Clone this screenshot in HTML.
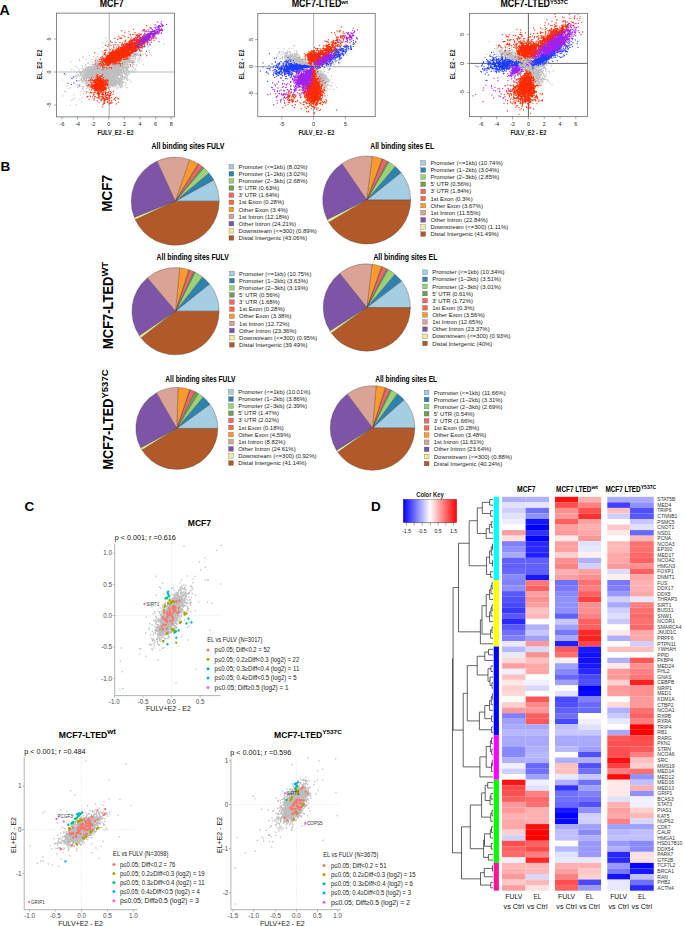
<!DOCTYPE html>
<html><head><meta charset="utf-8"><title>Figure</title>
<style>html,body{margin:0;padding:0;background:#fff;width:685px;height:926px;overflow:hidden}
svg text{font-family:"Liberation Sans",sans-serif}</style></head>
<body><svg width="685" height="926" viewBox="0 0 685 926" style="position:absolute;left:0;top:0;font-family:'Liberation Sans',sans-serif"><text x="-0.50" y="15.00" font-size="14.2" font-weight="bold" >A</text>
<text x="0.50" y="171.00" font-size="13.5" font-weight="bold" >B</text>
<text x="24.50" y="511.30" font-size="13.5" font-weight="bold" >C</text>
<text x="371.00" y="511.20" font-size="13.5" font-weight="bold" >D</text>
<line x1="109.20" y1="13.10" x2="109.20" y2="116.90" stroke="#bbb" stroke-width="1.2" />
<line x1="56.40" y1="72.00" x2="174.50" y2="72.00" stroke="#bbb" stroke-width="1.2" />
<path transform="scale(0.333333)" d="M401 104h0m-9 0h0m-36 13h0m19 8h0m3-6h0m10 0h0m9 2h0m2-2h0m3 3h0m1 0h0m1 1h0m6-1h0m7-6h0m0 8h0m8 1h0m1-12h0m0 9h0m8 2h0m6-4h0m4-6h0m2 27h0m-13 1h0m-2-13h0m-1 6h0m-2-8h0m-1 4h0m-4-3h0m-1 1h0m-2 4h0m0-6h0m-1 1h0m0 10h0m-1-11h0m-1 1h0m-2 6h0m-1 2h0m-3-9h0m-1 13h0m-1 2h0m-1-7h0m-1-5h0m-1 7h0m-1 0h0m-1 6h0m-2-2h0m0-2h0m-1 0h0m0-4h0m-2-3h0m-1 10h0m-1-8h0m-1-1h0m-2-1h0m0 4h0m0 4h0m0-1h0m0-11h0m-1 11h0m-1 3h0m-1-6h0m-2 7h0m-2-4h0m0-1h0m-1-1h0m-1 2h0m-1 4h0m-2-5h0m0-10h0m-1-2h0m0 17h0m-2-4h0m0-9h0m-1 11h0m-1-6h0m0 4h0m0 4h0m0-1h0m-1-2h0m0-8h0m-1 2h0m-1 0h0m0 5h0m-1-6h0m0 9h0m0-4h0m-2-1h0m0-11h0m-1 12h0m-2 3h0m0-4h0m-1 4h0m-1 0h0m0-1h0m0-10h0m-3 12h0m-1-2h0m-4-1h0m-3-4h0m-5 6h0m-1-1h0m-7 1h0m-11-5h0m-36 9h0m10 9h0m18 5h0m5-1h0m1-8h0m1-2h0m0 6h0m5 5h0m0-5h0m0-9h0m1 11h0m2 0h0m1 1h0m0 2h0m1-13h0m0 3h0m0 3h0m1-8h0m0 16h0m1-5h0m1-7h0m0 12h0m1-3h0m0-1h0m0 5h0m0-9h0m1 8h0m1 1h0m0-6h0m0-1h0m2-1h0m0-9h0m1 4h0m0 11h0m0-8h0m0 4h0m0-1h0m1 1h0m0 6h0m1 0h0m0-2h0m1-4h0m0 5h0m1-5h0m0-8h0m1 4h0m0 2h0m0-1h0m0-8h0m0 15h0m1-1h0m0 1h0m0 2h0m1-5h0m0 2h0m0 2h0m1-2h0m0-11h0m0 14h0m1-7h0m0-10h0m0 12h0m0 3h0m0 2h0m1 0h0m0-17h0m0 11h0m1 5h0m0 1h0m1-5h0m0 2h0m1 3h0m0-6h0m0-9h0m1 2h0m0 11h0m2-2h0m0-11h0m1 13h0m0 2h0m0-10h0m1 0h0m0 1h0m0 3h0m0 1h0m0-10h0m1 12h0m0 2h0m1-5h0m0-1h0m0 7h0m1-4h0m0-9h0m0 12h0m0-1h0m1-3h0m0-1h0m0 2h0m0-10h0m0 14h0m1-4h0m0 3h0m0 1h0m1 0h0m0-7h0m1-1h0m1 4h0m0-1h0m0-11h0m0 8h0m1-4h0m0 1h0m1 7h0m0-11h0m0 15h0m0-16h0m1 11h0m0 2h0m1-10h0m0 2h0m0 1h0m1 9h0m0-5h0m0-11h0m0 12h0m1-9h0m0 8h0m0 3h0m1-4h0m0 3h0m1-4h0m0 2h0m1-1h0m0 3h0m0 2h0m1-2h0m0 1h0m0-8h0m1 6h0m0-7h0m1 3h0m0-8h0m0 6h0m2 8h0m0-1h0m0-4h0m1 7h0m1-15h0m0 11h0m0 2h0m1-3h0m0-9h0m0 14h0m1-3h0m0-8h0m0 5h0m1 2h0m0-9h0m1 6h0m2-2h0m0 1h0m0 6h0m1-11h0m1 12h0m0-10h0m0 7h0m1-2h0m0 4h0m1 2h0m1-12h0m0 2h0m1 1h0m0-5h0m1 0h0m0 14h0m0-11h0m1 1h0m1 11h0m0-1h0m1-14h0m0-1h0m1 13h0m0-10h0m0 1h0m1 11h0m0-16h0m1 0h0m0 16h0m1-8h0m0-1h0m1-3h0m0-1h0m0 14h0m4-3h0m5-9h0m1 5h0m0 7h0m2-10h0m1 3h0m2-1h0m9 8h0m11-9h0m2 6h0m-11 13h0m-1-7h0m-8 0h0m-6 7h0m-1-6h0m-2-3h0m0 14h0m0-9h0m-1 0h0m-1 10h0m-1-13h0m-1 1h0m0 1h0m-3 10h0m-1-12h0m-1 3h0m-2-3h0m-1 1h0m-1 9h0m0-10h0m-1 13h0m0-9h0m-1 2h0m-1 8h0m-2-15h0m0 8h0m-1-4h0m-1 0h0m0 3h0m-1 1h0m0 2h0m0 3h0m-1-5h0m0-1h0m0-5h0m0 1h0m-3 9h0m0-9h0m0 3h0m-1-1h0m0-6h0m-1 4h0m-1 11h0m0-10h0m-1 2h0m0 2h0m0-8h0m-1 4h0m0 2h0m0-6h0m0 13h0m0-12h0m-1 0h0m0 2h0m0 3h0m0 9h0m0-10h0m-1 11h0m0-9h0m0 4h0m-1-12h0m0 2h0m0 11h0m0-6h0m-1 8h0m0-10h0m0 12h0m0-11h0m0 4h0m-1 3h0m0-9h0m0 13h0m0-10h0m0 3h0m0-10h0m-1 11h0m0-8h0m0 2h0m-2-2h0m0 12h0m0-10h0m-1 7h0m0 1h0m0-9h0m-1 4h0m0-8h0m-1 14h0m0-12h0m0 3h0m0 2h0m0 9h0m-1-6h0m0 2h0m0-1h0m0-10h0m0 14h0m0-1h0m0-8h0m-1 9h0m0-8h0m0-1h0m0 4h0m0-8h0m0 12h0m0-1h0m0-10h0m-1 6h0m0 3h0m0-11h0m0 1h0m0 3h0m0 9h0m0-10h0m0 2h0m-1 9h0m0-9h0m0 2h0m0 1h0m0 2h0m-1-9h0m0 13h0m0-8h0m0 9h0m0-16h0m0 12h0m0-11h0m0 13h0m0-1h0m-1-11h0m0 9h0m0 3h0m0-9h0m0-1h0m0 3h0m0 2h0m0-1h0m-1-6h0m0 6h0m0-7h0m0 12h0m-1 4h0m0-9h0m0-1h0m0 5h0m0-1h0m-1-2h0m0 2h0m0-10h0m0 6h0m0-7h0m-1 11h0m0 4h0m0-10h0m0-1h0m0 13h0m0-5h0m-1-1h0m0-8h0m0 12h0m0-11h0m0 12h0m-1-7h0m0 2h0m0-10h0m0 12h0m0-11h0m0 3h0m0 12h0m0-1h0m0-16h0m-1 0h0m0 12h0m0-10h0m0 3h0m-1 5h0m0-10h0m0 11h0m0-10h0m0 2h0m0 1h0m-1-3h0m0 13h0m0-11h0m0-1h0m0 14h0m0-8h0m-1 0h0m0-8h0m0 9h0m0-8h0m0 14h0m0-10h0m0 9h0m-1-5h0m0-4h0m0 11h0m-1-11h0m0 11h0m0-7h0m0-1h0m0 3h0m0 3h0m-1-7h0m0 9h0m0-8h0m0-6h0m0 11h0m0 2h0m-1-10h0m0 2h0m0 2h0m0 2h0m0-11h0m0 13h0m0-10h0m0 14h0m-1-12h0m0 12h0m0-11h0m0 4h0m0 1h0m0 2h0m-1-9h0m0 12h0m0-4h0m0 1h0m-1-2h0m0-8h0m0 12h0m0-10h0m0 2h0m0 9h0m0-7h0m-1-7h0m0 3h0m0 3h0m0 2h0m0-9h0m0 12h0m-1-1h0m0-1h0m0-8h0m0 2h0m0 12h0m0-7h0m-1 3h0m0-11h0m0 12h0m0 3h0m0-1h0m0-10h0m0 3h0m-1 4h0m0-11h0m0 13h0m0-9h0m0 1h0m0-7h0m-1 0h0m0 3h0m0 1h0m-1-3h0m0-1h0m0 13h0m0 4h0m0-9h0m0 1h0m-1 1h0m0 1h0m0-8h0m0 12h0m0-10h0m0 12h0m-1-9h0m0 4h0m0-9h0m0-1h0m0 5h0m-1-4h0m0 2h0m0 9h0m0 3h0m-1-10h0m0 3h0m0 3h0m0-10h0m-1 4h0m0 4h0m0 2h0m0 4h0m0-1h0m0-10h0m0 2h0m-1-3h0m0 1h0m0 4h0m0 2h0m-1-5h0m0 3h0m0-1h0m0 2h0m0 1h0m0 4h0m-1-14h0m0 12h0m0 3h0m0-1h0m0-7h0m-1 5h0m0 2h0m0-1h0m-1 2h0m0-5h0m-1-1h0m0 3h0m0-4h0m0 2h0m-1 2h0m0-7h0m0 6h0m0-10h0m0 9h0m-1-1h0m0-5h0m0 1h0m-1-4h0m0 13h0m0-9h0m0 2h0m-1 1h0m0-10h0m0 12h0m0 2h0m0 3h0m-1-14h0m0 12h0m0-11h0m-1-4h0m0 14h0m0-10h0m0 12h0m0-5h0m-1-2h0m-1-2h0m0 2h0m0-4h0m0 11h0m-1-16h0m0 13h0m0-8h0m-1 5h0m0 7h0m0-11h0m-1 11h0m-1-1h0m0-10h0m0 5h0m-1 6h0m0-8h0m0 4h0m0-1h0m0 3h0m-1-3h0m0 2h0m-1-1h0m-1 2h0m0-1h0m-1 2h0m0-3h0m-1-1h0m0 4h0m-1-1h0m0-1h0m0-10h0m0 2h0m0 4h0m-1 3h0m0-7h0m-1-2h0m0 1h0m-1 8h0m0 2h0m0-10h0m-1 8h0m0-10h0m0 14h0m-1-7h0m0 6h0m-1-7h0m0 4h0m-1 4h0m-1-8h0m0 3h0m-1 3h0m-2-3h0m0 5h0m0-4h0m-2-5h0m0 9h0m-2-8h0m0 6h0m-2-4h0m-1 1h0m0 1h0m-1 3h0m-6-1h0m-1-13h0m-5 15h0m-17 5h0m4 9h0m2 2h0m3-1h0m2-8h0m5-1h0m0 11h0m1-4h0m2-1h0m0-4h0m1-5h0m0 14h0m1-6h0m0 2h0m0-8h0m0 11h0m1-13h0m1 14h0m0 1h0m1-2h0m1-5h0m0 3h0m1-9h0m0 11h0m1-2h0m0-13h0m1 16h0m1-1h0m0-9h0m0 4h0m1-6h0m0 4h0m0 9h0m1-17h0m1 13h0m0 3h0m0-11h0m1-3h0m0 12h0m0-1h0m0 2h0m1-4h0m0-8h0m1 7h0m0 3h0m0 3h0m1-4h0m0 1h0m1-6h0m0 2h0m0 6h0m0-10h0m1 6h0m0-11h0m0 12h0m0-6h0m0 9h0m0 2h0m0-10h0m1 7h0m0-10h0m0 13h0m1-16h0m0 6h0m0 1h0m0 3h0m1 2h0m0-10h0m0 14h0m1-3h0m0 2h0m0-11h0m0-3h0m1 10h0m0 2h0m0 1h0m0-8h0m0 3h0m1 0h0m0-10h0m0 14h0m0-11h0m0 5h0m0 3h0m1-4h0m0 4h0m0-1h0m0-8h0m0 12h0m0-10h0m1-1h0m0 2h0m0 12h0m0-8h0m0-1h0m0 6h0m1 1h0m0 2h0m0-6h0m0-11h0m0 1h0m0 13h0m0-11h0m0 3h0m1 0h0m0 11h0m0-9h0m0 2h0m0 3h0m0-1h0m0-10h0m1 12h0m0 2h0m0-10h0m0-1h0m0 4h0m0-1h0m0 2h0m1-8h0m0 12h0m0-10h0m0 13h0m1-1h0m0-9h0m0-7h0m0 13h0m0-1h0m1-3h0m0 3h0m0-8h0m0-1h0m0 3h0m0 9h0m0 2h0m0-10h0m1 1h0m0-8h0m0 12h0m0-10h0m0-1h0m0 13h0m0-10h0m0-1h0m0 3h0m0 11h0m1-5h0m0-10h0m0 12h0m0-1h0m0-10h0m0 13h0m0-1h0m0-10h0m0 12h0m0-10h0m0 2h0m0-1h0m0-8h0m1 13h0m0-9h0m0-1h0m1 14h0m0-6h0m0-1h0m0 3h0m0 2h0m0-1h0m0 2h0m0-10h0m0 2h0m1 4h0m0-10h0m0 11h0m0-10h0m0 12h0m0-4h0m0-1h0m1 3h0m0-1h0m0-10h0m0 12h0m0 1h0m0-10h0m1 7h0m0-10h0m0 12h0m0-10h0m0 12h0m0-11h0m0 12h0m0-6h0m0-10h0m0 9h0m1 3h0m0 1h0m0-10h0m0 11h0m0-7h0m0 9h0m0-8h0m0 2h0m1 6h0m0-11h0m0 3h0m0-1h0m0 2h0m0-10h0m0 1h0m0 13h0m0-10h0m0 9h0m0-10h0m0 13h0m1-3h0m0-10h0m0 3h0m0-1h0m0 5h0m0 4h0m0-10h0m1-4h0m0 13h0m0-10h0m0-1h0m0 13h0m0 1h0m0-10h0m0 2h0m0-1h0m0 4h0m1 5h0m0-1h0m0-10h0m0 3h0m0 2h0m0-8h0m0 12h0m0-10h0m1-1h0m0 6h0m0-1h0m0-7h0m0 9h0m0-10h0m0 13h0m0-1h0m0-10h0m0 12h0m1-3h0m0-11h0m0 12h0m0-11h0m0 12h0m0-10h0m0 14h0m1-1h0m0-11h0m0 12h0m0-10h0m0 3h0m0-10h0m0 13h0m0-11h0m0 13h0m0-11h0m1 7h0m0-1h0m0-8h0m0-1h0m0 2h0m0 3h0m0 11h0m0-10h0m1 4h0m0-11h0m0 2h0m0-1h0m0 15h0m0-1h0m0-8h0m1 10h0m0-8h0m0 2h0m0-1h0m0 3h0m0-10h0m0 3h0m0-1h0m1 5h0m0-10h0m0 1h0m0 12h0m0 2h0m0-10h0m0 1h0m0 3h0m0 2h0m1-2h0m0 2h0m0-1h0m0 3h0m0-1h0m0-10h0m0 1h0m0 14h0m1-15h0m0 12h0m0-10h0m0 12h0m0-9h0m0 2h0m0-1h0m0 3h0m0 2h0m1-3h0m0-8h0m0 12h0m0-11h0m0 13h0m0-1h0m0 2h0m0-6h0m1-3h0m0-7h0m0 13h0m0-10h0m0 12h0m0-11h0m0 12h0m0-10h0m1-5h0m0 3h0m0 3h0m0 9h0m0-10h0m0 2h0m0 2h0m0-10h0m0-1h0m1 15h0m0-11h0m0 12h0m0-8h0m0 9h0m0-10h0m1-1h0m0 9h0m0-10h0m0 12h0m0-10h0m0 2h0m0 2h0m0-1h0m0 3h0m0-1h0m0-10h0m0 12h0m1-13h0m0 3h0m0 2h0m0 9h0m0-10h0m0 3h0m0 3h0m0-1h0m0 3h0m0-11h0m1 3h0m0 12h0m0-10h0m0 1h0m0 3h0m0-1h0m0 3h0m0-1h0m0-10h0m0 12h0m0-10h0m0-1h0m0 13h0m1-10h0m0 11h0m0-10h0m0 4h0m0 2h0m0-1h0m0-10h0m0 2h0m1 10h0m0-10h0m0-1h0m0 3h0m0 11h0m0-10h0m0 6h0m1-1h0m0-11h0m0 3h0m0-1h0m0 12h0m0 2h0m1-9h0m0-8h0m0 12h0m0 3h0m0-11h0m1 4h0m0-7h0m0 9h0m0-10h0m0 2h0m0 1h0m0 2h0m1 2h0m0 2h0m0 2h0m0 3h0m0-11h0m0 5h0m1-8h0m0 4h0m0 11h0m0-10h0m0 4h0m1 1h0m0-7h0m0-1h0m0 4h0m0-1h0m1 12h0m0-8h0m0-8h0m0 2h0m0 12h0m0-1h0m0-10h0m0 2h0m0 2h0m1 2h0m0-8h0m0 1h0m0 13h0m0-11h0m0 12h0m0-6h0m1-10h0m0-1h0m0 13h0m0 3h0m0-10h0m0 9h0m0-7h0m0 1h0m1 3h0m0 3h0m0 1h0m0-8h0m0-1h0m0 3h0m0 3h0m1 0h0m0-10h0m0 9h0m0-10h0m0 12h0m0-5h0m0-8h0m1 10h0m0-10h0m0-1h0m0 12h0m0-10h0m0 15h0m0-10h0m0 3h0m1 6h0m0-8h0m0-8h0m0 13h0m0-1h0m0-10h0m1 2h0m0-1h0m0 13h0m0-8h0m0 1h0m0 2h0m0-10h0m0 9h0m0-8h0m1-2h0m1 4h0m0 1h0m0 3h0m0 1h0m0-7h0m1 6h0m0 6h0m1-13h0m0 15h0m1-2h0m0 2h0m0-10h0m0 5h0m0 2h0m0 2h0m1-6h0m0 2h0m0-9h0m0 15h0m1-9h0m0 4h0m0-10h0m0 3h0m1-5h0m0 12h0m0-11h0m0 4h0m0 2h0m0 4h0m1-10h0m0 2h0m0 5h0m1 7h0m1-2h0m0-4h0m1-8h0m0 5h0m2 6h0m0-10h0m0 13h0m0-1h0m0-10h0m1 5h0m1-5h0m1 3h0m0-6h0m0 12h0m1-8h0m1-1h0m0 3h0m0-7h0m1 7h0m0-3h0m1-4h0m0 2h0m1 11h0m0 2h0m0-8h0m1-2h0m1 0h0m0-2h0m2 4h0m1 1h0m2 0h0m0-6h0m1 14h0m1-4h0m0-7h0m1-3h0m2 5h0m1-4h0m2 3h0m5 9h0m2-11h0m6 4h0m12 5h0m-23 14h0m-8-6h0m-1 11h0m-2-12h0m-3-1h0m-2-1h0m-3 5h0m-3-3h0m-2 3h0m0 4h0m-1-7h0m-1 9h0m-1-7h0m-1 11h0m0-6h0m0-6h0m-1 4h0m0-2h0m-1 4h0m-1-5h0m0-3h0m-1 12h0m0-10h0m0 3h0m-4-5h0m0 13h0m0-7h0m-1-5h0m0 9h0m0 4h0m0 2h0m-1-11h0m-1 0h0m0 3h0m0-9h0m0 3h0m-1 8h0m0-8h0m-1 12h0m0-5h0m0-9h0m-1 4h0m0 6h0m0-10h0m-2 14h0m0-1h0m0-11h0m-1 2h0m0 11h0m-1-14h0m0 11h0m0-3h0m-1-5h0m-1 9h0m0-4h0m-1-8h0m0 11h0m0-10h0m0 13h0m0-1h0m0-11h0m0 4h0m-1 3h0m0-6h0m0 2h0m0 2h0m0-9h0m0 2h0m-1 9h0m0 3h0m0 3h0m0-11h0m-1-3h0m0-1h0m0-2h0m0 9h0m-1-9h0m0 2h0m0 13h0m0 1h0m0-11h0m0-1h0m0 13h0m-1-7h0m0-4h0m-1 4h0m0 1h0m0 3h0m0-1h0m0-10h0m0 2h0m0-1h0m0 12h0m0-7h0m-1 1h0m0 1h0m0-10h0m-1 11h0m0-1h0m0-6h0m0-1h0m0 13h0m-1 0h0m0-11h0m0 3h0m0-9h0m0 12h0m0-9h0m-1 1h0m0-4h0m0 12h0m0-7h0m-1-2h0m0 2h0m0 2h0m0 9h0m0-10h0m0 3h0m0-9h0m0 2h0m0-1h0m0 13h0m-1-10h0m0 13h0m0-10h0m0 1h0m0 2h0m0-10h0m0 9h0m0-7h0m0 9h0m-1-4h0m0 9h0m0-6h0m0-7h0m0-1h0m-1 9h0m0-10h0m0 13h0m0-1h0m0 4h0m0-10h0m0-7h0m-1 2h0m0 3h0m0 9h0m0-4h0m0-10h0m0 1h0m-1 11h0m0 2h0m0-8h0m0 4h0m-1-9h0m0 14h0m0-11h0m0 13h0m0-10h0m0-1h0m0 2h0m0 2h0m0-1h0m-1-6h0m0 12h0m0-10h0m0 3h0m0 4h0m0-1h0m-1-10h0m0 15h0m0-11h0m0 12h0m0-10h0m-1 4h0m0-10h0m0 2h0m0 2h0m0 9h0m0-10h0m0 2h0m0 4h0m0-10h0m-1 8h0m0-6h0m0-1h0m0 2h0m0 12h0m0-10h0m0-1h0m0 3h0m0 9h0m0-10h0m0 3h0m-1 3h0m0-1h0m0-10h0m0 13h0m0-11h0m0 12h0m-1-8h0m0 2h0m0-1h0m0 3h0m0 1h0m0-10h0m0-1h0m0 13h0m0-11h0m0 13h0m-1-16h0m0 9h0m0-6h0m0 12h0m0-1h0m0-10h0m0 12h0m0-10h0m-1 6h0m0-1h0m0 2h0m0-11h0m0 3h0m0 9h0m0-10h0m0 13h0m0-11h0m0 2h0m-1 9h0m0-8h0m0 3h0m0-10h0m0 9h0m0-10h0m0 13h0m0-1h0m-1-7h0m0 4h0m0-1h0m0 2h0m0 3h0m0-11h0m0 2h0m-1 10h0m0 2h0m0-1h0m0-10h0m0 2h0m0 1h0m0 2h0m0-8h0m-1 11h0m0-10h0m0 13h0m0-10h0m0 9h0m0-8h0m0 2h0m0-1h0m0 4h0m0-10h0m0-1h0m0 3h0m-1-3h0m0 9h0m0 3h0m0-1h0m0-9h0m0 5h0m0 1h0m0-10h0m-1 11h0m0 2h0m0-10h0m0 2h0m0 2h0m0-7h0m0 2h0m-1 15h0m0-11h0m0 4h0m0-9h0m0-1h0m-1 12h0m0-1h0m0-10h0m0 13h0m0-1h0m0-11h0m0 13h0m0-10h0m0 12h0m0-9h0m0 2h0m0-10h0m-1 11h0m0 4h0m0-10h0m0 9h0m0-7h0m0-1h0m0-6h0m0 9h0m-1 1h0m0 2h0m0 2h0m0-1h0m0-10h0m0 4h0m0 2h0m-1 2h0m0-10h0m0-1h0m0 13h0m0-10h0m0 2h0m0 9h0m0-10h0m0 13h0m0-1h0m0-8h0m0 4h0m-1-12h0m0 9h0m0 3h0m0-10h0m0 9h0m0-10h0m0 2h0m0 2h0m0-1h0m0 12h0m-1-7h0m0 3h0m0-1h0m0-10h0m0 13h0m0-11h0m0 12h0m0-10h0m0 2h0m0-1h0m-1-6h0m0 9h0m0 3h0m0-1h0m0-10h0m0 2h0m0 12h0m0 2h0m0-1h0m0-10h0m0 2h0m-1 2h0m0 2h0m0-11h0m0 2h0m0 2h0m0-1h0m-1 6h0m0 2h0m0-1h0m0-9h0m0 3h0m0 1h0m-1-1h0m0 11h0m0-10h0m0 2h0m0 2h0m0-1h0m0-8h0m-1 7h0m0 2h0m0 2h0m0 2h0m0-11h0m-1 5h0m0 2h0m0 3h0m0-11h0m0 3h0m0 12h0m-1-2h0m0-10h0m0-1h0m0 12h0m0-8h0m0 2h0m0-1h0m0-6h0m-1 1h0m0 3h0m0 5h0m0-12h0m0 3h0m0 2h0m-1 9h0m0-1h0m0 2h0m0-11h0m0 3h0m0 5h0m0-10h0m-1 0h0m0 5h0m0-1h0m0-6h0m0 9h0m-1 2h0m0 3h0m0-11h0m0 5h0m0-8h0m-1 1h0m0 16h0m0-1h0m0-6h0m0 2h0m-1 3h0m0-10h0m0 9h0m0 2h0m0-10h0m0 5h0m-1 3h0m0 3h0m0-11h0m-1 5h0m0-10h0m0 12h0m0-10h0m0 11h0m0 3h0m0-9h0m0 2h0m-1-2h0m0-8h0m0 9h0m0-8h0m0 12h0m0-10h0m0 1h0m0 3h0m0-1h0m-1 5h0m0 3h0m0-8h0m0 2h0m-1-3h0m0 2h0m0-7h0m0 2h0m0 13h0m-1-5h0m0 1h0m0 2h0m0-8h0m0-1h0m0 13h0m-1-7h0m0-1h0m0 2h0m0 3h0m0-10h0m-1 13h0m0-17h0m0 12h0m0 2h0m0 1h0m0-10h0m-1 2h0m0 9h0m0-10h0m0 2h0m0 4h0m0-1h0m0 2h0m0-11h0m0 13h0m0 2h0m-1 0h0m0-11h0m0 6h0m0 1h0m-1-4h0m0-8h0m0-1h0m-1 9h0m0 2h0m0-11h0m0 13h0m0 2h0m0-1h0m0 3h0m-1-10h0m0 1h0m0 3h0m-1 2h0m0 2h0m0-1h0m0-6h0m0-8h0m0 11h0m-1-7h0m-1 0h0m0 6h0m0 2h0m0-1h0m-1-11h0m0 15h0m0-11h0m-1 10h0m0-12h0m0 15h0m-1-4h0m0 1h0m0 2h0m0-10h0m-1 1h0m0 3h0m0-1h0m0 3h0m0 1h0m0 1h0m-1 0h0m0-6h0m0-1h0m-1 0h0m0 5h0m-1 0h0m0 3h0m-1 2h0m0-7h0m0-10h0m-1 14h0m0 2h0m0-16h0m0 5h0m-1 3h0m0 2h0m-1-4h0m-1-1h0m0-2h0m0 9h0m0-10h0m-1 14h0m-1 1h0m0-1h0m0-5h0m-1 0h0m-1-10h0m0 15h0m-1-15h0m-1 9h0m0-6h0m-1 6h0m0-1h0m-1 8h0m0-1h0m-1-5h0m0 6h0m-1-7h0m-3-8h0m-1 5h0m0 6h0m-6-8h0m-3 8h0m-30 19h0m10-3h0m14 6h0m1-9h0m3-2h0m0 9h0m1-1h0m1-4h0m1-3h0m3 5h0m1 4h0m2-12h0m0 3h0m1 8h0m1-9h0m0 9h0m1-13h0m2 14h0m1-13h0m0 13h0m0-7h0m0-9h0m0 12h0m3-5h0m0 1h0m0 2h0m3 7h0m0-6h0m0-1h0m0-10h0m0 1h0m1 5h0m0-1h0m0 8h0m1-8h0m0 12h0m1-14h0m0 4h0m0 2h0m0 2h0m0-10h0m0 9h0m0-10h0m0 12h0m1 0h0m0 2h0m0-1h0m0-10h0m0 12h0m1-4h0m0-5h0m1 2h0m0-1h0m1 4h0m0-11h0m0 13h0m0-6h0m1 2h0m0 4h0m0-11h0m0 6h0m0-1h0m1 6h0m1-4h0m0 3h0m0-4h0m0-1h0m1 7h0m0 2h0m0-10h0m0 1h0m0 2h0m1 6h0m0-14h0m0-1h0m1 6h0m0 2h0m0-8h0m0 12h0m0-10h0m0 2h0m0 9h0m1 1h0m0-11h0m0 4h0m0-6h0m1 11h0m0-11h0m1 9h0m0-8h0m0-1h0m1 14h0m0 2h0m0-10h0m0 4h0m0-11h0m0 12h0m0-8h0m1 7h0m0-1h0m0-10h0m0 4h0m0-1h0m0 13h0m0-10h0m1 11h0m0-10h0m0 4h0m0-10h0m0-1h0m0 13h0m0-9h0m0 12h0m1-14h0m0 3h0m0 12h0m0-8h0m1-5h0m1 13h0m0-9h0m0-7h0m0 12h0m0-11h0m0 2h0m0-1h0m0 12h0m1-14h0m0 9h0m0 4h0m0-10h0m0-1h0m0 13h0m0-1h0m0-10h0m0 12h0m0-10h0m1 2h0m0 2h0m0-1h0m0-10h0m0 14h0m0-10h0m0-1h0m0 5h0m0 9h0m1-5h0m0-10h0m0 11h0m0-10h0m0 4h0m0 1h0m1-8h0m0 13h0m0-9h0m0 2h0m0-1h0m1 5h0m0-9h0m0-1h0m0 3h0m0 1h0m0 12h0m0-10h0m1-3h0m0 13h0m0-10h0m0 2h0m0-7h0m0 12h0m1 3h0m0-10h0m0 2h0m0 9h0m0-16h0m1 8h0m0 1h0m0-10h0m0 12h0m0-8h0m1 8h0m0-10h0m0 13h0m0-8h0m0 4h0m0-10h0m0-1h0m1 17h0m0-9h0m0-6h0m0 4h0m1 0h0m0 2h0m0 3h0m0-10h0m0 9h0m0-10h0m0 4h0m1-1h0m0 13h0m0-10h0m0 1h0m0 2h0m0-8h0m0 9h0m0 3h0m1-8h0m0 3h0m0-7h0m0 9h0m0 2h0m0-8h0m0 12h0m1 0h0m0-11h0m0 2h0m0 3h0m0 3h0m0-11h0m0 12h0m1-5h0m0-1h0m0-8h0m0 2h0m0 2h0m0-1h0m0 12h0m0 2h0m1-16h0m0-1h0m0 12h0m0-10h0m0 4h0m1-5h0m0 14h0m0-1h0m0 2h0m0-10h0m0 2h0m1 1h0m0 1h0m0-10h0m0 4h0m0 1h0m0 3h0m0-1h0m1 3h0m0-10h0m0 13h0m0-11h0m0 13h0m0-11h0m1-2h0m0 1h0m0 13h0m0-10h0m0 9h0m0-6h0m0-1h0m0 3h0m0-1h0m1 3h0m0-9h0m0-1h0m0 12h0m0-7h0m0-7h0m1 1h0m0 13h0m0-9h0m0 2h0m0-1h0m0 2h0m0-8h0m0-1h0m1 0h0m0 13h0m0-10h0m0 9h0m0-10h0m1-1h0m0 1h0m0 14h0m0-10h0m0 3h0m0 2h0m1-4h0m0 4h0m0-1h0m0 3h0m0 1h0m0-10h0m1 9h0m0-1h0m0 3h0m0-9h0m0-1h0m0 2h0m0 2h0m1 8h0m0-10h0m0 2h0m0-8h0m0 12h0m0-11h0m0 1h0m1 2h0m0 3h0m0 9h0m0-6h0m0 2h0m0-9h0m1 5h0m0 1h0m0-10h0m0 12h0m0-10h0m0-1h0m0 13h0m0-11h0m0 12h0m0 2h0m0-10h0m1 9h0m0-10h0m0 2h0m0-4h0m0 13h0m1-13h0m1 0h0m0 4h0m1-8h0m0 14h0m1-10h0m0 1h0m0 3h0m1 3h0m0-8h0m0 1h0m0 12h0m0-11h0m1-2h0m0 2h0m1 5h0m0-10h0m0 15h0m0-11h0m0-1h0m0 8h0m0-10h0m1 6h0m0 5h0m0-9h0m0-1h0m1 1h0m0 3h0m0-1h0m0 3h0m1-8h0m0 14h0m0-10h0m0 12h0m0-7h0m1-4h0m0 3h0m0 2h0m0-6h0m1 4h0m1 1h0m1-2h0m0-7h0m0 15h0m0-11h0m1 1h0m0-5h0m1 2h0m0 5h0m1 9h0m0-9h0m0 4h0m0-8h0m1 7h0m0-8h0m1-1h0m0 2h0m0 1h0m1-3h0m0 15h0m1-15h0m0-1h0m0 12h0m0 3h0m2-9h0m1 4h0m0-8h0m0 7h0m3 2h0m0-11h0m1 11h0m0-10h0m1 1h0m0 15h0m0-6h0m0-10h0m1 0h0m2 0h0m0 4h0m1 0h0m2 6h0m4-1h0m2-7h0m0 5h0m3 9h0m1-17h0m7 3h0m4 14h0m2-17h0m-23 18h0m-2 7h0m-3 2h0m-10-2h0m-2-3h0m-3-3h0m-1-1h0m0 1h0m-7 4h0m0-5h0m-1 7h0m0 6h0m-1-1h0m-1-5h0m0-1h0m-1-3h0m-2-2h0m0 3h0m0 2h0m-1 0h0m-1-3h0m0 7h0m-1-3h0m-1-7h0m0 16h0m0-11h0m0 3h0m-2 7h0m0-10h0m-1 1h0m0 2h0m0-7h0m-1 4h0m0 1h0m0 2h0m0-6h0m0 13h0m-1-6h0m-1-7h0m-1 15h0m-1-15h0m0 4h0m-1-6h0m0 2h0m-1 7h0m0-8h0m-1 6h0m0 2h0m0-1h0m-1-7h0m0 2h0m0-3h0m-1 0h0m0 14h0m0-10h0m0 11h0m0 2h0m-1-17h0m-1 8h0m-1-8h0m0 3h0m0 1h0m-1-2h0m0 9h0m0-5h0m-1-4h0m-1 2h0m-1 11h0m0-10h0m0-1h0m0 13h0m0-17h0m-1 4h0m0 3h0m0-1h0m0-4h0m0-1h0m-1 0h0m0 3h0m0 9h0m0 3h0m0-9h0m0-1h0m0 2h0m0-6h0m-1 15h0m0-17h0m0 11h0m-2 0h0m0-10h0m0 12h0m0-6h0m0-1h0m0 4h0m0-8h0m-1 2h0m0 13h0m0-9h0m0 3h0m-1-2h0m0-1h0m0-8h0m-1 0h0m0 2h0m-1 13h0m0-10h0m0 5h0m-3-2h0m-1 4h0m0-9h0m0 1h0m0 2h0m-1 1h0m0 3h0m0-9h0m-1 1h0m-1-2h0m0 11h0m0-10h0m0 3h0m0 4h0m-1 2h0m0-10h0m0 2h0m-1 1h0m0 14h0m-1-10h0m0 3h0m-1-9h0m0 12h0m0-11h0m-1 11h0m0-10h0m0 3h0m0 4h0m0-10h0m0 2h0m-1 12h0m0-1h0m-1-9h0m0 3h0m0 7h0m-1 1h0m0-5h0m-1-8h0m0 8h0m0-1h0m0 2h0m-1 0h0m0-10h0m0 6h0m-1-5h0m0 3h0m0 3h0m-1 4h0m-1-9h0m-1-2h0m0 2h0m0 3h0m-1 2h0m0 2h0m0-10h0m0 1h0m0 15h0m-1-4h0m0 3h0m-2-6h0m0-8h0m0 2h0m0 2h0m-1-2h0m-1 13h0m0-12h0m-1 13h0m-1-1h0m0-7h0m-1 1h0m0 2h0m-1 0h0m0-11h0m-1 6h0m-1 7h0m-1-14h0m0 9h0m-1 7h0m-1-16h0m0 11h0m-1-4h0m-1 1h0m0 7h0m-1-6h0m-2-3h0m-2 10h0m0-8h0m-1-8h0m0 3h0m-1 8h0m-3-8h0m-1 10h0m0-5h0m-2-2h0m-33 23h0m20-9h0m1 6h0m2 3h0m0-8h0m3 0h0m3-2h0m6 6h0m2 6h0m1-3h0m0 5h0m9-13h0m0 1h0m0-3h0m1 13h0m1-8h0m4-1h0m0 3h0m2-2h0m2 7h0m0 5h0m1-7h0m0-5h0m0 4h0m1 2h0m1 5h0m1-9h0m1-7h0m0 3h0m1 5h0m1-6h0m0 13h0m1-14h0m3 11h0m0-8h0m4 7h0m5-9h0m0-1h0m1 0h0m0-1h0m0 10h0m3-10h0m0 3h0m1-1h0m1 12h0m1-5h0m0 5h0m1-9h0m0-4h0m1 1h0m3 0h0m0 5h0m1 4h0m0-10h0m0 11h0m2-7h0m1 7h0m1-10h0m0 11h0m2-6h0m8-6h0m2 4h0m6-4h0m1 7h0m-23 13h0m-8-1h0m-2 2h0m-8-2h0m-1-2h0m-1 13h0m-10-10h0m-6 3h0m-2 0h0m-4 4h0m-1 1h0m-8 0h0m-9 4h0m-43-10h0m25 19h0" stroke="#BEBEBE" stroke-width="3.75" stroke-linecap="round" fill="none"/>
<path transform="scale(0.333333)" d="M365 177h0m-26 2h0m-10-5h0m-3-3h0m-2 1h0m-61 17h0m3 0h0m4 4h0m9-4h0m0 4h0m2 4h0m0-1h0m2 1h0m1-13h0m0 9h0m1 3h0m1-1h0m0 2h0m1-1h0m0-5h0m0-3h0m1 8h0m0-2h0m1 3h0m1-2h0m2 2h0m1-4h0m0 3h0m1-3h0m0 3h0m1-2h0m0-5h0m0 8h0m1-1h0m0-1h0m1 2h0m1 0h0m1-6h0m0 4h0m1-7h0m1 2h0m1 6h0m0-10h0m1-2h0m1 5h0m1 6h0m0 2h0m1-5h0m1 3h0m0-5h0m0 4h0m2-2h0m3 4h0m0-12h0m2 9h0m0 4h0m1-3h0m0-5h0m1 6h0m1-3h0m1 5h0m0-5h0m3 5h0m1 0h0m1-1h0m5 1h0m0-3h0m2-10h0m0 4h0m2 8h0m15-14h0m1 18h0m-12 13h0m-2-15h0m-1 1h0m-2 4h0m-1-2h0m-1 10h0m-1 3h0m-2-12h0m0-1h0m-1 8h0m-1-6h0m0 11h0m-2-10h0m0-1h0m0-5h0m-2 4h0m-1-1h0m-1 9h0m-1 5h0m0-14h0m0 11h0m-1-3h0m0-6h0m0-3h0m-1 4h0m0-5h0m0 9h0m0 4h0m-1-9h0m0 7h0m-1-10h0m0 9h0m0-11h0m0 3h0m-1 6h0m0-6h0m0 9h0m0-1h0m0-5h0m0 9h0m0-5h0m-1-6h0m-1 8h0m0 2h0m-1-6h0m0 4h0m0-1h0m-1 5h0m0-6h0m0-1h0m0-2h0m-1 5h0m0-5h0m0 9h0m0-14h0m0 4h0m-1 1h0m0-1h0m0 7h0m-1-7h0m0-5h0m-1 12h0m0-5h0m0 9h0m-1-1h0m0-10h0m-1-5h0m0 4h0m0 12h0m0-5h0m-1 1h0m0-5h0m0-5h0m0-1h0m-1 10h0m0-5h0m0-2h0m0 9h0m0-5h0m-1 4h0m0-6h0m0-5h0m0 9h0m0-5h0m0-5h0m0 9h0m0-5h0m-1 11h0m0-6h0m0-5h0m0 8h0m0-5h0m-1-6h0m0 9h0m0 4h0m0-6h0m0 8h0m-1-4h0m0-6h0m0 4h0m0-6h0m-1 2h0m0 6h0m0-5h0m-1 7h0m0-1h0m0-5h0m0-6h0m0 13h0m0-5h0m-1-2h0m0 3h0m0-5h0m0 8h0m0-14h0m0 4h0m-1 2h0m0 9h0m0-8h0m0 9h0m-1 0h0m0-11h0m-1 11h0m0-10h0m0 8h0m0-10h0m0 9h0m-1-13h0m0-1h0m0 3h0m0 9h0m0-5h0m-1 7h0m0-10h0m0 9h0m0-5h0m0 4h0m0 3h0m0-5h0m-1-7h0m0 9h0m0-1h0m0-5h0m0 8h0m0-6h0m0 9h0m-1-3h0m0-7h0m-1 6h0m0-1h0m0-2h0m-1-3h0m0-5h0m0 8h0m0 3h0m0 4h0m-1-16h0m0 4h0m0-2h0m0 9h0m0-1h0m-1-2h0m0 4h0m0-1h0m0-5h0m0 9h0m0-16h0m-1 16h0m0-5h0m0 4h0m0-6h0m0-6h0m0 9h0m-1-7h0m0 9h0m0-6h0m0 9h0m0-14h0m0 9h0m0 4h0m0-1h0m-1 2h0m0-11h0m0 4h0m0-5h0m0 4h0m-1-1h0m0 9h0m0-5h0m-1 2h0m0-5h0m0 4h0m0-2h0m0 4h0m-1 1h0m0-5h0m0-1h0m0-1h0m0-1h0m0 9h0m-1-2h0m0-5h0m0 4h0m0-6h0m0 4h0m0 4h0m-1-8h0m0-5h0m0 4h0m0 9h0m0-5h0m0-1h0m-1-5h0m0 8h0m-1-8h0m0 8h0m0 4h0m-1-3h0m0-5h0m0-5h0m0 11h0m-1-8h0m0 4h0m0 4h0m0-5h0m0 4h0m0-1h0m-1 1h0m0 3h0m0-15h0m-1 2h0m0 13h0m-1-7h0m0 4h0m0-11h0m0 14h0m-1-13h0m0 13h0m0-7h0m-1 4h0m0 3h0m-1-12h0m0 4h0m0-5h0m0 8h0m-1-3h0m0 8h0m0-1h0m-1-4h0m0-6h0m0 9h0m0-10h0m-2 12h0m0-7h0m-1-9h0m0 16h0m-1-14h0m0 9h0m0 3h0m-1-4h0m0 3h0m0-1h0m0-5h0m-2 2h0m-1 2h0m0 3h0m-2-8h0m-1 8h0m0-2h0m-1 2h0m-1-3h0m-1 5h0m-1-15h0m-1 6h0m-2 9h0m-5-7h0m-2 5h0m-6-9h0m-9 7h0m-3 20h0m11-13h0m1 13h0m0-6h0m3-9h0m0 8h0m1 4h0m5 0h0m0-7h0m0-5h0m1 3h0m1 2h0m0 4h0m0-2h0m1 2h0m1-7h0m0 4h0m1 0h0m0 10h0m1-3h0m0-13h0m1 9h0m0 4h0m0-5h0m1-1h0m1 8h0m0-1h0m1-13h0m0 13h0m0-6h0m0 9h0m0-14h0m0 13h0m2-8h0m0 4h0m1-11h0m0 8h0m0-1h0m0-6h0m0 9h0m2-2h0m0-1h0m0 9h0m0-6h0m1-6h0m0 8h0m1 3h0m0-14h0m0 11h0m1-3h0m0 3h0m0-5h0m0-5h0m0 4h0m1-4h0m0 12h0m0-10h0m1 6h0m1-2h0m0 2h0m1 5h0m0-5h0m0-5h0m0 4h0m0-10h0m1 5h0m0 2h0m0 8h0m1-6h0m0 8h0m0-5h0m0-10h0m0 4h0m1-3h0m0 3h0m0-5h0m0 9h0m0-10h0m1 10h0m0-10h0m0 9h0m0-5h0m0 2h0m1 1h0m0 9h0m0-1h0m0-15h0m0 3h0m1 0h0m0 13h0m0-14h0m0 12h0m0-5h0m0 4h0m0-5h0m1-7h0m0 12h0m0 4h0m0-15h0m1 0h0m0 13h0m0-14h0m0 9h0m0-5h0m0-5h0m0 9h0m0-5h0m1-4h0m0 11h0m0-1h0m1-2h0m0 9h0m0-14h0m0 9h0m0-5h0m0-5h0m1 1h0m0-1h0m0 9h0m0-6h0m0 9h0m0-6h0m1-3h0m0-2h0m0 12h0m1-10h0m0 9h0m0-11h0m1 9h0m0-11h0m0 9h0m0-1h0m0 4h0m1-13h0m0 17h0m0-14h0m0-1h0m0-1h0m1 16h0m0-10h0m0 9h0m0-7h0m0-5h0m1-1h0m0 13h0m0-14h0m0 8h0m0-6h0m1-3h0m0 4h0m0 4h0m0-6h0m0 8h0m1-4h0m0 9h0m0-15h0m0 3h0m1-4h0m0 7h0m0 4h0m1-2h0m1-8h0m0 3h0m1 6h0m0-10h0m0 3h0m0 4h0m1-3h0m0 4h0m0-5h0m1 4h0m0-1h0m0-1h0m0 8h0m1-13h0m0 4h0m0 8h0m1-10h0m0 4h0m0-5h0m0 4h0m1-5h0m0 3h0m0-2h0m1 0h0m0 3h0m0-1h0m0 9h0m1-4h0m0-7h0m0 9h0m1-1h0m0-5h0m0 12h0m1-10h0m0 4h0m0-6h0m0 4h0m0-6h0m1 6h0m0-7h0m0 9h0m0-10h0m1 7h0m0-1h0m1 2h0m0 4h0m1-6h0m0-1h0m0-5h0m0 9h0m0-5h0m0 4h0m1 5h0m0-10h0m0 8h0m0-5h0m1-4h0m1 13h0m1-2h0m0-10h0m0 3h0m2-6h0m0 6h0m1 7h0m1-8h0m1 3h0m0-5h0m0-2h0m1 7h0m1-8h0m1 8h0m2-6h0m2 1h0m0-1h0m1 7h0m2-2h0m2-5h0m7 6h0m3-4h0m2 2h0m-29 12h0m0 2h0m-20 2h0m-13-3h0m-1 3h0m0-3h0m-2-1h0m-2 0h0m-1 0h0m0 15h0m-2-1h0m-1-9h0m-4-4h0m-1 2h0m-1 2h0m-1-4h0m0 2h0m-2 1h0m-5 4h0m-1-7h0m-1 3h0m0-1h0m-3 3h0m-4 1h0m0 1h0m-3 2h0m-5-10h0m-12 2h0" stroke="#BEBEBE" stroke-width="3.75" stroke-linecap="round" fill="none"/>
<path transform="scale(0.333333)" d="M385 174h0m-65 20h0m15 1h0m4-5h0m1 7h0m7 0h0m5-9h0m3 9h0m11 0h0m1-2h0m6-3h0m36 6h0m-1 15h0m-5-4h0m-8 6h0m-2-6h0m-4 6h0m-3-13h0m0 11h0m-2-15h0m-1 13h0m-1-2h0m-1-4h0m-1 6h0m-4 3h0m-1-5h0m-2-4h0m-1-2h0m0 9h0m-1 2h0m0-10h0m0 11h0m-1-9h0m0 3h0m-2-5h0m0 4h0m-2-10h0m-2 13h0m-1-11h0m0 13h0m0-2h0m0 4h0m-1-6h0m-1-7h0m-1 4h0m0 9h0m-1-5h0m0 4h0m-1-11h0m-1 5h0m0-3h0m-1 8h0m0-14h0m-1 16h0m0-3h0m-1-3h0m0 3h0m0-2h0m0-5h0m0 9h0m-1-1h0m0-5h0m-1 3h0m0-1h0m-1 0h0m0 4h0m-1-3h0m0-5h0m0 2h0m0 4h0m-1 0h0m0-10h0m0 13h0m-1 0h0m0-10h0m0-1h0m-1-4h0m0 14h0m0-1h0m0-6h0m-1-1h0m-1 3h0m-1 4h0m0-14h0m0 12h0m0-10h0m-1 12h0m-1-2h0m0 1h0m-1-4h0m0 2h0m-1-3h0m0 6h0m0-1h0m-1-6h0m0-3h0m-1 10h0m-1-9h0m0 8h0m-1-5h0m0 8h0m-2-4h0m0-1h0m0 3h0m-2-5h0m-2 6h0m-1 0h0m0-1h0m-2 0h0m-1 2h0m-1-5h0m0 5h0m-1-1h0m-1-8h0m-1 6h0m0 3h0m-1-17h0m-1 12h0m0 3h0m0-14h0m0 13h0m-1 2h0m-1-2h0m-1 3h0m-2-12h0m-1 12h0m-2 0h0m0-12h0m-2 2h0m0 7h0m-5-11h0m-14 4h0m-1 8h0m-21-2h0m4 17h0m3 0h0m4-6h0m2-4h0m5 13h0m4 1h0m0-14h0m2 12h0m0 3h0m1-7h0m3 5h0m1-8h0m0-6h0m0 9h0m0 4h0m2-7h0m0 7h0m4 0h0m0-5h0m0-1h0m0 9h0m0-1h0m1-7h0m0-6h0m1 3h0m1 9h0m0-8h0m1 9h0m0-1h0m1-15h0m0 9h0m0-5h0m0 4h0m2 3h0m1-7h0m0-1h0m0 8h0m0-5h0m1 1h0m1-6h0m0 3h0m1 5h0m1 3h0m0-10h0m1 5h0m0 7h0m0-1h0m1-13h0m0 13h0m0 3h0m1-9h0m0 6h0m0-5h0m1 5h0m0 1h0m1 3h0m0-15h0m0 9h0m1-3h0m0 9h0m1-1h0m0-14h0m0 9h0m0-5h0m0-5h0m1 14h0m0-5h0m0 6h0m1-5h0m0-5h0m1 4h0m0-10h0m0 7h0m0-1h0m1 6h0m0-5h0m0 4h0m0-5h0m0 4h0m0-1h0m1-2h0m0-5h0m0 13h0m0-1h0m1 3h0m0-14h0m0-1h0m0 9h0m0-5h0m0-5h0m1 16h0m0-6h0m1 6h0m1-16h0m0 13h0m0-6h0m0-1h0m0-5h0m0 9h0m1 1h0m0 4h0m0-11h0m0 4h0m1 4h0m0 3h0m0-15h0m1 10h0m0-5h0m0-6h0m0 3h0m1 9h0m0-5h0m0 9h0m0-5h0m1 6h0m0-2h0m0-14h0m1 6h0m0 7h0m0-5h0m1-5h0m0 13h0m0-10h0m0 8h0m0-1h0m0-5h0m1 3h0m0-10h0m1 9h0m0-6h0m0 8h0m1-8h0m0 4h0m0-6h0m0 14h0m0-15h0m1 4h0m0 4h0m0-10h0m0 9h0m0 4h0m0-1h0m1 4h0m0-14h0m1 2h0m0 12h0m0-5h0m0 4h0m1 2h0m0-1h0m0-5h0m0 4h0m1-3h0m0-10h0m0 9h0m0-10h0m0 13h0m1 0h0m0-10h0m0 2h0m0 4h0m2-5h0m0 4h0m0 8h0m0-11h0m1-5h0m0 9h0m0-6h0m1 1h0m1 4h0m0-2h0m0 9h0m1-9h0m0-5h0m0 4h0m0 4h0m1-7h0m1 13h0m0-14h0m0 3h0m0-5h0m1 9h0m0-5h0m0 4h0m1 1h0m0-5h0m1-1h0m1 3h0m0-6h0m0 3h0m1 9h0m2-5h0m0 9h0m0-14h0m1 1h0m0 13h0m0-14h0m0-1h0m1 11h0m1 1h0m0-8h0m2 7h0m0 4h0m0-1h0m0-2h0m2-11h0m1 1h0m3 0h0m0 3h0m0 8h0m0 3h0m1 0h0m0-12h0m2-1h0m0 6h0m1-5h0m0 6h0m1 0h0m0-2h0m0-1h0m1 1h0m2-3h0m1 6h0m3-10h0m2 3h0m12-4h0m-12 23h0m-6 0h0m-2-1h0m-2 8h0m-4-10h0m0-3h0m-2 4h0m-5 0h0m0 8h0m-1-8h0m0 12h0m0-15h0m-2 1h0m-1 2h0m-1-1h0m-1 5h0m-1 2h0m-1 5h0m-2-12h0m-1 2h0m-1-5h0m-1 5h0m-2-2h0m0-3h0m-1 0h0m-3 8h0m-3-2h0m0-4h0m-2 7h0m0 4h0m-1-9h0m0-1h0m-1 8h0m0-10h0m-3 3h0m0 3h0m0-2h0m-1-4h0m-2 6h0m-1-1h0m0 4h0m-2-8h0m0 9h0m-1-10h0m-1 3h0m-1-3h0m0 4h0m0 3h0m-1-5h0m-1 2h0m0-5h0m-1 2h0m-1 0h0m0 12h0m-1 3h0m-1-17h0m0 4h0m-1-2h0m-1 10h0m0-10h0m-1 2h0m-1-1h0m0 9h0m0-11h0m0 3h0m-1-4h0m0 3h0m-1-1h0m-1 11h0m-1-3h0m-1-4h0m-1-4h0m-1 15h0m-1-15h0m0-1h0m0-1h0m0 4h0m-1-1h0m-1 10h0m0-3h0m-1-4h0m0-5h0m-1 0h0m-1 5h0m-1 3h0m-2-8h0m-3-1h0m-2 6h0m-1 6h0m-2-12h0m-10 5h0m-2 2h0m-2-7h0m-6 3h0m-16 2h0m36 21h0m1 6h0m6-14h0m5 9h0m15-5h0m19-4h0m19 0h0m18 0h0" stroke="#BEBEBE" stroke-width="3.75" stroke-linecap="round" fill="none"/>
<path transform="scale(0.333333)" d="M283 233h0m28 0h0m0-11h0m8 10h0m13-1h0m0-2h0m0-5h0m0 9h0m1-4h0m5 4h0m2-5h0m1 5h0m7-8h0m1 7h0m2 0h0m1-2h0m12 1h0m30 14h0m-11-5h0m-3-5h0m-8 11h0m-1 1h0m-2 2h0m-1 0h0m-1-2h0m-3-3h0m0-3h0m-1 1h0m0 3h0m-1 4h0m0-3h0m0-10h0m-1 13h0m0-2h0m0-5h0m0 4h0m-1 5h0m0-10h0m0 6h0m-1-2h0m0-5h0m0-5h0m0 2h0m0 13h0m-1-5h0m0 4h0m-1-10h0m0 4h0m-1 5h0m-1-10h0m0 12h0m0-1h0m-1-3h0m0 4h0m0-10h0m0 7h0m-1 1h0m0-1h0m0 4h0m0-14h0m0 9h0m-1-4h0m0-5h0m0 4h0m0-1h0m-1 0h0m0 2h0m0 9h0m0-14h0m0 8h0m-1-2h0m0 8h0m0-7h0m-1 3h0m0-5h0m0 4h0m0 3h0m-1-5h0m0-1h0m0 4h0m0-6h0m0-5h0m0 9h0m-1-2h0m0 3h0m0 4h0m0-1h0m-1 1h0m0-5h0m0-2h0m-1-3h0m0 4h0m0 4h0m0-10h0m0 9h0m0-5h0m0 9h0m-1 0h0m0-10h0m0 4h0m0 4h0m0-10h0m0-1h0m-1 11h0m0-15h0m0 9h0m0 4h0m0-5h0m0 4h0m-1-6h0m0 4h0m0-5h0m0 7h0m-1-4h0m0 9h0m0-5h0m0-2h0m0 4h0m0-5h0m-1 2h0m0-5h0m0 9h0m0-10h0m0 12h0m-1-9h0m0 9h0m0-5h0m0-10h0m0 9h0m0-2h0m0 6h0m0-10h0m0 9h0m-1-10h0m0 4h0m0 8h0m0-5h0m0 4h0m0-6h0m-1-3h0m0 9h0m0-10h0m0 9h0m0-5h0m0 4h0m0-6h0m0 9h0m0-5h0m-1 4h0m0-14h0m0 9h0m0 4h0m-1 1h0m0-6h0m-1 2h0m0 4h0m0-11h0m0 9h0m0 4h0m0-14h0m-1 1h0m0 9h0m0-5h0m0 2h0m0-5h0m-1 10h0m0-5h0m0 4h0m0-1h0m0-5h0m0 9h0m0-14h0m-1 2h0m0-5h0m0 4h0m0 9h0m0 4h0m0-5h0m0 4h0m0-5h0m-1 2h0m0 4h0m0-6h0m0 4h0m0-5h0m0 4h0m0-10h0m-1 7h0m0 4h0m0-10h0m0 2h0m-1 10h0m0-10h0m0 4h0m0-1h0m0 4h0m-1-2h0m0 2h0m0-5h0m0-5h0m0 4h0m0 9h0m-1-12h0m0 8h0m-1-6h0m0 4h0m0 4h0m0-5h0m0 4h0m-1-3h0m0-1h0m0-5h0m0 9h0m0-14h0m0 16h0m-1-1h0m0-5h0m0 3h0m0-5h0m0 4h0m0-1h0m0-5h0m-1 7h0m0-1h0m0 4h0m0-5h0m0 3h0m-1-9h0m0 8h0m0-6h0m-1 7h0m0-10h0m0 9h0m0-5h0m0-5h0m0 12h0m0-5h0m-1-2h0m0 8h0m0-11h0m0 4h0m0-5h0m0 9h0m-1-2h0m0 4h0m0-2h0m0-5h0m0 9h0m0-10h0m-1 3h0m-1-7h0m0 13h0m0-14h0m0 9h0m0-5h0m0-1h0m0 3h0m-1 7h0m0-1h0m0-10h0m0 8h0m-1 3h0m0-6h0m-1 4h0m0 4h0m-1-9h0m0-1h0m0 9h0m0-1h0m-1-2h0m0-5h0m0 9h0m0-8h0m-1 1h0m-1-10h0m0 9h0m0-5h0m0 9h0m0 4h0m0-2h0m0-5h0m-1 1h0m0-1h0m0 3h0m-2 0h0m0-5h0m0 3h0m0-1h0m-2 5h0m0 1h0m-2-4h0m-2-1h0m-1 0h0m-3 2h0m-2 2h0m-9-5h0m-1 0h0m-1-2h0m9 24h0m9-12h0m3 1h0m4-3h0m3 4h0m1 0h0m2-4h0m1 2h0m0 8h0m3-10h0m1 8h0m0-7h0m1 8h0m0-6h0m0 8h0m1-9h0m0 4h0m0-1h0m0 7h0m1-8h0m2 2h0m0-6h0m0 9h0m1-6h0m1-1h0m0 3h0m0 12h0m1-14h0m0-2h0m1 7h0m0-5h0m0 4h0m0-6h0m1 4h0m0-2h0m1-1h0m1 2h0m0 2h0m0-5h0m0 9h0m1-9h0m0 3h0m1 1h0m1 1h0m0-2h0m0-1h0m1 2h0m0-5h0m0 4h0m0-1h0m2 4h0m0-7h0m1 8h0m0-5h0m0 4h0m0-2h0m1-5h0m0 3h0m0 3h0m1-4h0m2-1h0m1 5h0m1 3h0m0-6h0m0-2h0m1-1h0m1 3h0m0 3h0m0-6h0m0 4h0m1-4h0m0 3h0m2 0h0m0-3h0m2 11h0m0 3h0m1-9h0m4-5h0m0 3h0m1-3h0m1 2h0m0 4h0m0-5h0m3 5h0m0-5h0m1 10h0m1-2h0m1-3h0m1-6h0m1 5h0m1 4h0m0-6h0m9 1h0m5 7h0" stroke="#BEBEBE" stroke-width="3.75" stroke-linecap="round" fill="none"/>
<path transform="scale(0.333333)" d="M447 87h0m-39 15h0m-10 3h0m-23-11h0m-57 20h0m14 7h0m10-6h0m32 9h0m0-16h0m9 5h0m5 0h0m0 11h0m3-16h0m4 3h0m2 3h0m9-4h0m22 11h0m63 10h0m-56 9h0m-2-7h0m-9 1h0m-4 8h0m-4-5h0m-7-4h0m-2-2h0m-15 12h0m-8-8h0m-7-6h0m-7 5h0m-11-6h0m-8 11h0m-8-10h0m-26 4h0m-9-4h0m0 13h0m0 17h0m2-4h0m6 2h0m17-3h0m9 3h0m2-7h0m1 11h0m7-8h0m12 6h0m22-14h0m21 10h0m48 12h0m-4-4h0m-33 8h0m-26-4h0m-2 6h0m-2-6h0m-9 2h0m0-7h0m-6 13h0m-1-3h0m-1 7h0m-1-2h0m-3-10h0m-4-5h0m-12 4h0m-1 4h0m-10-5h0m-1-3h0m-1 2h0m-2 11h0m0-12h0m-6 7h0m-2 5h0m-13-12h0m-4 3h0m-5-2h0m-13 7h0m-6 4h0m-6-5h0m-5 9h0m-8-12h0m-9 12h0m-10-6h0m0-3h0m-11 9h0m-25 6h0m26-4h0m9 16h0m9-3h0m0-1h0m34-5h0m2 2h0m8-9h0m5 2h0m3 5h0m0 1h0m5 0h0m4 3h0m0-7h0m3 8h0m2-1h0m1-2h0m2 3h0m0 2h0m0-12h0m3 6h0m1 1h0m1-7h0m3 1h0m8 1h0m7-5h0m1 0h0m1 0h0m1 0h0m1 17h0m7-11h0m5-6h0m7 13h0m15-5h0m3-8h0m4 0h0m1 2h0m4 10h0m3 2h0m13-12h0m9-1h0m-22 23h0m-19 6h0m-1-5h0m-7-7h0m-5 4h0m-6 5h0m0 8h0m-8-7h0m-2 0h0m-1-10h0m-4 6h0m-6 7h0m-1-9h0m-1-3h0m-10 3h0m-1-4h0m-2 7h0m-3-5h0m-1 6h0m-2 3h0m-10 3h0m-1 3h0m0-8h0m-2-1h0m-12-8h0m0 8h0m-1 8h0m-2-13h0m-7 1h0m-5-2h0m-3 11h0m-6-11h0m-5 15h0m-42-16h0m-11 10h0m-20 14h0m2 2h0m14 7h0m17-5h0m11-9h0m16 1h0m18-2h0m2-1h0m2 9h0m3 3h0m2-12h0m1 15h0m0-3h0m0 4h0m4-15h0m4 16h0m13-9h0m2 9h0m1-6h0m8 1h0m4-1h0m3-1h0m7 0h0m0-2h0m6 4h0m9-4h0m2-3h0m5 8h0m5-4h0m2-9h0m1 9h0m4 1h0m1 3h0m14 2h0m6-14h0m1 6h0m2-7h0m-11 18h0m-9 9h0m-6-8h0m-5 14h0m-12-13h0m-6 10h0m-11-1h0m-9-8h0m-2 0h0m-1 4h0m-9 9h0m-6-1h0m-9-12h0m-8 9h0m-1-5h0m-5 10h0m-5-14h0m-2 13h0m-9-15h0m-2 10h0m-3-1h0m-9-2h0m-31-6h0m-29 4h0m15 18h0m4 9h0m43-7h0m12-1h0m2 5h0m1-2h0m2-7h0m16 1h0m16 4h0m24-4h0m34 7h0m-15 8h0m-22-1h0m-21 11h0m-24-3h0m-5 8h0m0-6h0m-16-5h0m-12-1h0m-20 11h0m-27-10h0m-5 13h0m25 13h0m5-3h0m21 0h0m5 7h0m3-11h0m17-4h0m-36 24h0m-18 2h0" stroke="#BEBEBE" stroke-width="3.75" stroke-linecap="round" fill="none"/>
<path transform="scale(0.333333)" d="M484 85h0m3-10h0m-1 16h0m-23 9h0m-4-8h0m-4 4h0m-2 6h0m0-1h0m-1-5h0m-2 10h0m-4 0h0m-2-1h0m-3-1h0m-1 0h0m-1 3h0m-4-2h0m-1 0h0m-4 2h0m-7-3h0m-4 1h0m-32 20h0m2-3h0m3 1h0m1-4h0m0 4h0m1 2h0m1-3h0m1-1h0m1 3h0m2-1h0m0-3h0m0-1h0m2 1h0m1 1h0m0-1h0m1-4h0m1 4h0m1 3h0m0-1h0m0-6h0m1 2h0m0-1h0m0-5h0m1 10h0m1 1h0m1 0h0m0-6h0m1 5h0m0-5h0m0 8h0m0-1h0m0-5h0m1 5h0m0-12h0m0 9h0m0-5h0m1 4h0m0-1h0m0-6h0m1 10h0m0 1h0m1-4h0m0 3h0m1 1h0m0-5h0m1-11h0m0 11h0m1 2h0m0 4h0m0-5h0m0 4h0m0-14h0m0 13h0m0-1h0m0-10h0m1 9h0m0-10h0m0 8h0m1 4h0m0-14h0m0 13h0m0-1h0m1 4h0m0-5h0m0 2h0m1-5h0m0 4h0m0 4h0m0-6h0m1 0h0m0-2h0m0 4h0m1 0h0m0 4h0m0-10h0m0 9h0m0-1h0m1 0h0m1-9h0m0 3h0m0 4h0m1-5h0m0 9h0m0-6h0m1-6h0m0-1h0m0 9h0m0-6h0m0-1h0m1-3h0m0 9h0m0 4h0m0-14h0m0 9h0m0-5h0m0-5h0m0 13h0m1 3h0m1-6h0m0 3h0m1-12h0m1 8h0m0-6h0m0 4h0m0 4h0m1-6h0m0 9h0m0-6h0m1 8h0m1-14h0m0 8h0m0-5h0m1 0h0m0 4h0m0 4h0m1-1h0m1 1h0m0-5h0m0-1h0m1-7h0m0 9h0m1 7h0m1-10h0m0-5h0m0 9h0m0-2h0m0-5h0m0-1h0m1 10h0m0 4h0m0-14h0m1-2h0m2 8h0m0-7h0m1 3h0m1-4h0m0 3h0m1 10h0m2-11h0m0-3h0m4 8h0m5-7h0m1 7h0m1-4h0m1 2h0m-18 13h0m-1 8h0m-1-3h0m-6-4h0m-1-1h0m-1 2h0m-2 2h0m-1 0h0m0 9h0m-1-8h0m-1-2h0m-1 10h0m0-12h0m0-1h0m-1 0h0m0 4h0m0-2h0m-1 1h0m0-2h0m0 9h0m-1 2h0m0-5h0m0-5h0m-1 3h0m0 4h0m0-6h0m-1 4h0m0-5h0m0 2h0m-1-2h0m0 3h0m0 4h0m0-10h0m0 9h0m-1 7h0m0-10h0m0 4h0m0-5h0m0-2h0m-1 10h0m0-10h0m0 13h0m0-10h0m0 9h0m0-14h0m0 4h0m-1 1h0m0-5h0m0 3h0m0 13h0m0-14h0m-1 3h0m0-5h0m0 4h0m0-1h0m0 4h0m0-1h0m-1 1h0m0-5h0m0 4h0m0-5h0m0 13h0m0-15h0m-1 2h0m0 8h0m0-5h0m0-5h0m0 4h0m0 4h0m0-5h0m0 9h0m-1-9h0m0 9h0m0-1h0m0-5h0m0-5h0m0 13h0m-1-6h0m0 3h0m0-10h0m0 4h0m-1 1h0m0 4h0m0-10h0m0 13h0m-1 1h0m0-6h0m0 3h0m0-1h0m-1-3h0m0-5h0m0 14h0m0-6h0m0 4h0m0-14h0m-1 10h0m0-10h0m0 3h0m0 9h0m0-5h0m0-5h0m0 14h0m-1-7h0m0-1h0m0 9h0m0-10h0m0 9h0m0-5h0m0-5h0m0-5h0m-1 10h0m0 4h0m0-5h0m0-5h0m0 3h0m0 4h0m-1 2h0m0-1h0m0-5h0m0 9h0m0-15h0m0 9h0m0-5h0m0 9h0m0-5h0m0-5h0m-1-1h0m0 9h0m0-5h0m0-5h0m0 9h0m0-6h0m0 9h0m0-6h0m-1 2h0m0 4h0m0-1h0m0-1h0m-1-9h0m0 9h0m0 4h0m0-14h0m0 9h0m0 4h0m0-14h0m0 4h0m0-5h0m0 9h0m-1-7h0m0 4h0m0 4h0m0-5h0m0-5h0m0 8h0m0 4h0m0-5h0m0 9h0m-1-15h0m0 9h0m0-6h0m0 4h0m0 4h0m0-9h0m0 13h0m0-1h0m-1-2h0m0-1h0m0 3h0m0-5h0m0 4h0m-1-3h0m0-5h0m0 8h0m0-14h0m0 9h0m0 4h0m0-5h0m-1 6h0m0-10h0m0 9h0m0-5h0m0-5h0m0 9h0m0 3h0m0-14h0m0 9h0m-1 3h0m0-11h0m0 9h0m0-6h0m0 4h0m-1 7h0m0-6h0m0 4h0m0-5h0m0 4h0m0-5h0m0 4h0m0-10h0m-1 6h0m0-5h0m0 9h0m0-1h0m0-5h0m0 9h0m0-14h0m0 4h0m0 4h0m0-5h0m-1 3h0m0 4h0m0 4h0m0-1h0m0-5h0m0 4h0m0-10h0m0 9h0m-1 3h0m0-15h0m0 9h0m0-6h0m0 9h0m0-5h0m0 9h0m-1-3h0m0-5h0m0 4h0m0 4h0m0-5h0m0 4h0m0-14h0m0 13h0m0-5h0m-1 2h0m0-1h0m0-10h0m0 8h0m0-5h0m0 13h0m-1-6h0m0 4h0m0-10h0m0 9h0m0-5h0m0 4h0m0 4h0m0-14h0m-1 6h0m0 4h0m0 4h0m0-10h0m0 8h0m0-5h0m0-5h0m-1 7h0m0 4h0m0-10h0m0 3h0m0-6h0m-1 11h0m0-1h0m0-5h0m0 4h0m0 4h0m0-1h0m0-14h0m0 9h0m-1 7h0m0-10h0m0-5h0m0 13h0m-1-13h0m0 13h0m0-1h0m0-6h0m0 9h0m-1-3h0m0-5h0m0-1h0m0 9h0m0-2h0m-1-7h0m0 9h0m0-5h0m0 4h0m0-1h0m0-1h0m-1-7h0m0 4h0m0 4h0m0-10h0m0 9h0m0 3h0m0-5h0m-1 5h0m0-1h0m-1-9h0m0 4h0m0 6h0m0-5h0m-1-2h0m0 1h0m0 6h0m-1-3h0m0-5h0m0-5h0m0 9h0m0-1h0m0 4h0m0-1h0m-1 1h0m0-1h0m0-5h0m0 4h0m0 3h0m-2-1h0m0-5h0m0-2h0m-1 6h0m0-5h0m0-1h0m0 8h0m-1 0h0m0-1h0m-2-2h0m0-1h0m0 4h0m-1-4h0m0 4h0m0-5h0m0-5h0m-1 6h0m0-5h0m-1 9h0m-2-11h0m0 8h0m-2-7h0m0 3h0m0 7h0m-8-2h0m-20 11h0m4 3h0m2 3h0m2 1h0m1-7h0m0 7h0m1 0h0m0-6h0m0 4h0m0-5h0m1 5h0m0 4h0m0-2h0m1 2h0m0-5h0m1 2h0m0-2h0m1-2h0m0 4h0m1 0h0m0 1h0m1-13h0m0 7h0m0 4h0m1 0h0m0-12h0m1 14h0m0-5h0m0 3h0m0-1h0m1-4h0m0 9h0m0-5h0m0 3h0m0-5h0m1-7h0m0 13h0m0-1h0m1-5h0m0 4h0m0-10h0m0 8h0m0-5h0m0 9h0m1 1h0m0-6h0m0 3h0m1 0h0m0-5h0m0 4h0m0 4h0m0-10h0m0-1h0m1-1h0m0 9h0m0-5h0m0 4h0m0-5h0m0-5h0m0 13h0m0-14h0m0 9h0m1 2h0m0-5h0m0 8h0m0-1h0m0-14h0m0 9h0m0-5h0m0 9h0m0-14h0m0 9h0m1 4h0m0 4h0m0-6h0m1-9h0m0 13h0m0-1h0m0-14h0m0 9h0m0-5h0m0 4h0m0 9h0m0-10h0m1 1h0m0 9h0m0-14h0m0 4h0m0-5h0m0 4h0m0 9h0m0-10h0m0 9h0m0-5h0m0-5h0m1 10h0m0-14h0m0 4h0m0 9h0m0 4h0m0-5h0m0 4h0m0-5h0m0-5h0m1 6h0m0-5h0m0 4h0m0-5h0m0 9h0m0-10h0m0 9h0m1-13h0m0 4h0m0-1h0m0 13h0m0-5h0m0-1h0m0-9h0m0 13h0m1-5h0m0-5h0m0 4h0m0-8h0m0 7h0m0 9h0m0-5h0m0 4h0m0-10h0m1 2h0m0-1h0m0 9h0m0-14h0m0 9h0m0-5h0m0-5h0m0 9h0m0 4h0m0-14h0m1 1h0m0 9h0m0-5h0m0 8h0m0-5h0m0 8h0m0-14h0m0 9h0m1-4h0m0 4h0m0-5h0m0-5h0m0 13h0m0-5h0m0 4h0m0 4h0m0-14h0m0 9h0m1 5h0m0-14h0m0 9h0m0-5h0m0-1h0m0-5h0m0 4h0m0 9h0m0-14h0m0 8h0m1 7h0m0-14h0m0 4h0m0 9h0m0-5h0m0-5h0m0 4h0m0 9h0m0-5h0m0-5h0m0-5h0m0 9h0m0-5h0m1 2h0m0 9h0m0-14h0m0 9h0m0-10h0m0 9h0m0-5h0m0-5h0m0-1h0m0 9h0m0-5h0m1 0h0m0 9h0m0-5h0m0-5h0m0 4h0m0 9h0m0-10h0m0-5h0m0 9h0m0-5h0m0 9h0m0-14h0m0 9h0m1 1h0m0-5h0m0 9h0m0-1h0m0-6h0m0 9h0m0-10h0m1 7h0m0-5h0m0 4h0m0-5h0m0 4h0m0-1h0m0-5h0m0 4h0m0-5h0m1-3h0m0 4h0m0-5h0m0 9h0m0 8h0m0-14h0m0 9h0m0 4h0m0-14h0m0 9h0m1-9h0m0 9h0m0-5h0m0 9h0m0-15h0m0 4h0m0 9h0m0-5h0m0-1h0m1 1h0m0 4h0m0-5h0m0-5h0m0 9h0m0-5h0m0 9h0m0-10h0m0 4h0m0-5h0m0 9h0m1 2h0m0-11h0m0 4h0m0-5h0m0 4h0m0 9h0m0-14h0m0 4h0m1 10h0m0-10h0m0-5h0m0 9h0m0-5h0m0 12h0m1-4h0m0-10h0m0 9h0m0-5h0m0-5h0m0 9h0m0-5h0m0-5h0m1 0h0m0 4h0m0-5h0m0 13h0m0-10h0m0 9h0m0-5h0m0 9h0m0-14h0m1 5h0m0-5h0m0 9h0m0-10h0m0 4h0m0-5h0m0 9h0m1-4h0m0 4h0m0-5h0m0 9h0m0-5h0m0-5h0m0 4h0m0-6h0m0 14h0m1-15h0m0 9h0m0-1h0m0-5h0m0 4h0m1 1h0m0-5h0m0 4h0m0 9h0m0-14h0m0 4h0m0 9h0m0-14h0m0 4h0m0-5h0m1 1h0m0 4h0m0 9h0m0-14h0m0 13h0m0-5h0m0-5h0m0 12h0m1-13h0m0 13h0m0-10h0m0 9h0m0-6h0m0-5h0m1 0h0m0-2h0m0-1h0m0 13h0m0-5h0m1-7h0m0-1h0m0 13h0m0-10h0m0 4h0m1-4h0m0 9h0m0-5h0m0 3h0m0-6h0m0 4h0m1 0h0m0-5h0m0 4h0m0 9h0m0-14h0m0 9h0m0-5h0m0 4h0m1 5h0m0-15h0m0 4h0m0 3h0m0-5h0m1 1h0m0 9h0m0-5h0m0 4h0m0-7h0m1 10h0m0-6h0m0-6h0m0-1h0m0 5h0m1-5h0m0 1h0m1 1h0m0 9h0m0-10h0m0 4h0m0-1h0m0 4h0m0-5h0m1-3h0m0 4h0m0 2h0m1-6h0m1 10h0m0-10h0m0 8h0m0-5h0m1-3h0m0 4h0m0-1h0m0-1h0m0 4h0m1-5h0m0-2h0m1 0h0m1 5h0m0 4h0m0-8h0m1 2h0m0-3h0m0 4h0m1 5h0m0-6h0m2 4h0m3-7h0m1 0h0m0 2h0m0-1h0m2 2h0m-26 16h0m0-1h0m-1 2h0m0 4h0m-3-1h0m0-5h0m0 3h0m-3-1h0m0 9h0m-1-5h0m0-1h0m0-2h0m-1 5h0m0-5h0m-2 2h0m0-5h0m0 13h0m-1-12h0m0 13h0m0-11h0m-1 1h0m0-1h0m0 9h0m0-5h0m0-1h0m0-1h0m0-5h0m-2 4h0m0 2h0m0-5h0m-1 7h0m0-6h0m0-1h0m0-1h0m-1 2h0m0 4h0m0-6h0m-1 4h0m0-2h0m0-1h0m-1 5h0m0-1h0m-1 1h0m0-5h0m0 4h0m0 4h0m0-7h0m-1 1h0m0 4h0m0-5h0m0-2h0m-1 2h0m0-2h0m-1 5h0m0-5h0m0 8h0m0-5h0m0-1h0m0 4h0m-1-3h0m0-1h0m0 8h0m0-5h0m-1-4h0m0 3h0m-1-1h0m0-1h0m0-1h0m0 9h0m0 4h0m-1-8h0m0-5h0m0 4h0m-1-3h0m0 4h0m0-5h0m0 4h0m0 7h0m-1-8h0m0-1h0m0 13h0m0-14h0m0 8h0m-1 1h0m0-10h0m0 4h0m0 9h0m0-12h0m-1 10h0m0 3h0m0-5h0m-1-5h0m0 4h0m0-7h0m0 9h0m0-5h0m-1-4h0m0 3h0m0 4h0m0-5h0m0 4h0m0 4h0m-1-8h0m0 4h0m0-5h0m0 4h0m0 9h0m0-14h0m0 4h0m0-1h0m-1 3h0m0 7h0m0-5h0m0-6h0m-1 3h0m0 3h0m0-10h0m-1 2h0m0 9h0m-1 5h0m0-6h0m0-10h0m0 9h0m0-1h0m0-5h0m-1-2h0m0 9h0m0-10h0m0 8h0m0 4h0m0-5h0m0-5h0m0 4h0m-1 8h0m0-14h0m0 8h0m0-5h0m0-1h0m0 9h0m0 4h0m-1-1h0m0-10h0m-1 1h0m0-5h0m0 4h0m0-1h0m0 9h0m0 4h0m0-6h0m-1 3h0m0 4h0m0-14h0m0 7h0m0-10h0m0 14h0m-1 2h0m0-14h0m0 4h0m0 9h0m0-1h0m0-11h0m0 9h0m-1-12h0m0 8h0m0 9h0m0-14h0m0 4h0m0-5h0m0 4h0m-1 6h0m0 4h0m0-14h0m0 9h0m0-5h0m0-1h0m0 9h0m-1-12h0m0 8h0m0 4h0m0-5h0m0 4h0m0-10h0m-1-3h0m0 7h0m0 3h0m-1-3h0m0-1h0m0-1h0m-1 0h0m0 2h0m0 8h0m-1-6h0m0-5h0m0 9h0m0-5h0m0 9h0m0-15h0m0 8h0m-1 6h0m0-5h0m0-5h0m0 8h0m0 3h0m-1-3h0m0-1h0m0-2h0m0 4h0m-1-11h0m0 1h0m0 4h0m-1-3h0m0-5h0m0 3h0m0 9h0m0 4h0m-1-3h0m-1-8h0m0 9h0m0-2h0m-1 2h0m0-7h0m0 4h0m0-1h0m-1-2h0m0-7h0m-1 6h0m0 4h0m-1-11h0m0 4h0m0 9h0m0-6h0m-1 7h0m-1-4h0m0 6h0m-1-13h0m0 13h0m0-2h0m-1 0h0m-2-1h0m0-4h0m-1-2h0m-1 0h0m-1 6h0m-2-4h0m-2 6h0m-6 1h0m-13-1h0m-1 14h0m7 1h0m2 2h0m2-9h0m1-3h0m2 11h0m2 1h0m1-13h0m2 0h0m0 4h0m1 6h0m2-8h0m2 6h0m0-5h0m0-3h0m0-1h0m1 13h0m1-11h0m0-2h0m0 7h0m3-5h0m1 2h0m0-3h0m0 4h0m1 6h0m0-1h0m0-11h0m1 0h0m0 7h0m0-6h0m1 4h0m0 4h0m0-5h0m1 7h0m0-10h0m1 2h0m1-2h0m0 4h0m1-3h0m1 3h0m0-4h0m4 2h0m0-3h0m1 1h0m1 0h0m3-1h0m0 9h0m1-4h0m0-5h0m1 1h0m1 2h0m2 0h0m2-2h0m6 0h0m4 0h0m-52 20h0m0 3h0m-8-6h0m-8 7h0" stroke="#FF2A00" stroke-width="3.75" stroke-linecap="round" fill="none"/>
<path transform="scale(0.333333)" d="M367 143h0m-6 0h0m-46 16h0m12 1h0m0-2h0m1 3h0m4 0h0m1-3h0m2 2h0m1-4h0m0 4h0m1-1h0m1-2h0m1 2h0m0-4h0m1 5h0m1-3h0m1-2h0m1 2h0m0 2h0m2-4h0m0 2h0m0 4h0m2-2h0m0 2h0m0-5h0m1 5h0m0-10h0m0 9h0m2 1h0m0-1h0m1-8h0m0 7h0m0-5h0m0-1h0m1 5h0m0-2h0m0 3h0m1 2h0m2-2h0m0 2h0m0-1h0m2 0h0m1-2h0m1-6h0m1 9h0m1-2h0m0-2h0m0-1h0m0 4h0m1 0h0m0-1h0m2-9h0m0 10h0m1-4h0m0 2h0m1 0h0m0-11h0m2 5h0m1 6h0m0 3h0m1-2h0m1-1h0m2-6h0m1 6h0m0-1h0m5 3h0m3-9h0m1 8h0m7 6h0m-2 1h0m-2-2h0m-9 14h0m0-15h0m-1 8h0m0-4h0m-1 1h0m-1 10h0m-1-5h0m-1-9h0m-1 2h0m0 8h0m0 4h0m-2-8h0m-1 3h0m-2-5h0m0-5h0m-1 3h0m-1 12h0m0-14h0m0 3h0m0 4h0m0-1h0m0 9h0m0-10h0m-1-5h0m0 8h0m0-1h0m0-6h0m-1 1h0m0 6h0m-1 6h0m0-1h0m0-12h0m0 9h0m-1-7h0m0 7h0m0-10h0m0 14h0m0-6h0m-1-5h0m0 9h0m0-14h0m0 7h0m0 4h0m0-10h0m-1 15h0m0-15h0m0 7h0m0-5h0m-1 11h0m0-5h0m0-5h0m0 3h0m0-5h0m0 13h0m0-15h0m-1 3h0m0 4h0m0 9h0m0-10h0m0 4h0m0 3h0m-1-1h0m0-10h0m0 9h0m0-5h0m0 9h0m0-1h0m0-6h0m0 9h0m0-14h0m-1 6h0m0-5h0m0 4h0m0 4h0m0-10h0m0 4h0m0 4h0m0-5h0m-1-3h0m0 9h0m0-5h0m0 9h0m0-5h0m0-5h0m0 9h0m0-10h0m0 8h0m-1-3h0m0-6h0m0 9h0m0-10h0m0 9h0m0-5h0m0 9h0m-1-15h0m0 13h0m0-1h0m0 4h0m0-14h0m0 13h0m0-5h0m-1 6h0m0-5h0m0-5h0m0-5h0m0 9h0m0-10h0m0 3h0m-1 11h0m0-5h0m0-5h0m0 9h0m0-5h0m0 9h0m0-5h0m0-5h0m0 4h0m-1-7h0m0 13h0m0-10h0m0 9h0m0-14h0m0 4h0m0 9h0m0-14h0m0 4h0m0-5h0m0 9h0m-1-2h0m0-5h0m0 9h0m0-6h0m0 8h0m0-10h0m0 9h0m-1 2h0m0 3h0m0-14h0m0 4h0m0 9h0m0-10h0m0-5h0m-1 1h0m0 9h0m0-1h0m0-10h0m0 9h0m0-1h0m-1 8h0m0-14h0m0 9h0m0 4h0m0-14h0m0 9h0m0-5h0m0-5h0m0 9h0m0-5h0m0 9h0m0-1h0m-1-7h0m0 9h0m0-5h0m0-5h0m0 9h0m0-10h0m0 14h0m0-1h0m0-5h0m0 4h0m0-5h0m-1-3h0m0-1h0m0 4h0m0 4h0m0-10h0m0 9h0m0-1h0m-1-2h0m0-1h0m0-5h0m0 8h0m0-6h0m-1 3h0m0 4h0m0-6h0m0 9h0m0-5h0m0-10h0m0 9h0m0 4h0m-1-12h0m0 9h0m0-5h0m0 9h0m0-14h0m0 9h0m0 4h0m0-5h0m0-5h0m0 9h0m0-10h0m0 9h0m-1-7h0m0 9h0m0-1h0m0-5h0m0 9h0m0-14h0m0 9h0m0-5h0m0 9h0m0-14h0m0 4h0m0 9h0m0-14h0m0 9h0m-1-6h0m0 9h0m0-5h0m0 4h0m0-1h0m0-1h0m0-5h0m0 4h0m-1 7h0m0-14h0m0-1h0m0 13h0m0-5h0m0 4h0m0-5h0m0 9h0m-1-13h0m0 9h0m0-1h0m0 3h0m0-14h0m0 13h0m-1-2h0m0-5h0m0 3h0m0 4h0m0-5h0m0 8h0m-1-2h0m0-5h0m0 4h0m0-5h0m0-1h0m0 9h0m0-1h0m0-14h0m-1 12h0m0-1h0m0-5h0m0 9h0m0-1h0m0-5h0m0-5h0m-1 10h0m0-5h0m0-1h0m0 4h0m0-14h0m0 9h0m0 4h0m0-5h0m0 9h0m0-5h0m-1-11h0m0 9h0m0-5h0m0 9h0m0-5h0m0-1h0m0 4h0m0 4h0m0-1h0m-1-6h0m0 3h0m0 4h0m0-1h0m0-5h0m-1-4h0m0 9h0m0-11h0m0 9h0m0 4h0m-1-8h0m0 4h0m0 4h0m0-1h0m0-5h0m0-5h0m-1 10h0m0-5h0m0-5h0m0 4h0m-1-4h0m0 4h0m0-5h0m0 4h0m0-5h0m-1 1h0m0 9h0m0-5h0m0 8h0m0-6h0m0 4h0m0-5h0m-1 1h0m0-5h0m0-2h0m0 13h0m-1-8h0m0 3h0m-1 1h0m0-10h0m0 9h0m0 3h0m-1 1h0m0-5h0m0 6h0m0-5h0m-1-3h0m0 4h0m0 4h0m0-10h0m0 8h0m-2 1h0m0-3h0m-1 0h0m-1 3h0m0-16h0m-3 17h0m0-17h0m0 13h0m-2 0h0m-3-1h0m0-5h0m-2 8h0m-4-4h0m-14 9h0m10 12h0m0-10h0m1 7h0m3-1h0m2-5h0m1 8h0m0-5h0m0-8h0m1 15h0m2-11h0m1 5h0m0-1h0m1-6h0m0-2h0m1 11h0m1-11h0m0 2h0m0 9h0m2-10h0m0 4h0m2 1h0m1 8h0m0-14h0m1 7h0m0-6h0m0 8h0m1-9h0m0 6h0m0-1h0m1 10h0m0-15h0m1 4h0m1 6h0m0-5h0m0 9h0m0-14h0m0 8h0m0-6h0m0 4h0m1-5h0m0 12h0m0-10h0m1 9h0m0-10h0m0-1h0m0 4h0m0-1h0m1-3h0m0 3h0m1-1h0m0 4h0m0 9h0m0-14h0m0 13h0m0-6h0m0-5h0m0 13h0m1 0h0m0-10h0m0 4h0m0-5h0m0-5h0m0 4h0m0 9h0m1-6h0m0-5h0m0 3h0m1 6h0m0-11h0m0 8h0m1-9h0m0 8h0m0 4h0m0-5h0m0-5h0m1 8h0m0-10h0m0 8h0m0-5h0m1 4h0m0 4h0m0-10h0m0 9h0m0-6h0m1-4h0m0 2h0m0-1h0m1 0h0m0 4h0m1 2h0m0-5h0m0-2h0m0 4h0m1-4h0m0 8h0m0-1h0m1-4h0m0-1h0m0-1h0m0-1h0m0 4h0m1 0h0m0 4h0m0-6h0m0 4h0m0-1h0m0-5h0m1 1h0m0 4h0m1-2h0m0 7h0m0-5h0m0-1h0m0 9h0m0-5h0m1-8h0m0 4h0m0-2h0m0 8h0m1-10h0m0 2h0m1 4h0m0-6h0m1 0h0m2 8h0m0-6h0m0 8h0m0-10h0m0 4h0m1-3h0m0 13h0m0-12h0m1-1h0m0 9h0m1-6h0m1 0h0m0 4h0m0-6h0m1 5h0m0-5h0m0 4h0m0-2h0m1 6h0m0-1h0m2-6h0m2 9h0m0-12h0m1 3h0m0-1h0m1-2h0m0 3h0m0 3h0m1 4h0m3 7h0m0-5h0m0-9h0m-32 20h0m-8 4h0m-8-5h0m-6-3h0m-15-1h0" stroke="#FF2A00" stroke-width="3.75" stroke-linecap="round" fill="none"/>
<path transform="scale(0.333333)" d="M401 88h0m32 1h0m7-12h0m4 12h0m6-6h0m3 1h0m30 5h0m-14 13h0m-8 5h0m-20-12h0m-7-2h0m-8 0h0m-2 9h0m-3 1h0m-3 4h0m-1-7h0m-2 6h0m-4 0h0m-2 0h0m-1-3h0m-3-5h0m-6 5h0m-8 0h0m-4-8h0m-12 3h0m-6 9h0m-4-15h0m-33 33h0m13-10h0m8 3h0m3-9h0m3 5h0m3 1h0m1-1h0m2 1h0m10-5h0m1 11h0m0 3h0m9-12h0m3 12h0m5-8h0m0 8h0m15-12h0m1 2h0m1-2h0m3-2h0m2 10h0m1-12h0m1 1h0m4 3h0m7 12h0m13-9h0m0 8h0m6-11h0m6 10h0m9 0h0m1-13h0m-14 23h0m-16-2h0m-3 1h0m-4 4h0m-13 7h0m-2-7h0m-1-7h0m-3 1h0m-3 14h0m0-5h0m-1-1h0m-7-1h0m-1-2h0m-1-8h0m-1 4h0m-2 5h0m-2 0h0m-4-3h0m-1 1h0m-3 9h0m0-11h0m-1 12h0m0-3h0m-2-9h0m-1 12h0m-1-5h0m0 4h0m-2-12h0m-4 6h0m-1 2h0m-1 3h0m0-12h0m-3 13h0m-1 1h0m-4-16h0m-4 15h0m-2-7h0m-6-8h0m-1 7h0m-5 1h0m-1 6h0m-5-13h0m-3 8h0m-8-2h0m-2 5h0m-6-3h0m-33 22h0m30-6h0m2 5h0m1-6h0m3-1h0m11-1h0m0 9h0m2-1h0m4 3h0m1-10h0m1 8h0m1-5h0m2 5h0m5-4h0m1-7h0m1 9h0m0-7h0m0 5h0m4-6h0m0 11h0m3-7h0m0-3h0m0-1h0m3 2h0m3-3h0m1 11h0m2 2h0m1-6h0m3 1h0m7-3h0m0 8h0m4-11h0m2 7h0m0 4h0m0-12h0m0 2h0m14 10h0m6-7h0m10-4h0m6 0h0m4 4h0m1-9h0m18 22h0m-19 0h0m-39 11h0m-1-13h0m-2 11h0m-6-10h0m-16-1h0m-2 5h0m-17 3h0m-3 6h0m-4-4h0m-1 3h0m0-5h0m0-10h0m-6 5h0m-10-2h0m-1-2h0m-28 29h0m23 5h0m2-3h0m3-13h0m4 7h0m5-1h0m1 9h0m3-15h0m1 0h0m13-1h0m18 3h0m8 8h0m24 4h0m7-8h0m-63 18h0m-1-2h0m-16 0h0m-9 5h0" stroke="#FF2A00" stroke-width="3.75" stroke-linecap="round" fill="none"/>
<path transform="scale(0.333333)" d="M288 232h0m2-6h0m1 5h0m1-8h0m0 6h0m1-1h0m1 2h0m5-2h0m1 4h0m0-2h0m1 1h0m1-1h0m3-1h0m1-3h0m2-2h0m3 8h0m14 11h0m-2-2h0m0 9h0m-2-10h0m0 6h0m-2 5h0m0-11h0m0 9h0m0-5h0m0-5h0m-1 2h0m-2 7h0m-1 1h0m0-7h0m0 4h0m-1 3h0m0-1h0m-2 0h0m0-2h0m0 4h0m0-10h0m-1 5h0m0 4h0m0-5h0m0-1h0m-1 2h0m0-1h0m0 4h0m0-10h0m-1 6h0m-1 6h0m0-5h0m0 4h0m0-6h0m-1 6h0m0-14h0m0 16h0m0-5h0m-1 5h0m0-14h0m0 9h0m0-5h0m0 4h0m0 4h0m0-5h0m0 4h0m-1 2h0m0-5h0m0-2h0m0 4h0m0-1h0m-1-2h0m0 7h0m0-14h0m0 4h0m-1-3h0m0 9h0m0-10h0m0 9h0m0 3h0m0-1h0m-1-8h0m0 9h0m0-1h0m0-10h0m0 4h0m0 8h0m-1-15h0m0 9h0m0 4h0m0-10h0m0 4h0m0 9h0m0-5h0m0 4h0m-1 1h0m0-10h0m0-1h0m0 4h0m0-1h0m-1 2h0m0-5h0m0 9h0m0-5h0m0-5h0m0 4h0m0-1h0m0 9h0m0-5h0m0-5h0m0 9h0m-1-3h0m0 4h0m0-5h0m0 4h0m0-5h0m0-11h0m0 9h0m-1 1h0m0-5h0m0 9h0m0-5h0m0-5h0m0 9h0m-1 3h0m0-5h0m0-5h0m0 4h0m0 4h0m0-14h0m0 9h0m0 8h0m-1-13h0m0 9h0m0-5h0m0-1h0m0 9h0m0-14h0m0 9h0m0-5h0m0-5h0m0 9h0m0 4h0m-1-8h0m0 9h0m0-14h0m0 13h0m0-1h0m0-5h0m0 9h0m0-5h0m0-5h0m0 9h0m-1-2h0m0-6h0m0 9h0m0-10h0m0 9h0m-1 1h0m0-10h0m0 9h0m0-1h0m0-10h0m0-5h0m0 9h0m-1 7h0m0-8h0m0 9h0m0-5h0m0-10h0m-1 11h0m0 4h0m0-5h0m0 4h0m-1 1h0m0-2h0m0-10h0m0 9h0m0-10h0m0 9h0m-1-6h0m0-1h0m-1-2h0m0 9h0m0 4h0m0-5h0m0-5h0m0 9h0m0-10h0m0 9h0m-1 1h0m0-6h0m0 7h0m0-5h0m-1-6h0m0 4h0m0-1h0m0 7h0m-1-1h0m0-5h0m-1 1h0m0 4h0m0-6h0m0-1h0m-2 5h0m0-5h0m0 1h0m-1-1h0m-2-1h0m-1-2h0m0 2h0m-1 8h0m-1 1h0m0-2h0m0-14h0m-3 6h0m0-1h0m-1 7h0m-1-5h0m-4 0h0m-3 15h0m1 0h0m1 1h0m1-2h0m2 0h0m4 5h0m1 1h0m0-5h0m0-1h0m0 3h0m1 3h0m2-9h0m0 12h0m1-3h0m0-5h0m0 3h0m1-2h0m0 8h0m1-4h0m0-5h0m0 2h0m1-3h0m0-2h0m1 14h0m1-10h0m0 4h0m0 4h0m1-4h0m0 4h0m1-4h0m0 3h0m0-5h0m0-5h0m0 4h0m0-5h0m1 0h0m0 13h0m0-1h0m0 4h0m0-14h0m0 9h0m0-5h0m1 10h0m0-1h0m0-10h0m0-1h0m0-5h0m0 9h0m0-5h0m0-1h0m1 2h0m0 9h0m0-5h0m0 3h0m0-6h0m0 9h0m0-14h0m1 11h0m0 4h0m0-5h0m0-5h0m0-5h0m0 9h0m0-5h0m0 9h0m0-5h0m0-5h0m0 4h0m1-5h0m0-1h0m0 9h0m0-10h0m0 13h0m0-14h0m0 4h0m0 9h0m1 1h0m0-14h0m0 13h0m0-5h0m0-5h0m0 4h0m0-5h0m0 9h0m0-10h0m0 4h0m1 12h0m0-11h0m0-1h0m0 4h0m0-6h0m1-3h0m0 4h0m0 9h0m0-10h0m0 4h0m0-5h0m0 4h0m1-6h0m0 9h0m0 8h0m0-14h0m0 9h0m0-10h0m0 9h0m0-10h0m1 1h0m0 4h0m0 8h0m0-14h0m0 4h0m0-1h0m1-3h0m0 9h0m0-5h0m0 4h0m0-5h0m0 9h0m0 4h0m0-10h0m0-5h0m1 6h0m0 4h0m0-10h0m0 4h0m0 9h0m0-14h0m0 9h0m0-1h0m0-5h0m1 0h0m0 4h0m0-5h0m0 9h0m0-5h0m0 9h0m0-14h0m0 4h0m0-1h0m0 9h0m1-8h0m0 9h0m0-14h0m0 9h0m0-5h0m0 4h0m0 9h0m0-14h0m0 9h0m0-5h0m0-1h0m1-4h0m0 9h0m0-10h0m0 9h0m0-10h0m0 9h0m0 8h0m1-13h0m0 9h0m0-5h0m0 1h0m0-6h0m0 4h0m0 9h0m0-14h0m0 4h0m0-5h0m0 9h0m0-5h0m0 9h0m0-14h0m1 10h0m0-6h0m0 9h0m0-5h0m0-2h0m1-4h0m0 4h0m0-5h0m0 4h0m0-1h0m0 3h0m1 7h0m0-14h0m0 13h0m0-5h0m0 8h0m0-5h0m0-10h0m0 9h0m1-10h0m0 8h0m0 9h0m0-14h0m0 4h0m1-4h0m0-1h0m0 4h0m0 9h0m0-10h0m0-1h0m1 10h0m0-5h0m0-1h0m0 9h0m0-14h0m0 9h0m0-5h0m0-2h0m1 2h0m0-5h0m0 9h0m0-6h0m0-5h0m0 4h0m0-1h0m0 9h0m1-4h0m0-5h0m0 9h0m0-10h0m0 4h0m0-1h0m0-5h0m0 9h0m0-5h0m1-4h0m0 9h0m0 8h0m0-14h0m0 4h0m0-5h0m0-1h0m0 9h0m1-3h0m0 7h0m1-14h0m0 4h0m0 4h0m0 8h0m0-6h0m1-6h0m0 4h0m0-6h0m1 5h0m0 7h0m1-1h0m0 4h0m0-5h0m0-1h0m0-10h0m0 9h0m1-7h0m1 0h0m0 13h0m0-14h0m0-1h0m0 9h0m0-5h0m0 9h0m1-5h0m0-5h0m1 8h0m0-9h0m1 12h0m2-14h0m1 3h0m0-1h0m2-1h0m1 10h0m-7 8h0m-7 1h0m0 4h0m-2-7h0m-1 1h0m-1 6h0m-2-5h0m0 4h0m-2-3h0m-1-2h0m0-1h0m-2 6h0m-1 6h0m-1-9h0m-2-3h0m-1 6h0m-2-5h0m-1 6h0m-2-6h0m-1-1h0m-1 1h0m-2 5h0m-1-5h0m-2 1h0m-1 7h0m-7-9h0" stroke="#FF2A00" stroke-width="3.75" stroke-linecap="round" fill="none"/>
<path transform="scale(0.333333)" d="M276 260h0m12 9h0m8 0h0m1-3h0m43 9h0m-1 8h0m-5-6h0m-1 3h0m-1 6h0m0-5h0m-1 1h0m0-1h0m0-7h0m-1 9h0m-1 3h0m-4-10h0m0 2h0m0 9h0m-1-4h0m-2 2h0m0-2h0m-1-5h0m-1 9h0m-2-5h0m-1-5h0m0 5h0m-1 2h0m0-5h0m-1-3h0m0 11h0m-4-15h0m0 11h0m-2 4h0m0-5h0m-1 3h0m0-3h0m-1-2h0m-2 3h0m0-7h0m-4 2h0m-1-3h0m-2 6h0m-1 6h0m0-3h0m0-3h0m-1-2h0m0 8h0m0-5h0m-1-6h0m0 4h0m0 1h0m-1-5h0m0 9h0m0-5h0m-1-7h0m0 6h0m-2 2h0m-6-3h0m-3 5h0m-1 3h0m-2-7h0m-5-1h0m-3-1h0m-12-1h0m2 15h0m2-2h0m4 9h0m4-9h0m7 2h0m4 9h0m1-4h0m1-5h0m2-2h0m5 5h0m0-1h0m1 10h0m3-11h0m1-4h0m1 7h0m0-2h0m1-4h0m0 6h0m4-4h0m1 11h0m0-3h0m1-2h0m0-6h0m0 9h0m3-10h0m1 7h0m0-3h0m1-3h0m0 4h0m0-3h0m1 2h0m1 1h0m0 2h0m0-3h0m1 2h0m0 6h0m0 2h0m1-7h0m0-1h0m1 4h0m0 3h0m1-14h0m0 9h0m1 1h0m0-10h0m0 11h0m1-8h0m1 4h0m1-3h0m0-5h0m1 10h0m0-4h0m2 11h0m1-11h0m0 4h0m0-3h0m1 5h0m0-7h0m1 1h0m2 1h0m1 7h0m0-13h0m1 3h0m0-4h0m1 8h0m5 7h0m0-10h0m0 9h0m7-4h0m2-2h0m2-4h0m0 9h0m5-9h0m3 5h0m1-1h0m0 11h0m-6 5h0m-13-4h0m-1 1h0m-3 1h0m-1-2h0m-3 3h0m-1 1h0m-3-6h0m-1 1h0m-9 2h0m-1 1h0m-1-3h0m-2 5h0m-1 2h0m-1 7h0m-11-13h0" stroke="#FF2A00" stroke-width="3.75" stroke-linecap="round" fill="none"/>
<path transform="scale(0.333333)" d="M484 65h0m-30 21h0m3 3h0m10-4h0m1-2h0m0-5h0m1 10h0m1 1h0m1-1h0m2-7h0m1 6h0m1-4h0m0-5h0m0 11h0m2-8h0m1-5h0m0 9h0m0 4h0m2-8h0m2-2h0m0 10h0m3-16h0m1 4h0m0 2h0m1 10h0m3-12h0m10-3h0m-12 18h0m-4-1h0m-2 0h0m-3 1h0m-1 3h0m0-5h0m-2 12h0m-2 0h0m0-10h0m0 4h0m-1 5h0m0-7h0m-1 2h0m0 1h0m-1-3h0m-1 4h0m-2-5h0m-1 5h0m0 2h0m-1 3h0m0-5h0m0-5h0m0 9h0m0-5h0m-1 4h0m0 2h0m0-7h0m0 2h0m0 2h0m-1-1h0m0-7h0m-1 10h0m0-1h0m0-7h0m-1 7h0m0 2h0m0 4h0m0-16h0m-1 4h0m0 9h0m0 1h0m0-5h0m-1-5h0m-1 0h0m0-1h0m0 9h0m-1 1h0m0 2h0m0-5h0m0-5h0m-1 6h0m0-1h0m0-7h0m-1 2h0m0 8h0m-1-8h0m0 2h0m-1 4h0m0-3h0m0 6h0m-3-4h0m0 2h0m-1-8h0m0 6h0m0 2h0m0-5h0m-1 9h0m0-1h0m0-5h0m-1 3h0m0 2h0m0-1h0m-1-2h0m0 4h0m-1-7h0m0 2h0m0 4h0m0-12h0m0 11h0m-1-1h0m-1-3h0m-2 6h0m0-3h0m0-1h0m-3 3h0m-1-2h0m-24 18h0m1 3h0m3-5h0m3 2h0m1 2h0m1-3h0m1 4h0m1-4h0m1 4h0m1-5h0m0 2h0m0-1h0m2-6h0m0 2h0m0-3h0m1 10h0m1-9h0m0 6h0m0-7h0m0 2h0m1-8h0m0 9h0m0-7h0m0 13h0m0 2h0m0-12h0m1-4h0m0 9h0m2-10h0m1 1h0m0 14h0m0-5h0m1 6h0m0-10h0m0 2h0m0-7h0m1 5h0m0-5h0m0 9h0m0-5h0m0-3h0m1 12h0m0-7h0m0-5h0m0 2h0m1 5h0m0 2h0m0-7h0m1 8h0m0-3h0m0-3h0m1 0h0m0 4h0m0-8h0m1 8h0m1-10h0m0 13h0m0-5h0m1-6h0m0 8h0m0-7h0m1 4h0m1 4h0m0-10h0m1 1h0m0 2h0m1 4h0m0-8h0m0 2h0m1-1h0m0 12h0m1-9h0m0-3h0m1 1h0m1 8h0m0-7h0m2 4h0m2-2h0m0-3h0m3-2h0m5 0h0m-33 22h0m-4 2h0m-2-2h0m-2 6h0m-5-3h0m-3-2h0m0 2h0m-1-5h0m0-1h0m-4 8h0m-1-1h0m-1 4h0m-1-12h0m-5 14h0" stroke="#A020F0" stroke-width="3.75" stroke-linecap="round" fill="none"/>
<path transform="scale(0.333333)" d="M483 71h0m-10-5h0m-10 16h0m2-8h0m14 4h0m8 0h0m-3 22h0m0-1h0m-5 0h0m-4-2h0m-4-3h0m-1 4h0m-3 0h0m-4-3h0m-1 7h0m-2-2h0m-6-1h0m0-4h0m-9 7h0m-2 3h0m-3-12h0m-3 1h0m-2 5h0m-1 1h0m-2 3h0m-1-11h0m-1-2h0m-17 15h0m-2 1h0m-11 11h0m2 5h0m10-1h0m5-10h0m1 5h0m4-3h0m2 6h0m6 4h0m1 0h0m0-13h0m0 15h0m1-4h0m0 3h0m2-10h0m0 4h0m3-9h0m1 9h0m2-5h0m2-1h0m1 7h0m25-6h0m0 3h0m9 9h0m-23 2h0m-3 8h0m-7-8h0m-4-1h0m-6 10h0m-1-7h0m-4-2h0m0 5h0m-5 10h0m-2-7h0m-14 2h0m-18 2h0m-5-2h0m-2-1h0m-1 14h0m27-1h0m-5 15h0" stroke="#A020F0" stroke-width="3.75" stroke-linecap="round" fill="none"/>
<path transform="scale(0.333333)" d="M193 221h0m28 10h0m9 11h0m-8 7h0m-6-14h0m-12 15h0m10 3h0m25 5h0" stroke="#1E3CFF" stroke-width="3.75" stroke-linecap="round" fill="none"/>
<path transform="scale(0.333333)" d="M434 118h0m0 21h0m-5-13h0m-12 14h0m-1-6h0m-3 3h0m-6 17h0m11-1h0m9-9h0m13 10h0" stroke="#1E3CFF" stroke-width="3.75" stroke-linecap="round" fill="none"/>
<rect x="56.4" y="13.1" width="118.10" height="103.80" fill="none" stroke="#555" stroke-width="0.7"/>
<line x1="62.00" y1="116.90" x2="62.00" y2="119.50" stroke="#555" stroke-width="0.5" />
<text x="62.00" y="126.20" font-size="5.3" fill="#222" text-anchor="middle" >-6</text>
<line x1="77.60" y1="116.90" x2="77.60" y2="119.50" stroke="#555" stroke-width="0.5" />
<text x="77.60" y="126.20" font-size="5.3" fill="#222" text-anchor="middle" >-4</text>
<line x1="93.20" y1="116.90" x2="93.20" y2="119.50" stroke="#555" stroke-width="0.5" />
<text x="93.20" y="126.20" font-size="5.3" fill="#222" text-anchor="middle" >-2</text>
<line x1="108.80" y1="116.90" x2="108.80" y2="119.50" stroke="#555" stroke-width="0.5" />
<text x="108.80" y="126.20" font-size="5.3" fill="#222" text-anchor="middle" >0</text>
<line x1="124.40" y1="116.90" x2="124.40" y2="119.50" stroke="#555" stroke-width="0.5" />
<text x="124.40" y="126.20" font-size="5.3" fill="#222" text-anchor="middle" >2</text>
<line x1="140.00" y1="116.90" x2="140.00" y2="119.50" stroke="#555" stroke-width="0.5" />
<text x="140.00" y="126.20" font-size="5.3" fill="#222" text-anchor="middle" >4</text>
<line x1="155.60" y1="116.90" x2="155.60" y2="119.50" stroke="#555" stroke-width="0.5" />
<text x="155.60" y="126.20" font-size="5.3" fill="#222" text-anchor="middle" >6</text>
<line x1="171.20" y1="116.90" x2="171.20" y2="119.50" stroke="#555" stroke-width="0.5" />
<text x="171.20" y="126.20" font-size="5.3" fill="#222" text-anchor="middle" >8</text>
<line x1="53.80" y1="105.00" x2="56.40" y2="105.00" stroke="#555" stroke-width="0.5" />
<text x="51.20" y="105.00" font-size="5.3" fill="#222" text-anchor="middle" transform="rotate(-90 51.20 105.00)" >-5</text>
<line x1="53.80" y1="72.00" x2="56.40" y2="72.00" stroke="#555" stroke-width="0.5" />
<text x="51.20" y="72.00" font-size="5.3" fill="#222" text-anchor="middle" transform="rotate(-90 51.20 72.00)" >0</text>
<line x1="53.80" y1="39.00" x2="56.40" y2="39.00" stroke="#555" stroke-width="0.5" />
<text x="51.20" y="39.00" font-size="5.3" fill="#222" text-anchor="middle" transform="rotate(-90 51.20 39.00)" >5</text>
<text x="115.50" y="134.90" font-size="6.6" fill="#222" font-weight="bold" text-anchor="middle" textLength="36" lengthAdjust="spacingAndGlyphs" >FULV_E2 - E2</text>
<text x="41.50" y="64.50" font-size="6.6" fill="#222" font-weight="bold" text-anchor="middle" textLength="30" lengthAdjust="spacingAndGlyphs" transform="rotate(-90 41.50 64.50)" >EL_E2 - E2</text>
<text x="111.70" y="7.00" font-size="10" font-weight="bold" text-anchor="middle" textLength="24" lengthAdjust="spacingAndGlyphs" >MCF7</text>
<line x1="313.60" y1="13.30" x2="313.60" y2="116.70" stroke="#bbb" stroke-width="1.2" />
<line x1="257.80" y1="66.60" x2="375.20" y2="66.60" stroke="#bbb" stroke-width="1.2" />
<path transform="scale(0.333333)" d="M884 138h0m-4-1h0m-46 8h0m3 12h0m0 3h0m2-3h0m0-2h0m6 1h0m6 0h0m1-9h0m4 14h0m0-2h0m1 0h0m1 1h0m0-2h0m3-1h0m1-4h0m1 7h0m4-14h0m0 9h0m2 1h0m1 3h0m1-3h0m5-10h0m1 14h0m7-8h0m0 8h0m4 1h0m2-5h0m1-3h0m24 24h0m-3 0h0m-3-6h0m-2 8h0m-4 0h0m0-1h0m-1-2h0m0 2h0m0-1h0m-1 1h0m0-6h0m-1 7h0m0-1h0m0-1h0m-1-5h0m0 3h0m-1-7h0m0 2h0m-1 9h0m0-1h0m0-6h0m-1-7h0m0 13h0m0-1h0m0-6h0m0 8h0m-1-7h0m0-7h0m0 13h0m-1-2h0m0-2h0m0 3h0m-1 1h0m0 1h0m-1-17h0m0 17h0m0-5h0m-1-3h0m0 4h0m0-10h0m0-2h0m0-1h0m-1 3h0m0 9h0m0 3h0m0-7h0m-1 4h0m0 4h0m0-5h0m-1 6h0m0-14h0m0 7h0m0-5h0m-1 11h0m0-2h0m0-5h0m0-5h0m0 13h0m0-10h0m-1 10h0m0-1h0m-1-1h0m0-7h0m-1-6h0m0 9h0m0-5h0m0 9h0m0-15h0m0 8h0m0-1h0m-1 5h0m0-5h0m0 9h0m0-14h0m0 13h0m-1 1h0m0-1h0m0-1h0m0 3h0m-1-10h0m0 9h0m-1-2h0m0-1h0m0 4h0m0-2h0m-1 1h0m0-14h0m0 9h0m0-5h0m0 4h0m0-2h0m-1 9h0m0-1h0m-1 0h0m0-10h0m0 7h0m0 1h0m0-14h0m-1 2h0m0 4h0m0-1h0m0 9h0m-1 0h0m0-5h0m0-1h0m0-1h0m0 9h0m0-1h0m0-10h0m-1 6h0m0-2h0m0-5h0m0 13h0m-1-11h0m0 8h0m0-10h0m0 13h0m0-14h0m0 8h0m-1-2h0m0-5h0m0 11h0m-1-3h0m0 4h0m0-10h0m0 4h0m0 3h0m-1 1h0m0-5h0m0 4h0m0-7h0m0 9h0m0-14h0m-1 7h0m0 2h0m0 4h0m-1 3h0m-1-8h0m0-5h0m0 13h0m-1 0h0m0-5h0m0-2h0m0-5h0m-1 2h0m0 4h0m0-5h0m0 9h0m0-3h0m-1-7h0m0 11h0m0-5h0m-1 0h0m-1 3h0m0 3h0m0-2h0m-1-6h0m0-7h0m0 9h0m-1 5h0m0-6h0m0-10h0m0 4h0m-1 4h0m0-1h0m-1 1h0m0 2h0m-1 1h0m0-6h0m-1 4h0m-1 7h0m0-16h0m-1 10h0m0-6h0m0 7h0m-1-2h0m-4-9h0m-1 10h0m0 3h0m0-2h0m-1-3h0m0 7h0m-4-12h0m-2 11h0m-2 1h0m-5-8h0m-2-6h0m-1 1h0m3 28h0m13 2h0m3-1h0m5-5h0m1-2h0m0 11h0m0-14h0m2 8h0m0-10h0m0-1h0m0 4h0m1 6h0m0-2h0m0-6h0m1 9h0m0-6h0m0 4h0m1-9h0m0 15h0m0-5h0m1-10h0m0 3h0m0 9h0m1-3h0m0-5h0m1 1h0m0-5h0m0 2h0m1 1h0m1 5h0m0-3h0m0-1h0m1 2h0m0-6h0m0 8h0m0 9h0m1-4h0m0-11h0m0-2h0m1 13h0m1-13h0m0 3h0m0 9h0m0-10h0m0 9h0m1 6h0m0-14h0m0-1h0m0 8h0m0-1h0m1-9h0m0 4h0m0-1h0m0 13h0m0-5h0m0-5h0m1 5h0m0-1h0m0-10h0m1 11h0m0 3h0m0-10h0m1 6h0m0-1h0m0 3h0m0-6h0m1 1h0m0-1h0m1 6h0m0-10h0m0 12h0m0-14h0m1 1h0m0 13h0m0-6h0m1 8h0m0-6h0m0 4h0m0-14h0m1 5h0m0 9h0m0-6h0m0-1h0m0 4h0m0-1h0m1-5h0m0-5h0m0 9h0m0 4h0m0-10h0m0-1h0m0 9h0m1-2h0m1 5h0m0-10h0m0 9h0m0-5h0m0 4h0m0-5h0m0 4h0m0-5h0m1 0h0m0-1h0m0-5h0m0 9h0m0-5h0m0 4h0m0 9h0m0-14h0m1 10h0m0-1h0m0-2h0m0-10h0m0 4h0m1 5h0m0-5h0m0 9h0m0-5h0m0 9h0m0-10h0m0 9h0m0-5h0m1 6h0m0-5h0m1-9h0m0 4h0m0-5h0m0 4h0m0-5h0m0 9h0m0-10h0m1 15h0m0-14h0m0 4h0m0-5h0m0 13h0m0-10h0m0-1h0m1 6h0m0-5h0m0-2h0m0 9h0m0-1h0m1 0h0m0 4h0m0-10h0m0-1h0m0 4h0m0-5h0m1 0h0m0-1h0m0 9h0m0 3h0m0-5h0m0-5h0m1 6h0m0 8h0m0-10h0m0 9h0m0-1h0m0-14h0m0 4h0m1 6h0m0-5h0m0-1h0m0-1h0m0 9h0m0-1h0m0-5h0m1-4h0m0 4h0m0 8h0m0-14h0m0 4h0m0 8h0m0-5h0m1 1h0m0 8h0m0-14h0m0 4h0m0 9h0m0-5h0m0-5h0m0-1h0m1 11h0m0-14h0m0 9h0m0-5h0m0 4h0m0-5h0m0 9h0m0-5h0m0 4h0m0-5h0m0 9h0m0-5h0m1 2h0m0-5h0m0-5h0m0-1h0m0 13h0m0-5h0m0 4h0m0-14h0m0 9h0m1 4h0m0-10h0m0 9h0m0 4h0m0-14h0m0-1h0m0 4h0m0-5h0m0 9h0m1-4h0m0 12h0m0-14h0m0 4h0m0 9h0m0-5h0m1-3h0m0-1h0m0-6h0m0 14h0m0-6h0m0 4h0m1-7h0m0 9h0m0-10h0m0-1h0m0-1h0m0 9h0m0-10h0m0 9h0m1 4h0m0-5h0m0 4h0m0-6h0m0-5h0m0 9h0m0-10h0m0 9h0m1-3h0m0 9h0m0-15h0m0 9h0m0-5h0m0-5h0m0-1h0m0 9h0m1 1h0m0 4h0m0-5h0m0-5h0m0 9h0m0-5h0m0-5h0m0 9h0m0-1h0m1 1h0m0-5h0m0 4h0m0-5h0m0 9h0m0-5h0m0-6h0m0 9h0m1-1h0m0 4h0m0-10h0m0 9h0m0-5h0m0-5h0m0 9h0m0-14h0m0 9h0m0 4h0m1-8h0m0-1h0m0 9h0m0 4h0m0-14h0m0 4h0m0-5h0m0 9h0m0-5h0m1 11h0m0-14h0m0 4h0m0 9h0m0-5h0m0-5h0m0 9h0m0-10h0m0 4h0m0-5h0m1 6h0m0-5h0m0 9h0m0-6h0m0 4h0m0-5h0m0-5h0m0 9h0m1-5h0m0 3h0m0 4h0m0-1h0m0-5h0m1 5h0m0-1h0m0-5h0m0 8h0m0-10h0m1 8h0m0-1h0m1-3h0m0 9h0m0-5h0m1-4h0m0-5h0m0 4h0m0 9h0m0-15h0m0 9h0m0 4h0m0-1h0m1 2h0m0-5h0m0-1h0m0-5h0m0 9h0m0-1h0m1 0h0m0-5h0m0 9h0m0-5h0m0 4h0m0-1h0m0-1h0m0-5h0m1 0h0m0 9h0m0-5h0m0-2h0m1 5h0m0-5h0m0 4h0m0-1h0m0-5h0m0 4h0m0-5h0m0 4h0m0-5h0m1 11h0m0-4h0m0-5h0m1 6h0m0-2h0m0-5h0m0-6h0m0 14h0m1-2h0m0-1h0m1 0h0m0-2h0m1 0h0m0 4h0m0-1h0m0-1h0m0 3h0m1 1h0m0-7h0m1 3h0m0 2h0m0-1h0m1 2h0m0-1h0m0-1h0m1 3h0m0-1h0m0-1h0m1-3h0m0 4h0m1 0h0m0-1h0m0 3h0m0-1h0m1 1h0m0-1h0m0-1h0m2 2h0m1-1h0m1 1h0m4 3h0m0-1h0m-1-1h0m-1 1h0m0-1h0m-1 2h0m0-1h0m0-1h0m-1 1h0m0-1h0m-1 1h0m0-1h0m-1 0h0m-1 1h0m-1 0h0m-1 0h0m0-1h0m-2 0h0m-1 0h0m0 4h0m-1-3h0m-4-1h0m-2 0h0m-3 3h0m0-3h0m-1 1h0m-1 0h0m-2-1h0m0 3h0m-1-3h0m-3 0h0m-2 0h0m-1 2h0m-3-2h0m-2 2h0m-1-2h0m-6 2h0m-5-2h0m-3 0h0m-2 3h0m-4 0h0m-2 0h0m-1 1h0m-6-1h0m-2 0h0m-1-1h0m-4-2h0m-7 1h0m-10 4h0" stroke="#BEBEBE" stroke-width="3.75" stroke-linecap="round" fill="none"/>
<path transform="scale(0.333333)" d="M965 215h0m-3-4h0m-3 2h0m-3 1h0m0-2h0m-2 1h0m0 2h0m0-5h0m-1 4h0m-1 0h0m0-1h0m0-5h0m0 7h0m-1-2h0m0-5h0m0 7h0m0-1h0m-1 1h0m0-1h0m-1-3h0m0 3h0m-1-3h0m0 4h0m0-5h0m0-1h0m-1 2h0m0-5h0m0 4h0m0 4h0m0-1h0m0-5h0m0-1h0m-1-3h0m0 7h0m0-2h0m-1 6h0m0-10h0m0 8h0m0-5h0m0 4h0m-1-2h0m0-5h0m0 4h0m0-2h0m0 4h0m0-5h0m-1-2h0m0-2h0m0 4h0m0 4h0m0-5h0m0 9h0m-1-12h0m0 7h0m0-6h0m0 4h0m-1-5h0m0 3h0m-1 15h0m1 9h0m3-10h0m0 10h0m1-13h0m0 4h0m0 7h0m0-6h0m1-3h0m0 9h0m0-5h0m0-5h0m0 13h0m0-5h0m0-5h0m1 4h0m0 6h0m0-14h0m1 4h0m0-1h0m0 9h0m0-5h0m0-1h0m0-5h0m1 6h0m0-5h0m0-1h0m0 3h0m0 4h0m0-5h0m1 1h0m0 4h0m0 4h0m0-10h0m0 9h0m0-1h0m1-9h0m0 9h0m0 4h0m0-7h0m1 0h0m0 9h0m0-14h0m0 4h0m0-5h0m0 9h0m0-6h0m0-1h0m1 6h0m0-5h0m0 13h0m0-5h0m0-10h0m0 9h0m0-10h0m0 13h0m0-14h0m1 1h0m0 9h0m0-1h0m0-5h0m0 9h0m0-5h0m0 9h0m0-14h0m1 5h0m0-5h0m0 9h0m0-6h0m0-5h0m0 9h0m0-6h0m1 0h0m0 4h0m0-5h0m0 14h0m0-1h0m0-14h0m0 9h0m0-10h0m1 10h0m0 4h0m0-14h0m0 7h0m0-1h0m1 2h0m0-5h0m0 4h0m0 4h0m0-1h0m0-1h0m1-5h0m0 4h0m0 4h0m0-5h0m0 4h0m0-1h0m0 4h0m1-8h0m0 9h0m0-5h0m0 4h0m0-10h0m0 9h0m0-5h0m0 8h0m0-5h0m1-2h0m0 4h0m0-10h0m0 4h0m0 9h0m0-5h0m0-1h0m1-11h0m0 14h0m0-5h0m0-5h0m0 4h0m0 9h0m1-5h0m0 4h0m0-5h0m0-1h0m0 4h0m0-5h0m1 5h0m0-1h0m0-5h0m0-1h0m0 4h0m0 4h0m1-1h0m0-6h0m0 9h0m0-5h0m1-9h0m0 9h0m0 4h0m0-10h0m0 9h0m0-10h0m1 9h0m0 3h0m0-5h0m1 0h0m0-5h0m0 4h0m0 4h0m0-6h0m0-1h0m0 9h0m1-9h0m0 9h0m0-10h0m1-2h0m0 8h0m0-1h0m0 4h0m1-6h0m0 7h0m1-9h0m0 4h0m0 4h0m1-5h0m0-11h0m1 12h0m0-1h0m1 5h0m0-6h0m1 6h0m0-1h0m0-5h0m1-1h0m0 8h0m0-2h0m1 2h0m0-5h0m0 3h0m2 2h0m0-2h0m4-13h0m10 10h0m3 20h0m-6-9h0m-2 4h0m-3 3h0m-1-5h0m0-2h0m-1-4h0m-1 9h0m-2 6h0m0-2h0m0-5h0m0-5h0m0-1h0m-1 2h0m0 8h0m0-2h0m-1-2h0m0 4h0m-1 1h0m0-3h0m0-5h0m-1-4h0m-1 15h0m0-15h0m-1 13h0m0-14h0m0 13h0m0-1h0m0-2h0m-1 1h0m0-11h0m0 3h0m-1 3h0m0 4h0m0-1h0m0-5h0m0 3h0m0 9h0m-1-4h0m0-10h0m0 9h0m-1-4h0m0 9h0m0-2h0m0-15h0m0 9h0m-1-3h0m0-5h0m0 9h0m0 4h0m0-14h0m0 4h0m0 13h0m0-1h0m-1-15h0m0 13h0m0-5h0m0-5h0m0 9h0m0 4h0m0-14h0m0 4h0m0 9h0m0-5h0m-1-4h0m0-1h0m0 9h0m0-5h0m0-5h0m0 9h0m0-5h0m-1-4h0m0 3h0m0 4h0m0 4h0m0-10h0m-1 11h0m0-5h0m0-5h0m0 9h0m0-15h0m0-1h0m0 4h0m0 9h0m-1-5h0m0 9h0m0-5h0m0 4h0m0-15h0m0 13h0m0-14h0m0 4h0m-1 11h0m0-1h0m0-14h0m0 4h0m0 9h0m0 3h0m0-5h0m-1 2h0m0-5h0m0-5h0m0 8h0m0-1h0m-1-8h0m0 9h0m0 3h0m0-6h0m0-1h0m-1-1h0m0-1h0m0-5h0m0 4h0m0 4h0m0-5h0m0 4h0m0 4h0m-1-3h0m0 9h0m0-6h0m0 4h0m0-14h0m0 13h0m0-14h0m0 4h0m-1 11h0m0-5h0m0-1h0m0 4h0m0-1h0m0-6h0m-1-1h0m0 9h0m0-14h0m0 13h0m0 4h0m0-14h0m0 8h0m0-5h0m0-5h0m0 9h0m-1 7h0m0-14h0m0-1h0m0 4h0m0 9h0m0-10h0m0 9h0m0-5h0m0-5h0m-1 11h0m0-14h0m0 9h0m0-5h0m0 4h0m0-6h0m0 8h0m-1-8h0m0-1h0m0 12h0m-1-8h0m0-5h0m0 12h0m0-10h0m-1 5h0m0-2h0m0-5h0m-1 16h0m0-2h0m0-14h0m0 13h0m0-14h0m-1 2h0m0 2h0m0-1h0m-1 7h0m0-6h0m-1 4h0m0-1h0m0 4h0m0 3h0m0-10h0m-1-3h0m0 6h0m-3 8h0m-1-3h0m0-5h0m-2-2h0m-2 7h0m-1 23h0m9-16h0m2 1h0m2-1h0m1 7h0m2-7h0m1-1h0m1 12h0m0 4h0m0-14h0m0 7h0m1-9h0m0 16h0m0-15h0m1 13h0m0-14h0m1 1h0m1 1h0m0-2h0m1 6h0m0 9h0m0-14h0m0 9h0m0-10h0m0 7h0m1-4h0m0 13h0m1-14h0m0 8h0m1-6h0m0 5h0m1-1h0m0-1h0m0-2h0m0-5h0m1 0h0m0 17h0m0-14h0m0-1h0m1 3h0m1-5h0m1 13h0m0-5h0m0-1h0m1-3h0m0 6h0m0-1h0m1 1h0m0-10h0m0 8h0m1 3h0m1-11h0m1 16h0m0-6h0m0-6h0m0 9h0m1-10h0m0-2h0m0 8h0m1 0h0m1-4h0m0 2h0m1-1h0m0-1h0m0 4h0m2-5h0m1-1h0m1 11h0m0-12h0m2 1h0m1 0h0m3 13h0m3-11h0m2 0h0m6 11h0m10-5h0m-28 23h0m-2-14h0m-11 6h0m-2-4h0m-1-1h0m-2-1h0m-9 9h0m-26-4h0" stroke="#BEBEBE" stroke-width="3.75" stroke-linecap="round" fill="none"/>
<path transform="scale(0.333333)" d="M1037 140h0m-37 9h0m3 9h0m1-1h0m5 0h0m0-5h0m1 7h0m4-5h0m5 3h0m1-1h0m8 0h0m0 5h0m4-8h0m2 8h0m2-2h0m16-14h0m-31 19h0m0 4h0m-3 9h0m-1-8h0m0-3h0m0 11h0m-1 1h0m-2-15h0m-1 2h0m0-1h0m-1 9h0m0-3h0m-2-8h0m0 11h0m-1-3h0m0-1h0m-1-5h0m0 13h0m0-9h0m0 4h0m0-7h0m0 13h0m0-16h0m-1 11h0m-1-2h0m0 4h0m-1 0h0m-1-12h0m-1 8h0m-1 7h0m0-12h0m-1 4h0m0 8h0m-1-7h0m0 6h0m-1 2h0m0-1h0m-1 1h0m0-10h0m0-3h0m-1 1h0m-1 9h0m0-7h0m0 2h0m-1 3h0m0 2h0m0-7h0m-2 0h0m0-3h0m0 6h0m-2 4h0m-1-8h0m-1 7h0m0-8h0m-1 2h0m0 2h0m-1 7h0m0-10h0m0 9h0m-2-11h0m-1 2h0m-2 7h0m-2 4h0m-2-2h0m-1-2h0m-1 1h0m-1-5h0m-1-6h0m-1 0h0m-3 13h0m-1-5h0m-9 5h0m-7 4h0m1 7h0m3 1h0m2-1h0m2-6h0m0 9h0m1 5h0m2-11h0m0 9h0m2-2h0m0-3h0m1-10h0m0 13h0m0 2h0m1-8h0m0 6h0m1-10h0m1-1h0m4 9h0m0-3h0m0-3h0m1 4h0m1 3h0m0-1h0m0-5h0m1 11h0m0-7h0m0-3h0m1 4h0m1 0h0m0-5h0m0 9h0m1-12h0m0 9h0m1-6h0m0 11h0m0-8h0m0 4h0m1-7h0m0-5h0m0 14h0m0-5h0m1 6h0m0-12h0m2 10h0m1-9h0m0 10h0m2-4h0m3-3h0m0-7h0m1 5h0m0 9h0m0-10h0m0-1h0m1-4h0m1 7h0m0 9h0m0-3h0m2-3h0m1-4h0m1-1h0m1 1h0m0-6h0m1 12h0m0-1h0m1-2h0m2 5h0m1-11h0m1 3h0m1-6h0m1 7h0m4-5h0m3-1h0m2 0h0m1 11h0m3-3h0m-18 14h0m-16-4h0m-4 7h0m-1-6h0m-5 1h0m-4 13h0m-1-6h0m-1-8h0m-1 0h0m-2-2h0m0 2h0m-5-2h0m-1 5h0m-3-1h0m-1-3h0m-4-1h0m-1 12h0m-2-4h0m-4-8h0m-2 14h0m-4 0h0m-5-4h0m6 10h0" stroke="#BEBEBE" stroke-width="3.75" stroke-linecap="round" fill="none"/>
<path transform="scale(0.333333)" d="M916 194h0m11-5h0m1 8h0m1-1h0m0-5h0m0 1h0m1 2h0m1 3h0m1-1h0m0 1h0m1-4h0m0-5h0m0 9h0m0-3h0m1 1h0m1 0h0m1 2h0m0-5h0m0 2h0m0 2h0m1-1h0m0 2h0m0-1h0m1-4h0m0 3h0m1-13h0m2 13h0m0 2h0m1-3h0m0-7h0m0 10h0m1-4h0m0 4h0m0-5h0m0 2h0m0 2h0m1 0h0m1 1h0m0-6h0m1 2h0m2 0h0m1-2h0m1 4h0m3-1h0m0 2h0m0 1h0m1-3h0m7 2h0m0-3h0m-4 8h0m0 2h0m0-1h0m0-3h0m-1 4h0m0-5h0m-2 6h0m0 1h0m-1-3h0m-1 5h0m0-7h0m-1 8h0m0-7h0m0 1h0m-1-1h0m0 2h0m-1 0h0m0-3h0m0 2h0m0 9h0m0-7h0m-1-6h0m0 2h0m0 6h0m-1-1h0m0-7h0m-1 5h0m0 1h0m0 2h0m0-7h0m0 2h0m-1-2h0m0-1h0m0 4h0m-1-4h0m0 16h0m0-6h0m-1-6h0m0-3h0m0 4h0m0-5h0m-1 2h0m0 9h0m0-7h0m0 4h0m0-7h0m-1 0h0m0 2h0m-1 5h0m0-7h0m0 11h0m0 3h0m-1-11h0m0 9h0m0-7h0m0-5h0m0 11h0m0-5h0m-1 3h0m0-5h0m0-1h0m-1 0h0m0 1h0m0-5h0m0 2h0m-1 11h0m0-12h0m-1-1h0m0 11h0m0-7h0m0 2h0m0 1h0m-1 6h0m0-5h0m0-8h0m0 9h0m-1-5h0m-1-3h0m0 6h0m0-1h0m-2-2h0m0 5h0m0 2h0m-3-1h0m-2-9h0m0 2h0m0 2h0m-1-1h0m-3 9h0m-4-4h0" stroke="#BEBEBE" stroke-width="3.75" stroke-linecap="round" fill="none"/>
<path transform="scale(0.333333)" d="M837 193h0m2-1h0m19 4h0m2 1h0m1-1h0m5-3h0m2 4h0m2 0h0m2-5h0m0 1h0m1 4h0m0-7h0m2 7h0m0-5h0m2 3h0m1 2h0m0-1h0m1 1h0m0-1h0m0-3h0m2 4h0m2 0h0m0-8h0m1 7h0m1-4h0m0 2h0m1 1h0m0 2h0m1-1h0m2-2h0m0 2h0m1-5h0m2 2h0m1 1h0m0 2h0m1 1h0m1-1h0m1 1h0m1-1h0m1-1h0m1 2h0m2 0h0m1-2h0m1 2h0m0-1h0m1 1h0m1 0h0m4-1h0m2 1h0m0-1h0m1 1h0m1-1h0m1-1h0m2 2h0m3 0h0m20 3h0m-1 0h0m-1 0h0m-1 0h0m-1 0h0m-2 0h0m0-1h0m0 2h0m-1-1h0m-1 0h0m0 1h0m-1 0h0m0-1h0m-1 0h0m0-1h0m-1 2h0m-2 0h0m0-3h0m0 2h0m-1-2h0m0 2h0m0 2h0m-1-3h0m0 2h0m-1 0h0m0-1h0m-1 0h0m0-1h0m-1 0h0m0 4h0m0 2h0m0-7h0m0 2h0m-1 0h0m0-1h0m0-1h0m-1 4h0m0-3h0m0 2h0m0-1h0m-1 1h0m-1-2h0m0 2h0m0-3h0m0 2h0m-1 0h0m0 1h0m0 2h0m0-5h0m-1 2h0m0 2h0m0-3h0m0 2h0m-1-3h0m0 4h0m0-1h0m0 2h0m-1-4h0m0 2h0m0-1h0m-1-2h0m0 1h0m0 4h0m-1-5h0m0 2h0m0 2h0m0-3h0m0 4h0m-1-2h0m0 2h0m0-1h0m0 2h0m-1-4h0m0 2h0m0 2h0m0-5h0m0 2h0m-1 0h0m0 4h0m0-5h0m0 2h0m0 2h0m-1-2h0m0-3h0m0-1h0m0 2h0m-1 1h0m0-3h0m-1 9h0m0-5h0m0-3h0m0 2h0m0 2h0m0-3h0m-1 1h0m0 4h0m0-7h0m0 2h0m0-1h0m-1 4h0m0-5h0m0 2h0m-1 4h0m0 2h0m0-5h0m0 2h0m0-1h0m-1-4h0m0 2h0m0 2h0m0-3h0m0 2h0m-1-2h0m0 2h0m0 2h0m0 1h0m0-2h0m-1 2h0m0 2h0m0-7h0m0 2h0m0 2h0m-1-1h0m0-1h0m0 2h0m0-5h0m-1 4h0m0 4h0m0-7h0m0 2h0m0 2h0m-1 6h0m0-7h0m0 4h0m0-6h0m-1-2h0m0 2h0m0 2h0m0 3h0m-1-5h0m0 6h0m0-7h0m0 2h0m0 2h0m0-5h0m-1 3h0m0 2h0m0 2h0m0-5h0m0 2h0m0 2h0m0 2h0m-1-4h0m0-1h0m0 2h0m0-3h0m-1 1h0m0 2h0m0-1h0m0-3h0m-1-1h0m0 6h0m0-5h0m-1 7h0m0-2h0m-1 3h0m0-3h0m0 2h0m-1-5h0m0-3h0m0 2h0m0 2h0m-1 2h0m0-5h0m-1 1h0m0 2h0m0 2h0m-1-6h0m0 2h0m0 4h0m0-1h0m0 2h0m-1 3h0m0-7h0m0 2h0m0 2h0m0-7h0m-1 9h0m0-1h0m0 2h0m0-5h0m-2 2h0m0-5h0m0 11h0m0-9h0m-2 4h0m-1-1h0m0 1h0m0-7h0m0 2h0m0 2h0m-1 4h0m0 4h0m-1-9h0m0 2h0m0-5h0m0 13h0m0-12h0m-1 3h0m0-1h0m0 2h0m-1-2h0m0 2h0m0-1h0m-1-2h0m0-1h0m-1 7h0m0-7h0m0 6h0m0-3h0m-1 5h0m0-8h0m-1 9h0m-1 4h0m0-10h0m-1 3h0m-1-7h0m0 9h0m-4-7h0m0 10h0m-1-3h0m-1-5h0m0 2h0m-1-3h0m0-3h0m-15 14h0m-4-9h0" stroke="#1E3CFF" stroke-width="3.75" stroke-linecap="round" fill="none"/>
<path transform="scale(0.333333)" d="M808 161h0m61 17h0m-5-6h0m-35 2h0m-5 1h0m-35 14h0m18 7h0m9-4h0m10-8h0m1 3h0m3 9h0m1-3h0m2-1h0m3 5h0m1-7h0m2-2h0m0 4h0m4-7h0m0-1h0m1 13h0m5-1h0m0-7h0m1 3h0m1 4h0m1-4h0m1-7h0m4 0h0m0 9h0m1-1h0m0 4h0m0-7h0m1-8h0m1 6h0m0 7h0m2-9h0m1-2h0m1 5h0m2 4h0m0-10h0m0 7h0m3 6h0m0-6h0m1 3h0m1-9h0m1 8h0m1-10h0m1 15h0m0-6h0m1 3h0m0 2h0m4 0h0m1-14h0m1 15h0m1-3h0m6 3h0m1-5h0m2 5h0m7-4h0m3 4h0m4-1h0m9 1h0m25 3h0m-1 0h0m-3 2h0m-6-2h0m-5-1h0m-1 2h0m-1-3h0m-5 2h0m0-1h0m-1 0h0m-1 11h0m-1-9h0m-1 3h0m-1-1h0m-1 6h0m-1-8h0m-1 8h0m-2-7h0m0 4h0m0 4h0m0-11h0m0 8h0m-1 6h0m0-2h0m-1-3h0m0-8h0m-1 6h0m-3-4h0m0 9h0m0-5h0m0 4h0m0-5h0m-1 3h0m-1-6h0m0 4h0m0-7h0m0 13h0m-2-7h0m0-1h0m0-5h0m0 7h0m-1 8h0m0-10h0m-1-4h0m-1 0h0m0 11h0m-1-3h0m-1 6h0m0-7h0m0 4h0m-1-10h0m0 4h0m0-5h0m0 14h0m-1-5h0m0-6h0m-1 4h0m0 3h0m-1-3h0m0 3h0m0 3h0m-1-7h0m0-5h0m0 8h0m0-5h0m0 3h0m0-5h0m-1 6h0m0-3h0m-1-4h0m0 2h0m-1-5h0m0 17h0m0-14h0m-1 6h0m0-1h0m-1 5h0m0-3h0m0-1h0m-1 5h0m0-14h0m0 3h0m0 9h0m-1 2h0m0-2h0m0 4h0m0-10h0m-1 3h0m-1-7h0m0 4h0m0 4h0m0 4h0m-1-11h0m0-1h0m0 13h0m-1-1h0m0-6h0m-1 3h0m0-1h0m0 3h0m-2-12h0m-1 7h0m-1-8h0m0 7h0m0 9h0m0-6h0m-1-1h0m0 3h0m-1-8h0m0 4h0m0-6h0m0 9h0m-1-7h0m0 4h0m0 9h0m0-10h0m0-1h0m0 4h0m-1 6h0m0-16h0m0 9h0m-1 8h0m0-5h0m0 4h0m-1 0h0m0-6h0m0-5h0m-1 1h0m0 7h0m0 3h0m0-5h0m-1-2h0m0 4h0m0-1h0m0-5h0m0 9h0m0-14h0m0-1h0m0 9h0m0 4h0m-1-4h0m0 4h0m0-6h0m0-5h0m0 4h0m-1-7h0m0 16h0m0-6h0m0 4h0m-1 2h0m0-14h0m0-1h0m0 4h0m0 9h0m-1-2h0m0-5h0m-1 2h0m0 8h0m0-2h0m-1-4h0m-1 4h0m0-14h0m0 8h0m0-5h0m-1 0h0m0 9h0m0-3h0m-1 2h0m0 3h0m0-14h0m0 16h0m-1-3h0m0-7h0m0-5h0m-1 2h0m0 7h0m0-1h0m-1 0h0m0-10h0m0 14h0m-1-5h0m0 2h0m-2-10h0m-1 6h0m0-1h0m-1 1h0m0 4h0m-1-4h0m-1-4h0m0 13h0m-1-5h0m0-1h0m0-5h0m0 4h0m-1-4h0m0 6h0m-1 4h0m0-5h0m-1 7h0m-1-9h0m0 9h0m-1 0h0m-1-11h0m0 4h0m0-5h0m-1 5h0m-3-7h0m0 3h0m0-1h0m-1-4h0m-1 4h0m0 9h0m-2 2h0m0-3h0m-1 1h0m0-14h0m-1 5h0m-1 5h0m-1 6h0m-2-4h0m-1-12h0m-1 1h0m-2 4h0m0 9h0m-7-9h0m-2 7h0m-2-4h0m-4-1h0m-3 0h0m-12-4h0m-8 12h0m18 3h0m2 1h0m4 4h0m15 5h0m0-2h0m1-5h0m3 13h0m1-13h0m1 2h0m1-2h0m2 2h0m0 8h0m1-6h0m1-5h0m1 1h0m0-1h0m0 7h0m2-9h0m1 10h0m0-6h0m1-2h0m0 9h0m1-8h0m1-3h0m0 4h0m1 2h0m1 1h0m0-5h0m0-2h0m3 7h0m2-1h0m1-3h0m0-3h0m1 11h0m1-9h0m0 8h0m2-10h0m3 5h0m1 2h0m0-6h0m0-1h0m0 9h0m1-7h0m1 5h0m0-6h0m1 12h0m2 0h0m1-13h0m1 2h0m1 2h0m1 0h0m2 1h0m0-5h0m1 2h0m1 5h0m0 4h0m0-2h0m1-8h0m0 4h0m2 1h0m0-2h0m1 4h0m0-1h0m0 9h0m2-9h0m0-6h0m1 13h0m1-8h0m0 4h0m0-1h0m0-1h0m1-7h0m1 5h0m1-1h0m9-5h0m1 0h0m2 2h0m-29 18h0m-4 0h0m-8 6h0m-5-8h0m-2 0h0m-24 14h0m-15-4h0m12 18h0" stroke="#1E3CFF" stroke-width="3.75" stroke-linecap="round" fill="none"/>
<path transform="scale(0.333333)" d="M944 142h0m-31 19h0m11 0h0m1-5h0m3 5h0m1-5h0m1 3h0m1 0h0m0 1h0m2-7h0m0 8h0m1-1h0m0-7h0m0 4h0m1 0h0m1-1h0m2-3h0m1 1h0m0 4h0m0-2h0m1 2h0m1 1h0m0-2h0m0 4h0m1-9h0m0-1h0m0 9h0m2-8h0m0 9h0m0-5h0m0 4h0m2-2h0m1 0h0m0-12h0m1 11h0m2-5h0m0 9h0m1-10h0m0-5h0m1 4h0m0 10h0m2-14h0m1 9h0m1 5h0m1-1h0m1 1h0m1 0h0m2-4h0m1 0h0m0 3h0m15 16h0m-9-2h0m-4 4h0m-1-6h0m0 8h0m-1-6h0m-1 5h0m0-14h0m0 3h0m0-5h0m-1 6h0m0 8h0m-1 1h0m0-5h0m0-10h0m-1 15h0m0-11h0m0 9h0m0-5h0m0 9h0m0-14h0m-1-3h0m-1 8h0m0 9h0m0-15h0m0 4h0m0 9h0m0-14h0m-1 15h0m0-5h0m0-5h0m0-5h0m0 9h0m0-10h0m-1 13h0m0-5h0m0 4h0m0-5h0m0 9h0m0-5h0m0-5h0m0 9h0m0-1h0m-1-8h0m0 4h0m0-5h0m0 3h0m0 4h0m-1-1h0m0-5h0m0 7h0m0-5h0m0 8h0m-1-12h0m0 7h0m0-1h0m0 4h0m0-14h0m-1 15h0m0-6h0m0-5h0m0 4h0m0 9h0m0-14h0m0 4h0m-1 2h0m0 4h0m0-5h0m0 9h0m0-10h0m0 9h0m0-14h0m0 9h0m0-5h0m0 4h0m0 4h0m-1 0h0m0 3h0m0-10h0m0-5h0m0 4h0m-1-4h0m0 4h0m0 3h0m0 4h0m0 4h0m0-5h0m-1 1h0m0-1h0m0-5h0m0-5h0m0 13h0m0-10h0m0 9h0m0-5h0m-1-6h0m0 13h0m0-5h0m0 4h0m0-14h0m0 9h0m0-5h0m0 9h0m0-14h0m0 13h0m0-5h0m-1 3h0m0-5h0m0-5h0m0 9h0m0-5h0m0 9h0m0-14h0m0 8h0m0-5h0m0 9h0m-1 2h0m0-6h0m0 9h0m0-5h0m0-7h0m0-5h0m-1 7h0m0 9h0m0-5h0m0-5h0m0-5h0m0 9h0m0 4h0m0-10h0m0 9h0m0 4h0m-1-7h0m0-5h0m0 9h0m0-10h0m0-1h0m0 4h0m0 9h0m0-5h0m-1 3h0m0-5h0m0 4h0m0 4h0m0-1h0m0-15h0m0 9h0m-1 6h0m0-10h0m0-5h0m0 9h0m0-5h0m0 9h0m0-14h0m0 4h0m0 9h0m0-5h0m0-1h0m-1 6h0m0 4h0m0-14h0m0 8h0m0-5h0m0 9h0m-1-12h0m0 9h0m0-5h0m0 9h0m0-5h0m0-1h0m0-1h0m0-5h0m0 9h0m-1 3h0m0-14h0m0 4h0m0 9h0m0-5h0m0 4h0m0-14h0m0 9h0m0-5h0m0 9h0m0-10h0m0 9h0m-1-4h0m0 9h0m0-1h0m0-14h0m0 4h0m0-5h0m-1 2h0m0 4h0m0 9h0m0-5h0m0 4h0m0-14h0m0 8h0m0-1h0m-1-6h0m0 9h0m0-5h0m0-5h0m0 9h0m0-10h0m0 17h0m0-14h0m0 4h0m-1 6h0m0 4h0m0-14h0m0 9h0m0-6h0m0-5h0m0 4h0m-1 2h0m0-6h0m0 9h0m0-5h0m0 4h0m0 4h0m0-1h0m-1 2h0m0-10h0m0 4h0m0 4h0m0 4h0m0-14h0m0 13h0m0-14h0m-1 16h0m0-14h0m0 4h0m0 7h0m0-14h0m-1 16h0m0-1h0m0-8h0m-1 2h0m0 8h0m0-10h0m0 9h0m0-5h0m0 4h0m0-5h0m-1-8h0m0 9h0m0-5h0m0-5h0m0 12h0m-1-7h0m0 8h0m0-1h0m-1-1h0m0-5h0m0-1h0m0 9h0m0-14h0m-1-1h0m0 4h0m-1 2h0m0 3h0m-3-6h0m-2-2h0m-1 3h0m0 8h0m-1-5h0m-7 9h0m15 2h0m1 0h0m0 9h0m1 0h0m1-7h0m1 8h0m0-10h0m1 0h0m1 9h0m0-5h0m0 7h0m0-6h0m1-1h0m1-1h0m0 12h0m0-5h0m1-5h0m0-5h0m0 8h0m0-5h0m0-2h0m1 1h0m0 10h0m1-9h0m0-1h0m0 13h0m0-5h0m0 4h0m1 1h0m0-6h0m1-1h0m0-5h0m0 4h0m0-5h0m0 4h0m0-5h0m0-1h0m1 2h0m1-2h0m0 2h0m1 0h0m0 3h0m0-5h0m1 0h0m1 4h0m0-1h0m0-1h0m1 5h0m0-7h0m0 4h0m1 6h0m0 3h0m0-11h0m1 5h0m0-5h0m0 4h0m0 7h0m1-10h0m0 9h0m0-2h0m0-10h0m0 4h0m1-1h0m0-1h0m0 8h0m1-7h0m0 4h0m0-1h0m0-5h0m0 13h0m1-9h0m1 0h0m0 7h0m0-11h0m1 6h0m0-5h0m0 13h0m0-14h0m0 3h0m2 7h0m0 2h0m1-11h0m0 3h0m0-5h0m1 0h0m0 17h0m0-14h0m1-1h0m1 1h0m1 2h0m0 9h0m0-11h0m0-1h0m0 8h0m1-4h0m0 4h0m2 3h0m1-8h0m0 9h0m4-7h0m-11 12h0m0 3h0m-11-2h0" stroke="#FF2A00" stroke-width="3.75" stroke-linecap="round" fill="none"/>
<path transform="scale(0.333333)" d="M996 125h0m5-2h0m11-1h0m-3 16h0m-2-3h0m-7 7h0m0-5h0m-2-2h0m0-1h0m0 4h0m0 3h0m-1 0h0m-2 2h0m-1-10h0m-1 10h0m0-16h0m-1 14h0m-2-1h0m0 3h0m0-1h0m-2-3h0m0-7h0m-2 7h0m0-5h0m-1 6h0m0 3h0m-3-3h0m-4-2h0m-35 22h0m13-8h0m0 6h0m1-2h0m3-11h0m0 8h0m2 1h0m0-2h0m1 7h0m0-11h0m1 12h0m0-1h0m1-6h0m0 4h0m0 2h0m0-1h0m2-2h0m0-5h0m0 9h0m1-3h0m0-5h0m0 7h0m0-14h0m1 8h0m0 8h0m1-17h0m0 13h0m1-4h0m0-2h0m0-5h0m1 14h0m0-8h0m1 0h0m0 8h0m0-12h0m1 10h0m0-10h0m0 4h0m0 9h0m0-10h0m1 10h0m0-3h0m0-5h0m1-5h0m1 10h0m0-12h0m0 4h0m1 11h0m0-14h0m0 4h0m0 4h0m0-5h0m0 9h0m0-5h0m0-1h0m0 4h0m0-5h0m1-3h0m0 9h0m0-5h0m0-5h0m0 9h0m0-5h0m0 4h0m0 4h0m0-5h0m1-5h0m0-5h0m0-1h0m0 9h0m0-5h0m0 8h0m0-1h0m1-3h0m0-5h0m0 2h0m1 10h0m0-14h0m0 8h0m0-1h0m0-1h0m0 9h0m0-14h0m1 5h0m0-6h0m0-1h0m1 10h0m0 4h0m1-5h0m0-1h0m0-6h0m1 15h0m0-5h0m0-3h0m0-5h0m1 3h0m1 4h0m0-5h0m1 6h0m0-5h0m0-1h0m0 8h0m0-14h0m0 9h0m1 3h0m0-6h0m1-5h0m0 4h0m0-1h0m0-1h0m0 4h0m1-1h0m0 4h0m1 0h0m0-5h0m0 9h0m0-10h0m1 3h0m1 9h0m0-14h0m0 3h0m0 4h0m1-4h0m0-5h0m0 4h0m2 5h0m2-2h0m0 4h0m0-6h0m3-5h0m1 12h0m1-11h0m0-1h0m1 16h0m1-10h0m0-3h0m1 16h0m-3 0h0m-3 7h0m-11-2h0m0-2h0m0-1h0m-1 1h0m-1 2h0m-3-1h0m-2 1h0m0 4h0m0-5h0m-1-3h0m0 4h0m-2 2h0m0-5h0m0 9h0m0-11h0m0-1h0m-1 6h0m0 1h0m-1-6h0m0 6h0m-1-3h0m0 1h0m-1 1h0m0-5h0m0 6h0m0-5h0m-1-2h0m0 9h0m0-6h0m0-2h0m0 4h0m-1-5h0m0 4h0m-1-3h0m0 3h0m0 4h0m0-5h0m-1 11h0m0-5h0m0 3h0m0 4h0m0-14h0m0-2h0m-1 7h0m0-1h0m0-5h0m0 4h0m-1 5h0m0-1h0m0-1h0m0-5h0m0-1h0m0 9h0m-1-4h0m0-1h0m0-6h0m0 9h0m0-5h0m-1-2h0m0 8h0m0-10h0m0 13h0m0-5h0m0-5h0m0 4h0m-1-2h0m0 4h0m0-1h0m0 3h0m0-5h0m-1 5h0m0-10h0m0 13h0m-1-13h0m-1 0h0m0 9h0m-1 2h0m0-10h0m0-1h0m0 13h0m0-14h0m-1 14h0m0-5h0m0 4h0m-1-5h0m0-1h0m-1 4h0m0-5h0m0 8h0m0-2h0m-1-11h0m0 9h0m0-1h0m0 7h0m-1-8h0m0-1h0m0 8h0m0-15h0m-1 6h0m0-6h0m0 9h0m0 8h0m0-14h0m-1 0h0m0 4h0m0-6h0m0 8h0m-2-3h0m0 3h0m0-1h0m0-5h0m-1 8h0m-1-9h0m0 3h0m0-5h0m0 17h0m0-14h0m-1-3h0m0 16h0m-1-7h0m-1 7h0m0-5h0m0-1h0m0-8h0m-1 14h0m0-14h0m-4 11h0m-1 4h0m-4-5h0m0 4h0m-5-2h0m-5 2h0m-6-16h0m-8 17h0m12 5h0m12-1h0m8 2h0m2-1h0m1-4h0m3 14h0m3-11h0m1 4h0m1-7h0m1 0h0m5 6h0m2-6h0m1 1h0m2 0h0" stroke="#FF2A00" stroke-width="3.75" stroke-linecap="round" fill="none"/>
<path transform="scale(0.333333)" d="M1024 81h0m36 4h0m-10 19h0m-8-5h0m-10 8h0m-2-11h0m-1 4h0m-7-8h0m-3 4h0m-2-3h0m-6 0h0m-4 12h0m-3-6h0m-9-1h0m-20 25h0m4 1h0m2 1h0m4-6h0m14 4h0m2 0h0m5-1h0m3-10h0m1 9h0m0 1h0m0-3h0m1-8h0m0 9h0m0-3h0m1 0h0m0 6h0m1-11h0m0 11h0m0-5h0m8-8h0m1 13h0m0-10h0m0-5h0m1 6h0m2-6h0m1 3h0m1 3h0m0-6h0m3 0h0m0 11h0m0-3h0m2-7h0m0 2h0m3 5h0m5 8h0m0-7h0m4-4h0m1-1h0m4 7h0m21-6h0m-2 14h0m-4 5h0m-21-5h0m-5 9h0m0-3h0m-1 8h0m-2 0h0m-10-15h0m-1 10h0m-1-1h0m0-6h0m-2 2h0m-3-4h0m0 10h0m0 2h0m-1 1h0m-1-6h0m-1-6h0m-2-2h0m0 9h0m-2 2h0m-1-8h0m-2 1h0m-1 10h0m0-12h0m-1 1h0m0 2h0m-1-3h0m-1 4h0m-1 8h0m-1-10h0m-1-1h0m-1-2h0m-1 7h0m-1-3h0m-1-2h0m-1 7h0m-1 1h0m-3 4h0m-4-8h0m-2 2h0m-1-8h0m0 11h0m-1-12h0m-2 10h0m-2 4h0m0-3h0m-1-2h0m0 3h0m-1 1h0m-6-1h0m-1 0h0m-12-2h0m-9 21h0m13-6h0m12-6h0m1 4h0m3 3h0m4-7h0m1 14h0m0-5h0m1-6h0m1-1h0m2-3h0m14 2h0m0 6h0m1-5h0m3-3h0m0 6h0m0 4h0m0 4h0m5-12h0m4 11h0m5-12h0" stroke="#FF2A00" stroke-width="3.75" stroke-linecap="round" fill="none"/>
<path transform="scale(0.333333)" d="M1060 122h0m7 2h0m-6 4h0m-1 5h0m0 6h0m-1-7h0m-6 11h0m0-5h0m-1 0h0m-1 2h0m-1-11h0m-5 10h0m-3-2h0m0 2h0m-1 3h0m-2-4h0m-1 2h0m-3 2h0m-1-3h0m0-1h0m-4 1h0m-9 1h0m-8 0h0m-26 19h0m7 1h0m2-2h0m0-4h0m4 6h0m2-9h0m1 9h0m0-10h0m1 10h0m2-4h0m2-9h0m0 4h0m1 5h0m0-1h0m1-6h0m1 7h0m0 2h0m1 0h0m0-5h0m1-2h0m0 4h0m1 4h0m1-3h0m0-7h0m0 6h0m0-5h0m0 9h0m1-10h0m0 11h0m1-3h0m0-7h0m1 7h0m2-6h0m0-3h0m3 1h0m0-5h0m0 9h0m0 8h0m1-11h0m0-5h0m2 2h0m0 11h0m1-5h0m0-7h0m0 1h0m1 8h0m0 6h0m1-13h0m0 4h0m2-6h0m0 8h0m0-3h0m1 0h0m1 4h0m3-7h0m1 8h0m0 3h0m1-9h0m0 2h0m1-3h0m0 6h0m1-10h0m4 5h0m1-6h0m2 2h0m6 1h0m0 2h0m1-4h0m0-1h0m1 4h0m-24 15h0m0 4h0m-1-5h0m0 4h0m-3-3h0m-3 11h0m-1 1h0m0-12h0m-1 4h0m-2 12h0m0-17h0m0 9h0m0 4h0m-1-11h0m0 4h0m-1 4h0m0-3h0m-1-4h0m-1 3h0m-1-5h0m-1 1h0m0 7h0m-1-6h0m0-1h0m-1 5h0m-1-3h0m0 1h0m0 4h0m-1-7h0m-1 8h0m0-7h0m-1-1h0m-1 9h0m0-7h0m0-1h0m-1-1h0m0 8h0m-1 5h0m0 1h0m0-5h0m-1-6h0m-1 3h0m-1-2h0m-1-2h0m0 6h0m0-8h0m-1 1h0m0 10h0m-1 0h0m-1-1h0m-1-8h0m-1 1h0m-1 10h0m0-10h0m0 2h0m-1 10h0m-1-3h0m-1-6h0m0-1h0m-1 6h0m0 1h0m-1-8h0m0 2h0m0-1h0m-1 6h0m0 2h0m-1 2h0m0-3h0m0 2h0m-1 1h0m-1-1h0m-1 0h0m0-7h0m0-7h0m0 15h0m-1-3h0m-3 2h0m-2 1h0m-6-3h0m-1 3h0m-5 0h0m-8-8h0m-15 19h0m13-1h0m0 1h0m1 1h0m5-2h0m1 7h0m1-12h0m0 11h0m1-8h0m0 4h0m2-11h0m2 3h0m1 2h0m0 9h0m1-1h0m0-5h0m0-7h0m1 1h0m0 1h0m2 6h0m1-2h0m0 2h0m0-7h0m0 4h0m0-3h0m2 4h0m1 3h0m0 1h0m0 4h0m1-5h0m1-7h0m1 8h0m0-10h0m0 9h0m1-9h0m1 12h0m2 1h0m0-14h0m1 9h0m0-5h0m1 2h0m1-6h0m1 2h0m0 1h0m1 13h0m0-5h0m1-10h0m0 2h0m0 1h0m1 8h0m0-11h0m1-1h0m2 9h0m2-5h0m10-1h0m8 5h0m-26 18h0m-3 4h0m-14-8h0m-5-3h0m-2-1h0m-5 5h0m-1-1h0m-1 2h0m0-5h0m-4 6h0m0-5h0m-4 5h0m0-5h0m-1 7h0m0-8h0m-4 3h0m-9 15h0m4 2h0" stroke="#1E3CFF" stroke-width="3.75" stroke-linecap="round" fill="none"/>
<path transform="scale(0.333333)" d="M988 161h0m7-3h0m1 0h0m14 3h0m4-6h0m-13 11h0m0 3h0m-1-1h0m-2 11h0m0-6h0m-2-3h0m0-1h0m0 4h0m-1-7h0m0-3h0m0 11h0m-1-11h0m-1 8h0m0-1h0m0 2h0m-1-9h0m0 6h0m-2 4h0m0-8h0m0 9h0m0 2h0m-1-7h0m0-3h0m0 9h0m0-3h0m-1 3h0m0 2h0m0-3h0m0 2h0m-1-5h0m0-8h0m0 9h0m0-3h0m-1 4h0m0-1h0m-1-5h0m0-1h0m0 9h0m0-7h0m-1 5h0m0-3h0m0-5h0m0 11h0m0 2h0m-1-2h0m0-5h0m0 6h0m0-7h0m0 9h0m-1-1h0m0-10h0m0 2h0m-1 7h0m0-1h0m-1-5h0m0-3h0m0 2h0m0 4h0m-1-5h0m0 9h0m-1-10h0m0 6h0m0 2h0m0 2h0m-1-6h0m0-3h0m0 9h0m-1-7h0m0 2h0m0-5h0m0 11h0m-1-9h0m-1-8h0m0 13h0m0-7h0m0 11h0m0-5h0m0 2h0m0-7h0m-1 4h0m0 6h0m0-5h0m0 4h0m-1 0h0m0-10h0m0 9h0m-1-7h0m0 6h0m0-5h0m0 7h0m-1-2h0m0-1h0m-1-3h0m-1 6h0m0-1h0m-2-4h0m-3 6h0m-2-2h0m-4 0h0m-2-3h0m-13 17h0m0 4h0m1-2h0m0-5h0m1 3h0m3-7h0m1-1h0m0 6h0m0-1h0m3 3h0m0 2h0m1-4h0m0 2h0m0-8h0m1 9h0m0-8h0m0 11h0m0-5h0m1 2h0m0-5h0m0 4h0m0-7h0m1 1h0m0 4h0m2-4h0m0 9h0m0-7h0m0-5h0m0 1h0m1 3h0m0 11h0m0-7h0m0-5h0m0 11h0m2-3h0m0-1h0m0-7h0m0-3h0m1 1h0m0 4h0m0-7h0m0 11h0m0-7h0m0 2h0m1 4h0m0 2h0m0-5h0m0-5h0m0 4h0m0 2h0m1 1h0m0 4h0m0-7h0m0 2h0m0 2h0m0-7h0m1-2h0m0 11h0m0 3h0m1-10h0m0 2h0m0-1h0m0 2h0m0-7h0m1 16h0m0-8h0m0-7h0m0 2h0m0 4h0m1-1h0m0 1h0m0-3h0m0 9h0m1-7h0m0-5h0m0 2h0m1-3h0m0 2h0m0 9h0m0-7h0m1 0h0m0-5h0m0 9h0m0-8h0m1 9h0m0-5h0m0-5h0m0 2h0m1-2h0m0 4h0m0-3h0m1 1h0m0-1h0m0 4h0m1 2h0m0-7h0m0 6h0m0 2h0m0-7h0m0 4h0m1 2h0m0-7h0m0 4h0m1 1h0m0-5h0m0 3h0m1-1h0m0 1h0m1 2h0m1-2h0m0-1h0m0 4h0m1 1h0m0-7h0m0 5h0m2-4h0m2 5h0m3-2h0m2-3h0m-35 20h0m-1-1h0m-6-2h0m-1 2h0" stroke="#A020F0" stroke-width="3.75" stroke-linecap="round" fill="none"/>
<path transform="scale(0.333333)" d="M1073 89h0m-9 4h0m-1 3h0m-2 3h0m0-1h0m0 9h0m-2-2h0m0 2h0m0-1h0m-1-15h0m-1 10h0m0 5h0m-3-6h0m-1-3h0m-1 9h0m-3 0h0m-1 0h0m-2-9h0m-1 5h0m-1 1h0m-1-3h0m-4-3h0m-3 9h0m-3-5h0m-18 11h0m2 7h0m1 3h0m12 1h0m2-14h0m3 2h0m0 1h0m1 13h0m3-11h0m1-3h0m1 13h0m0-10h0m0 3h0m0 1h0m1-2h0m1 5h0m1-5h0m4-3h0m0-4h0m1 5h0m2-3h0m0 9h0m1-8h0m0-1h0m1-3h0m1 4h0m0 12h0m0-7h0m1-4h0m1-2h0m0 6h0m14-3h0m2 3h0m-36 9h0m-9 1h0" stroke="#A020F0" stroke-width="3.75" stroke-linecap="round" fill="none"/>
<path transform="scale(0.333333)" d="M946 212h0m-2 2h0m-1-1h0m0-1h0m0 3h0m-1-4h0m0-6h0m0 4h0m-1-5h0m0 9h0m0-5h0m0-5h0m0-1h0m0 13h0m0-10h0m-1 2h0m0-5h0m0 13h0m0-10h0m0 4h0m0 4h0m-2 2h0m0-1h0m-1-5h0m-8 16h0m1 8h0m0-2h0m3 1h0m1-10h0m1 8h0m1-1h0m0-10h0m0 9h0m0-1h0m1-6h0m0 4h0m0 7h0m1-9h0m0 9h0m0-5h0m0-6h0m0 9h0m0-6h0m1 4h0m0-1h0m0 4h0m0-14h0m0 9h0m1-9h0m0 9h0m0 7h0m0-15h0m0 4h0m1 1h0m0-5h0m0 13h0m0-5h0m0-5h0m0-5h0m0 14h0m0-6h0m0 9h0m1 0h0m0-5h0m0-5h0m0-5h0m0 9h0m0 4h0m1-8h0m0 4h0m0-1h0m0-10h0m0 9h0m0 8h0m1-3h0m1 0h0m0-10h0m0 9h0m0 4h0m0-5h0m0-1h0m0-5h0m1 1h0m0-1h0m0 9h0m0-10h0m0-1h0m2-1h0m0 12h0m1-1h0m0-5h0m14 20h0m-5 2h0m0-1h0m-1-9h0m-1 13h0m-1 0h0m0-16h0m-1 16h0m0-4h0m-1-2h0m0-8h0m0 4h0m0 9h0m-1-2h0m0-1h0m0 3h0m0-11h0m-1 7h0m0 3h0m0 2h0m-1-6h0m0-5h0m0-1h0m0 8h0m0 3h0m-1-8h0m0 9h0m0-5h0m0-2h0m0 4h0m-1-4h0m0-5h0m0 13h0m0-14h0m0-1h0m0 4h0m-1 6h0m0-5h0m0 8h0m0-5h0m0-5h0m0 9h0m-1 3h0m0-14h0m0 9h0m0-10h0m0 7h0m0 4h0m-1 1h0m0-14h0m0 13h0m0-10h0m0 9h0m0 4h0m0-5h0m0-5h0m-1 7h0m0-5h0m0 9h0m0-14h0m0 9h0m0-1h0m0 4h0m0-5h0m0-10h0m-1 16h0m0-14h0m0 9h0m0-5h0m0-5h0m0 13h0m0-1h0m0 4h0m0-5h0m-1-6h0m0 9h0m0-10h0m0 9h0m0-14h0m0 13h0m0-5h0m0-5h0m0 13h0m0-14h0m0 9h0m-1 6h0m0-10h0m0 9h0m0-14h0m0 9h0m0-10h0m0 13h0m0-14h0m0 9h0m0 4h0m-1 2h0m0-14h0m0 13h0m0-14h0m0 9h0m0-5h0m0 4h0m0 9h0m0-14h0m0 9h0m-1-2h0m0 4h0m0-5h0m0-5h0m0 3h0m0 9h0m0-10h0m-1 11h0m0-10h0m0 9h0m0-5h0m0 4h0m0-14h0m0-1h0m0 9h0m-1-3h0m0 4h0m0-10h0m0 9h0m0 4h0m0 4h0m0-5h0m0 4h0m-1 0h0m0-1h0m-1-12h0m0 9h0m0-10h0m0 7h0m0-1h0m-1 7h0m0-14h0m0 8h0m0-5h0m0 9h0m0 4h0m0-5h0m0-1h0m-1-3h0m0-6h0m0 3h0m0-5h0m-1 14h0m0-1h0m0-11h0m0 9h0m-1-3h0m0-5h0m-1 10h0m0 2h0m0-1h0m0-10h0m-1 12h0m-1 1h0m0-1h0m-1-8h0m0 6h0m0-14h0m-2 17h0m-11-15h0m0 30h0m0-10h0m1 11h0m2-1h0m3-14h0m0 13h0m0-1h0m1-6h0m0 9h0m0-10h0m1 3h0m0-5h0m0-2h0m1 4h0m0 2h0m1 5h0m1-8h0m0 11h0m0-5h0m1-3h0m0-2h0m1 8h0m0-5h0m0 9h0m0-10h0m0 7h0m1-1h0m0-10h0m0 9h0m0-6h0m1-6h0m0 4h0m0 9h0m1 1h0m0-14h0m0 4h0m0 2h0m0 9h0m0-14h0m0 9h0m1-4h0m0 9h0m0-5h0m0 4h0m0-14h0m0 9h0m0 3h0m0 4h0m1-1h0m0-5h0m0 3h0m0-5h0m0-6h0m1 1h0m0 9h0m0 3h0m0-14h0m1 15h0m0-14h0m0 8h0m0-5h0m0 9h0m0-14h0m0 8h0m0 9h0m0-5h0m0-5h0m1 0h0m0 9h0m0-5h0m0 4h0m0-1h0m0-1h0m0-5h0m1 1h0m0 8h0m0-5h0m0-5h0m0-5h0m1 5h0m0-1h0m0-5h0m0 9h0m0 4h0m0-10h0m0 4h0m0 9h0m0-14h0m0 9h0m1-8h0m0 9h0m0-5h0m0 9h0m0-14h0m0 4h0m0-5h0m0 9h0m0-10h0m0 9h0m0-5h0m0 9h0m1-13h0m0 8h0m0-5h0m0 9h0m0-10h0m0 4h0m0 9h0m0-10h0m0 9h0m1 1h0m0-14h0m0 4h0m0 9h0m0-5h0m0-5h0m0 3h0m0 4h0m1-9h0m0 4h0m0 4h0m0 4h0m0-14h0m0 4h0m1 10h0m0-14h0m0 9h0m0-5h0m0 8h0m0-10h0m0 9h0m0-10h0m0 9h0m1-4h0m0 4h0m0-5h0m0 9h0m0-5h0m0-5h0m0 9h0m0-2h0m1-3h0m0 4h0m0-5h0m0 4h0m0-10h0m0-1h0m1 15h0m0-5h0m0-5h0m0 9h0m0-14h0m0 9h0m0 4h0m0-5h0m0-5h0m0 9h0m0-10h0m0 4h0m1 1h0m0-6h0m0 9h0m0-5h0m0-5h0m0 4h0m0 9h0m0-5h0m1 4h0m0-5h0m0 8h0m0-14h0m0 13h0m0-14h0m0 9h0m0-10h0m1 6h0m0 9h0m0-10h0m0 9h0m0-6h0m0 9h0m1-13h0m0 9h0m0 4h0m0-1h0m0-5h0m0 4h0m1-10h0m0 9h0m0-7h0m0 9h0m1 0h0m0-11h0m0-5h0m0 9h0m0-5h0m0 4h0m0 4h0m0-5h0m1 6h0m0-5h0m0 9h0m0-5h0m0-5h0m0 9h0m0-10h0m0 9h0m1-4h0m0-5h0m0 4h0m0-2h0m0 9h0m0-15h0m1 14h0m0-15h0m0 9h0m0-6h0m0-1h0m1 10h0m0-5h0m0 4h0m0-7h0m0 9h0m1-8h0m0 3h0m0-6h0m1 10h0m0-12h0m0-1h0m0 9h0m1-4h0m0 9h0m0-1h0m0 4h0m1-6h0m0-11h0m0 7h0m1 2h0m1 3h0m0 4h0m1-6h0m0-1h0m1-1h0m1 6h0m1-11h0m0 3h0m0 9h0m0-1h0m7 2h0m3 5h0m-5 3h0m0 2h0m-1-7h0m-1 14h0m-1-9h0m-1-2h0m0 8h0m-1 0h0m0 4h0m-1-4h0m-1-5h0m-1 8h0m0-14h0m0 12h0m0-5h0m0 9h0m-1-13h0m0 13h0m0-14h0m-1 2h0m0-5h0m0 6h0m-1 5h0m0 3h0m0-14h0m0 4h0m-2 0h0m0 9h0m0-12h0m0 9h0m-1 2h0m0 4h0m0-14h0m0 13h0m0-14h0m0 4h0m0 9h0m-1-1h0m0-5h0m0-7h0m-1 6h0m0-6h0m0 7h0m-1-3h0m0 3h0m0-5h0m-1 1h0m0 9h0m0 4h0m0-1h0m-1 1h0m0-5h0m0 4h0m0-5h0m0-11h0m0 9h0m-1-8h0m0-1h0m0 9h0m0-5h0m0 11h0m-1-3h0m0-5h0m0-1h0m0-5h0m0 9h0m-1-4h0m0-5h0m0 4h0m0 9h0m0-1h0m-1 1h0m0-5h0m0-5h0m0 3h0m0-6h0m-1 12h0m0-6h0m0 9h0m0-14h0m0 13h0m-1-13h0m0 9h0m0 4h0m0-5h0m0-5h0m0 9h0m0-14h0m0 4h0m0 4h0m0-5h0m0 9h0m-1-2h0m0-6h0m0 8h0m0-5h0m0 9h0m0-14h0m-1 15h0m0-6h0m0-5h0m0 4h0m0-5h0m0 4h0m0 4h0m0-5h0m-1 7h0m0-15h0m0 13h0m0-10h0m0-1h0m0 9h0m-1-6h0m0 4h0m0-5h0m0 4h0m0 9h0m0-14h0m0 13h0m0-10h0m0 9h0m-1 0h0m0-14h0m0 4h0m0 4h0m0 4h0m-1-3h0m0 4h0m0-5h0m0-5h0m0 7h0m-1-11h0m0 7h0m0 9h0m0-5h0m0-5h0m0 4h0m0-5h0m-1 7h0m0-5h0m0 9h0m0-10h0m0-5h0m0 9h0m0-5h0m0-5h0m-1 15h0m0-5h0m0-10h0m0 9h0m0-5h0m0 9h0m0-5h0m0-5h0m0 9h0m0-5h0m0 9h0m0-14h0m0 4h0m0-5h0m-1 2h0m0 8h0m0-10h0m0 4h0m0 9h0m0-5h0m-1-7h0m0 9h0m0 4h0m0-3h0m-1-2h0m0-10h0m0 9h0m0 4h0m0-5h0m0-1h0m0 9h0m0-14h0m-1 4h0m0 4h0m0-10h0m0 13h0m-1 2h0m0-10h0m0 4h0m0-6h0m0 9h0m0-10h0m-1 3h0m0 8h0m0-10h0m0 13h0m0-10h0m0 4h0m-1 2h0m0-5h0m-1-2h0m0-5h0m0 9h0m0-8h0m-1 6h0m0-6h0m-1 11h0m0 4h0m0-8h0m-1 9h0m0-2h0m-1 1h0m-1-5h0m0-10h0m0 9h0m0 3h0m-1 2h0m0-8h0m-1 1h0m0 8h0m-1-2h0m0-3h0m-3-8h0m0 13h0m-2-11h0m-1 6h0m-6-3h0m7 16h0m3 7h0m0-10h0m0-1h0m4-2h0m1 5h0m0 8h0m1 1h0m2-13h0m0 9h0m0-5h0m0-5h0m2 9h0m0 4h0m0-5h0m0-1h0m1 2h0m1-5h0m0-1h0m1 6h0m1-1h0m0-6h0m0-1h0m0 4h0m1 3h0m1-8h0m0 17h0m1-4h0m0-11h0m0 4h0m0 9h0m0-1h0m0-14h0m1 2h0m1 10h0m0 4h0m0-2h0m1-10h0m0-1h0m0 8h0m0-5h0m1 0h0m0-1h0m0 9h0m0-11h0m0 13h0m1-8h0m0-5h0m0-1h0m0 4h0m0-6h0m1 5h0m0 4h0m0-1h0m0 4h0m0-5h0m0 9h0m1-10h0m0-5h0m0-1h0m0 17h0m0-14h0m0 4h0m0-5h0m1 4h0m1 9h0m0-14h0m0 9h0m1-1h0m0 4h0m0-5h0m1-4h0m0-2h0m0 9h0m0-10h0m1 9h0m0-5h0m0 4h0m0-7h0m1 0h0m0-2h0m1 10h0m0-5h0m1-4h0m0-1h0m0 11h0m1-4h0m0-7h0m0 4h0m1 4h0m0-6h0m1 0h0m0 7h0m0-5h0m0 4h0m0-5h0m1 8h0m0 4h0m1-15h0m0 3h0m0 8h0m1 5h0m0-7h0m0-5h0m1 0h0m0 5h0m1-6h0m1 0h0m0 4h0m1-6h0m0-1h0m0 8h0m2-1h0m1 6h0m1-1h0m3 5h0m0-12h0m0-5h0m7 16h0m1-16h0m3 11h0m2 4h0m-2 5h0m0-1h0m-1 2h0m-4-3h0m-3 3h0m0-1h0m-3 6h0m-6-2h0m0-3h0m-3 1h0m-5 2h0m-1-4h0m-1 4h0m-5 2h0m0-8h0m-1 3h0m-2 0h0m-1 11h0m0-11h0m-2 2h0m-1-4h0m0 2h0m-1 12h0m-1-9h0m-1 7h0m-2-10h0m-5-3h0m0 10h0m-5 5h0m-1 0h0m-1-11h0m-3-2h0m-4 13h0m-3-7h0m-2-1h0m15 21h0m1 2h0m8-10h0m8 1h0m0-1h0m1-1h0m0 15h0m1-16h0m6 3h0m1 2h0m7 2h0m4-2h0m48 1h0" stroke="#FF2A00" stroke-width="3.75" stroke-linecap="round" fill="none"/>
<path transform="scale(0.333333)" d="M953 215h0m-36 18h0m17 0h0m4-10h0m3 10h0m4-13h0m1-4h0m13 13h0m16 20h0m-6-7h0m-7-6h0m-3 5h0m-6 4h0m0 4h0m-2 0h0m0-6h0m0 8h0m0-1h0m-2 0h0m0-5h0m-2 6h0m-1 0h0m0-11h0m-1-3h0m0 9h0m-1 3h0m-1-15h0m-1 15h0m0-1h0m0 2h0m-4-16h0m-3 14h0m0-5h0m0 8h0m-1-4h0m-1 0h0m0-12h0m-1 9h0m0-2h0m-1 2h0m0 7h0m0-1h0m-1-4h0m0-7h0m-1 8h0m-2 1h0m-1-13h0m0 6h0m-1-6h0m0 13h0m-1 3h0m-3-2h0m-3-8h0m0 9h0m-1-12h0m0 6h0m-6-10h0m-4 7h0m-8 9h0m-9-11h0m10 15h0m3 15h0m7-1h0m5-9h0m0 8h0m0-12h0m1 5h0m1 6h0m1-7h0m0-1h0m0-6h0m0 13h0m1-4h0m0 3h0m0-7h0m1-1h0m0 9h0m0-1h0m1-5h0m0-5h0m0 4h0m1 9h0m0-15h0m2 16h0m0-14h0m0 9h0m0-1h0m0 3h0m0-1h0m1 1h0m0-5h0m0 9h0m0-10h0m0-7h0m1 14h0m0-1h0m0-5h0m0-5h0m1 14h0m0-10h0m0 3h0m0 4h0m1-7h0m0 7h0m1 1h0m0-10h0m0-2h0m1 14h0m0-6h0m0-5h0m0 9h0m0-5h0m1-4h0m0-5h0m0 7h0m1-3h0m0-1h0m0 9h0m0-6h0m1-5h0m0 3h0m0 9h0m1-9h0m0-1h0m0 9h0m0 4h0m1-12h0m0 8h0m0 4h0m1-8h0m0-1h0m0 9h0m0-1h0m1-14h0m0 9h0m0 4h0m0-15h0m0 8h0m1 4h0m0-5h0m1 7h0m0 3h0m0-2h0m2-2h0m0 1h0m0-14h0m1 17h0m0-6h0m1-9h0m0 9h0m0-1h0m1-5h0m0 12h0m0-5h0m0 4h0m1 0h0m0-1h0m0-14h0m0 11h0m1 0h0m0-8h0m1 10h0m0-2h0m0 3h0m0-5h0m0-5h0m1 3h0m1 4h0m0 3h0m0-1h0m1 0h0m1 1h0m1-1h0m0-4h0m1 7h0m0-1h0m2-4h0m0 4h0m1-6h0m2-4h0m0 4h0m2 7h0m0-7h0m0-10h0m2 11h0m2-3h0m1 1h0m1-6h0m2-1h0m6 10h0m-1 8h0m0 9h0m-1-11h0m-6 6h0m-1-3h0m-2 4h0m-1 3h0m0 4h0m-1-10h0m-2 4h0m-1-2h0m-1-3h0m0 8h0m-3-3h0m-1 4h0m-1-2h0m0-2h0m0 8h0m0-14h0m0 9h0m-1-1h0m0-2h0m-1 2h0m0-1h0m0-5h0m0 2h0m-1 7h0m-1-8h0m0-5h0m0 4h0m-1 11h0m0-1h0m-1-2h0m0 3h0m-1 1h0m0-1h0m0-10h0m0 7h0m-1-3h0m0-5h0m-1-2h0m0 4h0m0 3h0m0 4h0m-1-12h0m-1 3h0m0 13h0m0-2h0m-1-3h0m0-6h0m0 4h0m0-6h0m-1 13h0m0-14h0m0 9h0m-1-12h0m0 13h0m0-5h0m0 9h0m0-6h0m0 4h0m0-14h0m0 9h0m-1-3h0m0 9h0m0-5h0m0-1h0m0 4h0m0-1h0m-1-13h0m0 9h0m0-6h0m0 4h0m0-1h0m-1 2h0m0 7h0m0-1h0m-1-12h0m0 9h0m0-5h0m0-1h0m0 4h0m-1-5h0m0-1h0m-1 4h0m0-1h0m0 8h0m0-6h0m-1-4h0m0-2h0m-1 6h0m0-1h0m0 9h0m0-14h0m0 9h0m-1-5h0m0 8h0m0-5h0m0-1h0m-1 9h0m0-6h0m0-5h0m-1 1h0m0-6h0m-1 2h0m0 4h0m0 9h0m0-14h0m0 3h0m0 8h0m0-5h0m0 9h0m-1-12h0m0-1h0m0-1h0m0-1h0m-1 10h0m-1-11h0m0-1h0m-1 4h0m-1 11h0m-1-1h0m0-6h0m0 9h0m0-7h0m-1-6h0m0 4h0m0 7h0m-1 1h0m0-14h0m0 13h0m-1-10h0m0 2h0m-1 9h0m-1-13h0m0 3h0m0 8h0m-1-5h0m-1 2h0m0-5h0m-1-5h0m0 10h0m-1-2h0m-1-7h0m-3 0h0m-4 12h0m-5-2h0m16 6h0m0 3h0m1-2h0m2 4h0m2-1h0m0 7h0m1-8h0m0 9h0m2-6h0m0 3h0m0-6h0m1 9h0m1 5h0m0-12h0m1-3h0m1 10h0m0-6h0m0-1h0m0-5h0m0 4h0m1 13h0m0-5h0m1-2h0m0-3h0m1 6h0m0-3h0m1-10h0m0 7h0m0-1h0m1 0h0m0-2h0m0 3h0m0-5h0m1 11h0m0-5h0m1 5h0m0-11h0m1 12h0m0-6h0m1 4h0m0 2h0m0-14h0m1 14h0m0-14h0m0 9h0m1-3h0m1-2h0m1 8h0m0-5h0m1 2h0m0 4h0m0-3h0m0 4h0m1 0h0m0-11h0m0-1h0m1 4h0m0 3h0m1-1h0m0 4h0m0-6h0m0 9h0m2-5h0m0-5h0m0 8h0m1 0h0m0-11h0m0 9h0m1-10h0m1 0h0m0 8h0m1 5h0m1-13h0m0 9h0m0 3h0m0-11h0m1 15h0m0-14h0m1 9h0m1-11h0m0 12h0m3-2h0m0-1h0m2-1h0m1 2h0m0-6h0m1 0h0m0 8h0m2-11h0m1 10h0m1-4h0m-1 11h0m-1 3h0m-8-4h0m-1 0h0m-1 6h0m-1-3h0m0 4h0m-1 3h0m0-6h0m-1 2h0m-1-3h0m0 12h0m-1-6h0m-1 0h0m-2 7h0m-2-16h0m-1 4h0m0-2h0m0 4h0m-6 6h0m-1-9h0m0 6h0m-2-7h0m0-2h0m-1 8h0m-1-7h0m-1 4h0m-2-1h0m-3 10h0m-5-9h0m-2-5h0m-3 0h0m-2 0h0m-9 5h0m1 15h0m15 0h0m1 9h0m22 2h0m12-13h0" stroke="#FF2A00" stroke-width="3.75" stroke-linecap="round" fill="none"/>
<path transform="scale(0.333333)" d="M872 267h0m26 14h0m-10 5h0m-4-1h0m-2-1h0m-2-5h0m-1 8h0m-1-3h0m-1 2h0m-3-8h0m-3 4h0m-2 4h0m-2-14h0m0 9h0m0-7h0m-2 10h0m0-7h0m-2 8h0m-10-1h0m-4 0h0m3 8h0m1 10h0m1-9h0m6 0h0m3-3h0m0 9h0m1-8h0m1 4h0m1-5h0m0 12h0m0-14h0m2 4h0m0 8h0m1-11h0m0 12h0m1-3h0m3 4h0m2-3h0m0-8h0m1 6h0m0 8h0m2-4h0m0-11h0m2 14h0m0-4h0m1-10h0m1 3h0m1 2h0m1-1h0m2 11h0m1-15h0m0-1h0m4 16h0m2-4h0m8-8h0m2-3h0m7 17h0m-10 0h0m-14 7h0m-3 9h0m-5-17h0m-1 11h0m-1-11h0m-8 2h0m-3-1h0m-1 6h0m-8 3h0m-2-7h0m-12-3h0" stroke="#FF2A00" stroke-width="3.75" stroke-linecap="round" fill="none"/>
<path transform="scale(0.333333)" d="M940 203h0m0 1h0m-1 0h0m0-1h0m0-1h0m-1 2h0m0-1h0m0-1h0m-1 4h0m0-1h0m0 4h0m0-5h0m0 8h0m-1-6h0m0-1h0m0 4h0m0-5h0m0 9h0m0-5h0m0-5h0m0 9h0m-1-4h0m0-1h0m0 4h0m0-5h0m-1 5h0m0-5h0m0 4h0m0-5h0m0 4h0m0-1h0m0 4h0m-1-3h0m0 4h0m0-2h0m0-5h0m0 9h0m0-5h0m0-5h0m-1 3h0m0 6h0m0-5h0m0-5h0m-1 7h0m0-1h0m0 4h0m0-5h0m0 4h0m0-5h0m0 4h0m-1 2h0m0-5h0m0 4h0m0-5h0m0 4h0m0 3h0m-1-4h0m0 4h0m0-6h0m0 4h0m-1-3h0m0 3h0m0-5h0m-1 4h0m-1 3h0m0-1h0m0-2h0m-1 1h0m0-2h0m0 4h0m-1-4h0m0 4h0m0-1h0m-1-3h0m-1 2h0m0-3h0m0 4h0m-1-3h0m0 4h0m-1-4h0m0 4h0m0-2h0m-2 1h0m0-5h0m-2 5h0m0 1h0m-1 0h0m-1-3h0m0 3h0m-1-1h0m-3 0h0m0-1h0m-7 2h0m-3-2h0m-2-1h0m-6 3h0m-8-2h0m-27 7h0m3 2h0m6 4h0m12-5h0m2 8h0m1-3h0m2 6h0m1-3h0m2 0h0m0 4h0m2-9h0m0 3h0m1 6h0m0-5h0m0 4h0m1-12h0m1 13h0m1-11h0m1-1h0m0 8h0m0-1h0m0 4h0m0-1h0m1-15h0m0 4h0m1 13h0m0-15h0m0 7h0m1-4h0m0 12h0m0-15h0m0 13h0m1 1h0m0-2h0m0-1h0m1 0h0m0-1h0m0-2h0m0 4h0m1-14h0m0 17h0m0-15h0m0 13h0m1 2h0m0-5h0m0 2h0m0-1h0m1 1h0m0-1h0m0-5h0m0 9h0m0-1h0m0-5h0m0-1h0m1 0h0m0 4h0m0 3h0m0-5h0m1-5h0m0 9h0m0-10h0m0 9h0m0-5h0m0-5h0m0 12h0m1-7h0m0 7h0m1-1h0m0-14h0m0 9h0m0-5h0m0 9h0m0-5h0m0 4h0m0-10h0m1 13h0m0-13h0m0 12h0m0-11h0m0 4h0m1 4h0m0 3h0m1-5h0m0 2h0m0-5h0m0 9h0m1-4h0m0-5h0m0 9h0m0-5h0m0-5h0m0 9h0m0-5h0m0-5h0m0 9h0m0-1h0m1-9h0m0 9h0m0-5h0m0 8h0m0-5h0m0-5h0m0 4h0m1-3h0m0-5h0m0 13h0m0-14h0m0 9h0m0 4h0m0-5h0m0-5h0m0 9h0m0-5h0m1-9h0m0 9h0m0 8h0m0-5h0m0 4h0m0-5h0m0-5h0m0 4h0m1 1h0m0 4h0m0-1h0m0-5h0m0 3h0m0-5h0m0 9h0m1 1h0m0-5h0m0-5h0m0 9h0m0-5h0m0 4h0m0-5h0m0 4h0m0-6h0m1 2h0m0 3h0m0 4h0m0-1h0m0-5h0m0-5h0m1 10h0m0-14h0m0 9h0m0-5h0m0 9h0m0-10h0m0 9h0m0-5h0m0-5h0m0 9h0m0-10h0m0 14h0m0-5h0m1-4h0m0 9h0m0-14h0m0 9h0m0 4h0m0-5h0m0-5h0m0-1h0m0 9h0m0-5h0m0-5h0m1 6h0m0-5h0m0 4h0m0 8h0m0-10h0m0 9h0m0-14h0m0 9h0m0-5h0m1-3h0m0 9h0m0-5h0m0 9h0m0-5h0m0-5h0m0-5h0m0 9h0m0-5h0m0 4h0m0 4h0m1-13h0m0 13h0m0 4h0m0-14h0m0 9h0m0-5h0m0-5h0m0 8h0m1-9h0m0 4h0m0 9h0m0-5h0m0-5h0m0 9h0m0 3h0m0-14h0m0 4h0m1 1h0m0 9h0m0-14h0m0 4h0m0 9h0m0-14h0m0 4h0m0 9h0m0-1h0m0-5h0m1 2h0m0-5h0m0-5h0m0 13h0m0-5h0m0-5h0m0 9h0m0-5h0m0 9h0m0-14h0m0 4h0m0-5h0m1 1h0m0 9h0m0-5h0m0-5h0m0 9h0m0 4h0m0-14h0m0 9h0m0-5h0m0 13h0m0-14h0m0 13h0m1-13h0m0 4h0m0 4h0m0-5h0m0-5h0m0 9h0m0 4h0m0-1h0m0 4h0m1-12h0m0-5h0m0 4h0m0-1h0m0 14h0m0-5h0m0-1h0m0-5h0m0 9h0m0-14h0m0 9h0m1 2h0m0-5h0m0 9h0m0-14h0m0 9h0m0-10h0m0 9h0m0-5h0m0 9h0m0-14h0m0 9h0m0-6h0m1 10h0m0-1h0m0 4h0m0-15h0m0 3h0m0-4h0m0 9h0m1-4h0m0-5h0m0 9h0m0-5h0m0 9h0m0-10h0m0-1h0m0 9h0m0-10h0m0 9h0m1 2h0m0 4h0m0-14h0m0 9h0m0 3h0m0-10h0m0 9h0m0-10h0m1 11h0m0-14h0m0 9h0m0-5h0m0 4h0m0 9h0m0-10h0m0-1h0m0 9h0m1-5h0m0-10h0m0 14h0m0-2h0m0-5h0m0 9h0m0-14h0m1 0h0m0-2h0m0 13h0m0 4h0m1-17h0m0 3h0m0 4h0m0-5h0m0-1h0m1 6h0m0-1h0m0-5h0m0 9h0m0 7h0m1-10h0m0-6h0m0 4h0m0 4h0m1-6h0m2 13h0m1-3h0m0 22h0m-4-12h0m-2 8h0m0-5h0m-1-1h0m-1-7h0m0 12h0m0-5h0m-1 5h0m0-1h0m-1-3h0m0-5h0m0 2h0m0 4h0m-1-5h0m0 12h0m-1-8h0m0 8h0m0-10h0m0 9h0m0-14h0m0 4h0m0-5h0m-1 7h0m0 8h0m0-10h0m0-1h0m-1 10h0m0-10h0m0 3h0m0 9h0m0-14h0m-1 10h0m0-5h0m0-5h0m0 9h0m0-6h0m0-5h0m-1 2h0m0-1h0m0 4h0m0 3h0m0-5h0m-1-2h0m0 9h0m0-5h0m0-5h0m0 4h0m0 9h0m0-5h0m0-5h0m0 9h0m-1 1h0m0-10h0m0 13h0m0-14h0m0 13h0m0-15h0m0 9h0m0-5h0m-1 2h0m0-5h0m0 9h0m0-5h0m0-1h0m0 7h0m-1-6h0m0-5h0m0 4h0m0-1h0m0 4h0m0-5h0m0 4h0m-1 7h0m0-10h0m0-1h0m0 13h0m0-10h0m-1 6h0m0-5h0m0-5h0m0 9h0m0 4h0m0-14h0m0 3h0m0 13h0m0-14h0m-1 2h0m0 9h0m0-5h0m0 9h0m0-1h0m0-14h0m0-1h0m0 4h0m-1 11h0m0-14h0m0-1h0m0 4h0m0 9h0m0-5h0m0-5h0m0 9h0m0 4h0m0-5h0m-1-1h0m0-5h0m0 9h0m0-10h0m0-5h0m0 4h0m0 4h0m0-5h0m0-1h0m-1 6h0m0-5h0m0 9h0m0-10h0m0 9h0m0-5h0m0-5h0m0 4h0m0 9h0m0-14h0m-1 2h0m0 13h0m0-5h0m0-5h0m0-2h0m0 9h0m0 4h0m-1-6h0m0-5h0m0-5h0m0 4h0m0-1h0m0 9h0m0-5h0m0-5h0m0 9h0m0-5h0m-1 7h0m0-5h0m0 4h0m0-6h0m-1-5h0m0 4h0m0 9h0m0-14h0m0 4h0m0 4h0m0-5h0m0 13h0m0-5h0m-1 2h0m0-1h0m0-5h0m0-5h0m0 9h0m0 4h0m0-14h0m0 4h0m0 9h0m-1-11h0m0-1h0m0 9h0m0-5h0m0-5h0m0 9h0m0-5h0m0 9h0m0-10h0m-1 2h0m0-6h0m0 13h0m0 4h0m0-5h0m0-5h0m0-5h0m0 9h0m-1-3h0m0-5h0m0 9h0m0-5h0m0-5h0m0 9h0m0-6h0m0 9h0m0-5h0m-1-2h0m0 9h0m0-5h0m0-5h0m0-5h0m0 9h0m0-5h0m0 4h0m0-1h0m-1-2h0m0-6h0m0 13h0m0-6h0m0-5h0m-1 10h0m0-5h0m0-1h0m0-5h0m0 3h0m-1 2h0m0-2h0m0 9h0m0 4h0m0-15h0m-1-1h0m0 4h0m0 4h0m0 8h0m0-14h0m0 4h0m0 9h0m-1-3h0m0 4h0m0-14h0m0 4h0m0 9h0m0-14h0m0-1h0m0 9h0m0 4h0m-1-13h0m0 13h0m0-5h0m0-5h0m0 9h0m0-10h0m0-1h0m-1 7h0m0-5h0m0 13h0m0-5h0m0-5h0m0 4h0m0-5h0m0-5h0m0 9h0m0 4h0m-1-11h0m0 9h0m0-6h0m0 4h0m0-5h0m0-5h0m-1 6h0m0-1h0m0-5h0m0 17h0m0-10h0m0 9h0m0-5h0m-1 1h0m0-5h0m0 4h0m0-1h0m0-1h0m-1-3h0m0 9h0m0-14h0m0-1h0m0 4h0m0 9h0m0 4h0m-1-11h0m-1 1h0m0 9h0m0-5h0m0 3h0m-1-7h0m-1 1h0m0-1h0m0 9h0m0-10h0m-1 1h0m0-1h0m0 9h0m0-1h0m-1 1h0m0-1h0m-1-5h0m0-5h0m-1-4h0m0 13h0m-1 2h0m-1-7h0m-1-7h0m0 3h0m-1 2h0m0 9h0m-1-5h0m-2-4h0m-1-3h0m0 2h0m-2-5h0m-3 12h0m-1 1h0m-1-2h0m-8 5h0m6 3h0m3 7h0m1-3h0m8 1h0m1 11h0m2-1h0m0-6h0m2-4h0m0 9h0m1-7h0m0-5h0m1 11h0m0 3h0m2-9h0m0-5h0m0-2h0m1 1h0m0 8h0m0-10h0m2 1h0m1 9h0m0-5h0m0-2h0m0-3h0m1 1h0m0 4h0m1-4h0m0-1h0m0 8h0m1-8h0m1 5h0m0-5h0m0 1h0m1 6h0m1 2h0m1-8h0m1-1h0m1 8h0m2-6h0m0-1h0m0 2h0m1-1h0m0 8h0m1 1h0m0 4h0m0-12h0m1-1h0m0 4h0m0 4h0m1 6h0m0-6h0m1-3h0m0-5h0m0 13h0m0-11h0m0 4h0m0-5h0m1-3h0m0 4h0m0 9h0m0-11h0m1-1h0m0 9h0m0-10h0m0 11h0m1-6h0m1-1h0m0 7h0m1 0h0m0-5h0m0-6h0m1 1h0m0 13h0m0-10h0m0-1h0m1-1h0m1 14h0m0 1h0m2-17h0m0 3h0m0 9h0m0-10h0m1-2h0m0 14h0m1-10h0m0-2h0m0 9h0m0 4h0m0-10h0m0-5h0m2 3h0m1 4h0m0-7h0m1 7h0m1 1h0m0 8h0m0-16h0m1 6h0m1 1h0m1-7h0m6 11h0m-12 11h0m-1-4h0m-2 15h0m-5-7h0m-1-7h0m-4 7h0m0 3h0m-1-10h0m-1 1h0m-5 7h0m-4 8h0m-1-17h0m-2 1h0m-9 1h0m-3 13h0m0-12h0m-1-2h0m-1 5h0" stroke="#A020F0" stroke-width="3.75" stroke-linecap="round" fill="none"/>
<path transform="scale(0.333333)" d="M889 243h0m-41 7h0m-12-4h0m-19 17h0m2 6h0m4 0h0m1-16h0m2 4h0m5-5h0m3 12h0m13-2h0m1-10h0m2 8h0m4-8h0m3 10h0m2-9h0m0 9h0m0-7h0m3 14h0m10-1h0m2 0h0m9 0h0m5-2h0m12-5h0m-8 17h0m-10 6h0m-8-8h0m-1 1h0m-3 9h0m-3-11h0m-3-5h0m-3 14h0m0-1h0m-1-4h0m-3 5h0m-2-4h0m-1-7h0m0-1h0m-3 11h0m0-1h0m0-10h0m-1 11h0m-1 3h0m-4-2h0m-1-2h0m-1-12h0m-5 3h0m0 9h0m-2-2h0m-4-5h0m0-4h0m-5 10h0m-3-7h0m-13 8h0m-8 2h0m26 9h0m0-4h0m2 12h0m1-13h0m10 15h0m1-5h0m0 1h0m7-2h0m3-7h0m4 5h0m6-2h0m-9 16h0m-6 14h0m-16-14h0m-11 5h0" stroke="#A020F0" stroke-width="3.75" stroke-linecap="round" fill="none"/>
<rect x="257.8" y="13.3" width="117.40" height="103.40" fill="none" stroke="#555" stroke-width="0.7"/>
<line x1="281.80" y1="116.70" x2="281.80" y2="119.30" stroke="#555" stroke-width="0.5" />
<text x="281.80" y="126.00" font-size="5.3" fill="#222" text-anchor="middle" >-5</text>
<line x1="313.60" y1="116.70" x2="313.60" y2="119.30" stroke="#555" stroke-width="0.5" />
<text x="313.60" y="126.00" font-size="5.3" fill="#222" text-anchor="middle" >0</text>
<line x1="345.40" y1="116.70" x2="345.40" y2="119.30" stroke="#555" stroke-width="0.5" />
<text x="345.40" y="126.00" font-size="5.3" fill="#222" text-anchor="middle" >5</text>
<line x1="255.20" y1="93.60" x2="257.80" y2="93.60" stroke="#555" stroke-width="0.5" />
<text x="252.60" y="93.60" font-size="5.3" fill="#222" text-anchor="middle" transform="rotate(-90 252.60 93.60)" >-5</text>
<line x1="255.20" y1="66.60" x2="257.80" y2="66.60" stroke="#555" stroke-width="0.5" />
<text x="252.60" y="66.60" font-size="5.3" fill="#222" text-anchor="middle" transform="rotate(-90 252.60 66.60)" >0</text>
<line x1="255.20" y1="39.60" x2="257.80" y2="39.60" stroke="#555" stroke-width="0.5" />
<text x="252.60" y="39.60" font-size="5.3" fill="#222" text-anchor="middle" transform="rotate(-90 252.60 39.60)" >5</text>
<text x="316.40" y="134.70" font-size="6.6" fill="#222" font-weight="bold" text-anchor="middle" textLength="36" lengthAdjust="spacingAndGlyphs" >FULV_E2 - E2</text>
<text x="243.50" y="64.50" font-size="6.6" fill="#222" font-weight="bold" text-anchor="middle" textLength="30" lengthAdjust="spacingAndGlyphs" transform="rotate(-90 243.50 64.50)" >EL_E2 - E2</text>
<text x="291.7" y="6.7" font-size="10" font-weight="bold"><tspan textLength="49.6" lengthAdjust="spacingAndGlyphs">MCF7-LTED</tspan><tspan font-size="6" dy="-2.6">wt</tspan></text>
<line x1="528.40" y1="13.30" x2="528.40" y2="116.70" stroke="#555" stroke-width="0.9" />
<line x1="469.50" y1="63.40" x2="587.60" y2="63.40" stroke="#555" stroke-width="0.9" />
<path transform="scale(0.333333)" d="M1467 124h0m39-5h0m28 23h0m-8-7h0m-4 7h0m0-10h0m-1 10h0m-5 0h0m-2-3h0m-12-2h0m-1 6h0m-6 0h0m-6-7h0m-15 22h0m6-4h0m1 4h0m3-12h0m1 0h0m6 0h0m0 13h0m0-14h0m0 8h0m1-9h0m5 6h0m0 4h0m1 2h0m1 1h0m0-1h0m0 2h0m1-5h0m1 1h0m0-10h0m0 13h0m1-6h0m1 2h0m1-3h0m1 2h0m0-3h0m0 9h0m1-6h0m1 6h0m1-12h0m1 13h0m0-5h0m0-10h0m0 16h0m2-2h0m1 3h0m1-6h0m0 2h0m1-1h0m0-1h0m1 2h0m1-12h0m0 9h0m0-5h0m1 9h0m2-4h0m0 4h0m0 3h0m1-3h0m0-5h0m0 8h0m1 0h0m0-9h0m1 6h0m0 3h0m1-13h0m1 13h0m0-8h0m1-1h0m0 4h0m0 4h0m1-14h0m0 12h0m1-6h0m0 9h0m1-4h0m0-5h0m0-1h0m0 4h0m1 2h0m0 3h0m0-11h0m1 7h0m0-5h0m0-1h0m2 6h0m1 5h0m0-10h0m0 9h0m2-2h0m0-10h0m1 11h0m0-1h0m0 3h0m2-12h0m0 9h0m0-3h0m4 3h0m0-5h0m1 4h0m3 3h0m5-4h0m3 4h0m5-1h0m11 20h0m-3-8h0m-2 8h0m0-3h0m-1 1h0m0-6h0m-2 4h0m0-7h0m0 9h0m-1-4h0m0-1h0m0 2h0m-1 2h0m0-1h0m0 2h0m-1-2h0m-1-4h0m0 4h0m0 4h0m0-5h0m-1-3h0m0 4h0m0-2h0m0 4h0m0-5h0m-1 3h0m0-5h0m0 8h0m0-10h0m0 9h0m0-5h0m-1 5h0m0-1h0m0-2h0m-1 5h0m0-10h0m0 9h0m0-1h0m0-1h0m-1 1h0m0-5h0m-1-4h0m0-5h0m0 13h0m0-5h0m0 8h0m0-14h0m0 9h0m0 4h0m-1-3h0m0-1h0m0-5h0m0 9h0m0-5h0m0 4h0m0-14h0m0 13h0m-1 1h0m0-1h0m0-5h0m0 4h0m0-6h0m-1 2h0m0 4h0m0 2h0m0 1h0m-1-8h0m0 4h0m0 4h0m0-5h0m0-5h0m0 4h0m-1 1h0m0-6h0m0-2h0m0 9h0m0 4h0m-1-9h0m0-5h0m0-2h0m-1 7h0m0 4h0m0-5h0m0 9h0m-1 1h0m0-10h0m0 4h0m0 3h0m0 4h0m0-5h0m0-5h0m-1 6h0m0-6h0m0-2h0m-1 4h0m0 3h0m-1-6h0m0 4h0m0 4h0m0-5h0m0-2h0m-1 1h0m0 4h0m0-5h0m0-1h0m0 4h0m0-5h0m0 9h0m-1 2h0m0-5h0m0 4h0m0-5h0m0-1h0m0-6h0m0 9h0m0-5h0m-1-2h0m0 9h0m0-10h0m0 4h0m0 4h0m0-5h0m0 9h0m0-6h0m-1-6h0m0 13h0m0-14h0m-1 12h0m0-5h0m0-5h0m0 3h0m0-5h0m0 9h0m-1-5h0m0-1h0m0 4h0m-1 1h0m0 4h0m0-5h0m0 3h0m0-10h0m0 9h0m-1-10h0m0 9h0m0-5h0m0 9h0m0-5h0m0-10h0m0 9h0m0 4h0m0 4h0m0-14h0m-1 11h0m0-10h0m0 9h0m0 4h0m0-5h0m0-1h0m0-6h0m0-5h0m-1 11h0m0 3h0m0-1h0m0-6h0m-1 10h0m0-14h0m0 4h0m0 9h0m0-10h0m0 9h0m-1-15h0m0 8h0m0-5h0m0 9h0m0-1h0m0-10h0m0 9h0m0-5h0m-1 6h0m0-10h0m0 13h0m0-14h0m0 9h0m0-1h0m0 9h0m0-10h0m-1 7h0m0-1h0m0 4h0m0-7h0m0-10h0m-1 12h0m0 4h0m0-14h0m0 4h0m0 9h0m0-15h0m0 4h0m-1 7h0m0 3h0m0-14h0m0 3h0m-1 8h0m0-6h0m-1 2h0m0 3h0m0 4h0m0-6h0m0-5h0m0 9h0m-1-7h0m0 9h0m0-12h0m-1 11h0m0 2h0m-1-4h0m0 4h0m0-2h0m0-10h0m-1-2h0m0 4h0m0 9h0m0-2h0m-1 0h0m0-7h0m0-5h0m-1 14h0m0-14h0m0 3h0m0 4h0m-1 7h0m0-10h0m0-1h0m-1 0h0m0 3h0m0 2h0m-1-3h0m0-5h0m0 9h0m-1-2h0m0-5h0m0-1h0m-1 15h0m-1-6h0m0-1h0m-1-7h0m0-1h0m0-1h0m-1 0h0m0 17h0m0-10h0m-1 10h0m0-6h0m-1 1h0m0-2h0m-1-5h0m-1 4h0m-1-6h0m-1 0h0m-1-3h0m-1 8h0m0 4h0m-1 4h0m-1-8h0m-2-5h0m0-1h0m-2 5h0m-5-6h0m-1 13h0m0-5h0m-1-1h0m-7 2h0m-1-6h0m-10-3h0m-9 0h0m23 24h0m5 1h0m3 6h0m2-8h0m6-6h0m3 11h0m0-8h0m1 0h0m3-2h0m9 0h0m3-1h0m1 5h0m0-5h0m1 0h0m1 3h0m1-2h0m3-1h0m3 9h0m0-7h0m1-2h0m0 4h0m1 3h0m0-5h0m0 3h0m0-5h0m1 5h0m1-4h0m1 6h0m0-6h0m0 8h0m1-9h0m0 2h0m2 15h0m0-10h0m0-5h0m0 4h0m1-6h0m0 2h0m1 4h0m2 5h0m0-11h0m0 3h0m1 4h0m0-6h0m0 9h0m1-10h0m0 4h0m1-3h0m0-1h0m0 8h0m1-4h0m0-1h0m0-1h0m0 4h0m0-5h0m0-1h0m1 1h0m1 4h0m0-5h0m1 7h0m0-6h0m0 4h0m1-5h0m1 7h0m0-1h0m0-5h0m0-1h0m0 3h0m1 3h0m0-5h0m1 8h0m0-5h0m0-1h0m1-1h0m0-2h0m1 0h0m0 1h0m1 1h0m1 2h0m0 3h0m1-5h0m0 4h0m0-5h0m1 2h0m0-2h0m0 4h0m0 3h0m1-6h0m0 3h0m1-4h0m0 4h0m1 1h0m0-6h0m1 5h0m0-5h0m0 2h0m0-1h0m1 1h0m0 1h0m1 0h0m0 2h0m0-5h0m0 4h0m1 4h0m0-1h0m1-1h0m0-5h0m0 4h0m1 1h0m1-1h0m0-2h0m0-2h0m1 1h0m0 2h0m0-1h0m1 2h0m0-2h0m1 1h0m0 4h0m1-1h0m0-5h0m0 8h0m0-6h0m1 3h0m0 4h0m0-10h0m1 2h0m0 4h0m0 2h0m1-5h0m0 3h0m0-2h0m1 4h0m1 0h0m0-1h0m1 1h0m0-1h0m0-2h0m1 3h0m1 0h0m0-1h0m1 0h0m1 1h0m0-1h0m2 2h0m-67 8h0m-1 1h0m-12-1h0" stroke="#BEBEBE" stroke-width="3.75" stroke-linecap="round" fill="none"/>
<path transform="scale(0.333333)" d="M1586 192h0m1 2h0m1 2h0m0-3h0m1 3h0m0-1h0m4 2h0m35 17h0m-6 1h0m0-2h0m-1-3h0m0 4h0m0-2h0m-2-1h0m-1-3h0m-1 5h0m-1-3h0m0 4h0m-1-4h0m0 3h0m-1-3h0m-1-8h0m-1 8h0m0 2h0m-1 0h0m0 3h0m0-11h0m-1 11h0m-1-4h0m0 4h0m0-5h0m0 4h0m-1-14h0m0 9h0m-1 6h0m0-12h0m-2 2h0m0 4h0m-1-5h0m0 9h0m-1-5h0m0-6h0m0 13h0m0-14h0m-1 5h0m0-1h0m0 4h0m0 3h0m-1 2h0m0-12h0m0 9h0m0-10h0m0 9h0m-1 3h0m0-1h0m0-5h0m0 4h0m0-5h0m0-5h0m0 8h0m-1 6h0m0-14h0m0 9h0m0-6h0m0 9h0m0-6h0m0-5h0m0 9h0m-1 2h0m0-5h0m0 4h0m0-10h0m0 9h0m0-5h0m0 4h0m0-5h0m0 4h0m-1-6h0m0 4h0m0-5h0m0 2h0m0 9h0m0-5h0m-1 1h0m0-10h0m0 14h0m0-2h0m0-5h0m-1 7h0m0-5h0m0-5h0m0 8h0m0-1h0m0-5h0m0-1h0m0-5h0m-1 3h0m0-1h0m0 9h0m0-10h0m0 9h0m0-10h0m0 4h0m0 9h0m0-14h0m-1 7h0m0-2h0m0-5h0m0 4h0m0 9h0m-1-13h0m0 4h0m0 13h0m0-10h0m-1 1h0m0-1h0m0-6h0m0 8h0m-1-7h0m0 13h0m0-15h0m0 3h0m-1-2h0m0 9h0m0-4h0m-1 0h0m-2-6h0m-2 3h0m0 18h0m2-3h0m2 2h0m5 10h0m1 0h0m0-5h0m0-1h0m0-5h0m0 4h0m2 3h0m0-8h0m0 9h0m1-7h0m1 14h0m0-10h0m0-6h0m0 13h0m0-5h0m0 4h0m2 3h0m0-1h0m0-5h0m1-7h0m0 4h0m0 7h0m0-5h0m0 9h0m0-14h0m1 1h0m0 12h0m0-5h0m0-10h0m1 0h0m0 9h0m0-5h0m0 4h0m0-1h0m0-1h0m1-3h0m0 8h0m0-11h0m0-1h0m1 4h0m0 9h0m0-6h0m0-5h0m0 8h0m1-1h0m0-5h0m1 13h0m0-14h0m0 4h0m0-5h0m0-1h0m0 13h0m0-14h0m1 5h0m0 9h0m0-14h0m0 4h0m0 3h0m1-5h0m0-1h0m0 4h0m0 12h0m0-14h0m0 9h0m1-8h0m0 4h0m0 9h0m0-6h0m0-6h0m1 9h0m0-5h0m0-7h0m1 1h0m0 3h0m0-6h0m1 17h0m0-14h0m0-2h0m0 4h0m0 9h0m1 1h0m0-14h0m0 9h0m0-5h0m0-5h0m0 9h0m0-5h0m0 13h0m0-5h0m0 4h0m0-5h0m1-3h0m0 4h0m0-1h0m0-5h0m0-1h0m1 4h0m0 8h0m0-5h0m0 4h0m0-10h0m1-5h0m0 9h0m0 7h0m0-15h0m1 10h0m0-10h0m0 3h0m1 5h0m0-2h0m1 8h0m0-8h0m1 0h0m0 8h0m0-14h0m0 12h0m1-3h0m0-3h0m1 0h0m0-8h0m1 8h0m0-1h0m2-3h0m1 13h0m1-15h0m0 13h0m1-8h0m1 3h0m1-5h0m1 0h0m1 5h0m1 3h0m4-1h0m1 1h0m1-7h0m10 27h0m-5-6h0m-2-4h0m-2 5h0m-3-6h0m-3-4h0m-1 3h0m-2 2h0m-1 0h0m-1-3h0m0 9h0m0-10h0m-2 10h0m-1-1h0m0-7h0m0-1h0m-1 4h0m0 9h0m0-15h0m-1 14h0m0-6h0m-1 0h0m0-2h0m-1-2h0m0 4h0m0 1h0m-1-6h0m-1 1h0m-1-1h0m0 14h0m-1-7h0m0 2h0m-1 5h0m0-14h0m0-2h0m-1 13h0m0-14h0m-1 10h0m0-5h0m0 2h0m0 9h0m-1-9h0m0-1h0m0-5h0m0 9h0m-1-3h0m0-7h0m0 13h0m0-10h0m-1-3h0m-1 4h0m-1-2h0m0 9h0m0-10h0m0 8h0m-1 1h0m-1-4h0m0-5h0m0 7h0m-1 2h0m0 6h0m-1-9h0m-1 4h0m0 4h0m0-15h0m0 4h0m-1 1h0m-1 11h0m0-15h0m-1 6h0m0-5h0m0 8h0m-1-9h0m-1 4h0m0 4h0m-2-7h0m-2 5h0m-3-2h0m-1 0h0m-3 10h0m-3 3h0m3 2h0m13 0h0m7 2h0m1-4h0m2 1h0m0-1h0m0 3h0m2 6h0m0-1h0m1-2h0m1-6h0m2 1h0m4 4h0m1-4h0m32 1h0" stroke="#BEBEBE" stroke-width="3.75" stroke-linecap="round" fill="none"/>
<path transform="scale(0.333333)" d="M1475 157h0m41-5h0m22 27h0m-13 0h0m-2 0h0m-6-2h0m0-5h0m0 4h0m-1 2h0m-8-2h0m0 2h0m-1 1h0m0-5h0m-1 4h0m0-8h0m-1-5h0m-1 9h0m0 5h0m-1-4h0m-6 2h0m-1-1h0m-1 3h0m-3 0h0m-1-10h0m0 9h0m-1-3h0m-2 4h0m-2-6h0m-2-10h0m-1 16h0m-1-5h0m-1 0h0m-1 4h0m0-1h0m-1-3h0m-1 0h0m-2-5h0m-5 0h0m-1-2h0m0 2h0m-10 9h0m-5-6h0m-9 25h0m1-4h0m2-3h0m1-2h0m1-3h0m10-1h0m2 8h0m0-11h0m1 6h0m2 6h0m0-4h0m0-5h0m1 8h0m1-1h0m1 0h0m0-5h0m1-1h0m0 9h0m1-14h0m0 8h0m1 2h0m2 5h0m1-13h0m1 7h0m1 3h0m0-10h0m0 12h0m0-14h0m1 13h0m1-10h0m1 6h0m0-4h0m1 9h0m0-6h0m0 4h0m1-10h0m0 13h0m1-6h0m1 5h0m0-6h0m0-1h0m0 9h0m1-4h0m0-2h0m0 4h0m0-1h0m1 1h0m0 3h0m1-1h0m0-5h0m0-1h0m1-7h0m0 13h0m2-8h0m0-3h0m0-1h0m1-1h0m0 8h0m0-10h0m1 9h0m1-1h0m1 0h0m0 4h0m0 3h0m0-5h0m0-5h0m1 5h0m0-5h0m0 3h0m1 7h0m0-6h0m0 4h0m1-4h0m0-5h0m0 8h0m0 3h0m0-15h0m1 11h0m0-10h0m0 4h0m0 3h0m0 4h0m1-8h0m0 9h0m0 3h0m0-14h0m0 13h0m0-10h0m0 9h0m1-6h0m0 8h0m0-1h0m0-1h0m1 2h0m0-10h0m0 8h0m1-5h0m0 2h0m0 4h0m0-15h0m1 9h0m0-1h0m0 8h0m1-5h0m0-2h0m1-2h0m0 8h0m1-4h0m0-5h0m0 4h0m0 6h0m0-9h0m1-4h0m0 7h0m0-10h0m0 4h0m0 9h0m1 0h0m0-5h0m0-5h0m0 9h0m0-6h0m1 10h0m0-10h0m0 6h0m1 1h0m0-1h0m0-5h0m0 9h0m0-5h0m0-5h0m0 4h0m1 4h0m0-10h0m0 9h0m0-6h0m0 9h0m0-14h0m0 8h0m1-8h0m0 8h0m0-5h0m0-5h0m0 13h0m1-4h0m0 7h0m0-5h0m0 4h0m0-14h0m0 13h0m1 0h0m0-1h0m0-14h0m0 9h0m0 8h0m1-1h0m0-10h0m0 8h0m0-1h0m1 0h0m0 4h0m0-5h0m0-5h0m0 9h0m0-5h0m0-10h0m1 5h0m0 8h0m0-1h0m1-9h0m0 4h0m0 9h0m0-2h0m1-2h0m0-5h0m0 4h0m0-5h0m1 10h0m0-1h0m0-5h0m0-6h0m0-5h0m0 13h0m1-2h0m1-1h0m0-6h0m0 8h0m0-5h0m1 10h0m0-14h0m0 13h0m0-5h0m0-1h0m0-5h0m0 9h0m1-4h0m0-10h0m0 9h0m0-6h0m0 13h0m0-5h0m1-5h0m0 9h0m0-5h0m0-10h0m0 17h0m1-13h0m0 4h0m0 4h0m0 4h0m0-5h0m0 4h0m1 0h0m0-11h0m0 9h0m0-1h0m0-5h0m1 10h0m0-10h0m0 9h0m0-1h0m0-1h0m0-5h0m0 4h0m1 1h0m0-14h0m0 17h0m0-14h0m0 9h0m0-10h0m0 9h0m1-3h0m0-5h0m0 14h0m0-5h0m0-5h0m0-1h0m1 5h0m0-10h0m0 9h0m0-6h0m0 13h0m1-7h0m0-5h0m0-1h0m0 9h0m0-5h0m0 9h0m0-5h0m0-5h0m0 9h0m0-14h0m1 0h0m0 15h0m1-5h0m0-1h0m0 4h0m1-2h0m0-10h0m0 14h0m0-1h0m0-5h0m1-1h0m0-5h0m0 9h0m0-5h0m0-5h0m0 9h0m0-5h0m1 1h0m0 8h0m0-5h0m0 4h0m0-5h0m1 3h0m0-5h0m0 7h0m0-6h0m1 7h0m0-10h0m0 3h0m0-6h0m0 9h0m1-8h0m0 9h0m0-5h0m0 8h0m0-6h0m0 4h0m0-5h0m1 1h0m0 4h0m0-5h0m0 7h0m0-5h0m1 0h0m0-1h0m0 4h0m0-5h0m0 3h0m1 0h0m0-6h0m0 8h0m1 0h0m0-7h0m0 9h0m1 0h0m0-10h0m0 9h0m0-5h0m0 4h0m0-5h0m0 4h0m1-5h0m0 8h0m0-6h0m0-1h0m1 0h0m0-5h0m0 9h0m0-1h0m0 4h0m1-8h0m0-5h0m0 9h0m0-1h0m0-5h0m0 4h0m0 4h0m0-5h0m0 4h0m1-5h0m0-2h0m0 9h0m0-14h0m1 9h0m0 4h0m0-6h0m0 4h0m0-5h0m0 4h0m1-8h0m0 4h0m0 8h0m1-5h0m0-5h0m0 9h0m0-10h0m0 9h0m0-1h0m0-1h0m1 5h0m0-10h0m0 9h0m0-1h0m0-5h0m0-1h0m0-1h0m1 2h0m0-5h0m0 9h0m0-5h0m0 4h0m0-2h0m0-5h0m0 9h0m1-10h0m0 8h0m0-5h0m0 4h0m1 1h0m0 4h0m0-5h0m0-5h0m0 9h0m0-6h0m1 7h0m0-5h0m0-1h0m0 4h0m1-3h0m0-1h0m0-2h0m0-1h0m1 0h0m0 9h0m0-5h0m1-7h0m0 11h0m0-5h0m1 1h0m0-1h0m0 4h0m1-6h0m0-1h0m0 4h0m0-5h0m1 4h0m0 3h0m0-5h0m0-1h0m0 4h0m1 4h0m0-5h0m0-2h0m1 0h0m0 4h0m0-1h0m0 3h0m0-5h0m1-1h0m0 4h0m0-5h0m1 4h0m0-1h0m1-1h0m0 2h0m1-3h0m0-1h0m1 5h0m0-5h0m0 4h0m0-6h0m0 4h0m-10 9h0m-7 3h0m0-1h0m-1-2h0m0-1h0m-1 3h0m-1-2h0m-1 0h0m-1 0h0m-2 0h0m-1-1h0m-1 2h0m0-2h0m-1 0h0m-2 5h0m-1 4h0m0-6h0m-1-2h0m0 9h0m-1 0h0m0-10h0m0 3h0m-1-3h0m-1 13h0m0-10h0m0-1h0m0-1h0m0 4h0m-2-2h0m-1-1h0m0-1h0m0-1h0m-1 1h0m0-1h0m-1 2h0m0-2h0m0 4h0m-1 4h0m-1-5h0m0-1h0m0 4h0m0-5h0m-1 2h0m0-2h0m-1 5h0m0-2h0m0 3h0m-1 1h0m-1 0h0m-1-7h0m-1 5h0m0-5h0m-1 3h0m0 3h0m-1-7h0m0 3h0m0-1h0m-1-1h0m0 9h0m0-5h0m-1 10h0m0-5h0m0-6h0m0-1h0m0-1h0m-1 2h0m0 3h0m-1 0h0m0-5h0m0-1h0m-2 2h0m0-1h0m0 13h0m0-14h0m0-1h0m-1 7h0m0-5h0m0 4h0m0-6h0m0 13h0m-1-13h0m0 2h0m0 9h0m-1-8h0m0-3h0m-1 6h0m0-5h0m0 8h0m0-5h0m-1 4h0m0 9h0m-1-11h0m0 4h0m0-10h0m0 4h0m-1-2h0m0 3h0m0-5h0m0 9h0m0 3h0m-1-4h0m0-5h0m0 4h0m0-5h0m-1 1h0m0 13h0m0-15h0m0 12h0m-1-7h0m0 4h0m0-10h0m0 8h0m-1-4h0m-1-2h0m0 3h0m0-5h0m0 4h0m0-1h0m-1-1h0m-1 2h0m0 9h0m0-1h0m0-10h0m0 4h0m-1 0h0m0-1h0m0-1h0m-1-4h0m0 9h0m0-1h0m0-5h0m-1 9h0m0-11h0m0 9h0m0-10h0m0 4h0m-1 2h0m0-5h0m0 4h0m0-3h0m-1 15h0m0-6h0m0-10h0m0-1h0m-1 11h0m0-10h0m-1 11h0m-1-5h0m-1-6h0m0 9h0m0 3h0m-1-3h0m0-3h0m-1-3h0m0-1h0m0 13h0m0-10h0m0 4h0m0-10h0m-1 9h0m-1 6h0m0-15h0m-1 17h0m0-15h0m0 7h0m-1 1h0m0-3h0m0-5h0m-1 0h0m-1-1h0m0-1h0m-1 0h0m-1 2h0m0 4h0m0 9h0m0-14h0m-1 7h0m-2 0h0m-2-3h0m-1-2h0m0 6h0m-1-5h0m-1 12h0m-1 0h0m0-11h0m-1-5h0m0 2h0m-2 3h0m-3 4h0m-1-1h0m0-2h0m0-6h0m-2 9h0m-1-3h0m-1-1h0m-1 9h0m-1-6h0m-2 0h0m-3 4h0m-2-3h0m-1 5h0m0-12h0m-3 8h0m-1-2h0m-3-8h0m-11 2h0m10 16h0m12 6h0m5-5h0m4 8h0m25-7h0m8-2h0m12 5h0m2-1h0m-51 21h0m-3 0h0" stroke="#1E3CFF" stroke-width="3.75" stroke-linecap="round" fill="none"/>
<path transform="scale(0.333333)" d="M1586 120h0m8 5h0m4 0h0m21-2h0m6 19h0m-8 0h0m0-2h0m-1 3h0m-6-2h0m0-5h0m0-1h0m0-1h0m-2 5h0m-1-4h0m0 4h0m0 3h0m-1 1h0m0-12h0m-1 5h0m0 4h0m-1-7h0m-1 9h0m0-6h0m0-5h0m-1 9h0m0-2h0m-1 1h0m0 4h0m0-16h0m-1 10h0m0 4h0m0-5h0m0 4h0m0 3h0m-1-2h0m0-1h0m0 3h0m0-5h0m-1-3h0m0 7h0m0-5h0m-1 4h0m0-7h0m0 8h0m-1-8h0m0 4h0m0 4h0m0-6h0m0 4h0m-1-1h0m0-3h0m0 4h0m-1-3h0m0-1h0m0 4h0m-1-5h0m0-1h0m0-5h0m0 13h0m0-5h0m-1-4h0m0 2h0m-1-7h0m0 13h0m0-1h0m0-1h0m-2-8h0m0 9h0m0-1h0m0 4h0m-1-4h0m-1 4h0m0-5h0m0-7h0m-1 6h0m0 2h0m0 4h0m-1-4h0m0-6h0m0 9h0m0-6h0m-1 2h0m0-10h0m-1 14h0m0-5h0m0 4h0m0 2h0m-1-3h0m0 1h0m0-5h0m-1-3h0m0 8h0m0-1h0m0-1h0m0 4h0m-1-2h0m0-10h0m0 4h0m0 4h0m0-10h0m0 8h0m-1-2h0m0-1h0m0 9h0m0-6h0m-1 5h0m0-5h0m0-7h0m-1 10h0m0-11h0m-1 10h0m0 4h0m0-5h0m-1 3h0m0 2h0m-1-17h0m0 10h0m-1 7h0m0-1h0m-1 0h0m0-6h0m0 4h0m0-10h0m-1 4h0m0 9h0m0-1h0m0-5h0m0 4h0m0-10h0m0 9h0m-2 1h0m0-5h0m-1-1h0m0 8h0m0-14h0m0 8h0m0 4h0m0-14h0m-1 15h0m0-7h0m0 4h0m0 4h0m-1-1h0m0-1h0m-1-5h0m-1-9h0m0 8h0m0 4h0m0 4h0m-1-4h0m0 2h0m-1 0h0m-2-13h0m-1 11h0m0 4h0m-1 0h0m-1 0h0m-16-1h0m5 18h0m4-10h0m0 4h0m1-10h0m1 16h0m0-5h0m1-2h0m0 8h0m1-2h0m1-10h0m0 9h0m0-1h0m0-2h0m1-10h0m0 13h0m0-5h0m0 4h0m0-5h0m1 8h0m1-6h0m0 4h0m0-6h0m0 9h0m0-10h0m1-2h0m0 8h0m1-3h0m0-5h0m0-2h0m0 13h0m1-11h0m0-5h0m0 4h0m1-1h0m0-1h0m0 9h0m0-5h0m0 3h0m0 4h0m1 0h0m0 2h0m1-11h0m0 4h0m1-5h0m0 9h0m0-1h0m0-10h0m0 14h0m0-10h0m1 0h0m0-5h0m0 13h0m0-5h0m0 3h0m0-5h0m0-5h0m1 11h0m0-11h0m0 4h0m0 4h0m0 4h0m1-13h0m0 3h0m0 9h0m0-10h0m0 4h0m1-5h0m0 9h0m0-1h0m0-5h0m0 4h0m0-5h0m0 14h0m0-5h0m0 4h0m1 1h0m0-12h0m0 4h0m1 0h0m0-6h0m0 4h0m0 9h0m0-10h0m0 9h0m0-5h0m1 6h0m0-10h0m0 4h0m0-6h0m0 9h0m0-5h0m0 4h0m1-4h0m0-5h0m0 4h0m0 9h0m0-14h0m0 12h0m0-14h0m0 4h0m1 11h0m0-14h0m0 9h0m0-1h0m0 4h0m0 4h0m0-10h0m1 1h0m0 9h0m0-14h0m0 13h0m0-5h0m0 4h0m0-10h0m0 4h0m0-5h0m0 9h0m1-13h0m0 9h0m0-5h0m0 9h0m0 4h0m0-14h0m0 4h0m0 4h0m0-1h0m1-5h0m0 9h0m0-10h0m0 4h0m0 9h0m0-5h0m0 4h0m0-14h0m0 4h0m0 9h0m1 1h0m0-14h0m0 4h0m0-1h0m0 9h0m0-5h0m0-1h0m1 7h0m0-1h0m0-14h0m0 9h0m0 4h0m0 4h0m0-5h0m0-5h0m0 9h0m0-5h0m1 0h0m0 4h0m0-15h0m0 9h0m0-6h0m0 14h0m0-5h0m0-5h0m1 0h0m0 4h0m0 4h0m0-14h0m0 9h0m0 4h0m0-14h0m0 9h0m0-5h0m0 9h0m1-8h0m0 4h0m0 4h0m0 4h0m0-15h0m0 4h0m0 9h0m1-12h0m0 13h0m0-10h0m0 9h0m0-1h0m0-14h0m0 9h0m0-5h0m0 4h0m1 0h0m0-5h0m0 14h0m0-10h0m0 9h0m0-14h0m0 9h0m0-5h0m0 9h0m0-5h0m0-5h0m0-5h0m0 9h0m0-5h0m1 10h0m0-1h0m0-1h0m0-10h0m0 8h0m1-3h0m0 9h0m0-14h0m0 9h0m0-5h0m0-5h0m0 14h0m0-15h0m0 9h0m0-5h0m0 9h0m1-9h0m0 9h0m0 4h0m0-14h0m0 13h0m0-5h0m0-10h0m1 9h0m0-10h0m0 9h0m0-1h0m0 4h0m0-5h0m0 4h0m0-5h0m1 6h0m0 4h0m0-14h0m0 4h0m0-5h0m0 13h0m0-14h0m0 9h0m0-5h0m0 9h0m1-8h0m0 9h0m0-14h0m0 3h0m0 14h0m0-5h0m0 4h0m0-14h0m0 9h0m0-5h0m1 10h0m0-10h0m0 4h0m0-5h0m0 9h0m0-5h0m0-5h0m0-1h0m1 0h0m0 4h0m0-5h0m0 9h0m0-10h0m0 4h0m0 9h0m0-14h0m0 9h0m1 1h0m0 4h0m0-14h0m0 13h0m0-5h0m0 9h0m0-14h0m0 13h0m0-14h0m0 9h0m0 4h0m1-3h0m0-5h0m0 9h0m0-10h0m0 9h0m0-14h0m0 3h0m0 9h0m0-5h0m1 6h0m0-10h0m0 4h0m0 4h0m0-6h0m0 4h0m1-10h0m0 9h0m0-5h0m0 13h0m0-5h0m0 4h0m0-5h0m0-5h0m0 4h0m1 1h0m0 4h0m0-10h0m0 9h0m0-5h0m1 5h0m0-14h0m0 9h0m0 4h0m0-11h0m0 4h0m0-5h0m1 10h0m0-5h0m0 9h0m0-2h0m0-5h0m0 4h0m1 4h0m0-14h0m0 9h0m0-11h0m0 13h0m1 1h0m0-6h0m0 9h0m0-10h0m0 4h0m0-5h0m0 9h0m0-5h0m1 1h0m0-10h0m0 4h0m0 9h0m0-5h0m1 8h0m0-10h0m0-1h0m0 9h0m1-1h0m0-7h0m0 4h0m0-10h0m1 15h0m0-10h0m0 4h0m0-6h0m0 4h0m0-5h0m1 1h0m0 4h0m0-5h0m0 3h0m0-5h0m1 3h0m0-1h0m0-1h0m0 9h0m1 6h0m0-10h0m0 9h0m1-13h0m0-1h0m1 3h0m0 9h0m0 3h0m0-5h0m1 0h0m0-2h0m0 7h0m1-8h0m0 8h0m1-6h0m1 5h0m1-3h0m0-10h0m0 13h0m0-10h0m1-2h0m1 10h0m0-12h0m1 14h0m1 0h0m1-13h0m1-1h0m3 11h0m11-3h0m6 8h0m-17 6h0m-5-3h0m-3 2h0m-1-5h0m-1 5h0m-2-5h0m-2 8h0m-1 1h0m0 8h0m0-16h0m-1 6h0m0 4h0m0-2h0m-1-3h0m0-6h0m-1 5h0m0-1h0m-1 4h0m0-8h0m-1 1h0m-1 3h0m0 4h0m0-5h0m0 2h0m-1-2h0m0-2h0m0 9h0m0-1h0m0-5h0m-1 2h0m0-5h0m0 12h0m0-6h0m-1-4h0m0-3h0m0 4h0m-1-2h0m0 4h0m0 3h0m-1-9h0m0 13h0m0-6h0m-1 10h0m0-14h0m0 12h0m0-10h0m-1 1h0m0 9h0m0-14h0m0 9h0m0-6h0m0-1h0m0 13h0m-1-13h0m0 4h0m0-6h0m-1 0h0m-1 0h0m0 3h0m-1 4h0m0-6h0m0 4h0m0 4h0m0-5h0m-1-3h0m0-1h0m0 9h0m0-6h0m0-1h0m0 9h0m-1-7h0m0-1h0m0 9h0m0-1h0m-1 5h0m0-17h0m-1 1h0m0-1h0m0 9h0m0-5h0m0 9h0m0-5h0m0-5h0m0-1h0m-1-1h0m0 9h0m-1 3h0m0 4h0m0-16h0m0 13h0m-1-13h0m0 9h0m0-5h0m0 4h0m0-1h0m0 4h0m0-10h0m0 9h0m-1 6h0m0-14h0m0 4h0m0 9h0m0-10h0m0-1h0m0 4h0m-1-1h0m0-2h0m0-5h0m0 9h0m0-10h0m-1 1h0m0 13h0m0-14h0m0 9h0m0-1h0m0-5h0m0 9h0m0-5h0m-1 5h0m0-5h0m0 7h0m0-14h0m-1 5h0m-1-4h0m0 8h0m0-6h0m0 4h0m-1-5h0m0 9h0m0-5h0m0 9h0m0-14h0m0 9h0m-1 1h0m0-6h0m0 9h0m0-14h0m-1 9h0m0-8h0m0 4h0m-1 8h0m0-6h0m0-2h0m0-5h0m-1 16h0m0-14h0m0 4h0m0-6h0m0 9h0m0 4h0m-1 2h0m0-5h0m0-10h0m0 4h0m-1 6h0m0-10h0m0 4h0m0 8h0m-1-3h0m0-1h0m0-1h0m-1-4h0m-1 3h0m0-6h0m0 4h0m-1 1h0m0-5h0m0 2h0m0-1h0m-2 13h0m0-14h0m-1 4h0m0-1h0m0 2h0m-1 7h0m0-7h0m0-5h0m-1 3h0m-3 7h0m0-7h0m-1-1h0m0 4h0m0-6h0m-1 6h0m-1 7h0m0-11h0m0-1h0m-1 15h0m0-7h0m-1-8h0m0 8h0m-9 0h0m21 18h0m1-6h0m2 1h0m1-2h0m5-2h0m3 0h0m2 8h0m3-4h0m2-2h0m2-1h0m0 4h0m0-5h0m1 4h0m2-3h0m4 5h0m7 5h0m0-6h0m3-1h0m1 2h0m3-6h0m0 8h0" stroke="#FF2A00" stroke-width="3.75" stroke-linecap="round" fill="none"/>
<path transform="scale(0.333333)" d="M1551 88h0m25 11h0m-12 4h0m-2-13h0m0 8h0m-1 6h0m-2-1h0m-12 3h0m-1 1h0m-6-1h0m-12-2h0m-10 1h0m-11-1h0m2 21h0m3 0h0m3-1h0m4-14h0m4 9h0m0-9h0m1 12h0m2-11h0m3 11h0m1-2h0m3-2h0m7 1h0m3 6h0m1-2h0m7-8h0m1 2h0m1 3h0m2-10h0m0 15h0m0-12h0m3 4h0m0-3h0m3 10h0m1-10h0m1 9h0m2-15h0m2 0h0m2 15h0m2-6h0m1 6h0m2-8h0m9 5h0m1-7h0m2 6h0m2-8h0m7 9h0m4 11h0m-15-5h0m-2 7h0m-10-3h0m-2 12h0m-3-13h0m-1 4h0m-2-5h0m0 4h0m-2-2h0m-2-4h0m-1 10h0m-2-10h0m-2 13h0m-2-8h0m-2 11h0m-1-8h0m-2-3h0m0-1h0m0 9h0m-1-4h0m-2 7h0m-1-14h0m-1 10h0m-2-5h0m-6 4h0m-5-2h0m-2-2h0m0-3h0m-1 8h0m-3-5h0m-1-3h0m-2 3h0m-2 1h0m-3 7h0m-11 2h0m-4-3h0m-3-4h0m-1-3h0m-2 5h0m12 23h0m7-9h0m15-7h0m1 16h0m18-16h0m4-1h0m10 0h0m3 5h0m-10 14h0m-32 0h0" stroke="#FF2A00" stroke-width="3.75" stroke-linecap="round" fill="none"/>
<path transform="scale(0.333333)" d="M1533 197h0m4-5h0m3 3h0m10 1h0m9-1h0m1 2h0m0-6h0m7 6h0m3 0h0m0-2h0m3 1h0m2 1h0m1 3h0m0 2h0m-4 4h0m0-7h0m-1 4h0m0 2h0m-1-7h0m-1 9h0m-1-1h0m0-5h0m-1 8h0m0-1h0m0-7h0m0 4h0m-1 7h0m-1-14h0m0 17h0m-1-2h0m0-5h0m0-7h0m0-1h0m0 2h0m-1 12h0m0-14h0m0 2h0m0-1h0m-2 2h0m0-3h0m0 13h0m-1-9h0m0 1h0m0 4h0m0-7h0m-1 6h0m0 2h0m0 2h0m0-3h0m0-7h0m0 11h0m-1-7h0m0 2h0m0-5h0m0 2h0m0 9h0m-1-4h0m0-7h0m0 9h0m0-14h0m-1 13h0m0-7h0m0 6h0m0 4h0m0-16h0m-1 17h0m0-7h0m0 4h0m0 2h0m0-3h0m0-7h0m-1-1h0m0 9h0m0-7h0m0 9h0m0-10h0m0 11h0m0-5h0m-1-8h0m0 4h0m0-7h0m0 9h0m0 4h0m0-7h0m0 9h0m0-14h0m0 9h0m-1-6h0m0-1h0m0 4h0m0 4h0m-1-6h0m0 4h0m0-8h0m-1 11h0m0-12h0m0 14h0m0-5h0m0-5h0m-1 12h0m0-16h0m0 9h0m0 6h0m-1-9h0m0 9h0m0-7h0m0 4h0m0-5h0m0 9h0m0-7h0m-1 5h0m0-7h0m0 2h0m0-5h0m0 9h0m0 2h0m0-7h0m0-5h0m-2 11h0m0-7h0m0 9h0m0-1h0m0-7h0m-1-8h0m0 9h0m0-7h0m0 9h0m0 2h0m0-5h0m0 2h0m0 4h0m0 2h0m-1-5h0m0-5h0m-1 5h0m0-6h0m0 4h0m-1-8h0m0 14h0m0-3h0m0-7h0m0 2h0m0 2h0m0-5h0m0 4h0m-1-6h0m0 4h0m0 9h0m0-3h0m-1-12h0m0 6h0m0 9h0m-1-8h0m0 6h0m-1 2h0m0-7h0m0 3h0m-1 1h0m0 2h0m0 1h0m-1-14h0m0-1h0m-1-1h0m0 13h0m-4 3h0m-1-13h0m0 6h0m-5 2h0m-1 13h0m3 4h0m2 2h0m3-1h0m1-9h0m0 5h0m1-3h0m1 2h0m0 4h0m0 4h0m0-3h0m1-8h0m1-3h0m1 5h0m0 2h0m1-2h0m0-3h0m1 9h0m1-5h0m0-3h0m1 3h0m1-4h0m1 14h0m0-13h0m0-3h0m1 1h0m0 3h0m1-4h0m0 4h0m0 2h0m0 6h0m1-10h0m1 10h0m2-11h0m1 1h0m1-1h0m0-1h0m1 7h0m0-7h0m0 8h0m1-6h0m1 7h0m0-6h0m1 0h0m0-3h0m2 6h0m2-5h0m0 3h0m2-2h0m2 2h0m-12 20h0m-6-4h0m-3 10h0m-7-9h0" stroke="#A020F0" stroke-width="3.75" stroke-linecap="round" fill="none"/>
<path transform="scale(0.333333)" d="M1442 214h0m-14-16h0m96 44h0m-30-8h0m0 8h0m-12-7h0m-31 29h0m7-8h0m16 4h0m1-4h0m1 9h0m9-3h0m9 4h0m5 1h0m9-2h0m7-7h0m1-1h0m7-2h0m9 13h0m1 6h0m-7-4h0m-6 2h0m-1 3h0m-16 7h0m-4-7h0m0-1h0m-12-1h0m-6-2h0m-5 14h0m-27-14h0m-22 12h0m-8 5h0m30 17h0m32-11h0m16-6h0m4 2h0m10 3h0m4-3h0m2 10h0m11-10h0" stroke="#A020F0" stroke-width="3.75" stroke-linecap="round" fill="none"/>
<path transform="scale(0.333333)" d="M1594 210h0m-5 2h0m-1-2h0m0 4h0m-1 0h0m-1 1h0m0-6h0m-1 6h0m0-6h0m0 4h0m0-1h0m-1 0h0m0-1h0m0 4h0m0-5h0m-1 1h0m0 3h0m0-6h0m-1 0h0m0 4h0m0 3h0m-1-2h0m0 2h0m-1 0h0m-1-3h0m0-2h0m-1 3h0m-1-1h0m0-5h0m-1 4h0m-1 0h0m-6 3h0m-10 7h0m2 4h0m1 4h0m1 2h0m3-1h0m2 2h0m0 1h0m1-6h0m0-1h0m2 1h0m1 3h0m0 3h0m0-1h0m0-1h0m1-6h0m0-5h0m0 9h0m1 4h0m0-10h0m1 5h0m0-5h0m0 9h0m0-10h0m0 4h0m1-5h0m0 4h0m0-2h0m1-4h0m1 2h0m0 2h0m0 9h0m0-5h0m1 1h0m0 3h0m0-1h0m0 3h0m1-13h0m0 9h0m0-11h0m0 12h0m1 1h0m0 2h0m1-5h0m0 3h0m0-15h0m0 9h0m0 4h0m0-5h0m0 9h0m1-8h0m0-5h0m0 4h0m1 7h0m0-14h0m0 4h0m0 9h0m0-14h0m0 8h0m1-4h0m0 4h0m0 9h0m0-1h0m0-1h0m0-6h0m1 5h0m0-5h0m0-1h0m0 4h0m0-6h0m0-5h0m0 4h0m1 11h0m0-13h0m0 9h0m1-9h0m0 4h0m0-5h0m0 3h0m1 8h0m1 2h0m0-14h0m0-1h0m0 17h0m1-17h0m1 10h0m0-5h0m0 3h0m0 4h0m0-10h0m1 5h0m0 4h0m0-6h0m1 12h0m0-5h0m0 4h0m1-2h0m0 3h0m2-1h0m3-14h0m1 13h0m6 14h0m-4-6h0m-1 3h0m-1 6h0m-1-8h0m0-6h0m0 9h0m0 4h0m-1 1h0m0-11h0m-1-2h0m0 13h0m0-5h0m-1-9h0m0 9h0m-1-1h0m0-6h0m-1 15h0m0-1h0m0-14h0m0 13h0m0-14h0m-1 11h0m-1 5h0m0-5h0m0-6h0m0-5h0m0 3h0m0 9h0m-1 3h0m0-5h0m0-6h0m0 9h0m0-5h0m0 4h0m0-5h0m0-5h0m-1 7h0m0 4h0m0-5h0m0 3h0m0-6h0m-1 11h0m0-1h0m0-5h0m0-10h0m0 9h0m0-5h0m0-5h0m0 9h0m0-5h0m0 4h0m-1 7h0m0-5h0m0-5h0m0-5h0m0 12h0m-1 2h0m0-10h0m0-1h0m0 3h0m0-5h0m0 9h0m-1 6h0m0-15h0m0 9h0m0-10h0m0 13h0m-1-3h0m0-5h0m0 4h0m0 4h0m0 4h0m0-14h0m0 4h0m0 9h0m0-14h0m0 4h0m-1-2h0m0 9h0m0 4h0m0-5h0m0 4h0m0-15h0m0 9h0m0 4h0m0-5h0m-1-2h0m0 9h0m0-10h0m0 9h0m0-1h0m0-1h0m0-5h0m-1-3h0m0 9h0m0-14h0m0 13h0m0-5h0m0-5h0m0 4h0m0-5h0m0 9h0m0-5h0m0 9h0m-1 2h0m0-14h0m0 9h0m0-6h0m0-5h0m0-1h0m0 9h0m0-1h0m-1 8h0m0-5h0m0-5h0m0 8h0m0-5h0m0-5h0m0 4h0m-1-8h0m0 3h0m0 14h0m0-15h0m0 4h0m0 9h0m-1-7h0m0 9h0m0-14h0m0 4h0m0 9h0m0-1h0m0-10h0m0-5h0m-1 15h0m0-14h0m0 13h0m0-1h0m0-5h0m0 4h0m0-5h0m0-5h0m-1 7h0m0-5h0m0 9h0m0-10h0m0-1h0m0 9h0m0-5h0m0-1h0m-1 7h0m0-10h0m0-1h0m0 9h0m0-10h0m0 13h0m0-10h0m-1 12h0m0-10h0m0 9h0m0-10h0m0 13h0m0-14h0m0 13h0m0-14h0m-1 6h0m0 9h0m0-1h0m0-15h0m-1 11h0m0 3h0m0-14h0m0-1h0m0 13h0m-1 1h0m0-10h0m0 9h0m0 4h0m0-5h0m0-5h0m0 9h0m0-14h0m0 9h0m0-5h0m-1 1h0m0 8h0m0-10h0m0 8h0m-1-2h0m0-1h0m0-5h0m0 3h0m0 9h0m0-10h0m-1-7h0m0 9h0m0-6h0m0-1h0m-1 1h0m0-1h0m0 4h0m0 9h0m0-10h0m0 8h0m-1-5h0m0 8h0m-1-8h0m0 9h0m-1 0h0m0-5h0m0-2h0m0 4h0m0-5h0m-1-4h0m0 12h0m0-5h0m0-10h0m-1 10h0m0 4h0m0-2h0m0-1h0m-1-12h0m0 8h0m0-5h0m0 9h0m-1-2h0m-1 6h0m0-14h0m-1 4h0m0 8h0m-2-13h0m0 12h0m-1-11h0m-2 0h0m-3 11h0m-2-8h0m0 8h0m-16 9h0m7 1h0m0 11h0m0-14h0m2 5h0m0 8h0m1 1h0m1-8h0m1-1h0m0 4h0m1-5h0m0 2h0m1 5h0m1-3h0m4-8h0m1 2h0m0 7h0m1 4h0m0-5h0m0-1h0m1 3h0m0-7h0m1 10h0m0-8h0m1-2h0m0-5h0m0 4h0m0 9h0m1-14h0m0 7h0m0 4h0m1-1h0m0-1h0m0 4h0m0-11h0m1 7h0m0 3h0m0-1h0m0 4h0m0-5h0m0 4h0m1-9h0m0 3h0m1 4h0m0-10h0m0 8h0m0 3h0m1 2h0m0-11h0m1 2h0m0-5h0m0 7h0m0 8h0m1-9h0m0 8h0m0-5h0m0-5h0m0 9h0m0-10h0m1-4h0m0 8h0m0-1h0m0 9h0m0-1h0m0-5h0m1 5h0m0-14h0m0 9h0m0-10h0m0 8h0m0-5h0m0 9h0m0-5h0m0 9h0m0-14h0m1 6h0m0-6h0m0 9h0m0-6h0m0 4h0m1-8h0m0 4h0m0 12h0m0-5h0m0 4h0m1-2h0m0-5h0m0-5h0m0 4h0m0 4h0m0-5h0m1 0h0m0-5h0m0 9h0m0-5h0m0 9h0m0-14h0m0 9h0m0-5h0m0 4h0m0-9h0m1 5h0m0 9h0m0-6h0m0-5h0m0 9h0m0-10h0m1 10h0m0-9h0m0 13h0m0-14h0m0 9h0m0-6h0m0 9h0m0-5h0m0-5h0m0 13h0m1-13h0m0 4h0m0 9h0m0-10h0m0 9h0m0-14h0m0 4h0m0-5h0m0 9h0m0-10h0m1 16h0m0-5h0m0 4h0m0-14h0m0 4h0m0 4h0m0-5h0m0 9h0m0-5h0m0-5h0m0 4h0m0-5h0m1 11h0m0-5h0m0 9h0m0-6h0m0-5h0m0 9h0m0-5h0m0-5h0m0-1h0m1 1h0m0-2h0m0 9h0m0-10h0m0 9h0m0-1h0m1-4h0m0 4h0m0-5h0m0-5h0m0 13h0m0 4h0m0-5h0m0 4h0m1-12h0m0 4h0m0 4h0m0-5h0m0 9h0m0-10h0m0 9h0m0-14h0m0 9h0m0-5h0m1 1h0m0-5h0m0 4h0m0-5h0m0 8h0m0 9h0m0-10h0m0 4h0m1 5h0m0-14h0m0 9h0m0 4h0m0-14h0m0 9h0m0-5h0m0 9h0m0-14h0m0 8h0m0 9h0m1-13h0m0 9h0m0-10h0m0 4h0m0 4h0m0-5h0m0-5h0m0 13h0m0-14h0m1 11h0m0-6h0m0 9h0m0-14h0m0 8h0m0 9h0m0-5h0m0 4h0m1-13h0m0 4h0m0-5h0m0 9h0m0 4h0m0-14h0m0-1h0m0 4h0m0 9h0m0 4h0m1-8h0m0 4h0m0-10h0m0 9h0m0-6h0m0 9h0m0-10h0m0 9h0m1-4h0m0 4h0m0-5h0m0-5h0m0 4h0m0-5h0m0 9h0m0-5h0m0-5h0m1 15h0m0-1h0m0-14h0m0 9h0m0-5h0m0 4h0m0 4h0m0-14h0m0 9h0m1 5h0m0-9h0m0 8h0m0-5h0m0 9h0m0-10h0m1-6h0m0 8h0m0 3h0m0-5h0m0 9h0m1 1h0m0-5h0m0 4h0m0-14h0m0 7h0m1-8h0m0 9h0m0-5h0m0-1h0m0 4h0m0 9h0m0-14h0m0-1h0m1 5h0m0 9h0m0-5h0m0-5h0m0 9h0m0-5h0m0-1h0m0-5h0m0-1h0m1 5h0m0-5h0m0 9h0m0 4h0m0-1h0m0-10h0m1-1h0m0 9h0m0-5h0m0 4h0m1 4h0m0-10h0m0 9h0m0-15h0m1 13h0m0-10h0m0 3h0m0 9h0m0-5h0m2-6h0m0 8h0m0 4h0m0-2h0m0-5h0m1 6h0m0 2h0m0-5h0m0-5h0m0-5h0m1 10h0m0-2h0m0-2h0m0 9h0m1-11h0m0 8h0m0-14h0m0 9h0m1 5h0m0-10h0m0 4h0m0-2h0m2 7h0m0-1h0m1-2h0m0-6h0m1 3h0m1 1h0m2-4h0m1 0h0m3 2h0m1-2h0m6 1h0m8 24h0m-2 3h0m-5-3h0m-11 4h0m-1-11h0m0 3h0m0-1h0m-1-2h0m-1 2h0m-2 1h0m-1-3h0m0 3h0m0 9h0m0-15h0m-1 11h0m0-6h0m-1-4h0m0 3h0m0-5h0m0 7h0m-1 4h0m0-1h0m0-5h0m-1 11h0m0-10h0m0 2h0m-1-7h0m0 8h0m0 8h0m-1-10h0m0-5h0m0 9h0m-1 5h0m0-14h0m0 12h0m0-1h0m-1-4h0m0 4h0m0-12h0m-1 11h0m0-2h0m-1-3h0m0 9h0m0-10h0m0-6h0m0 3h0m-1 9h0m0-5h0m0-1h0m0-1h0m-1 10h0m0-5h0m0 7h0m-1-1h0m0-10h0m0-1h0m0-5h0m0 17h0m-1-8h0m0-5h0m0 4h0m0 9h0m0-5h0m0-10h0m0 9h0m0-1h0m0-5h0m-1 11h0m0-6h0m0-6h0m0 8h0m-1-4h0m0-5h0m0 9h0m0-1h0m-1-6h0m0 4h0m0 4h0m0 3h0m0-10h0m-1-5h0m0 4h0m0 9h0m0-14h0m-1 16h0m-1-4h0m0-5h0m0 9h0m0-15h0m0 9h0m0 4h0m0-10h0m-1 3h0m0 4h0m0-5h0m-1-1h0m0-5h0m0 4h0m0-1h0m0-2h0m-1 1h0m0-1h0m0-1h0m0 13h0m0-10h0m-1 3h0m0 1h0m-1-2h0m0-5h0m0 4h0m0 8h0m0-1h0m-1-4h0m0-5h0m0 9h0m0-5h0m0 4h0m0-5h0m0-5h0m0 3h0m-1 2h0m0-1h0m0 13h0m0-14h0m0 4h0m0 4h0m0-10h0m-1 8h0m0 4h0m0-10h0m0-3h0m-1 11h0m0-10h0m0 9h0m0 3h0m0-5h0m-1-3h0m0 4h0m0 3h0m0-5h0m0-5h0m0 4h0m0-5h0m-1 11h0m0-5h0m0-5h0m0 4h0m0 9h0m0 2h0m-1-11h0m0 4h0m0-5h0m0-5h0m0 17h0m0-5h0m0-5h0m-1-3h0m0-1h0m0 4h0m0 9h0m0-15h0m0 9h0m0-5h0m-1 6h0m0-5h0m0 4h0m0-1h0m0-6h0m-1 3h0m0-5h0m0 8h0m0 7h0m-1-12h0m0 9h0m0-5h0m0 7h0m0-10h0m-1 2h0m0 9h0m0-5h0m0-11h0m0 9h0m0-5h0m-1-4h0m0 13h0m0-10h0m0 7h0m-1-3h0m0-6h0m0 8h0m0 4h0m-1-4h0m0-1h0m-1-4h0m0 4h0m0 4h0m0-10h0m-1 14h0m0-16h0m-1 17h0m0-5h0m-1-8h0m0-2h0m-1 4h0m0 9h0m0-14h0m0 4h0m0 12h0m-1-3h0m0-2h0m-1-4h0m-1 7h0m0-1h0m0-6h0m-1 6h0m0-6h0m0 9h0m0-5h0m-1-1h0m-1-10h0m-1-1h0m0 7h0m0-6h0m-1 1h0m0 9h0m0 3h0m-1-10h0m0-2h0m0 13h0m-2-14h0m-1 4h0m-1 11h0m0-12h0m-3 8h0m0-10h0m-6-2h0m-2 4h0m-4 6h0m-2 3h0m-2-9h0m-18 21h0m22 10h0m1-7h0m1-4h0m6 4h0m1-9h0m2 7h0m1-4h0m1 11h0m0-8h0m2 0h0m3 2h0m2-5h0m2 4h0m0-5h0m2 11h0m2-5h0m0-8h0m3 6h0m1 4h0m0-10h0m1 12h0m0-5h0m1-7h0m0 3h0m0 7h0m1-4h0m0-1h0m1-5h0m1 0h0m0 3h0m0-1h0m1 4h0m1-7h0m0 17h0m1-7h0m0-7h0m0-1h0m0 9h0m1-9h0m0-2h0m1 1h0m1 13h0m0-6h0m1 8h0m0-6h0m1 1h0m0-6h0m0 12h0m0-15h0m1 1h0m0 9h0m0 3h0m0-15h0m1 13h0m0-5h0m0 3h0m0-1h0m1-9h0m0 12h0m0 3h0m1-14h0m0-1h0m0 4h0m0-5h0m1 11h0m1-1h0m0-1h0m0 4h0m0-1h0m0-1h0m1-11h0m1 5h0m0-1h0m0 13h0m0-5h0m1-10h0m0-1h0m1 9h0m0 3h0m1 0h0m0-10h0m0 9h0m0-1h0m1-3h0m0-2h0m0-2h0m1 8h0m0-6h0m0 9h0m1-12h0m0 4h0m1-2h0m0 9h0m1 1h0m0-5h0m0-2h0m0-2h0m2 11h0m0-16h0m2-1h0m1 12h0m0-11h0m1 11h0m1-9h0m0-1h0m0-2h0m1 14h0m0-12h0m2 9h0m3-6h0m1 6h0m2 0h0m1-5h0m0-5h0m0 13h0m1 1h0m1-12h0m1-3h0m1 1h0m1 7h0m0-5h0m1 2h0m3 12h0m1-5h0m6 2h0m4-2h0m0 2h0m-16 9h0m-12-1h0m-10-2h0m0-1h0m-2 7h0m-2 2h0m-2-5h0m-3 10h0m0 2h0m-2-17h0m-2 0h0m-1 3h0m-6 1h0m-1-1h0m-1-1h0m0 8h0m0-5h0m-5 0h0m0-5h0m-1 1h0m-8 10h0m-7-9h0m-3 1h0m-6 2h0m-15 22h0m38-3h0m31 10h0m2-16h0m-36 19h0" stroke="#FF2A00" stroke-width="3.75" stroke-linecap="round" fill="none"/>
<path transform="scale(0.333333)" d="M1523 230h0m42 3h0m18-9h0m12 8h0m1 19h0m-3 0h0m-4-3h0m-4 2h0m-9-2h0m0-5h0m-3-1h0m-3 4h0m-1 0h0m-1 4h0m-5-13h0m-5 9h0m-1-8h0m-2 6h0m-3 7h0m-2-12h0m-5 7h0m-5-3h0m-16 23h0m1 2h0m6-12h0m7 11h0m3-2h0m1-2h0m4 1h0m0-3h0m2 3h0m0-5h0m0 9h0m1-10h0m0 11h0m2-12h0m1 2h0m1 1h0m0-3h0m5 11h0m0-5h0m1-1h0m0 2h0m3-2h0m1 7h0m0-10h0m1 6h0m1 4h0m1-12h0m0 2h0m1 9h0m0-1h0m2 1h0m5-5h0m1 2h0m1-5h0m0 1h0m1-4h0m4 10h0m1 0h0m8-2h0m1-9h0m1-4h0m9 21h0m0 6h0m-4-3h0m-2-6h0m-2 11h0m-1 5h0m-1 0h0m0-4h0m-2-12h0m0 8h0m-3 1h0m-1-6h0m-3 2h0m-2 11h0m-2-5h0m0-3h0m0-7h0m-1 11h0m0-3h0m-1-5h0m0 1h0m-1 0h0m-1 9h0m-2 1h0m0-12h0m-1 5h0m-1 8h0m-1-11h0m-1 5h0m-1 4h0m-1-5h0m0 4h0m-2-9h0m-1 6h0m0-1h0m-1-6h0m0 6h0m0 4h0m-1-2h0m0 3h0m-2-13h0m0 2h0m0 4h0m-1 7h0m0-12h0m0 4h0m-3-2h0m-1 8h0m-1-7h0m-3 0h0m-1 11h0m-2-7h0m0 2h0m-1-6h0m0-1h0m-1 5h0m-1-1h0m-1-3h0m0 1h0m-1 7h0m0 2h0m-1-1h0m0-7h0m0-1h0m-1 3h0m-3-6h0m-2 10h0m-1 4h0m0-5h0m-1-7h0m-1-3h0m-4 15h0m0-15h0m-3 9h0m-1-5h0m-1 5h0m-10 3h0m10 18h0m18-9h0m7 10h0m1-9h0m1-1h0m3-1h0m1 3h0m0 9h0m1-11h0m0-4h0m2 15h0m0-6h0m3-10h0m2 1h0m1 7h0m0-1h0m2-4h0m1 12h0m1-3h0m1 2h0m0-6h0m6 8h0m0-1h0m0-5h0m2-7h0m2 14h0m1-12h0m2 4h0m2-4h0m1 9h0m0-3h0m2-6h0m5 5h0m1 4h0m1-11h0m-1 17h0m-2-2h0m-3 15h0m-16-15h0m-4 7h0m-1-7h0m0 13h0m-6-9h0m-3 13h0m-7-5h0m-3 4h0m-1-11h0m-6-5h0m-7 3h0m-10 2h0m-11-1h0m52 15h0m6 4h0m15-5h0m5 0h0m11 3h0" stroke="#FF2A00" stroke-width="3.75" stroke-linecap="round" fill="none"/>
<path transform="scale(0.333333)" d="M1630 178h0m-5-2h0m0 3h0m-3-3h0m-4 3h0m-5 0h0m0-2h0m-6 0h0m0 1h0m0-5h0m-1 6h0m-3-2h0m-2 2h0m0-1h0m-4 1h0m0-3h0m-2 1h0m-1-3h0m-1 4h0m-1-1h0m-2-3h0m-1 4h0m0-11h0m-1 9h0m-1 1h0m-1 2h0m-1-2h0m-1-3h0m0 2h0m-5 2h0m0-5h0m-3 5h0m-1-1h0m-2-1h0m-1 2h0m-1-1h0m0 2h0m-12-9h0m-2-2h0m-26 25h0m7-13h0m3 10h0m4-8h0m7 4h0m4 7h0m1-12h0m1 9h0m0 4h0m3-3h0m0 3h0m0 3h0m2-1h0m0-11h0m0 12h0m1-2h0m1 2h0m0-15h0m1 5h0m0 9h0m0-8h0m1 9h0m0-16h0m1 13h0m0-10h0m0-1h0m0 12h0m1 0h0m0-11h0m0 13h0m1-8h0m0 4h0m0-3h0m1 4h0m0-7h0m1 8h0m0-5h0m0-6h0m0 4h0m1 5h0m0-1h0m0-1h0m1-1h0m0 4h0m0-5h0m1-5h0m0 8h0m0-1h0m0-10h0m1 0h0m1 8h0m0-1h0m1-1h0m0-5h0m1 13h0m0-1h0m0-1h0m1-6h0m0 8h0m0-14h0m0 9h0m0-5h0m0 8h0m0-5h0m0 9h0m0-5h0m1-9h0m0 3h0m0-5h0m0 9h0m0-10h0m1 11h0m1 2h0m0-5h0m0 9h0m0-6h0m0-6h0m0 9h0m1 3h0m0-14h0m0 9h0m0-5h0m0 9h0m0-14h0m0 13h0m0-5h0m1 6h0m0-11h0m0-1h0m0 4h0m1 0h0m0-1h0m0-1h0m0 9h0m0-1h0m1-9h0m0 8h0m0 3h0m1-10h0m0 9h0m0-10h0m0 9h0m0-2h0m1-3h0m0-2h0m0 8h0m1 1h0m0-1h0m0-1h0m0-11h0m1 8h0m0-6h0m0 4h0m0-1h0m1-4h0m0 4h0m0-1h0m0 4h0m0-1h0m0-5h0m1 2h0m0-5h0m0 11h0m0-5h0m1-5h0m0 9h0m0-5h0m0 4h0m0-1h0m0-5h0m0-5h0m1 5h0m0 9h0m0 3h0m0-1h0m0-10h0m1 4h0m0 4h0m0-1h0m0-5h0m1 4h0m0 4h0m0-14h0m0 9h0m0-1h0m0-10h0m1 0h0m0 9h0m0-2h0m0 9h0m1-9h0m0-5h0m0 13h0m0-5h0m0-5h0m0 8h0m0 4h0m1-3h0m0-10h0m0 9h0m0-2h0m0 4h0m1-1h0m1 3h0m0-1h0m0-5h0m0-1h0m1-1h0m0 3h0m0-5h0m0 9h0m0-10h0m0 9h0m1-4h0m0 4h0m0-5h0m0 4h0m0-14h0m0 9h0m0-1h0m0 4h0m1-8h0m0 9h0m0 2h0m0-5h0m0 4h0m1 2h0m0-1h0m1-14h0m0 13h0m0-1h0m0-5h0m0 9h0m1-3h0m0-10h0m0 9h0m0-2h0m0 4h0m0-10h0m1 1h0m0 9h0m0-14h0m0 9h0m0-5h0m0 12h0m1-1h0m0-14h0m0 13h0m0-1h0m0-1h0m1 1h0m0-6h0m0 9h0m1-5h0m0-1h0m0-10h0m0 4h0m0 4h0m0 8h0m1 0h0m0-6h0m0 3h0m1 3h0m0-5h0m0-5h0m0 9h0m0-1h0m1 1h0m0-1h0m0-6h0m1 5h0m0-2h0m0-5h0m0 9h0m0-6h0m1 4h0m0 3h0m0-5h0m0-1h0m0-5h0m0 9h0m1 1h0m0-14h0m0 4h0m0-2h0m0 8h0m1 2h0m0-14h0m0 3h0m0 9h0m1 3h0m1-5h0m1 3h0m0 2h0m1 1h0m0-5h0m0-7h0m0 8h0m1-1h0m0-1h0m1-6h0m1 11h0m0-5h0m0 4h0m0-14h0m0 8h0m2 0h0m0 8h0m2-4h0m0 4h0m1 0h0m0-1h0m0-2h0m1-2h0m0-7h0m1 4h0m2 7h0m2-8h0m2 9h0m2-3h0m0-3h0m3-5h0m0 5h0m11 6h0m1-13h0m4 30h0m-11 1h0m-5-1h0m-4-5h0m-2 6h0m-1-13h0m0 4h0m-1 5h0m-1-5h0m-2-4h0m0 3h0m-1-4h0m0-2h0m-2 14h0m0-7h0m0-1h0m-1 9h0m0-15h0m-2 9h0m-1-7h0m-1-1h0m0 12h0m0-6h0m-1-7h0m0 9h0m0 8h0m-1-15h0m0 6h0m-1 2h0m-1-9h0m-1 10h0m0 3h0m-1-14h0m0 4h0m0 8h0m-1 0h0m0-6h0m-1-2h0m0-3h0m-1-1h0m-1 17h0m0-16h0m0 14h0m0-10h0m-1-2h0m0-2h0m-1 4h0m0-5h0m-1 3h0m0 2h0m0 9h0m-1 1h0m0-10h0m0-5h0m0 3h0m0 9h0m0-1h0m0-5h0m-1-5h0m-1 1h0m0 13h0m0-14h0m0 8h0m0 4h0m-1-9h0m0 4h0m0-5h0m0 4h0m0-5h0m0 4h0m-1-3h0m0-1h0m0 6h0m-1 0h0m0-6h0m-1 8h0m-1-7h0m0-2h0m0 4h0m-1-4h0m0 6h0m0-5h0m0 9h0m-1 4h0m0-14h0m0-1h0m-1 2h0m0 3h0m0 9h0m-1 1h0m0-5h0m0-10h0m0 4h0m0 9h0m0-10h0m0-1h0m0 4h0m0-5h0m-1 7h0m0 1h0m0-5h0m-1 1h0m0 8h0m0-5h0m0-1h0m0-5h0m0 9h0m-1 2h0m-1 3h0m0-14h0m0 3h0m0 8h0m-1-8h0m0 4h0m0-5h0m0 8h0m0-11h0m-1 12h0m0-5h0m0-3h0m-1 2h0m0-5h0m0 13h0m0-10h0m-1 0h0m0 3h0m0-5h0m0 13h0m0-1h0m0-14h0m-1 11h0m0-5h0m0-6h0m-1 1h0m0 3h0m0-5h0m0 3h0m0 9h0m-1-9h0m-1 9h0m0-10h0m0-1h0m0 8h0m0-6h0m-1-2h0m0 13h0m0-10h0m0 3h0m-1 6h0m0-11h0m-1 1h0m0 9h0m0-10h0m0 4h0m0-5h0m0 8h0m-1-8h0m0-1h0m0 9h0m0-1h0m-1-4h0m0 2h0m0-5h0m-1 11h0m0-5h0m0-1h0m0-5h0m0 4h0m0-1h0m0 4h0m-1-7h0m-1 2h0m0 8h0m-1-8h0m0 9h0m-1-7h0m0-5h0m0 12h0m-3-8h0m-1-3h0m0 8h0m0-5h0m-1-4h0m-1 10h0m0-6h0m-1 3h0m-1 8h0m0-13h0m-2-2h0m0 8h0m-4-6h0m-2 11h0m-1-12h0m-1 3h0m-1-4h0m-1 17h0m-16-15h0m-9 1h0m24 15h0m3 3h0m24-3h0m3 0h0m10 2h0m1 0h0m3-1h0m2-1h0m9 0h0m5 1h0m0 1h0m1-1h0m1 8h0m6-9h0m1 1h0m2 1h0m19 1h0" stroke="#BEBEBE" stroke-width="3.75" stroke-linecap="round" fill="none"/>
<path transform="scale(0.333333)" d="M1734 43h0m6 6h0m-3 12h0m-5-5h0m-7 15h0m-5-4h0m0 1h0m-3-1h0m-4-3h0m-7 6h0m-9-5h0m0 4h0m-8-3h0m-35 19h0m6 4h0m4-10h0m0 9h0m1 1h0m1-3h0m0 2h0m3-2h0m2 1h0m1-2h0m1 0h0m1 4h0m2-1h0m4-2h0m3 3h0m2-2h0m0-1h0m0-2h0m0 4h0m1-4h0m0-1h0m0-3h0m1 7h0m1-10h0m0 7h0m1-5h0m0 9h0m0-14h0m0 8h0m0-1h0m0 4h0m1-1h0m0-6h0m1 9h0m0-2h0m1 2h0m1 2h0m0-10h0m2-1h0m1-4h0m1 8h0m1-2h0m1 2h0m0 4h0m1-10h0m0 4h0m2 8h0m0-10h0m0-5h0m1 3h0m0 13h0m0-6h0m2 1h0m0-10h0m1-2h0m1 12h0m5-5h0m4-2h0m4-1h0m3 2h0m-14 13h0m-3 0h0m-3-1h0m-1 1h0m0 8h0m-4-8h0m-1 4h0m-1 9h0m-2-10h0m-1 2h0m0 4h0m-1-2h0m-1-1h0m0 9h0m0-11h0m-1 3h0m-1 0h0m0-6h0m0 4h0m0 9h0m0-11h0m-1 2h0m-2-2h0m0 9h0m0-5h0m0-5h0m0 9h0m0-5h0m0-5h0m0-2h0m-1 6h0m0-6h0m0 8h0m0-6h0m0 9h0m-1-3h0m0 9h0m0-2h0m-1-12h0m0-1h0m0-2h0m-1 11h0m0-7h0m0 9h0m-1-1h0m0-5h0m0 9h0m0-1h0m-1-7h0m0-7h0m0 9h0m-1-8h0m0 4h0m0 9h0m0-10h0m0 4h0m0-2h0m-1 1h0m0-5h0m0 9h0m0-2h0m0-1h0m-1-5h0m0 3h0m-1 10h0m0-1h0m0-5h0m0 4h0m-1-3h0m-1-1h0m0-5h0m0-1h0m0-5h0m0 9h0m0-1h0m-1 1h0m0 7h0m0-1h0m-1-3h0m0-5h0m0 4h0m0-6h0m0 4h0m-1 2h0m0-5h0m0 9h0m0-10h0m0 8h0m0 4h0m0-14h0m-1 10h0m0 4h0m0-10h0m-1 8h0m0-14h0m-1 10h0m0-2h0m0-5h0m0 13h0m0-15h0m-1 10h0m0-5h0m0 9h0m0-6h0m0-5h0m-1 6h0m0-5h0m0-5h0m0 3h0m0 8h0m-1 0h0m0 4h0m0-1h0m-1-6h0m0 8h0m0-5h0m0-5h0m0 4h0m0 4h0m0-1h0m-1-8h0m0 9h0m0-10h0m0 9h0m0-5h0m0 8h0m-1-6h0m0 4h0m-1-2h0m0-10h0m0 9h0m0-5h0m0 8h0m0-1h0m-1-13h0m0 13h0m0-1h0m0 4h0m-1 0h0m0-13h0m-1 8h0m0-6h0m0 8h0m-1-8h0m0 4h0m0-2h0m0 9h0m0-14h0m0 9h0m0 4h0m-1-12h0m0 13h0m0-6h0m-1 5h0m0-1h0m0-10h0m0 4h0m0-6h0m-1 7h0m0 3h0m-1-1h0m-1 1h0m0-5h0m-2 4h0m0-1h0m0 4h0m0-1h0m-1 1h0m0-2h0m-1 2h0m-1-12h0m-1 4h0m-1 10h0m-1-6h0m0 6h0m0-5h0m-1 4h0m-2 0h0m-4-5h0m-2 4h0m-20 19h0m0-6h0m5-3h0m0 8h0m2-1h0m1 2h0m0-1h0m1 2h0m0-14h0m1 0h0m1 11h0m0-10h0m1 10h0m0 2h0m1-3h0m1-9h0m1 7h0m0-10h0m0 11h0m1-1h0m0 4h0m0-10h0m1 4h0m0-7h0m1 14h0m0-10h0m0 8h0m1-5h0m0 8h0m0-5h0m0 2h0m1-5h0m0-1h0m0 4h0m1-5h0m0-6h0m0 9h0m0-2h0m1 5h0m0 4h0m1-11h0m0 8h0m0-1h0m0-5h0m0 9h0m0-5h0m1 5h0m0-5h0m0 3h0m0-11h0m0 9h0m1-8h0m0 9h0m0-5h0m0-1h0m0-5h0m1 14h0m0-1h0m0-1h0m0-5h0m0-5h0m0 8h0m0-5h0m1 0h0m0-2h0m0 8h0m0-5h0m0 4h0m1 1h0m0-1h0m0-5h0m0 9h0m0-15h0m0 9h0m1 6h0m0-12h0m0-5h0m1 14h0m0-1h0m0 4h0m0-7h0m1-9h0m0 10h0m0 4h0m0-10h0m0 9h0m0-14h0m0 9h0m1 2h0m0-5h0m0-5h0m0 13h0m0-5h0m0-5h0m0 4h0m1 2h0m0-10h0m0 4h0m0 13h0m0-10h0m0-6h0m1 15h0m0-5h0m0-7h0m0 9h0m0-10h0m1 9h0m0-10h0m0 4h0m0 9h0m0-14h0m0 9h0m0-1h0m1-4h0m0 9h0m0-5h0m0 8h0m0-14h0m0 9h0m0-1h0m0-5h0m0-5h0m1 11h0m0-2h0m0-5h0m0 9h0m0-1h0m0-10h0m1-3h0m0 3h0m0 3h0m1 4h0m0-6h0m0 4h0m0-1h0m0-1h0m1 1h0m0-5h0m0 3h0m0 9h0m0-5h0m0-5h0m0 9h0m0-5h0m0-5h0m1 6h0m0-5h0m0 13h0m1-11h0m0 4h0m0-5h0m0 8h0m0-10h0m0 4h0m1 0h0m0 4h0m0 4h0m0-2h0m1-9h0m0 4h0m0-1h0m0-5h0m0 8h0m1-3h0m0 4h0m0-5h0m0 9h0m0-12h0m1 14h0m0-10h0m0-1h0m0-5h0m1 14h0m0-15h0m0 9h0m0-3h0m1 1h0m0 9h0m0-5h0m0-2h0m0-1h0m0 4h0m1-12h0m0 9h0m1-1h0m1-1h0m0-5h0m0 2h0m1-2h0m0-1h0m1 2h0m1-3h0m1 0h0m0 16h0m1-1h0m0-15h0m1 0h0m1 1h0m1 6h0m1-2h0m0 5h0m1 0h0m0-10h0m1 2h0m0 3h0m0 9h0m3-10h0m3-3h0m1 4h0m-18 19h0m-2 3h0m-1-1h0m-3 5h0m-2-6h0m-1-5h0m-1-2h0m-1 2h0m0-2h0m-2 10h0m-1-5h0m-2 7h0m-1-12h0m-2 3h0m0 13h0m-1-16h0m-1 3h0m-1 5h0m0 9h0m0-10h0m0 4h0m-1-3h0m-1 0h0m0-8h0m-1 11h0m-1-5h0m0-1h0m0 9h0m0-5h0m0-5h0m-1 3h0m0-1h0m-1 9h0m0-10h0m0-1h0m-1-3h0m0 6h0m-1-5h0m0-1h0m-1-1h0m0 2h0m-1 2h0m0-1h0m0 12h0m0-14h0m-1 4h0m0-5h0m0 4h0m-1 5h0m0 7h0m-1-8h0m0 3h0m0-5h0m0 9h0m0-10h0m0 4h0m-1-4h0m-1 1h0m-1 7h0m0-6h0m0-7h0m-1 6h0m0-3h0m-1 11h0m0-5h0m0 3h0m0 4h0m-1-3h0m0-10h0m-1 11h0m0-5h0m0-1h0m0 4h0m-1-3h0m0 7h0m0-10h0m0 9h0m-1 1h0m0-7h0m0 4h0m-1-12h0m0 3h0m0-2h0m-1 9h0m0 3h0m-1-2h0m-1-9h0m0 8h0m-1 2h0m0-12h0m0 9h0m-1 0h0m0 4h0m0-5h0m0 4h0m0-1h0m-1-7h0m0 4h0m0 8h0m0-7h0m-1-7h0m0 1h0m-1 7h0m0-3h0m-1 6h0m-2-5h0m-1 8h0m0-5h0m-1-3h0m-1 7h0m-4-5h0m0 2h0m-1-2h0m0 1h0m-1-7h0m0 4h0m-1-7h0m-1 11h0m-9 3h0m-7 17h0m1-10h0m10-3h0m0 8h0m0-2h0m4 8h0m1-11h0m2 7h0m0-10h0m0 13h0m1-15h0m0 4h0m1 0h0m2 6h0m0-2h0m1-8h0m1 14h0m0-11h0m2 1h0m2 1h0m0 4h0m2-2h0m3 8h0m0-5h0m2-4h0m0-2h0m1 6h0m0-10h0m1 0h0m0 2h0m0-1h0m1-1h0m2 8h0m1-6h0m0 1h0m3-2h0m2 5h0m6 3h0m7-8h0m-34 17h0m-2 9h0m-3-6h0m-2-3h0m0 12h0m-3-10h0m-4 1h0m-2 2h0m-1 2h0m0-5h0m-3 10h0m-25 3h0" stroke="#FF2A00" stroke-width="3.75" stroke-linecap="round" fill="none"/>
<path transform="scale(0.333333)" d="M1665 43h0m1 7h0m21 1h0m5 2h0m16-10h0m15 8h0m22 16h0m-5-12h0m-17 0h0m0 1h0m-15 14h0m-12-7h0m-4-1h0m-3 2h0m-18-4h0m-1 0h0m-2 9h0m0-1h0m-12-4h0m-15-5h0m-5 8h0m-36 17h0m21 0h0m5 3h0m8-11h0m2 13h0m0-7h0m3 4h0m7-14h0m4 17h0m2-13h0m2 9h0m1 3h0m1-11h0m7 12h0m0-16h0m1 11h0m2-5h0m1-3h0m1 3h0m1-3h0m7 12h0m3-7h0m4 3h0m2-8h0m1 12h0m10-11h0m5 4h0m2-3h0m-5 12h0m-7 8h0m-1-8h0m-1 2h0m-13 4h0m-1 5h0m-1 0h0m-4-11h0m-8 2h0m0 8h0m0 2h0m-9 3h0m-1-14h0m0 4h0m0 9h0m-4-12h0m-4 15h0m0-15h0m-7 3h0m0 3h0m-8 0h0m-4-1h0m-2 9h0m-2-10h0m0 4h0m0-1h0m-5 8h0m-3-7h0m-1 0h0m-8-10h0m-3 11h0m-10 2h0m-10 20h0m10-12h0m2 11h0m4-14h0m2 10h0m4-5h0m0-3h0m5 15h0m2-14h0m1 12h0m1-13h0m3 5h0m1-1h0m8 0h0m2 1h0m1-7h0m1 14h0m1-4h0m1-3h0m2 2h0m2-1h0m0 4h0m5 5h0m5-16h0m2 0h0m1 6h0m7 7h0m1-8h0m0-4h0m1 4h0m1 0h0m4 10h0m2-3h0m1-7h0m4 10h0m-21 9h0m-2-5h0m-2-2h0m-2 1h0m-3 8h0m-6-8h0m-4-1h0m-1 10h0m-2-4h0m-5 7h0m-11-9h0m-1-3h0m-2 15h0m-13-12h0m-4-4h0m-2 11h0m-2 1h0m-3-12h0m-23 12h0m-9-1h0m40 13h0m0-3h0m5 9h0m4-8h0m4 6h0m14-6h0m13-1h0m-70 30h0" stroke="#FF2A00" stroke-width="3.75" stroke-linecap="round" fill="none"/>
<path transform="scale(0.333333)" d="M1692 123h0m15-4h0m-12 14h0m-1-3h0m-4-4h0m-5 12h0m-1-2h0m0 2h0m-1-2h0m-1 1h0m0-2h0m-1-1h0m-1 4h0m-1 0h0m-2 2h0m-1-5h0m0 8h0m-2-4h0m0-10h0m0 2h0m0 9h0m-2-9h0m0 9h0m-3-1h0m0 4h0m-1-13h0m-1 11h0m-1 1h0m0-1h0m-1-7h0m0 9h0m0-5h0m0-5h0m-1 6h0m-3 1h0m-2 3h0m-5-1h0m-1 0h0m-17 9h0m2 5h0m0-1h0m0 6h0m2-2h0m0-5h0m0 7h0m1 0h0m0-6h0m2 5h0m0-11h0m0 3h0m1-5h0m0 8h0m0-5h0m1 8h0m0-1h0m0-2h0m1 6h0m0-7h0m1 3h0m0 4h0m1-2h0m0 2h0m0-1h0m2-6h0m0 6h0m0-5h0m0-5h0m1 7h0m1-2h0m0 4h0m1-2h0m0 4h0m0-5h0m1-5h0m0-6h0m0 13h0m0-5h0m0 8h0m1-8h0m0 8h0m0-6h0m0 4h0m1-5h0m0-5h0m0-3h0m1 10h0m0-1h0m0-10h0m0 12h0m1 1h0m0-6h0m0 4h0m0 4h0m0-14h0m0 9h0m0-1h0m1 6h0m0-1h0m0-11h0m0 9h0m0-6h0m1 3h0m0-5h0m0 9h0m1-1h0m0-11h0m1 14h0m0-10h0m0 9h0m0-5h0m0 4h0m0-6h0m1-1h0m0 8h0m0-10h0m0 4h0m1 4h0m0-8h0m1-3h0m0 4h0m0-5h0m0 8h0m0-1h0m0 9h0m1-13h0m0-1h0m0-2h0m1-1h0m0 3h0m1 5h0m0 4h0m1-3h0m0-5h0m0 3h0m0-2h0m1 2h0m0-1h0m0-6h0m1 14h0m2-11h0m1-3h0m0 4h0m0-1h0m1 7h0m1-8h0m0 10h0m1 0h0m0-6h0m1-4h0m0 8h0m1-10h0m1 3h0m1 6h0m0-6h0m-10 18h0m-5 2h0m-2-4h0m-1-1h0m-2 3h0m-1 3h0m-2-3h0m0-1h0m-1-1h0m0 4h0m-1-4h0m0 3h0m-1-4h0m0 7h0m-1 1h0m0 3h0m0-7h0m-1-3h0m0-1h0m0 3h0m-1 0h0m0 3h0m-1-2h0m-1 1h0m0 3h0m0-5h0m0 9h0m-1-10h0m0 4h0m0 3h0m0-5h0m-1-2h0m-1 2h0m0 9h0m0-10h0m0 13h0m0-15h0m-1 10h0m0-5h0m0-5h0m0 3h0m-1 2h0m0 4h0m0-5h0m0-1h0m0-1h0m0 9h0m-1-4h0m0 7h0m-1-7h0m0-5h0m0 3h0m0-5h0m0 8h0m0 4h0m-1-3h0m-1 7h0m0-11h0m0 9h0m0-14h0m-1 2h0m0 9h0m0-11h0m0 14h0m0-10h0m-1 9h0m0-11h0m0 3h0m-1 5h0m0-10h0m0 13h0m-1-4h0m0-10h0m-1 5h0m0 4h0m0 3h0m0 3h0m-1-12h0m0 9h0m0-11h0m0 4h0m0-1h0m-1 11h0m0-5h0m0-5h0m0-1h0m0 13h0m-1-9h0m0 8h0m0-14h0m0 8h0m-1 6h0m0-14h0m0 3h0m0 9h0m-1-6h0m-1-7h0m0 8h0m-1 7h0m-1-1h0m0-1h0m0 3h0m0-6h0m0-5h0m-1 6h0m0-1h0m0-10h0m0 4h0m0 4h0m-1 5h0m0-10h0m-1 8h0m0 4h0m0-14h0m-1 0h0m-2 9h0m-1-1h0m-4 7h0m-4-10h0m-2 9h0m-2 0h0m-4-2h0m-9 19h0m1-10h0m3 11h0m1-3h0m2-10h0m0-2h0m3 3h0m0 9h0m1-11h0m0 9h0m0-5h0m2-3h0m0 4h0m1 1h0m1 0h0m0-2h0m0-5h0m1 11h0m0-6h0m0-3h0m3 4h0m1 8h0m1-12h0m0 3h0m1-2h0m0-1h0m1-2h0m1 6h0m0 1h0m1-7h0m1 12h0m0-13h0m6 4h0m0 3h0m1-2h0m0-1h0m2-4h0m1 0h0m1 3h0m2 4h0m8-7h0m3 7h0m-47 19h0" stroke="#1E3CFF" stroke-width="3.75" stroke-linecap="round" fill="none"/>
<path transform="scale(0.333333)" d="M1701 120h0m5 4h0m1-9h0m6 9h0m13-4h0m7 4h0m1 18h0m-2-11h0m-13-3h0m-2 12h0m-2-6h0m-5 0h0m0 2h0m0 6h0m-1 0h0m-3-4h0m-1-7h0m-2 7h0m-2 2h0m-2-3h0m-1 2h0m0-12h0m-1 7h0m-3 3h0m-4 4h0m-5-3h0m-1-4h0m-5 7h0m-4-2h0m-6 4h0m-2-1h0m-3 14h0m0-7h0m2 12h0m6-3h0m1-2h0m0-10h0m4 8h0m3 7h0m0-12h0m1 12h0m0-7h0m1 1h0m1 0h0m2 5h0m0-5h0m1-3h0m0-3h0m2 6h0m2-8h0m1 6h0m0-7h0m0 6h0m3-2h0m2 2h0m1-7h0m0 11h0m0-10h0m1 7h0m2 1h0m3 2h0m0-12h0m1 4h0m1-2h0m-5 17h0m-7 4h0m-2-2h0m-2 5h0m-5 2h0m-2 0h0m-3-2h0m-6-2h0m-6 4h0m-3-5h0m-2 5h0m-6 3h0m-6-2h0m-21 22h0m29-11h0m14-2h0" stroke="#1E3CFF" stroke-width="3.75" stroke-linecap="round" fill="none"/>
<path transform="scale(0.333333)" d="M1735 70h0m-40 18h0m5-1h0m1-6h0m4 8h0m6-1h0m5 0h0m2 1h0m2-12h0m5 6h0m10-2h0m8 23h0m-5-6h0m-10-5h0m-1 6h0m-2-3h0m-1 2h0m-1 6h0m0-11h0m-1-2h0m-4 5h0m-1 6h0m-1 5h0m0-10h0m-1 5h0m-2 1h0m-1-9h0m0 4h0m-2 5h0m0-2h0m0-10h0m-1 14h0m0-3h0m-1-5h0m-1-5h0m0 7h0m0-1h0m0-5h0m-1 11h0m0-3h0m-1 1h0m0-10h0m0-1h0m0-1h0m0 9h0m0-5h0m-1 11h0m0-1h0m-1 0h0m0-10h0m-1 7h0m0-10h0m-1-1h0m0 13h0m-1 2h0m0-1h0m-1 3h0m-1-13h0m0-1h0m-1 13h0m-1 0h0m0-10h0m0 8h0m0-5h0m0 4h0m-1-12h0m0 7h0m0-6h0m-1 7h0m-1 0h0m-1-2h0m-2 7h0m-1-6h0m-1-2h0m0 7h0m0-1h0m-1 2h0m0-6h0m-1 9h0m0-5h0m0-7h0m-1 9h0m0-2h0m-1-6h0m0 9h0m-1-9h0m-1 8h0m0 3h0m-2 0h0m0-1h0m0-3h0m-3 4h0m0-10h0m-1 10h0m-1-5h0m-1-3h0m-2 7h0m0-1h0m-1 1h0m-8-1h0m-3 0h0m-24 19h0m9-3h0m0 2h0m2-4h0m4 4h0m1-6h0m2 5h0m0-6h0m2 6h0m0-11h0m1 11h0m0-5h0m0-2h0m0 4h0m1 3h0m2-4h0m0 4h0m1 1h0m1 2h0m0-14h0m0 9h0m2-3h0m0 1h0m0-5h0m1 4h0m0 4h0m0-5h0m0 9h0m0-10h0m0 9h0m0-10h0m1 6h0m0 4h0m0-14h0m0 9h0m0-7h0m1 10h0m0-6h0m0 9h0m0-5h0m0 4h0m0-10h0m0-5h0m0 9h0m1 6h0m0-10h0m0 8h0m0 3h0m1-10h0m0 9h0m0-5h0m0 4h0m1-2h0m0-5h0m0 9h0m0-5h0m0-5h0m1 5h0m0-1h0m0-5h0m0 8h0m0 3h0m1-4h0m0 4h0m0-5h0m0-7h0m0 9h0m1 0h0m0-1h0m0-5h0m0 9h0m0-5h0m0-5h0m0-5h0m0 9h0m0-5h0m0 9h0m0-14h0m1 15h0m0-10h0m0 9h0m0-5h0m0 4h0m0-5h0m0-6h0m1 2h0m0 9h0m0-1h0m0-5h0m0-1h0m0 8h0m0-5h0m1-9h0m0 3h0m0 8h0m0 4h0m0-5h0m1-4h0m0 9h0m0-6h0m0-1h0m0 8h0m1-8h0m0 4h0m0-10h0m0 12h0m0-14h0m1 11h0m0 3h0m0-10h0m0 9h0m0-10h0m1 4h0m0-5h0m0-1h0m0 3h0m0 9h0m1-1h0m0-5h0m0-5h0m0 13h0m0-5h0m1-1h0m0 4h0m0-5h0m0-1h0m1 0h0m0 9h0m0-14h0m0 9h0m0-5h0m0 4h0m0-5h0m0-5h0m1 4h0m0 4h0m0 4h0m0-10h0m0 12h0m0-14h0m0 9h0m1 6h0m0-5h0m0-1h0m0-10h0m0 17h0m0-14h0m0 9h0m1 2h0m0-6h0m0 4h0m0-2h0m1-4h0m0-5h0m0 9h0m0-5h0m0-5h0m0 9h0m0 8h0m0-14h0m1 4h0m0 9h0m0-14h0m0 8h0m0-1h0m0-1h0m1 8h0m0-14h0m0 3h0m1 2h0m0-1h0m0 4h0m0-5h0m0 8h0m0 4h0m1-5h0m0 3h0m1 2h0m0-15h0m0 4h0m0 8h0m1-7h0m0 4h0m0-10h0m0 13h0m0-5h0m0 4h0m1-4h0m0-5h0m0 4h0m0-5h0m0 12h0m1-1h0m0-5h0m0 3h0m0-1h0m1-6h0m0 12h0m1-13h0m0 9h0m0-11h0m0 3h0m1 0h0m1 3h0m0-5h0m0 9h0m1-2h0m0-7h0m0 13h0m0-10h0m1-4h0m0 8h0m0-7h0m1 1h0m1-4h0m0 12h0m0-5h0m1 0h0m0 4h0m0-2h0m1 2h0m1-9h0m0-1h0m0 9h0m2-2h0m1-6h0m0-2h0m0 13h0m4-10h0m1 4h0m3 0h0m0 4h0m2-4h0m1-6h0m-12 20h0m-6-1h0m0 12h0m-4-4h0m-1 7h0m-2-16h0m0 2h0m-1 2h0m0 4h0m-1-6h0m-1 2h0m-1 2h0m0-5h0m0 4h0m0-5h0m-1-1h0m-1 3h0m0-1h0m0-1h0m-1 5h0m0 3h0m-1-6h0m-1 9h0m0-1h0m-1-8h0m0 7h0m0-6h0m-1-4h0m0 12h0m0 4h0m0-14h0m-1-1h0m-1 7h0m0-5h0m0 13h0m0-14h0m0 3h0m0-1h0m-1 1h0m0-5h0m0 8h0m0-5h0m0-1h0m0 9h0m-1-3h0m0-7h0m0 13h0m0-14h0m-1 8h0m0-5h0m0-2h0m0-1h0m0 13h0m-1-8h0m0-5h0m0 9h0m0-5h0m0 9h0m0-5h0m0-5h0m0 9h0m-1-4h0m0-1h0m0-5h0m0 3h0m0-5h0m-1 5h0m0 4h0m0 4h0m0-5h0m0-5h0m0-1h0m-1 4h0m0-1h0m0 7h0m-1-4h0m0-2h0m0-6h0m0 9h0m-1 5h0m0-10h0m0 9h0m0-5h0m0 4h0m0-5h0m0-5h0m-1 2h0m0 9h0m0-5h0m0-1h0m0 9h0m0-14h0m-1 6h0m0 9h0m0-14h0m0-2h0m0-1h0m0 9h0m0-5h0m-1 2h0m0 9h0m0-14h0m0 9h0m0-5h0m0 9h0m0-5h0m0-5h0m0 9h0m0-5h0m0-5h0m0 4h0m0-5h0m0 9h0m-1-3h0m0-6h0m0 4h0m0-6h0m0 9h0m-1-2h0m0 9h0m0-5h0m0 2h0m0-5h0m0-5h0m-1 12h0m0-14h0m0 9h0m0-5h0m0-1h0m0 9h0m0-1h0m0 4h0m0-5h0m-1 1h0m0-5h0m0-6h0m0 4h0m0 9h0m0-14h0m0 9h0m0-5h0m-1 6h0m0-5h0m0-5h0m0 9h0m0-5h0m0 3h0m-1-7h0m0 9h0m0 3h0m0-5h0m0-5h0m0 3h0m-1 12h0m0-14h0m0 9h0m0-5h0m0 9h0m0-14h0m0 4h0m0 9h0m0-10h0m0 9h0m0-14h0m0 13h0m-1-2h0m0-2h0m0-5h0m0 4h0m0-6h0m-1 11h0m0-10h0m0 4h0m0 9h0m0-14h0m0 9h0m0-5h0m0-5h0m-1 2h0m0 4h0m0 9h0m0-14h0m0 4h0m0-5h0m0 12h0m-1 2h0m0-15h0m0 4h0m0-1h0m-1 5h0m0 9h0m0-10h0m0 9h0m0-14h0m0 9h0m0-5h0m0 9h0m0-14h0m0 9h0m0-10h0m0 9h0m-1-3h0m0-5h0m0 13h0m0-6h0m0 4h0m0-5h0m0 9h0m-1-1h0m0-14h0m0 4h0m0-5h0m0 4h0m0 13h0m0-14h0m0 9h0m0 4h0m0-5h0m-1 2h0m0-10h0m0 8h0m0-5h0m0 4h0m0 4h0m0-5h0m-1-3h0m0 1h0m0 4h0m-1-11h0m0 9h0m0 4h0m0 4h0m0-14h0m0 9h0m0-1h0m0-5h0m0-5h0m-1 11h0m0-5h0m0-6h0m0 4h0m-1 1h0m0-1h0m0-3h0m-1 7h0m0 4h0m0 4h0m0-14h0m0 4h0m0 9h0m0-10h0m0-1h0m-1-2h0m0-1h0m0 13h0m0-1h0m0-5h0m0 4h0m0-5h0m0 9h0m-1-6h0m0-1h0m0 3h0m0 4h0m0-5h0m0 4h0m-1-8h0m0 9h0m0-14h0m0 4h0m0 9h0m0-5h0m0 4h0m0-5h0m-1-4h0m0 9h0m-1-1h0m0-2h0m0-5h0m-1-6h0m-1 3h0m0 3h0m-1 8h0m0-11h0m-1 13h0m0-10h0m0 9h0m0-10h0m0 9h0m0-10h0m0 4h0m-1-2h0m-1 10h0m-1-4h0m0-1h0m0 4h0m-1-1h0m0-2h0m0-5h0m-1-7h0m-1 14h0m0-7h0m0-1h0m-1 2h0m0 4h0m0-2h0m0-6h0m-1 7h0m-1-1h0m0 4h0m0-1h0m0 2h0m-3 0h0m0 1h0m-1-9h0m-1-1h0m-3 6h0m-1 4h0m-7-6h0m-17 11h0m5 6h0m3 4h0m3-4h0m0-1h0m4 8h0m0-3h0m2-8h0m0-1h0m1 12h0m0-5h0m0-1h0m1-1h0m0-3h0m1 10h0m0-5h0m0-1h0m0-7h0m0 9h0m1-8h0m1 10h0m1-8h0m0 3h0m0-2h0m1 6h0m0-10h0m0 9h0m0 3h0m0-6h0m1 5h0m0-5h0m0-5h0m1 4h0m0-5h0m1 4h0m0 9h0m0-15h0m1-2h0m0 8h0m1 1h0m0-5h0m0-3h0m0 9h0m1-3h0m0 9h0m0-10h0m0 9h0m0-2h0m0 4h0m0-14h0m1-1h0m0 9h0m0-8h0m1 5h0m0 4h0m0 4h0m0-10h0m0 9h0m0-14h0m1 11h0m0-6h0m0 8h0m0-10h0m0 4h0m1 0h0m0-5h0m0 13h0m0-15h0m1-1h0m0 3h0m0 4h0m0-1h0m0 4h0m0-5h0m1-5h0m0 14h0m0-1h0m1-13h0m0 4h0m0-1h0m0-2h0m1 10h0m0-7h0m0 13h0m0-1h0m1-1h0m0-14h0m0 8h0m0-6h0m1 6h0m0-5h0m0 9h0m0-5h0m0-5h0m0 8h0m1-4h0m0-5h0m0-1h0m0 8h0m0-5h0m0-1h0m0 9h0m1-9h0m0 9h0m0-1h0m0-5h0m1 3h0m0-1h0m0-1h0m0-5h0m0 13h0m1-8h0m0 9h0m0-14h0m0 4h0m0 9h0m0-14h0m0 8h0m0-1h0m0 9h0m1-3h0m0-5h0m0-5h0m0 3h0m0-5h0m0 4h0m1 0h0m0 9h0m0-14h0m0 4h0m0-5h0m0 4h0m0 9h0m0-10h0m0 4h0m0 9h0m1-9h0m0 4h0m0-1h0m0 3h0m1-4h0m0-5h0m0 13h0m1-15h0m0 13h0m0 2h0m1-8h0m0-5h0m0 9h0m0-5h0m1-8h0m0 4h0m0-1h0m0 9h0m0-10h0m0 13h0m1-13h0m0-1h0m0 8h0m1 3h0m0-2h0m0-5h0m0-5h0m1 13h0m0-5h0m0-5h0m0 9h0m0-6h0m0 9h0m0-14h0m0 4h0m1-3h0m0 4h0m0-1h0m0-1h0m0 4h0m0-5h0m1 11h0m0-1h0m0-5h0m0-2h0m1-6h0m0 9h0m0-1h0m0-5h0m0 8h0m1 1h0m0-11h0m0 4h0m0-5h0m0 8h0m0 9h0m0-14h0m1-3h0m0 9h0m0-5h0m0-1h0m0 13h0m0-14h0m0-1h0m1 0h0m0 4h0m0-1h0m1-3h0m0-1h0m1 3h0m0-1h0m1 2h0m1-1h0m0 4h0m0-5h0m0 4h0m1-1h0m1-4h0m1 0h0m1 3h0m0-1h0m1-1h0m1 3h0m1 2h0m1-5h0m1 3h0m1-3h0m0 6h0m1-5h0m0 8h0m0-10h0m3 5h0m2-3h0m2-3h0m2 2h0m-33 22h0m0-1h0m0-5h0m-2 6h0m-3-5h0m-1 4h0m0 1h0m-1-4h0m-1 2h0m0 4h0m0-7h0m-2 2h0m0-3h0m-2 5h0m-1-3h0m-1-2h0m-2 5h0m0-2h0m0 9h0m-1-11h0m-1 0h0m-1 2h0m0-1h0m-1 4h0m-1-6h0m-1 1h0m0-1h0m0 4h0m-1 7h0m0-5h0m-1-1h0m0 9h0m0-3h0m-1-10h0m0 16h0m0-15h0m0 4h0m-1-2h0m-2-1h0m0 3h0m-1 10h0m0-2h0m0-5h0m-1 6h0m0-12h0m0 4h0m-1-7h0m-1 12h0m-2-4h0m0-4h0m-3-2h0m0 11h0m-1 1h0m0-14h0m0 13h0m-1-9h0m-2 4h0m0 9h0m0-1h0m0-5h0m-2-9h0m-2 6h0m0 9h0m-1-15h0m-1 4h0m-4 3h0m-5 3h0m0-6h0m-15 24h0m4 1h0m1-11h0m1 15h0m2-9h0m6-5h0m1-1h0m1 7h0m6-7h0m7 0h0m2 2h0m2 4h0m1-4h0m5-1h0m3-2h0m-21 18h0m-30 15h0m-11-5h0" stroke="#A020F0" stroke-width="3.75" stroke-linecap="round" fill="none"/>
<path transform="scale(0.333333)" d="M1725 48h0m3 23h0m-18-15h0m-1 14h0m-6-4h0m-4 19h0m7-3h0m1-4h0m4-2h0m2-3h0m0 9h0m2 1h0m7 1h0m5 5h0m1-5h0m2-2h0m18 14h0m-13-4h0m-8 15h0m-9-10h0m-6-7h0m-4 4h0m-5-4h0m-2 0h0m-13 4h0m-14 17h0m30 4h0m4 12h0" stroke="#A020F0" stroke-width="3.75" stroke-linecap="round" fill="none"/>
<path transform="scale(0.333333)" d="M1652 159h0m-2 12h0m0-3h0m-1 4h0m-3 4h0m0-5h0m0 4h0m0-5h0m-1 3h0m-1 2h0m0 2h0m-1 1h0m-1-10h0m0 8h0m-1-8h0m0 8h0m-1-10h0m0 9h0m0 4h0m-1-2h0m0-13h0m-1 7h0m0-3h0m0 8h0m-1-1h0m0-4h0m-1 7h0m0-8h0m-1 7h0m0-5h0m-1-1h0m0 8h0m-1-3h0m0 2h0m0-7h0m0-5h0m0 11h0m0 2h0m0-7h0m-1-5h0m0 8h0m-1-7h0m0 9h0m0-5h0m-1 5h0m0-12h0m0 13h0m0-7h0m-1 7h0m0-8h0m0 4h0m-1 3h0m0 2h0m0-7h0m0-4h0m-1 10h0m-1-4h0m0-1h0m-1 3h0m0 2h0m0-5h0m0 2h0m0-7h0m0 2h0m-1 5h0m0 2h0m0 2h0m0-3h0m0 2h0m-1 0h0m0-3h0m-1 1h0m0 2h0m-2 1h0m0-3h0m-1 2h0m0 1h0m-2-5h0m0 3h0m0-5h0m-1 0h0m-1 7h0m0-5h0m-1 5h0m-1 0h0m0-3h0m0 2h0m-1 0h0m-3 0h0m-2 0h0m-2-3h0m-24 19h0m9-7h0m2 4h0m3 1h0m1 3h0m1-10h0m1 0h0m0 11h0m1-10h0m0 2h0m0 4h0m1-2h0m1-6h0m1 1h0m0 9h0m0 2h0m1-13h0m1 3h0m0 9h0m0-5h0m0-5h0m1-1h0m0 4h0m0-5h0m0 6h0m1-2h0m0 6h0m0-7h0m0 2h0m1 3h0m1-2h0m0-7h0m0 4h0m0 2h0m2-8h0m0 2h0m0 13h0m0-7h0m0 4h0m1-9h0m0-3h0m1 5h0m0 4h0m0 2h0m1-11h0m1 8h0m0 4h0m1-6h0m0 11h0m0-14h0m0 9h0m0-5h0m1-7h0m0 9h0m0-5h0m0-3h0m0 9h0m1-5h0m0-5h0m0 6h0m0 4h0m1-1h0m0-7h0m0 2h0m0 6h0m0-7h0m1-1h0m0 2h0m0-3h0m0 9h0m1-10h0m0 2h0m0 11h0m0-12h0m1 11h0m0-12h0m0 9h0m0-7h0m0 2h0m0-3h0m1 1h0m0 2h0m0 4h0m0-7h0m0 11h0m1-5h0m0-7h0m0 4h0m0 2h0m0 2h0m1 0h0m1-1h0m0-5h0m0 6h0m1-2h0m0-6h0m1 0h0m0 4h0m0 4h0m1-2h0m0 2h0m0-7h0m0 9h0m0-7h0m0 4h0m1 1h0m0-7h0m0 2h0m1-2h0m0 1h0m0 2h0m1-2h0m0 2h0m0-3h0m1 12h0m0-4h0m1 3h0m1-12h0m1 2h0m1-1h0m0-1h0m0 2h0m0 6h0m3-2h0m0-4h0m1 0h0m0 4h0m-42 16h0" stroke="#1E3CFF" stroke-width="3.75" stroke-linecap="round" fill="none"/>
<rect x="469.5" y="13.3" width="118.10" height="103.40" fill="none" stroke="#555" stroke-width="0.7"/>
<line x1="481.00" y1="116.70" x2="481.00" y2="119.30" stroke="#555" stroke-width="0.5" />
<text x="481.00" y="126.00" font-size="5.3" fill="#222" text-anchor="middle" >-6</text>
<line x1="496.80" y1="116.70" x2="496.80" y2="119.30" stroke="#555" stroke-width="0.5" />
<text x="496.80" y="126.00" font-size="5.3" fill="#222" text-anchor="middle" >-4</text>
<line x1="512.60" y1="116.70" x2="512.60" y2="119.30" stroke="#555" stroke-width="0.5" />
<text x="512.60" y="126.00" font-size="5.3" fill="#222" text-anchor="middle" >-2</text>
<line x1="528.40" y1="116.70" x2="528.40" y2="119.30" stroke="#555" stroke-width="0.5" />
<text x="528.40" y="126.00" font-size="5.3" fill="#222" text-anchor="middle" >0</text>
<line x1="544.20" y1="116.70" x2="544.20" y2="119.30" stroke="#555" stroke-width="0.5" />
<text x="544.20" y="126.00" font-size="5.3" fill="#222" text-anchor="middle" >2</text>
<line x1="560.00" y1="116.70" x2="560.00" y2="119.30" stroke="#555" stroke-width="0.5" />
<text x="560.00" y="126.00" font-size="5.3" fill="#222" text-anchor="middle" >4</text>
<line x1="575.80" y1="116.70" x2="575.80" y2="119.30" stroke="#555" stroke-width="0.5" />
<text x="575.80" y="126.00" font-size="5.3" fill="#222" text-anchor="middle" >6</text>
<line x1="466.90" y1="92.40" x2="469.50" y2="92.40" stroke="#555" stroke-width="0.5" />
<text x="464.30" y="92.40" font-size="5.3" fill="#222" text-anchor="middle" transform="rotate(-90 464.30 92.40)" >-5</text>
<line x1="466.90" y1="63.40" x2="469.50" y2="63.40" stroke="#555" stroke-width="0.5" />
<text x="464.30" y="63.40" font-size="5.3" fill="#222" text-anchor="middle" transform="rotate(-90 464.30 63.40)" >0</text>
<line x1="466.90" y1="34.40" x2="469.50" y2="34.40" stroke="#555" stroke-width="0.5" />
<text x="464.30" y="34.40" font-size="5.3" fill="#222" text-anchor="middle" transform="rotate(-90 464.30 34.40)" >5</text>
<text x="528.40" y="134.70" font-size="6.6" fill="#222" font-weight="bold" text-anchor="middle" textLength="36" lengthAdjust="spacingAndGlyphs" >FULV_E2 - E2</text>
<text x="454.50" y="64.50" font-size="6.6" fill="#222" font-weight="bold" text-anchor="middle" textLength="30" lengthAdjust="spacingAndGlyphs" transform="rotate(-90 454.50 64.50)" >EL_E2 - E2</text>
<text x="500.4" y="6.7" font-size="10" font-weight="bold"><tspan textLength="49.6" lengthAdjust="spacingAndGlyphs">MCF7-LTED</tspan><tspan font-size="6" dy="-2.6" textLength="18" lengthAdjust="spacingAndGlyphs">Y537C</tspan></text>
<path d="M175.20 201.20L219.20 201.20A44.0 44.0 0 0 0 213.73 179.96Z" fill="#A6CEE3" stroke="#444" stroke-width="0.35"/>
<path d="M175.20 201.20L213.73 179.96A44.0 44.0 0 0 0 209.03 173.07Z" fill="#2E82B0" stroke="#444" stroke-width="0.35"/>
<path d="M175.20 201.20L209.03 173.07A44.0 44.0 0 0 0 203.84 167.80Z" fill="#99D277" stroke="#444" stroke-width="0.35"/>
<path d="M175.20 201.20L203.84 167.80A44.0 44.0 0 0 0 202.50 166.69Z" fill="#6F9E4D" stroke="#444" stroke-width="0.35"/>
<path d="M175.20 201.20L202.50 166.69A44.0 44.0 0 0 0 198.80 164.07Z" fill="#F16767" stroke="#444" stroke-width="0.35"/>
<path d="M175.20 201.20L198.80 164.07A44.0 44.0 0 0 0 198.15 163.66Z" fill="#F06C46" stroke="#444" stroke-width="0.35"/>
<path d="M175.20 201.20L198.15 163.66A44.0 44.0 0 0 0 189.67 159.65Z" fill="#FE992C" stroke="#444" stroke-width="0.35"/>
<path d="M175.20 201.20L189.67 159.65A44.0 44.0 0 0 0 156.85 161.21Z" fill="#DAA396" stroke="#444" stroke-width="0.35"/>
<path d="M175.20 201.20L156.85 161.21A44.0 44.0 0 0 0 134.35 217.54Z" fill="#7D54A6" stroke="#444" stroke-width="0.35"/>
<path d="M175.20 201.20L134.35 217.54A44.0 44.0 0 0 0 135.32 219.79Z" fill="#F0EC99" stroke="#444" stroke-width="0.35"/>
<path d="M175.20 201.20L135.32 219.79A44.0 44.0 0 0 0 219.20 201.20Z" fill="#B15928" stroke="#444" stroke-width="0.35"/>
<text x="151.60" y="148.90" font-size="8.3" font-weight="bold" textLength="72.7" lengthAdjust="spacingAndGlyphs" >All binding sites FULV</text>
<rect x="229.00" y="164.40" width="4.8" height="4.6" fill="#A6CEE3" stroke="#555" stroke-width="0.3"/>
<text x="238.60" y="168.80" font-size="5.95" fill="#222" >Promoter (&lt;=1kb) (8.02%)</text>
<rect x="229.00" y="171.52" width="4.8" height="4.6" fill="#2E82B0" stroke="#555" stroke-width="0.3"/>
<text x="238.60" y="175.92" font-size="5.95" fill="#222" >Promoter (1&#8722;2kb) (3.02%)</text>
<rect x="229.00" y="178.64" width="4.8" height="4.6" fill="#99D277" stroke="#555" stroke-width="0.3"/>
<text x="238.60" y="183.04" font-size="5.95" fill="#222" >Promoter (2&#8722;3kb) (2.68%)</text>
<rect x="229.00" y="185.76" width="4.8" height="4.6" fill="#6F9E4D" stroke="#555" stroke-width="0.3"/>
<text x="238.60" y="190.16" font-size="5.95" fill="#222" >5' UTR (0.63%)</text>
<rect x="229.00" y="192.88" width="4.8" height="4.6" fill="#F16767" stroke="#555" stroke-width="0.3"/>
<text x="238.60" y="197.28" font-size="5.95" fill="#222" >3' UTR (1.64%)</text>
<rect x="229.00" y="200.00" width="4.8" height="4.6" fill="#F06C46" stroke="#555" stroke-width="0.3"/>
<text x="238.60" y="204.40" font-size="5.95" fill="#222" >1st Exon (0.28%)</text>
<rect x="229.00" y="207.12" width="4.8" height="4.6" fill="#FE992C" stroke="#555" stroke-width="0.3"/>
<text x="238.60" y="211.52" font-size="5.95" fill="#222" >Other Exon (3.4%)</text>
<rect x="229.00" y="214.24" width="4.8" height="4.6" fill="#DAA396" stroke="#555" stroke-width="0.3"/>
<text x="238.60" y="218.64" font-size="5.95" fill="#222" >1st Intron (12.18%)</text>
<rect x="229.00" y="221.36" width="4.8" height="4.6" fill="#7D54A6" stroke="#555" stroke-width="0.3"/>
<text x="238.60" y="225.76" font-size="5.95" fill="#222" >Other Intron (24.21%)</text>
<rect x="229.00" y="228.48" width="4.8" height="4.6" fill="#F0EC99" stroke="#555" stroke-width="0.3"/>
<text x="238.60" y="232.88" font-size="5.95" fill="#222" >Downstream (&lt;=300) (0.89%)</text>
<rect x="229.00" y="235.60" width="4.8" height="4.6" fill="#B15928" stroke="#555" stroke-width="0.3"/>
<text x="238.60" y="240.00" font-size="5.95" fill="#222" >Distal Intergenic (43.06%)</text>
<path d="M366.70 200.00L410.70 200.00A44.0 44.0 0 0 0 401.05 172.51Z" fill="#A6CEE3" stroke="#444" stroke-width="0.35"/>
<path d="M366.70 200.00L401.05 172.51A44.0 44.0 0 0 0 395.21 166.49Z" fill="#2E82B0" stroke="#444" stroke-width="0.35"/>
<path d="M366.70 200.00L395.21 166.49A44.0 44.0 0 0 0 388.78 161.94Z" fill="#99D277" stroke="#444" stroke-width="0.35"/>
<path d="M366.70 200.00L388.78 161.94A44.0 44.0 0 0 0 387.43 161.19Z" fill="#6F9E4D" stroke="#444" stroke-width="0.35"/>
<path d="M366.70 200.00L387.43 161.19A44.0 44.0 0 0 0 382.82 159.06Z" fill="#F16767" stroke="#444" stroke-width="0.35"/>
<path d="M366.70 200.00L382.82 159.06A44.0 44.0 0 0 0 382.04 158.76Z" fill="#F06C46" stroke="#444" stroke-width="0.35"/>
<path d="M366.70 200.00L382.04 158.76A44.0 44.0 0 0 0 372.21 156.35Z" fill="#FE992C" stroke="#444" stroke-width="0.35"/>
<path d="M366.70 200.00L372.21 156.35A44.0 44.0 0 0 0 341.85 163.69Z" fill="#DAA396" stroke="#444" stroke-width="0.35"/>
<path d="M366.70 200.00L341.85 163.69A44.0 44.0 0 0 0 327.37 219.72Z" fill="#7D54A6" stroke="#444" stroke-width="0.35"/>
<path d="M366.70 200.00L327.37 219.72A44.0 44.0 0 0 0 328.84 222.41Z" fill="#F0EC99" stroke="#444" stroke-width="0.35"/>
<path d="M366.70 200.00L328.84 222.41A44.0 44.0 0 0 0 410.70 200.00Z" fill="#B15928" stroke="#444" stroke-width="0.35"/>
<text x="370.20" y="148.50" font-size="8.3" font-weight="bold" textLength="64" lengthAdjust="spacingAndGlyphs" >All binding sites EL</text>
<rect x="420.80" y="160.60" width="4.8" height="4.6" fill="#A6CEE3" stroke="#555" stroke-width="0.3"/>
<text x="430.40" y="165.00" font-size="5.95" fill="#222" >Promoter (&lt;=1kb) (10.74%)</text>
<rect x="420.80" y="167.72" width="4.8" height="4.6" fill="#2E82B0" stroke="#555" stroke-width="0.3"/>
<text x="430.40" y="172.12" font-size="5.95" fill="#222" >Promoter (1&#8722;2kb) (3.04%)</text>
<rect x="420.80" y="174.84" width="4.8" height="4.6" fill="#99D277" stroke="#555" stroke-width="0.3"/>
<text x="430.40" y="179.24" font-size="5.95" fill="#222" >Promoter (2&#8722;3kb) (2.85%)</text>
<rect x="420.80" y="181.96" width="4.8" height="4.6" fill="#6F9E4D" stroke="#555" stroke-width="0.3"/>
<text x="430.40" y="186.36" font-size="5.95" fill="#222" >5' UTR (0.56%)</text>
<rect x="420.80" y="189.08" width="4.8" height="4.6" fill="#F16767" stroke="#555" stroke-width="0.3"/>
<text x="430.40" y="193.48" font-size="5.95" fill="#222" >3' UTR (1.84%)</text>
<rect x="420.80" y="196.20" width="4.8" height="4.6" fill="#F06C46" stroke="#555" stroke-width="0.3"/>
<text x="430.40" y="200.60" font-size="5.95" fill="#222" >1st Exon (0.3%)</text>
<rect x="420.80" y="203.32" width="4.8" height="4.6" fill="#FE992C" stroke="#555" stroke-width="0.3"/>
<text x="430.40" y="207.72" font-size="5.95" fill="#222" >Other Exon (3.67%)</text>
<rect x="420.80" y="210.44" width="4.8" height="4.6" fill="#DAA396" stroke="#555" stroke-width="0.3"/>
<text x="430.40" y="214.84" font-size="5.95" fill="#222" >1st Intron (11.55%)</text>
<rect x="420.80" y="217.56" width="4.8" height="4.6" fill="#7D54A6" stroke="#555" stroke-width="0.3"/>
<text x="430.40" y="221.96" font-size="5.95" fill="#222" >Other Intron (22.84%)</text>
<rect x="420.80" y="224.68" width="4.8" height="4.6" fill="#F0EC99" stroke="#555" stroke-width="0.3"/>
<text x="430.40" y="229.08" font-size="5.95" fill="#222" >Downstream (&lt;=300) (1.11%)</text>
<rect x="420.80" y="231.80" width="4.8" height="4.6" fill="#B15928" stroke="#555" stroke-width="0.3"/>
<text x="430.40" y="236.20" font-size="5.95" fill="#222" >Distal Intergenic (41.49%)</text>
<path d="M175.50 311.20L219.10 311.20A43.6 43.6 0 0 0 209.52 283.94Z" fill="#A6CEE3" stroke="#444" stroke-width="0.35"/>
<path d="M175.50 311.20L209.52 283.94A43.6 43.6 0 0 0 202.48 276.95Z" fill="#2E82B0" stroke="#444" stroke-width="0.35"/>
<path d="M175.50 311.20L202.48 276.95A43.6 43.6 0 0 0 195.12 272.26Z" fill="#99D277" stroke="#444" stroke-width="0.35"/>
<path d="M175.50 311.20L195.12 272.26A43.6 43.6 0 0 0 193.74 271.60Z" fill="#6F9E4D" stroke="#444" stroke-width="0.35"/>
<path d="M175.50 311.20L193.74 271.60A43.6 43.6 0 0 0 189.46 269.90Z" fill="#F16767" stroke="#444" stroke-width="0.35"/>
<path d="M175.50 311.20L189.46 269.90A43.6 43.6 0 0 0 188.73 269.66Z" fill="#F06C46" stroke="#444" stroke-width="0.35"/>
<path d="M175.50 311.20L188.73 269.66A43.6 43.6 0 0 0 179.68 267.80Z" fill="#FE992C" stroke="#444" stroke-width="0.35"/>
<path d="M175.50 311.20L179.68 267.80A43.6 43.6 0 0 0 147.30 277.95Z" fill="#DAA396" stroke="#444" stroke-width="0.35"/>
<path d="M175.50 311.20L147.30 277.95A43.6 43.6 0 0 0 139.53 335.83Z" fill="#7D54A6" stroke="#444" stroke-width="0.35"/>
<path d="M175.50 311.20L139.53 335.83A43.6 43.6 0 0 0 141.06 337.94Z" fill="#F0EC99" stroke="#444" stroke-width="0.35"/>
<path d="M175.50 311.20L141.06 337.94A43.6 43.6 0 0 0 219.10 311.20Z" fill="#B15928" stroke="#444" stroke-width="0.35"/>
<text x="156.60" y="259.50" font-size="8.3" font-weight="bold" textLength="72.2" lengthAdjust="spacingAndGlyphs" >All binding sites FULV</text>
<rect x="229.50" y="271.30" width="4.8" height="4.6" fill="#A6CEE3" stroke="#555" stroke-width="0.3"/>
<text x="239.10" y="275.70" font-size="5.95" fill="#222" >Promoter (&lt;=1kb) (10.75%)</text>
<rect x="229.50" y="278.42" width="4.8" height="4.6" fill="#2E82B0" stroke="#555" stroke-width="0.3"/>
<text x="239.10" y="282.82" font-size="5.95" fill="#222" >Promoter (1&#8722;2kb) (3.63%)</text>
<rect x="229.50" y="285.54" width="4.8" height="4.6" fill="#99D277" stroke="#555" stroke-width="0.3"/>
<text x="239.10" y="289.94" font-size="5.95" fill="#222" >Promoter (2&#8722;3kb) (3.19%)</text>
<rect x="229.50" y="292.66" width="4.8" height="4.6" fill="#6F9E4D" stroke="#555" stroke-width="0.3"/>
<text x="239.10" y="297.06" font-size="5.95" fill="#222" >5' UTR (0.56%)</text>
<rect x="229.50" y="299.78" width="4.8" height="4.6" fill="#F16767" stroke="#555" stroke-width="0.3"/>
<text x="239.10" y="304.18" font-size="5.95" fill="#222" >3' UTR (1.68%)</text>
<rect x="229.50" y="306.90" width="4.8" height="4.6" fill="#F06C46" stroke="#555" stroke-width="0.3"/>
<text x="239.10" y="311.30" font-size="5.95" fill="#222" >1st Exon (0.28%)</text>
<rect x="229.50" y="314.02" width="4.8" height="4.6" fill="#FE992C" stroke="#555" stroke-width="0.3"/>
<text x="239.10" y="318.42" font-size="5.95" fill="#222" >Other Exon (3.38%)</text>
<rect x="229.50" y="321.14" width="4.8" height="4.6" fill="#DAA396" stroke="#555" stroke-width="0.3"/>
<text x="239.10" y="325.54" font-size="5.95" fill="#222" >1st Intron (12.72%)</text>
<rect x="229.50" y="328.26" width="4.8" height="4.6" fill="#7D54A6" stroke="#555" stroke-width="0.3"/>
<text x="239.10" y="332.66" font-size="5.95" fill="#222" >Other Intron (23.36%)</text>
<rect x="229.50" y="335.38" width="4.8" height="4.6" fill="#F0EC99" stroke="#555" stroke-width="0.3"/>
<text x="239.10" y="339.78" font-size="5.95" fill="#222" >Downstream (&lt;=300) (0.95%)</text>
<rect x="229.50" y="342.50" width="4.8" height="4.6" fill="#B15928" stroke="#555" stroke-width="0.3"/>
<text x="239.10" y="346.90" font-size="5.95" fill="#222" >Distal Intergenic (39.49%)</text>
<path d="M366.80 307.50L410.40 307.50A43.6 43.6 0 0 0 401.52 281.12Z" fill="#A6CEE3" stroke="#444" stroke-width="0.35"/>
<path d="M366.80 307.50L401.52 281.12A43.6 43.6 0 0 0 394.91 274.17Z" fill="#2E82B0" stroke="#444" stroke-width="0.35"/>
<path d="M366.80 307.50L394.91 274.17A43.6 43.6 0 0 0 388.14 269.48Z" fill="#99D277" stroke="#444" stroke-width="0.35"/>
<path d="M366.80 307.50L388.14 269.48A43.6 43.6 0 0 0 386.67 268.69Z" fill="#6F9E4D" stroke="#444" stroke-width="0.35"/>
<path d="M366.80 307.50L386.67 268.69A43.6 43.6 0 0 0 382.37 266.77Z" fill="#F16767" stroke="#444" stroke-width="0.35"/>
<path d="M366.80 307.50L382.37 266.77A43.6 43.6 0 0 0 381.59 266.49Z" fill="#F06C46" stroke="#444" stroke-width="0.35"/>
<path d="M366.80 307.50L381.59 266.49A43.6 43.6 0 0 0 372.13 264.23Z" fill="#FE992C" stroke="#444" stroke-width="0.35"/>
<path d="M366.80 307.50L372.13 264.23A43.6 43.6 0 0 0 339.65 273.39Z" fill="#DAA396" stroke="#444" stroke-width="0.35"/>
<path d="M366.80 307.50L339.65 273.39A43.6 43.6 0 0 0 330.09 331.02Z" fill="#7D54A6" stroke="#444" stroke-width="0.35"/>
<path d="M366.80 307.50L330.09 331.02A43.6 43.6 0 0 0 331.53 333.13Z" fill="#F0EC99" stroke="#444" stroke-width="0.35"/>
<path d="M366.80 307.50L331.53 333.13A43.6 43.6 0 0 0 410.40 307.50Z" fill="#B15928" stroke="#444" stroke-width="0.35"/>
<text x="373.40" y="259.50" font-size="8.3" font-weight="bold" textLength="64" lengthAdjust="spacingAndGlyphs" >All binding sites EL</text>
<rect x="422.60" y="269.90" width="4.8" height="4.6" fill="#A6CEE3" stroke="#555" stroke-width="0.3"/>
<text x="432.20" y="274.30" font-size="5.95" fill="#222" >Promoter (&lt;=1kb) (10.34%)</text>
<rect x="422.60" y="277.02" width="4.8" height="4.6" fill="#2E82B0" stroke="#555" stroke-width="0.3"/>
<text x="432.20" y="281.42" font-size="5.95" fill="#222" >Promoter (1&#8722;2kb) (3.51%)</text>
<rect x="422.60" y="284.14" width="4.8" height="4.6" fill="#99D277" stroke="#555" stroke-width="0.3"/>
<text x="432.20" y="288.54" font-size="5.95" fill="#222" >Promoter (2&#8722;3kb) (3.01%)</text>
<rect x="422.60" y="291.26" width="4.8" height="4.6" fill="#6F9E4D" stroke="#555" stroke-width="0.3"/>
<text x="432.20" y="295.66" font-size="5.95" fill="#222" >5' UTR (0.61%)</text>
<rect x="422.60" y="298.38" width="4.8" height="4.6" fill="#F16767" stroke="#555" stroke-width="0.3"/>
<text x="432.20" y="302.78" font-size="5.95" fill="#222" >3' UTR (1.72%)</text>
<rect x="422.60" y="305.50" width="4.8" height="4.6" fill="#F06C46" stroke="#555" stroke-width="0.3"/>
<text x="432.20" y="309.90" font-size="5.95" fill="#222" >1st Exon (0.3%)</text>
<rect x="422.60" y="312.62" width="4.8" height="4.6" fill="#FE992C" stroke="#555" stroke-width="0.3"/>
<text x="432.20" y="317.02" font-size="5.95" fill="#222" >Other Exon (3.56%)</text>
<rect x="422.60" y="319.74" width="4.8" height="4.6" fill="#DAA396" stroke="#555" stroke-width="0.3"/>
<text x="432.20" y="324.14" font-size="5.95" fill="#222" >1st Intron (12.65%)</text>
<rect x="422.60" y="326.86" width="4.8" height="4.6" fill="#7D54A6" stroke="#555" stroke-width="0.3"/>
<text x="432.20" y="331.26" font-size="5.95" fill="#222" >Other Intron (23.37%)</text>
<rect x="422.60" y="333.98" width="4.8" height="4.6" fill="#F0EC99" stroke="#555" stroke-width="0.3"/>
<text x="432.20" y="338.38" font-size="5.95" fill="#222" >Downstream (&lt;=300) (0.93%)</text>
<rect x="422.60" y="341.10" width="4.8" height="4.6" fill="#B15928" stroke="#555" stroke-width="0.3"/>
<text x="432.20" y="345.50" font-size="5.95" fill="#222" >Distal Intergenic (40%)</text>
<path d="M176.80 428.40L217.80 428.40A41.0 41.0 0 0 0 209.96 404.28Z" fill="#A6CEE3" stroke="#444" stroke-width="0.35"/>
<path d="M176.80 428.40L209.96 404.28A41.0 41.0 0 0 0 203.19 397.03Z" fill="#2E82B0" stroke="#444" stroke-width="0.35"/>
<path d="M176.80 428.40L203.19 397.03A41.0 41.0 0 0 0 198.20 393.43Z" fill="#99D277" stroke="#444" stroke-width="0.35"/>
<path d="M176.80 428.40L198.20 393.43A41.0 41.0 0 0 0 194.89 391.61Z" fill="#6F9E4D" stroke="#444" stroke-width="0.35"/>
<path d="M176.80 428.40L194.89 391.61A41.0 41.0 0 0 0 190.09 389.61Z" fill="#F16767" stroke="#444" stroke-width="0.35"/>
<path d="M176.80 428.40L190.09 389.61A41.0 41.0 0 0 0 189.65 389.46Z" fill="#F06C46" stroke="#444" stroke-width="0.35"/>
<path d="M176.80 428.40L189.65 389.46A41.0 41.0 0 0 0 178.04 387.42Z" fill="#FE992C" stroke="#444" stroke-width="0.35"/>
<path d="M176.80 428.40L178.04 387.42A41.0 41.0 0 0 0 156.29 392.90Z" fill="#DAA396" stroke="#444" stroke-width="0.35"/>
<path d="M176.80 428.40L156.29 392.90A41.0 41.0 0 0 0 140.80 448.03Z" fill="#7D54A6" stroke="#444" stroke-width="0.35"/>
<path d="M176.80 428.40L140.80 448.03A41.0 41.0 0 0 0 142.00 450.07Z" fill="#F0EC99" stroke="#444" stroke-width="0.35"/>
<path d="M176.80 428.40L142.00 450.07A41.0 41.0 0 0 0 217.80 428.40Z" fill="#B15928" stroke="#444" stroke-width="0.35"/>
<text x="165.30" y="381.90" font-size="8.3" font-weight="bold" textLength="70.1" lengthAdjust="spacingAndGlyphs" >All binding sites FULV</text>
<rect x="228.60" y="389.60" width="4.8" height="4.6" fill="#A6CEE3" stroke="#555" stroke-width="0.3"/>
<text x="238.20" y="394.00" font-size="5.95" fill="#222" >Promoter (&lt;=1kb) (10.01%)</text>
<rect x="228.60" y="396.72" width="4.8" height="4.6" fill="#2E82B0" stroke="#555" stroke-width="0.3"/>
<text x="238.20" y="401.12" font-size="5.95" fill="#222" >Promoter (1&#8722;2kb) (3.86%)</text>
<rect x="228.60" y="403.84" width="4.8" height="4.6" fill="#99D277" stroke="#555" stroke-width="0.3"/>
<text x="238.20" y="408.24" font-size="5.95" fill="#222" >Promoter (2&#8722;3kb) (2.39%)</text>
<rect x="228.60" y="410.96" width="4.8" height="4.6" fill="#6F9E4D" stroke="#555" stroke-width="0.3"/>
<text x="238.20" y="415.36" font-size="5.95" fill="#222" >5' UTR (1.47%)</text>
<rect x="228.60" y="418.08" width="4.8" height="4.6" fill="#F16767" stroke="#555" stroke-width="0.3"/>
<text x="238.20" y="422.48" font-size="5.95" fill="#222" >3' UTR (2.02%)</text>
<rect x="228.60" y="425.20" width="4.8" height="4.6" fill="#F06C46" stroke="#555" stroke-width="0.3"/>
<text x="238.20" y="429.60" font-size="5.95" fill="#222" >1st Exon (0.18%)</text>
<rect x="228.60" y="432.32" width="4.8" height="4.6" fill="#FE992C" stroke="#555" stroke-width="0.3"/>
<text x="238.20" y="436.72" font-size="5.95" fill="#222" >Other Exon (4.59%)</text>
<rect x="228.60" y="439.44" width="4.8" height="4.6" fill="#DAA396" stroke="#555" stroke-width="0.3"/>
<text x="238.20" y="443.84" font-size="5.95" fill="#222" >1st Intron (8.82%)</text>
<rect x="228.60" y="446.56" width="4.8" height="4.6" fill="#7D54A6" stroke="#555" stroke-width="0.3"/>
<text x="238.20" y="450.96" font-size="5.95" fill="#222" >Other Intron (24.61%)</text>
<rect x="228.60" y="453.68" width="4.8" height="4.6" fill="#F0EC99" stroke="#555" stroke-width="0.3"/>
<text x="238.20" y="458.08" font-size="5.95" fill="#222" >Downstream (&lt;=300) (0.92%)</text>
<rect x="228.60" y="460.80" width="4.8" height="4.6" fill="#B15928" stroke="#555" stroke-width="0.3"/>
<text x="238.20" y="465.20" font-size="5.95" fill="#222" >Distal Intergenic (41.14%)</text>
<path d="M372.50 428.00L414.80 428.00A42.3 42.3 0 0 0 403.94 399.71Z" fill="#A6CEE3" stroke="#444" stroke-width="0.35"/>
<path d="M372.50 428.00L403.94 399.71A42.3 42.3 0 0 0 397.42 393.82Z" fill="#2E82B0" stroke="#444" stroke-width="0.35"/>
<path d="M372.50 428.00L397.42 393.82A42.3 42.3 0 0 0 391.32 390.12Z" fill="#99D277" stroke="#444" stroke-width="0.35"/>
<path d="M372.50 428.00L391.32 390.12A42.3 42.3 0 0 0 390.02 389.50Z" fill="#6F9E4D" stroke="#444" stroke-width="0.35"/>
<path d="M372.50 428.00L390.02 389.50A42.3 42.3 0 0 0 385.92 387.89Z" fill="#F16767" stroke="#444" stroke-width="0.35"/>
<path d="M372.50 428.00L385.92 387.89A42.3 42.3 0 0 0 385.21 387.66Z" fill="#F06C46" stroke="#444" stroke-width="0.35"/>
<path d="M372.50 428.00L385.21 387.66A42.3 42.3 0 0 0 376.16 385.86Z" fill="#FE992C" stroke="#444" stroke-width="0.35"/>
<path d="M372.50 428.00L376.16 385.86A42.3 42.3 0 0 0 347.14 394.15Z" fill="#DAA396" stroke="#444" stroke-width="0.35"/>
<path d="M372.50 428.00L347.14 394.15A42.3 42.3 0 0 0 336.61 450.39Z" fill="#7D54A6" stroke="#444" stroke-width="0.35"/>
<path d="M372.50 428.00L336.61 450.39A42.3 42.3 0 0 0 337.90 452.34Z" fill="#F0EC99" stroke="#444" stroke-width="0.35"/>
<path d="M372.50 428.00L337.90 452.34A42.3 42.3 0 0 0 414.80 428.00Z" fill="#B15928" stroke="#444" stroke-width="0.35"/>
<text x="375.20" y="381.50" font-size="8.3" font-weight="bold" textLength="62" lengthAdjust="spacingAndGlyphs" >All binding sites EL</text>
<rect x="424.20" y="390.10" width="4.8" height="4.6" fill="#A6CEE3" stroke="#555" stroke-width="0.3"/>
<text x="433.80" y="394.50" font-size="5.95" fill="#222" >Promoter (&lt;=1kb) (11.66%)</text>
<rect x="424.20" y="397.22" width="4.8" height="4.6" fill="#2E82B0" stroke="#555" stroke-width="0.3"/>
<text x="433.80" y="401.62" font-size="5.95" fill="#222" >Promoter (1&#8722;2kb) (3.31%)</text>
<rect x="424.20" y="404.34" width="4.8" height="4.6" fill="#99D277" stroke="#555" stroke-width="0.3"/>
<text x="433.80" y="408.74" font-size="5.95" fill="#222" >Promoter (2&#8722;3kb) (2.69%)</text>
<rect x="424.20" y="411.46" width="4.8" height="4.6" fill="#6F9E4D" stroke="#555" stroke-width="0.3"/>
<text x="433.80" y="415.86" font-size="5.95" fill="#222" >5' UTR (0.54%)</text>
<rect x="424.20" y="418.58" width="4.8" height="4.6" fill="#F16767" stroke="#555" stroke-width="0.3"/>
<text x="433.80" y="422.98" font-size="5.95" fill="#222" >3' UTR (1.66%)</text>
<rect x="424.20" y="425.70" width="4.8" height="4.6" fill="#F06C46" stroke="#555" stroke-width="0.3"/>
<text x="433.80" y="430.10" font-size="5.95" fill="#222" >1st Exon (0.28%)</text>
<rect x="424.20" y="432.82" width="4.8" height="4.6" fill="#FE992C" stroke="#555" stroke-width="0.3"/>
<text x="433.80" y="437.22" font-size="5.95" fill="#222" >Other Exon (3.48%)</text>
<rect x="424.20" y="439.94" width="4.8" height="4.6" fill="#DAA396" stroke="#555" stroke-width="0.3"/>
<text x="433.80" y="444.34" font-size="5.95" fill="#222" >1st Intron (11.61%)</text>
<rect x="424.20" y="447.06" width="4.8" height="4.6" fill="#7D54A6" stroke="#555" stroke-width="0.3"/>
<text x="433.80" y="451.46" font-size="5.95" fill="#222" >Other Intron (23.64%)</text>
<rect x="424.20" y="454.18" width="4.8" height="4.6" fill="#F0EC99" stroke="#555" stroke-width="0.3"/>
<text x="433.80" y="458.58" font-size="5.95" fill="#222" >Downstream (&lt;=300) (0.88%)</text>
<rect x="424.20" y="461.30" width="4.8" height="4.6" fill="#B15928" stroke="#555" stroke-width="0.3"/>
<text x="433.80" y="465.70" font-size="5.95" fill="#222" >Distal Intergenic (40.24%)</text>
<text x="112.30" y="211.70" font-size="14.5" font-weight="bold" textLength="36.6" lengthAdjust="spacingAndGlyphs" transform="rotate(-90 112.30 211.70)" >MCF7</text>
<text x="113" y="349" font-size="14.5" font-weight="bold" transform="rotate(-90 113 349)"><tspan textLength="72.4" lengthAdjust="spacingAndGlyphs">MCF7-LTED</tspan><tspan font-size="9.5" dy="-5.5">WT</tspan></text>
<text x="113" y="469.5" font-size="14.5" font-weight="bold" transform="rotate(-90 113 469.5)"><tspan textLength="71" lengthAdjust="spacingAndGlyphs">MCF7-LTED</tspan><tspan font-size="9.5" dy="-5.5">Y537C</tspan></text>
<line x1="114.70" y1="615.50" x2="220.60" y2="615.50" stroke="#cfcfcf" stroke-width="0.6" stroke-dasharray="0.8 1.6"/>
<line x1="171.50" y1="543.70" x2="171.50" y2="695.60" stroke="#cfcfcf" stroke-width="0.6" stroke-dasharray="0.8 1.6"/>
<path transform="scale(0.333333)" d="M664 1636h0m-14 15h0m-98-12h0m62 34h0m-16 13h0m18 16h0m-14 8h0m-134 19h0m76 12h0m18-13h0m18 9h0m5-8h0m31 10h0m7 1h0m2 0h0m37 12h0m-83-4h0m-3 15h0m-1-5h0m-4 2h0m-13-4h0m-3 7h0m0-1h0m-2 1h0m-1-8h0m-6 2h0m0 3h0m0 3h0m-6-14h0m-1 13h0m-51-12h0m-9 12h0m4 3h0m33 0h0m4-1h0m2 7h0m6 6h0m2 3h0m3-2h0m3-6h0m0 4h0m1-5h0m3-3h0m1 5h0m0 8h0m1-3h0m1-13h0m1 5h0m1 6h0m1 1h0m0 1h0m1 2h0m1-14h0m3 11h0m1-2h0m0-7h0m1 11h0m1-12h0m1 14h0m0-1h0m1-1h0m2-10h0m0 4h0m3 6h0m3 2h0m2-2h0m1 2h0m1-4h0m3-5h0m2-1h0m4 10h0m2-14h0m7 18h0m-12 7h0m-5 7h0m-3-8h0m-6 7h0m-1-9h0m0-5h0m-1 9h0m-2-3h0m0-8h0m0 3h0m-2 11h0m0 3h0m0-4h0m-2 1h0m0-9h0m-1-3h0m-1 0h0m0 5h0m-1 8h0m0-1h0m0 2h0m0-10h0m-1 1h0m0 8h0m-1-2h0m0 1h0m0-10h0m0 3h0m-1-1h0m-1 2h0m0 5h0m0-1h0m0 4h0m-1-5h0m0-10h0m-1 14h0m0-7h0m0 3h0m0-1h0m0-10h0m-1 15h0m-1 0h0m-1-8h0m0 5h0m-1 0h0m0 2h0m0-9h0m-1 9h0m0 1h0m0-7h0m-2 7h0m0-10h0m-1-4h0m0 5h0m0 11h0m0-15h0m-1 11h0m0-10h0m0 5h0m-1 2h0m0-10h0m0 14h0m0-9h0m-1 5h0m0 4h0m0 1h0m-1-15h0m0 14h0m0 1h0m0 2h0m0-10h0m-1 7h0m0 3h0m0-6h0m-1 2h0m0-9h0m0-1h0m-1 11h0m0-11h0m-1 13h0m-1 1h0m0-7h0m0-4h0m-1-6h0m0 13h0m0 3h0m-1-3h0m-1-7h0m0 3h0m0-8h0m0 9h0m-1-6h0m0 11h0m0-10h0m-1 6h0m0 1h0m-2 4h0m-1-3h0m0 2h0m-1-14h0m-1 13h0m-4 1h0m-1-10h0m-2 9h0m0 2h0m-1-10h0m-4 10h0m-12-16h0m-23 4h0m19 29h0m5-4h0m0 2h0m3 3h0m0-8h0m6 6h0m2 1h0m1-8h0m2 3h0m0 2h0m3 3h0m1-11h0m0 13h0m0-11h0m0 4h0m1 7h0m1-11h0m0 7h0m1-6h0m1 7h0m0 3h0m1-15h0m0 3h0m0 1h0m0 6h0m0 1h0m1 2h0m0-11h0m0 13h0m0-17h0m1 15h0m0-10h0m0 9h0m0-10h0m1 2h0m0 3h0m0 2h0m0-10h0m0 13h0m0-1h0m1-13h0m0 14h0m0-8h0m1-6h0m0 9h0m0-7h0m0 2h0m1 3h0m0 9h0m0-10h0m0-6h0m0 14h0m0 1h0m0-11h0m1 9h0m0 3h0m0-1h0m0 2h0m0-10h0m0-1h0m1 3h0m0 1h0m0 4h0m0-1h0m1-1h0m0 2h0m0-1h0m0-10h0m0 12h0m0-10h0m0 12h0m0-1h0m0-8h0m0 1h0m1-7h0m0 2h0m0 13h0m0-1h0m0-10h0m0 2h0m1 0h0m0 3h0m0-1h0m0 2h0m0-10h0m0 3h0m0 12h0m1-5h0m0-11h0m0 13h0m0-1h0m0 2h0m0 2h0m0-1h0m0-10h0m0 2h0m0-8h0m1 10h0m0 3h0m0 3h0m0-12h0m0 13h0m0-8h0m1 8h0m0-11h0m0 3h0m0 2h0m0 3h0m0-11h0m1 13h0m0-6h0m0-1h0m0 5h0m1 1h0m0 2h0m0-11h0m0 2h0m0 1h0m0-8h0m0 2h0m1 13h0m0-10h0m0 4h0m0 2h0m0-1h0m0 3h0m0-1h0m1 0h0m0-10h0m0 13h0m0 1h0m0-10h0m0 3h0m1 6h0m0-8h0m0 1h0m0-8h0m0 12h0m0-10h0m0-1h0m0 13h0m0-1h0m0 3h0m1-1h0m0-5h0m0 1h0m0-10h0m0 12h0m0-10h0m1 4h0m0 2h0m0 2h0m0-1h0m0-10h0m0 6h0m0 9h0m1-10h0m0 2h0m0 2h0m0 1h0m0 3h0m0-1h0m0-8h0m0-1h0m0 13h0m0-10h0m1 2h0m0-8h0m0 12h0m0-11h0m0 2h0m1 7h0m0 5h0m0-9h0m0-1h0m1 0h0m0-4h0m0 2h0m0 3h0m1 2h0m0-8h0m0 4h0m0-1h0m0 12h0m0-10h0m1 4h0m0-5h0m0 4h0m1-4h0m0 2h0m0 2h0m1 5h0m0-11h0m0 2h0m1 0h0m0 6h0m1-6h0m0 2h0m0-5h0m1 0h0m0 12h0m1-8h0m0 7h0m1-4h0m0-8h0m1 14h0m2 0h0m0-8h0m0-6h0m1 16h0m1-9h0m1-3h0m0-1h0m0 2h0m2 2h0m2 1h0m1 3h0m2-2h0m1-7h0m5 5h0m1-7h0m1 12h0m1-5h0m0 8h0m2-10h0m22 1h0m27-1h0m13 4h0m-50 22h0m-21-7h0m0 6h0m-2-6h0m0 1h0m-1-6h0m-1 13h0m-4-15h0m-5 1h0m-2 2h0m-1 11h0m-1-14h0m0 11h0m0-10h0m-1-1h0m0 2h0m-1 0h0m0 6h0m-1 6h0m0 1h0m-1-4h0m-1 3h0m0-5h0m0-8h0m-1 8h0m0-9h0m-1 3h0m0 2h0m0 12h0m0-11h0m0 2h0m0 1h0m0 3h0m-1 5h0m0-1h0m-1-8h0m0-6h0m-1 9h0m0 4h0m0 1h0m0-8h0m0 1h0m-1 5h0m0-9h0m0 4h0m-1-1h0m0 2h0m0-9h0m0 14h0m0-11h0m0 2h0m-1-5h0m0 9h0m0-10h0m0 13h0m0 3h0m0-11h0m0 2h0m0 2h0m-1-4h0m0 3h0m0-1h0m0 2h0m0 4h0m0-10h0m0 9h0m0 2h0m0-8h0m-1 1h0m0 3h0m0-1h0m0-8h0m0 12h0m0 2h0m0-10h0m-1 6h0m0-10h0m0 12h0m0-9h0m0 2h0m0 2h0m0 9h0m0-10h0m-1-2h0m0 2h0m0 4h0m0 4h0m0-11h0m0 12h0m0-10h0m-1 11h0m0-8h0m0 2h0m0-10h0m0-1h0m0 12h0m0 3h0m0-1h0m0-10h0m0 2h0m0 2h0m-1 6h0m0-8h0m0-1h0m0 4h0m0 2h0m0-10h0m0 12h0m0-10h0m-1 14h0m0-1h0m0-11h0m0 3h0m0-1h0m0 2h0m0-9h0m0 12h0m0-10h0m0 12h0m-1-3h0m0 2h0m0-10h0m0-1h0m0 3h0m0 5h0m-1 4h0m0-8h0m0 2h0m0 1h0m0 2h0m0-11h0m0 13h0m0-1h0m0-10h0m-1 3h0m0 3h0m0 9h0m0-10h0m0 2h0m0 2h0m0-10h0m0 13h0m-1-13h0m0 12h0m0-10h0m0 9h0m0-7h0m0 9h0m0 3h0m0-11h0m0 1h0m0 3h0m0-1h0m-1-9h0m0 13h0m0-10h0m0 9h0m0-10h0m0 13h0m0 2h0m0-9h0m0 2h0m0-1h0m0-8h0m-1 0h0m0 12h0m0-1h0m0 3h0m0-11h0m0 12h0m0-11h0m0 2h0m0 3h0m0-1h0m-1 1h0m0-8h0m0 14h0m0-11h0m0 12h0m0-10h0m-1 6h0m0 2h0m0-1h0m0-11h0m0 5h0m0 9h0m0-8h0m0 1h0m-1-3h0m0 3h0m0 1h0m0-10h0m0 12h0m0-10h0m0 12h0m0-1h0m0 3h0m0-9h0m-1 4h0m0 2h0m0 1h0m0 2h0m0-8h0m-1-1h0m0 9h0m0-4h0m0-10h0m0 9h0m-1-3h0m0 2h0m0-10h0m0 12h0m0-10h0m0 9h0m0-10h0m0 13h0m0-1h0m0-10h0m0 12h0m0-10h0m0-1h0m0 12h0m-1-3h0m0 3h0m0-1h0m0-7h0m0 3h0m0-1h0m0-11h0m0 13h0m0-10h0m0 12h0m0-10h0m-1 12h0m0-10h0m0 2h0m0 2h0m0-10h0m0 9h0m0-8h0m0 2h0m0 2h0m0 9h0m0-7h0m-1-7h0m0 9h0m0 2h0m0 2h0m0-10h0m0-1h0m0 13h0m0 1h0m-1-3h0m0 2h0m0-11h0m0 2h0m0 5h0m-1 4h0m0 1h0m0-6h0m0-1h0m0 3h0m0 2h0m0-1h0m-1 1h0m0 1h0m0-9h0m0 2h0m0 2h0m0-10h0m0 9h0m0-8h0m-1 14h0m0-10h0m0 1h0m0 2h0m0-8h0m0 12h0m0-1h0m-1-11h0m0 12h0m0 2h0m0-11h0m0 13h0m0-12h0m0 2h0m-1-5h0m0 13h0m0-11h0m0 4h0m0 2h0m0-9h0m-1 11h0m0-1h0m0-10h0m0 9h0m-1 3h0m0 4h0m-1-3h0m0-7h0m0 4h0m-1 2h0m0-1h0m0-8h0m-1 6h0m0-10h0m0 12h0m0 4h0m-1 1h0m0-6h0m0-9h0m0 14h0m-1 1h0m0-7h0m0 3h0m0 3h0m0-8h0m-1 5h0m0-11h0m-1-1h0m0 13h0m-1-1h0m-1 4h0m0-17h0m0 13h0m0-11h0m-1 14h0m0-7h0m0-8h0m0 14h0m-1-6h0m0-9h0m0 4h0m-1 12h0m0-5h0m-2 2h0m-1-6h0m-1 0h0m-1-5h0m-1 10h0m-3 4h0m-3-10h0m-7 10h0m-11 1h0m-7-14h0m-17 30h0m20-9h0m7-2h0m2 9h0m1 4h0m10-17h0m0 3h0m2 8h0m0-4h0m3 1h0m1 7h0m0-1h0m0-4h0m1 2h0m0-9h0m0 14h0m1 0h0m0-14h0m1 13h0m1-7h0m0 1h0m1-4h0m0 3h0m0-7h0m0 14h0m0-1h0m1-7h0m0 4h0m0-10h0m1 6h0m1-2h0m0 2h0m0 4h0m0-7h0m0 12h0m1-5h0m0-9h0m0 12h0m0-8h0m1 1h0m0 7h0m0-10h0m0 1h0m1 0h0m0 2h0m0 3h0m0-1h0m0 4h0m0 2h0m0-11h0m1 7h0m0-1h0m0 3h0m0-1h0m0 2h0m0-11h0m0 2h0m0 2h0m0 1h0m1-1h0m0 2h0m0-8h0m0 2h0m0 9h0m0-8h0m0 12h0m0-11h0m0 3h0m1-6h0m0 12h0m0-9h0m0 2h0m0 4h0m1 3h0m0-10h0m0 12h0m0-11h0m0 4h0m0-10h0m1 2h0m0 12h0m0 2h0m0-1h0m0-10h0m0 3h0m1-4h0m0-1h0m0 13h0m0-1h0m0-10h0m0 12h0m0-10h0m0 2h0m0 1h0m0 2h0m1 0h0m0-10h0m0-1h0m0 12h0m0-8h0m0 1h0m0 3h0m1 8h0m0-10h0m0-1h0m0 3h0m0-1h0m0-8h0m0 12h0m0-1h0m0 3h0m0-11h0m1 13h0m0 1h0m0-10h0m0 1h0m0 6h0m1-7h0m0 2h0m0-1h0m0 3h0m0-11h0m0 2h0m0 12h0m0-10h0m0 9h0m0-10h0m1 2h0m0 12h0m0-10h0m0-1h0m0 3h0m0-1h0m0-8h0m0 1h0m0 12h0m0-10h0m1 10h0m0 3h0m0 1h0m0-9h0m0 2h0m0-10h0m0 12h0m0-11h0m0 13h0m0-10h0m1 6h0m0 2h0m0-1h0m0-10h0m0 13h0m0-11h0m0 13h0m0-1h0m0-11h0m0 2h0m1 0h0m0 3h0m0 1h0m0-10h0m0 1h0m0 13h0m0-1h0m0-10h0m0 13h0m0-1h0m0-10h0m0-1h0m0 3h0m1 1h0m0 2h0m0-10h0m0 1h0m0 13h0m0-1h0m0-10h0m0 2h0m0 12h0m0-10h0m1-1h0m0 5h0m0-1h0m0-10h0m0 12h0m0-11h0m0 13h0m0-10h0m0 9h0m0-10h0m0 12h0m0-10h0m0 2h0m1-5h0m0-1h0m0 12h0m0-10h0m0 12h0m0-11h0m0 13h0m0-7h0m0-10h0m0 12h0m1-1h0m0-10h0m0 12h0m0-8h0m0 2h0m0-1h0m0-6h0m1 9h0m0-1h0m0 3h0m0-1h0m0-10h0m0 12h0m0-11h0m0 13h0m0-10h0m0-1h0m0 12h0m0-8h0m1 4h0m0-10h0m0 13h0m0-1h0m0-10h0m0 12h0m0-10h0m0 1h0m0 3h0m0-9h0m1 0h0m0 12h0m0-10h0m0 12h0m0-10h0m0 9h0m0-10h0m0 13h0m0-1h0m0-10h0m0 12h0m0-10h0m0-1h0m0 3h0m0 1h0m1-5h0m0 12h0m0-15h0m0 9h0m0 3h0m1-2h0m0-10h0m0 11h0m0-10h0m0 3h0m0 9h0m0-10h0m0 4h0m0-1h0m0 3h0m0-11h0m1 17h0m0-10h0m0 2h0m0-9h0m0 2h0m0 9h0m0 3h0m0-11h0m0 13h0m0-1h0m1-7h0m0-8h0m0 2h0m0 9h0m0-10h0m0 15h0m1-3h0m0 3h0m0-1h0m0-9h0m0 2h0m0-8h0m0 1h0m0 13h0m0-10h0m1 11h0m0-10h0m0 2h0m0-1h0m0 2h0m0 3h0m0-10h0m0 2h0m1 2h0m0 12h0m0-10h0m0 4h0m0-1h0m0-9h0m0 3h0m0-1h0m1-1h0m0 11h0m0-9h0m0 3h0m1-1h0m0 2h0m0-6h0m0 9h0m0-10h0m0 3h0m0-1h0m0 13h0m0-9h0m1 9h0m0-8h0m0 1h0m0 1h0m0-10h0m0 12h0m0-10h0m0 2h0m1 5h0m0-3h0m1 3h0m0 3h0m0-9h0m0 3h0m0 9h0m0-8h0m1 5h0m0-10h0m0 9h0m0 3h0m0 2h0m0-1h0m0-10h0m0-1h0m0 3h0m1 5h0m0-10h0m0-1h0m0 4h0m0 1h0m0 2h0m1-3h0m0 1h0m0 5h0m0-1h0m0 2h0m0-10h0m1-1h0m0 3h0m0 1h0m0 1h0m0 3h0m0 1h0m0-10h0m1 0h0m0 2h0m0 4h0m0-1h0m0 12h0m0-8h0m0-1h0m1-8h0m0 2h0m1 9h0m0-1h0m1-9h0m0 13h0m0-10h0m0-1h0m1 3h0m0-6h0m1 0h0m0 12h0m0-10h0m1-2h0m0 1h0m1 2h0m0-2h0m1-1h0m2 8h0m0-8h0m0 1h0m0 12h0m1-13h0m1 2h0m4 6h0m5 1h0m1-7h0m15-2h0m3 30h0m-7 1h0m-8 1h0m-5-8h0m-12-6h0m-1 1h0m-1 2h0m-1 5h0m-1 2h0m0 5h0m-4-8h0m-1 1h0m0-8h0m-1 6h0m0-3h0m-1 12h0m0-10h0m0-1h0m0 13h0m0-16h0m0-1h0m-1 16h0m-1-13h0m0 1h0m-1 0h0m0 12h0m0-9h0m0 3h0m0-10h0m0 1h0m-1 9h0m0 2h0m0-9h0m-1-2h0m0-1h0m0 9h0m-1-9h0m0 2h0m0 13h0m0-6h0m-1-9h0m0 9h0m0-6h0m-1-3h0m0 2h0m-1 7h0m0 2h0m0-11h0m0 15h0m0-10h0m0-1h0m0 2h0m-1 3h0m0-8h0m0 12h0m0-10h0m0-1h0m0 3h0m-1-5h0m0 14h0m0-6h0m-1-4h0m0 3h0m0 9h0m0-6h0m0-1h0m0 3h0m0-11h0m0 2h0m0-1h0m0 13h0m0-10h0m-1 12h0m0-10h0m0 3h0m0 2h0m0-8h0m0 2h0m0-1h0m0 3h0m-1-4h0m0 12h0m0-8h0m0-7h0m0-1h0m0 13h0m-1-6h0m0 3h0m0-1h0m0 2h0m0-11h0m-1 1h0m0 3h0m0 13h0m0-10h0m0 9h0m0-8h0m0 4h0m-1 2h0m0-6h0m0 2h0m0 2h0m0-10h0m-1 4h0m0 1h0m0 3h0m0 1h0m0-8h0m0 9h0m0-10h0m0 13h0m0-11h0m-1-3h0m0 2h0m0-1h0m0 13h0m0-10h0m0 9h0m0-14h0m-1 0h0m0 13h0m0-10h0m0 2h0m0 9h0m0-10h0m0 2h0m0 1h0m0 3h0m-1 1h0m0-11h0m0 3h0m0 12h0m0-11h0m0 2h0m0 2h0m0 1h0m-1 8h0m0-11h0m0 4h0m0-1h0m0 2h0m-1-3h0m0 2h0m0-10h0m0 9h0m0-8h0m0 1h0m0 13h0m0-11h0m0 13h0m0-10h0m0 9h0m-1-6h0m0-7h0m0-1h0m0 12h0m0-10h0m0 13h0m0-1h0m0-10h0m-1-5h0m0-1h0m0 3h0m0-1h0m0 13h0m0-10h0m0-1h0m-1-3h0m0 1h0m0 13h0m0 2h0m-1-8h0m0-9h0m0 3h0m0 1h0m0 13h0m0-12h0m-1-1h0m0 3h0m0 9h0m0-10h0m0 4h0m0-10h0m0 9h0m0-8h0m0 12h0m0 2h0m-1 1h0m0-10h0m0 4h0m0-10h0m0 9h0m0 3h0m0-1h0m0-10h0m0 12h0m0-10h0m0-1h0m0 3h0m-1 0h0m0 9h0m0-10h0m0 12h0m0-10h0m0 2h0m0-1h0m0 3h0m0-1h0m0 2h0m0-10h0m0-1h0m0 13h0m0-11h0m-1 15h0m0-9h0m0-1h0m0 4h0m0-11h0m0 12h0m0-10h0m-1 14h0m0-6h0m0 1h0m0 2h0m0-11h0m0 2h0m-1 9h0m0-8h0m0 9h0m0 3h0m0-10h0m0-1h0m0 2h0m0 2h0m0-10h0m0 9h0m0-8h0m-1 3h0m0 2h0m0 2h0m0 1h0m0 1h0m-1 1h0m0-10h0m0-1h0m0 13h0m0 2h0m0 2h0m0-1h0m0-9h0m0 3h0m0-1h0m-1 4h0m0-10h0m0 2h0m0 2h0m0 4h0m-1 3h0m0 3h0m0-12h0m0 2h0m-1-7h0m0 16h0m0-10h0m0 2h0m0 9h0m0-7h0m-1 3h0m0-1h0m0-8h0m0 2h0m0 2h0m0-7h0m-1 1h0m0 3h0m0 9h0m0-10h0m0 12h0m-1-5h0m0-10h0m0 12h0m0 4h0m0-9h0m0 2h0m-1-3h0m0 3h0m0 2h0m0 5h0m0-1h0m-1 1h0m0-8h0m0 2h0m0 2h0m0-10h0m0 2h0m0 3h0m-1 3h0m0 4h0m0-1h0m0 3h0m-1-1h0m0-4h0m-1-10h0m0 14h0m-1-12h0m0 12h0m0-8h0m0 4h0m0 3h0m-1-15h0m0 13h0m0-1h0m-1-10h0m0 12h0m0-5h0m-1 6h0m0-8h0m0 3h0m0-1h0m-1-7h0m-1 3h0m0 2h0m-3 2h0m0 2h0m-1-8h0m-1 4h0m-1-1h0m-2 5h0m-1-11h0m-1 9h0m-1 5h0m-1 3h0m-1-9h0m0-5h0m-4 5h0m-13 9h0m-2 13h0m1 3h0m8-12h0m8 3h0m2 6h0m3-1h0m2-9h0m1 12h0m0-5h0m1-2h0m0 2h0m0-1h0m0-6h0m1 7h0m0 2h0m0-1h0m1-2h0m0 2h0m0 2h0m1-10h0m1 10h0m1-5h0m0 2h0m1-1h0m0 3h0m1 2h0m1 0h0m0 1h0m0-10h0m1 13h0m0-10h0m0 4h0m0-8h0m1 5h0m0-8h0m0 4h0m0 12h0m0-1h0m0 2h0m1-9h0m0 4h0m0 2h0m0-11h0m0 3h0m1 5h0m0 3h0m0-1h0m0-10h0m0 6h0m0-1h0m0 2h0m0-10h0m1 11h0m0-10h0m0 2h0m0 12h0m1-2h0m0-10h0m0 14h0m0-8h0m0-1h0m1-6h0m0 12h0m0-11h0m0 8h0m1-11h0m0 14h0m0-6h0m1-4h0m0-1h0m0 3h0m0-1h0m0 2h0m0 3h0m0 2h0m0-10h0m1 0h0m0 12h0m0-10h0m0 5h0m0-1h0m0 3h0m1-5h0m0 3h0m0-8h0m0 3h0m0-1h0m1 14h0m0-10h0m0-1h0m0 2h0m0-4h0m0-1h0m1 6h0m0 1h0m0-9h0m0 15h0m0-10h0m1 3h0m0-1h0m0 3h0m0-1h0m0-8h0m0-1h0m0 3h0m0 2h0m1 9h0m0-10h0m0 3h0m0 3h0m0-1h0m0 2h0m0-10h0m0-1h0m1 9h0m0 2h0m0 2h0m0 1h0m0-9h0m1 2h0m0-8h0m0 14h0m0 2h0m0-10h0m1 2h0m0 3h0m0 2h0m0-8h0m0 4h0m1 1h0m0-10h0m0 1h0m0 2h0m0 3h0m0-1h0m0 2h0m1 2h0m0 2h0m0-9h0m0-1h0m0 3h0m0 1h0m1 5h0m0 3h0m0-8h0m0 12h0m1-4h0m0-1h0m0-6h0m1-4h0m0-1h0m0 3h0m0 1h0m0 12h0m0-10h0m0 5h0m1 0h0m0-10h0m0 12h0m0-10h0m0-1h0m0-3h0m1 14h0m0-10h0m0 1h0m0 12h0m0-7h0m0-8h0m1 10h0m0-11h0m1-1h0m0 2h0m0 4h0m0 9h0m0-8h0m0-6h0m1 14h0m0-10h0m0 2h0m1 4h0m0-10h0m1 7h0m0 2h0m0 2h0m0-10h0m0-1h0m1 0h0m0-1h0m1 11h0m0 6h0m0-10h0m0 2h0m1-1h0m0 3h0m0-10h0m0 3h0m1 1h0m0 4h0m0 5h0m1-14h0m0 5h0m2 0h0m0-5h0m2 17h0m1-13h0m0 9h0m1 0h0m0-11h0m0 3h0m1-1h0m0 9h0m1-9h0m1 1h0m0 5h0m0 4h0m0 2h0m3-9h0m1 5h0m1-4h0m0-7h0m32 9h0m5-3h0m64 12h0m-94 1h0m-10 2h0m-2-2h0m-4 8h0m-1-7h0m-2 0h0m-2-3h0m-1 0h0m0 7h0m-1-3h0m-1-3h0m-1 7h0m-1-2h0m-2-1h0m-1 2h0m0 3h0m-1-8h0m0 2h0m-1 10h0m0-9h0m-1 9h0m-2-11h0m0 6h0m0-7h0m-1 4h0m0 3h0m-1-3h0m0-6h0m-1 3h0m0 5h0m0 3h0m-1-9h0m0 3h0m0-1h0m0 3h0m0-6h0m-1 1h0m-1 0h0m-1-2h0m0 3h0m0 13h0m-1-14h0m-1 11h0m0-10h0m0 2h0m0-1h0m-1 6h0m0-10h0m-1 12h0m0-11h0m-1 3h0m0-4h0m0 2h0m0 12h0m-1-8h0m0-4h0m0 13h0m-1-10h0m0-3h0m-1 8h0m0 2h0m-1-1h0m0 4h0m-1-2h0m0-5h0m-1-1h0m0-6h0m0 2h0m0-1h0m0 15h0m-1-12h0m0-1h0m0 12h0m-2-6h0m0 4h0m0-6h0m-1-7h0m0 2h0m0 14h0m-1-9h0m0 2h0m0-1h0m-1 3h0m0 5h0m0-1h0m0-10h0m-1 3h0m0 4h0m0-7h0m-1 10h0m0-4h0m0-11h0m-1 0h0m0 11h0m0-10h0m0 15h0m-1-14h0m0 12h0m-1-9h0m0-6h0m-1 12h0m0-10h0m-1 10h0m-1 0h0m0-10h0m-1 0h0m0-2h0m-1 3h0m-2-3h0m0 2h0m-1 3h0m0 4h0m0-9h0m-5 9h0m-1 5h0m-3-10h0m-5 10h0m-15-5h0m18 16h0m2 6h0m2 2h0m0-6h0m3 3h0m1 1h0m7-5h0m0 3h0m2-1h0m0 7h0m1-15h0m0 14h0m2-11h0m2 0h0m1 3h0m1 5h0m2 3h0m1-6h0m0-10h0m2 5h0m3 8h0m1-9h0m1-2h0m3 13h0m1-9h0m0 7h0m3-5h0m5 0h0m4-6h0m1 3h0m2-3h0m37-1h0m19 11h0m-73 23h0m0-15h0m-13 6h0m-1 2h0m-3-4h0m-1-2h0m-8-3h0m-2 8h0m-1-4h0m-7 4h0m-4-3h0m-1 2h0m0 2h0m-86 8h0m54 3h0m5-1h0m33 0h0m1 3h0m6-5h0m17 7h0m8-6h0m-50 24h0m-19-6h0m-58 20h0m113-3h0m114 27h0m-221 8h0m161 34h0m-168 19h0m9-2h0" stroke="#BDBDBD" stroke-width="4.65" stroke-linecap="round" fill="none"/>
<path transform="scale(0.250000)" d="M686 2410h0m1-2h0m9-1h0m9-1h0m2-1h0m11-2h0m-3 29h0m0 15h0m-13-5h0m-1-10h0m0-1h0m-1-3h0m-3 19h0m-3-7h0m0-16h0m-1 6h0m-2 5h0m-1-7h0m-9 15h0m-4-9h0m-7 13h0m-19 22h0m6-18h0m10 20h0m2-16h0m1 11h0m0 4h0m1-7h0m2-2h0m5-10h0m1 5h0m3 4h0m4 6h0m3-13h0m2 13h0m18-14h0m-16 22h0m-4 8h0m0 13h0m-9-11h0m-10 4h0m-4-8h0m-1 4h0m-6-5h0m-4-5h0m-15 43h0m8-11h0m4 11h0m3-18h0m8 0h0m4 16h0m-1 18h0" stroke="#F8766D" stroke-width="9.20" stroke-linecap="round" fill="none"/>
<path transform="scale(0.250000)" d="M660 2422h0m12-10h0m6-10h0m2 14h0m4-6h0m6-6h0m6 4h0m-38 20h0m-3 15h0m82 8h0m3 7h0m6-4h0m-22 34h0m-4 4h0m-33 26h0m4-2h0m9 8h0m-7-2h0m-23 10h0m-3 4h0m-15 29h0m53 6h0" stroke="#A3A500" stroke-width="9.20" stroke-linecap="round" fill="none"/>
<path transform="scale(0.250000)" d="M676 2386h0m-3-8h0m-5 12h0m-1 3h0m-5 1h0m92 81h0m-8 19h0m-32 28h0m-10 4h0m-5 4h0m-29 47h0" stroke="#00BF7D" stroke-width="9.20" stroke-linecap="round" fill="none"/>
<path transform="scale(0.250000)" d="M670 2370h0m3-3h0m0 9h0m93 114h0m-61 61h0" stroke="#00B0F6" stroke-width="9.20" stroke-linecap="round" fill="none"/>
<path transform="scale(0.250000)" d="M578 2416h0" stroke="#E76BF3" stroke-width="9.20" stroke-linecap="round" fill="none"/>
<text x="146.30" y="605.50" font-size="4.6" fill="#333" >SIRT1</text>
<line x1="114.70" y1="543.70" x2="114.70" y2="695.60" stroke="#7f7f7f" stroke-width="0.6" />
<line x1="114.70" y1="695.60" x2="220.60" y2="695.60" stroke="#7f7f7f" stroke-width="0.6" />
<line x1="112.70" y1="553.20" x2="114.70" y2="553.20" stroke="#7f7f7f" stroke-width="0.5" />
<text x="112.10" y="555.40" font-size="6.3" fill="#4d4d4d" text-anchor="end" >1.0</text>
<line x1="112.70" y1="584.50" x2="114.70" y2="584.50" stroke="#7f7f7f" stroke-width="0.5" />
<text x="112.10" y="586.70" font-size="6.3" fill="#4d4d4d" text-anchor="end" >0.5</text>
<line x1="112.70" y1="615.50" x2="114.70" y2="615.50" stroke="#7f7f7f" stroke-width="0.5" />
<text x="112.10" y="617.70" font-size="6.3" fill="#4d4d4d" text-anchor="end" >0.0</text>
<line x1="112.70" y1="647.20" x2="114.70" y2="647.20" stroke="#7f7f7f" stroke-width="0.5" />
<text x="112.10" y="649.40" font-size="6.3" fill="#4d4d4d" text-anchor="end" >-0.5</text>
<line x1="112.70" y1="678.70" x2="114.70" y2="678.70" stroke="#7f7f7f" stroke-width="0.5" />
<text x="112.10" y="680.90" font-size="6.3" fill="#4d4d4d" text-anchor="end" >-1.0</text>
<line x1="114.30" y1="695.60" x2="114.30" y2="697.60" stroke="#7f7f7f" stroke-width="0.5" />
<text x="114.30" y="703.80" font-size="6.3" fill="#4d4d4d" text-anchor="middle" >-1.0</text>
<line x1="143.10" y1="695.60" x2="143.10" y2="697.60" stroke="#7f7f7f" stroke-width="0.5" />
<text x="143.10" y="703.80" font-size="6.3" fill="#4d4d4d" text-anchor="middle" >-0.5</text>
<line x1="171.50" y1="695.60" x2="171.50" y2="697.60" stroke="#7f7f7f" stroke-width="0.5" />
<text x="171.50" y="703.80" font-size="6.3" fill="#4d4d4d" text-anchor="middle" >0.0</text>
<line x1="200.10" y1="695.60" x2="200.10" y2="697.60" stroke="#7f7f7f" stroke-width="0.5" />
<text x="200.10" y="703.80" font-size="6.3" fill="#4d4d4d" text-anchor="middle" >0.5</text>
<text x="168.50" y="710.80" font-size="7.0" fill="#222" text-anchor="middle" >FULV+E2 - E2</text>
<text x="199.4" y="526.2" font-size="9.6" font-weight="bold" text-anchor="middle" textLength="23.3" lengthAdjust="spacingAndGlyphs">MCF7</text>
<text x="114.80" y="540.20" font-size="7.05" fill="#111" textLength="61" lengthAdjust="spacingAndGlyphs" >p &lt; 0.001; r =0.616</text>
<text x="207.20" y="642.30" font-size="7.0" fill="#222" textLength="55.2" lengthAdjust="spacingAndGlyphs" >EL vs FULV (N=3017)</text>
<circle cx="208.00" cy="650.00" r="1.5" fill="#F8766D"/>
<text x="214.60" y="652.40" font-size="7.0" fill="#222" textLength="55.5" lengthAdjust="spacingAndGlyphs" >p&#8804;0.05; Diff&lt;0.2 = 52</text>
<circle cx="208.00" cy="659.35" r="1.5" fill="#A3A500"/>
<text x="214.60" y="661.75" font-size="7.0" fill="#222" textLength="84.7" lengthAdjust="spacingAndGlyphs" >p&#8804;0.05; 0.2&#8805;Diff&lt;0.3 (log2) = 22</text>
<circle cx="208.00" cy="668.70" r="1.5" fill="#00BF7D"/>
<text x="214.60" y="671.10" font-size="7.0" fill="#222" textLength="84.7" lengthAdjust="spacingAndGlyphs" >p&#8804;0.05; 0.3&#8805;Diff&lt;0.4 (log2) = 11</text>
<circle cx="208.00" cy="678.05" r="1.5" fill="#00B0F6"/>
<text x="214.60" y="680.45" font-size="7.0" fill="#222" textLength="82" lengthAdjust="spacingAndGlyphs" >p&#8804;0.05; 0.4&#8805;Diff&lt;0.5 (log2) = 5</text>
<circle cx="208.00" cy="687.40" r="1.5" fill="#E76BF3"/>
<text x="214.60" y="689.80" font-size="7.0" fill="#222" textLength="74" lengthAdjust="spacingAndGlyphs" >p&#8804;0.05; Diff&#8805;0.5 (log2) = 1</text>
<line x1="24.20" y1="829.50" x2="137.70" y2="829.50" stroke="#cfcfcf" stroke-width="0.6" stroke-dasharray="0.8 1.6"/>
<line x1="81.60" y1="757.00" x2="81.60" y2="909.70" stroke="#cfcfcf" stroke-width="0.6" stroke-dasharray="0.8 1.6"/>
<path transform="scale(0.333333)" d="M258 2283h0m120 8h0m-51 48h0m-115 33h0m14 13h0m134 14h0m-33-2h0m-15 8h0m-50 12h0m25-4h0m11 12h0m10-9h0m85 1h0m-39 29h0m-25-9h0m-2 6h0m-6-5h0m-1 3h0m-1-1h0m-4-2h0m-1 6h0m-4-9h0m-1 2h0m-1 10h0m-1-7h0m-4-1h0m-3-3h0m-1 8h0m-1 0h0m0-5h0m-2 2h0m-1-3h0m-5 6h0m0-2h0m0-10h0m-1 6h0m-3-8h0m0 13h0m-1-2h0m-2-6h0m-1 8h0m-1 3h0m0-1h0m0 2h0m-3-11h0m0-3h0m-2 1h0m-1 10h0m0 2h0m0 1h0m-5-5h0m0-10h0m-3 8h0m-3 3h0m-3 2h0m-3-7h0m-7 9h0m-32-1h0m-11-4h0m-7-8h0m-19-4h0m-47 5h0m-7 4h0m88 24h0m2 2h0m9 0h0m1-1h0m1-11h0m1 2h0m1 5h0m1-4h0m0 9h0m0-4h0m0-10h0m0 12h0m1 1h0m0-8h0m3 6h0m2-7h0m0 9h0m1-1h0m0 2h0m1-16h0m1 11h0m0-5h0m1 6h0m0 3h0m1-10h0m0 1h0m2-4h0m0 11h0m1 2h0m1-2h0m0-5h0m1 8h0m0-8h0m0 4h0m0-1h0m1 2h0m0 3h0m1-4h0m1 4h0m0-10h0m2 10h0m0-1h0m2-5h0m1 2h0m0-8h0m0 12h0m0-11h0m1 2h0m0 2h0m0-1h0m0 6h0m0-11h0m0 13h0m1-6h0m0 1h0m0 5h0m1-15h0m0 12h0m0-6h0m0 2h0m1-10h0m0 15h0m0-10h0m0 1h0m0 4h0m1 4h0m0-4h0m0 2h0m1 4h0m0-8h0m0 9h0m0-6h0m0-1h0m1 4h0m0 3h0m1-12h0m0 11h0m1-2h0m0 3h0m0-4h0m1 4h0m0-1h0m0-7h0m0 2h0m0 2h0m1-10h0m0 13h0m1 1h0m0-11h0m0 3h0m1 0h0m0 4h0m0 2h0m0 2h0m0-1h0m1-8h0m0 2h0m0 3h0m1-5h0m0 2h0m0 1h0m0 3h0m0-10h0m0 13h0m0-1h0m1-6h0m0 3h0m0-1h0m0-10h0m0 13h0m0-1h0m0-8h0m0 1h0m0 2h0m1-1h0m0 3h0m0 3h0m0 2h0m2-5h0m0 1h0m0 2h0m0 3h0m0-11h0m0 1h0m1 6h0m0 4h0m0-11h0m0 2h0m0 2h0m1 3h0m0 1h0m0 2h0m0-9h0m0 2h0m1-6h0m0-1h0m0 3h0m0 11h0m1-2h0m0-10h0m0-3h0m0 12h0m0 2h0m1 0h0m0 1h0m0-9h0m0 3h0m0 1h0m0-8h0m1 11h0m0 1h0m1-9h0m0 3h0m0-9h0m1 2h0m0 3h0m0 5h0m0 3h0m1-5h0m0 2h0m0 3h0m1 4h0m0-8h0m0 4h0m1 3h0m0-10h0m1 4h0m0 7h0m1-5h0m0-10h0m1-2h0m0 13h0m0-7h0m1 5h0m0-4h0m1-6h0m0-1h0m0 8h0m0-1h0m1 4h0m0-6h0m0 1h0m0 4h0m1-6h0m0 6h0m1-3h0m1-3h0m1-1h0m1 3h0m0 1h0m1 3h0m0 3h0m1 2h0m0-10h0m0 7h0m1-2h0m0-9h0m0 13h0m3-6h0m0-7h0m0 3h0m1 5h0m0-6h0m1 0h0m1 5h0m3-1h0m5 9h0m1-8h0m8-8h0m-8 27h0m-4-4h0m-1 4h0m-3-8h0m-1 16h0m-5-14h0m0 3h0m-1 11h0m-2-13h0m-2 2h0m0 9h0m-1-13h0m0 14h0m-1-16h0m-1 1h0m0 9h0m0-8h0m0 1h0m-1-2h0m0 3h0m0 1h0m0 12h0m0-6h0m0-9h0m-2 8h0m0-6h0m-1 6h0m-1 7h0m0-8h0m0 1h0m0-9h0m-1 9h0m0-3h0m0 2h0m-1 6h0m0-6h0m-1 2h0m0-11h0m0 8h0m-1 2h0m0-10h0m0 12h0m0-4h0m-1 3h0m0 2h0m0-9h0m0 1h0m-1 3h0m0 3h0m0-7h0m0 2h0m-1 8h0m0 2h0m0-10h0m0 1h0m-1 2h0m0-1h0m0-5h0m0 2h0m-1 1h0m0 4h0m-1-4h0m0 1h0m0 2h0m0-8h0m0 9h0m-1 7h0m0-9h0m0 3h0m0-10h0m0-1h0m0 14h0m-1-8h0m0 9h0m0-10h0m0 4h0m0 1h0m0-10h0m0 13h0m0-1h0m0-10h0m-1 14h0m0-11h0m0 4h0m0-1h0m0 3h0m0-11h0m0 12h0m0-11h0m-1 4h0m0 2h0m0 2h0m0 1h0m0 2h0m0-11h0m0 3h0m-1 6h0m0-7h0m0 13h0m0-11h0m0 3h0m0 3h0m-1 2h0m0-10h0m0 12h0m0-10h0m0 2h0m0 2h0m0 1h0m0 2h0m0-10h0m0 2h0m-1 6h0m0-10h0m0 12h0m0-10h0m0-1h0m0 3h0m0 13h0m0-9h0m-1-8h0m0 1h0m0 13h0m0-10h0m0-1h0m0 2h0m0 12h0m0-6h0m-1 1h0m0-10h0m0-1h0m0 2h0m0 12h0m0-4h0m0-1h0m-1-1h0m0 2h0m0-1h0m0-10h0m0 2h0m0 1h0m0 13h0m0-10h0m0-1h0m0 2h0m-1 5h0m0-10h0m0 12h0m0-1h0m0-6h0m0-1h0m0 2h0m0 2h0m-1-3h0m0 2h0m0 2h0m0 2h0m0-10h0m0 13h0m0-1h0m-1-6h0m0-1h0m0 2h0m0 2h0m0-10h0m0 12h0m0 2h0m0-1h0m0 2h0m-1-1h0m0-11h0m0 12h0m0-10h0m0 6h0m0-1h0m0 2h0m0-10h0m-1 2h0m0 3h0m0-1h0m0 3h0m0-9h0m0-1h0m0 15h0m0-1h0m-1-15h0m0 2h0m0-1h0m0 4h0m0 12h0m0-11h0m-1 11h0m0-6h0m0-1h0m0-10h0m0 13h0m0-1h0m0 2h0m-1-9h0m0 12h0m0-8h0m0-8h0m0 3h0m0-1h0m0 3h0m-1-3h0m0 13h0m0-1h0m0-10h0m0 2h0m0-1h0m0 3h0m0-9h0m0 1h0m-1 12h0m0 3h0m0-1h0m0-10h0m0 12h0m0-10h0m0-1h0m0 3h0m0-1h0m0 4h0m0-10h0m0-1h0m0 13h0m0-10h0m-1 9h0m0 1h0m0-10h0m0-1h0m0 13h0m0-10h0m0 1h0m0-6h0m-1 1h0m0 1h0m0 13h0m0-1h0m0 2h0m0-10h0m0 4h0m0-1h0m0 3h0m-1 2h0m0-6h0m0-9h0m0 12h0m0-1h0m0-10h0m-1-1h0m0 1h0m0 3h0m0 13h0m0-11h0m0 3h0m0 2h0m-1 1h0m0-10h0m0 12h0m0 2h0m0-9h0m0-1h0m0 2h0m-1 1h0m0 2h0m0-10h0m0 12h0m0-1h0m0 2h0m0-10h0m0 12h0m-1-6h0m0-8h0m0 9h0m0 5h0m0-1h0m0-10h0m0 4h0m-1 3h0m0-10h0m0 9h0m0 2h0m0 3h0m0-1h0m0-10h0m0 2h0m0-1h0m0 3h0m0 1h0m0-10h0m-1 6h0m0 2h0m0-8h0m0 14h0m0-10h0m0 12h0m0-1h0m0-10h0m0 12h0m0-10h0m-1 3h0m0 2h0m0-10h0m0 1h0m0 2h0m0 12h0m0-10h0m0-1h0m-1 11h0m0-8h0m0-1h0m0-8h0m0 2h0m0 9h0m0-10h0m0 2h0m0 13h0m0-1h0m0-10h0m-1 4h0m0 1h0m0 1h0m0 3h0m0-1h0m0 3h0m0-1h0m0-10h0m0-1h0m0 13h0m0-10h0m-1 9h0m0-10h0m0 9h0m0 2h0m0-8h0m0 2h0m-1 4h0m0-9h0m0 3h0m0-1h0m0 3h0m0-1h0m0-8h0m0 11h0m0 3h0m-1-7h0m0-1h0m0 4h0m0 2h0m0-10h0m0 9h0m0 3h0m-1-13h0m0 13h0m0-1h0m0 2h0m0-10h0m0-7h0m0 12h0m0-11h0m-1 14h0m0-6h0m0-1h0m0 4h0m0 2h0m0-1h0m-1-1h0m0-8h0m0 9h0m0-10h0m0 3h0m0 2h0m-1 5h0m0-10h0m0 14h0m0-11h0m0-6h0m-1 2h0m0 12h0m0-10h0m0-1h0m0 12h0m0 2h0m0-10h0m0 2h0m0-1h0m0 3h0m-1-10h0m0 12h0m0-6h0m0-1h0m0 4h0m-1-9h0m0 3h0m0 9h0m0 3h0m0-11h0m0 12h0m0-11h0m0 3h0m0 1h0m-1 1h0m0-11h0m0 13h0m0-1h0m0 3h0m-1-2h0m0-10h0m0 4h0m0 9h0m0-10h0m0 3h0m0 1h0m-1-2h0m0 6h0m0-1h0m0-10h0m0 14h0m-1-9h0m0 4h0m-1 3h0m0-7h0m-1 2h0m0 2h0m0 1h0m0 3h0m0 1h0m-1-6h0m0 2h0m-1 3h0m0-1h0m0 2h0m-1-10h0m0-7h0m0 16h0m-1 1h0m0-11h0m0-2h0m-2 12h0m-1-4h0m0 4h0m0-9h0m0 3h0m-1 6h0m-1-13h0m0 13h0m0-9h0m-1 4h0m-1 2h0m0 4h0m-1-9h0m0 3h0m0 6h0m-1-2h0m-3-3h0m-1-2h0m-1 6h0m-3 1h0m-2-7h0m-1-2h0m-6-8h0m-14 15h0m-14-13h0m10 32h0m9-4h0m1-1h0m0-10h0m0 13h0m4-11h0m3 12h0m0-5h0m1 4h0m0 3h0m2 0h0m0-1h0m1 1h0m1-6h0m2-4h0m0 2h0m0-6h0m1 10h0m1 2h0m0-10h0m0 12h0m1-5h0m0 3h0m0-11h0m1-4h0m0 4h0m0 13h0m1-14h0m0 12h0m0 2h0m0-1h0m0-10h0m0 2h0m1 3h0m1-8h0m0-1h0m0 14h0m1-4h0m0-11h0m0 12h0m0-8h0m0-1h0m0 3h0m0 9h0m1-3h0m0-4h0m0 2h0m1 2h0m0-10h0m0 9h0m0 3h0m0-10h0m0 11h0m0-8h0m1 8h0m0 1h0m0-10h0m0 6h0m0-1h0m0-8h0m1 11h0m0-1h0m0-10h0m0 8h0m1-9h0m0-1h0m0 13h0m0 2h0m0-10h0m0 9h0m0-16h0m1 4h0m0 12h0m0-11h0m0 5h0m0-1h0m0 2h0m0-10h0m0-1h0m0 3h0m0-1h0m0 13h0m1-9h0m0 2h0m0 2h0m0-9h0m0 12h0m0-10h0m0 9h0m1 4h0m0-10h0m0 4h0m0-1h0m0 3h0m0-10h0m0 3h0m0 9h0m1 2h0m0-7h0m0 2h0m0 2h0m0-11h0m0 13h0m1-5h0m0-1h0m0 2h0m0-10h0m0-1h0m0 17h0m0-1h0m0-10h0m0 2h0m1 2h0m0-1h0m0-8h0m0-1h0m0 3h0m0 12h0m0-11h0m0 13h0m0-11h0m0-1h0m1 4h0m0 2h0m0-11h0m0 3h0m0-1h0m0 13h0m0-1h0m0 2h0m1-6h0m0-1h0m0 2h0m0-10h0m0 2h0m0 12h0m0-11h0m0 13h0m0-1h0m0-8h0m1-1h0m0 5h0m0-1h0m0 2h0m0-10h0m0-1h0m0 13h0m0-10h0m0 9h0m0-10h0m0 13h0m0-11h0m1 6h0m0-10h0m0 12h0m0-10h0m0 13h0m0-1h0m0-10h0m1 5h0m0-10h0m0-1h0m0 13h0m0-10h0m0-1h0m0 13h0m0-1h0m0 2h0m0-10h0m0 1h0m0 3h0m1 0h0m0-10h0m0 9h0m0-7h0m0 9h0m0-10h0m0 2h0m0 12h0m0-10h0m0 12h0m0-1h0m1-16h0m0 13h0m0-10h0m0 1h0m0 12h0m0-8h0m1-7h0m0 12h0m0-10h0m0-1h0m0 13h0m0-10h0m0 9h0m0-10h0m0 13h0m0-9h0m0-1h0m0 3h0m0-10h0m0 9h0m1 7h0m0-11h0m0 3h0m0 9h0m0-10h0m0 3h0m0 1h0m0-10h0m0 12h0m0-1h0m0 3h0m1-4h0m0 2h0m0-10h0m0-1h0m0 3h0m0-1h0m0 13h0m0-10h0m0-1h0m0-6h0m1 16h0m0-8h0m0-6h0m0 13h0m1 2h0m0-1h0m0-10h0m0 2h0m0 1h0m0-8h0m0 14h0m0-10h0m1-3h0m0 3h0m0 9h0m0-10h0m0 13h0m0-9h0m0-1h0m0 3h0m0-10h0m0 9h0m0 2h0m0-10h0m0 12h0m1 4h0m0-10h0m0 9h0m0-8h0m0 1h0m0 3h0m0-1h0m0-10h0m0 12h0m0-10h0m0 2h0m1 1h0m0 4h0m0-10h0m0 9h0m0 2h0m0-10h0m0 12h0m0-11h0m0 3h0m1 2h0m0 2h0m0 2h0m0-11h0m0 13h0m0-1h0m0-10h0m0 3h0m0-1h0m0 13h0m0-11h0m1 1h0m0 5h0m0-12h0m0 13h0m0-10h0m0 2h0m0 9h0m0-10h0m0 13h0m0-1h0m0-10h0m1 3h0m0 2h0m0-10h0m0 1h0m0 13h0m0-10h0m0 9h0m0-6h0m0-1h0m0 3h0m1 0h0m0-10h0m0 12h0m0-11h0m0 12h0m0-10h0m0-1h0m0 13h0m0-10h0m0 9h0m0 3h0m0-10h0m0-1h0m0 2h0m1 0h0m0-8h0m0 9h0m0 2h0m0-9h0m0 13h0m0-11h0m0 13h0m0-10h0m0 9h0m1-5h0m0-11h0m0 15h0m0-10h0m0 12h0m0-11h0m0 3h0m1 2h0m0-10h0m0-1h0m0 13h0m0 2h0m0-10h0m0 9h0m0 3h0m0-9h0m0-1h0m0 2h0m1-6h0m0-1h0m0 3h0m0 9h0m0 2h0m0-10h0m0 1h0m0-7h0m0 9h0m0 2h0m0-10h0m1 0h0m0 2h0m0 2h0m0-1h0m0 13h0m0-1h0m0-6h0m0-10h0m0 12h0m1-8h0m0 2h0m0-1h0m0 4h0m0 2h0m0-10h0m0-1h0m0 13h0m0-10h0m0-1h0m0 12h0m1-9h0m0 9h0m0-10h0m0 4h0m0 2h0m0-1h0m0 2h0m0-10h0m0-1h0m0 12h0m0-10h0m1 3h0m0 12h0m0-11h0m0 3h0m0 3h0m0-10h0m1 2h0m0 13h0m0-11h0m0 4h0m0-10h0m0 1h0m0 12h0m0-10h0m0-1h0m1 3h0m0-1h0m0 3h0m0 1h0m0-8h0m1 7h0m0 3h0m0 3h0m0-11h0m0 15h0m0-11h0m1-2h0m0 3h0m0 1h0m0-8h0m0 12h0m0-11h0m0 13h0m0-12h0m1 3h0m0 2h0m0 1h0m0 2h0m0-10h0m0 2h0m0 12h0m0-1h0m1-5h0m0 4h0m0-9h0m0 14h0m0-1h0m1-16h0m0 12h0m0-11h0m0 12h0m0-8h0m0 9h0m1-2h0m0-1h0m0-10h0m0 13h0m0-12h0m0 3h0m0-1h0m0 3h0m1 3h0m0-10h0m0 12h0m0-11h0m0 13h0m0-10h0m0 3h0m0-1h0m1-5h0m0 1h0m0 3h0m0 9h0m0-6h0m0-1h0m0 5h0m1-1h0m0-11h0m0 3h0m0 2h0m0-1h0m0 12h0m0-10h0m0 1h0m0 2h0m0 3h0m1 0h0m0-10h0m0 1h0m0 13h0m0-11h0m0 2h0m1-6h0m0 2h0m0 4h0m0-1h0m0-6h0m0 12h0m1 0h0m0-1h0m0-10h0m0 1h0m0 3h0m0-1h0m0 2h0m0-6h0m0 9h0m1-5h0m0 5h0m0-9h0m1 14h0m0-11h0m0 2h0m0 2h0m0 9h0m0-10h0m0 2h0m0-6h0m1 9h0m0-10h0m0 2h0m0 2h0m0 9h0m1 2h0m0-8h0m0 4h0m0-1h0m0-9h0m1 3h0m0 1h0m0-6h0m1 12h0m0 3h0m0 2h0m0-11h0m1-6h0m0 2h0m0-1h0m0 12h0m0-10h0m1 6h0m0 2h0m0-8h0m1 0h0m0 2h0m0 11h0m1-16h0m0 3h0m0 4h0m1 3h0m0-10h0m0 1h0m0 3h0m0 2h0m1-4h0m0 4h0m1-6h0m1 11h0m0-10h0m0 1h0m1 0h0m0 3h0m0 2h0m0-7h0m1 3h0m0 1h0m1 9h0m0-10h0m0 4h0m0-1h0m0 4h0m1-9h0m1 0h0m0 9h0m2 1h0m1-1h0m1-2h0m1-2h0m6-5h0m16 6h0m7-6h0m2 5h0m37 21h0m-77-8h0m-1 0h0m0-1h0m-5 4h0m0 7h0m-2 0h0m-2-7h0m0-1h0m-1-2h0m-1 4h0m-1-1h0m-2-3h0m-1 9h0m-1-7h0m0 14h0m0-11h0m-1 1h0m-1-2h0m0-5h0m0 6h0m-1-5h0m-1 14h0m0-1h0m0-7h0m-1 3h0m0-8h0m0 4h0m0-5h0m-1 10h0m0-10h0m0-1h0m-1 3h0m0 1h0m0 1h0m-1-4h0m0 3h0m-1-1h0m0 4h0m-1 2h0m0 2h0m0-11h0m0 2h0m0 2h0m0 12h0m0-11h0m0 2h0m-1-3h0m0 11h0m0-10h0m0 2h0m-1 1h0m0 2h0m0 1h0m0-10h0m-1 0h0m0 3h0m0 2h0m-1 3h0m0 1h0m0 2h0m0-5h0m-1 10h0m0-13h0m-1 9h0m0-11h0m0 12h0m0-8h0m-1-2h0m0-1h0m0 13h0m0-10h0m0 2h0m0-8h0m-1 6h0m0 9h0m0-7h0m0 3h0m0-11h0m0 2h0m0 2h0m0-1h0m-1 7h0m0-6h0m0 1h0m0 3h0m-1-4h0m0-1h0m0 4h0m0 2h0m0 1h0m-1-7h0m0 12h0m0-10h0m0 4h0m0-1h0m0-8h0m0 12h0m-1-12h0m0 12h0m0-10h0m0 12h0m0-8h0m0-1h0m0 12h0m0-10h0m0 1h0m-1-4h0m0-4h0m-1 11h0m0-10h0m0 1h0m0 13h0m0-11h0m0-1h0m0 3h0m0 1h0m-1 4h0m0-10h0m0 1h0m0 12h0m0-8h0m0 9h0m0 2h0m0-10h0m-1 0h0m0 2h0m0-8h0m0 13h0m0-9h0m-1 6h0m0-1h0m0-10h0m0 1h0m0 3h0m0 12h0m0-10h0m0 11h0m-1-9h0m0-8h0m0 14h0m0-10h0m0 2h0m0 1h0m-1-1h0m0-1h0m0 2h0m0 2h0m0-8h0m0-1h0m0 13h0m0-1h0m0-10h0m0 2h0m0-1h0m-1 3h0m0 5h0m0-11h0m0 1h0m0 2h0m0 13h0m-1-13h0m0 12h0m0-10h0m0 4h0m0 2h0m0-10h0m0-1h0m0 13h0m0-11h0m0 12h0m0-10h0m-1 13h0m0-10h0m0 2h0m0 1h0m0 2h0m0-10h0m0-1h0m-1 13h0m0-10h0m0 3h0m0 2h0m0 2h0m0-10h0m-1 12h0m0-5h0m0 6h0m0-10h0m-1 1h0m0 1h0m0 3h0m0 1h0m0-6h0m-1 0h0m0-1h0m0 3h0m0 3h0m0 4h0m-1-12h0m0 13h0m0-10h0m0-1h0m0 3h0m0 1h0m0 2h0m0 2h0m0-1h0m0-10h0m-1 10h0m0 3h0m0 1h0m0-9h0m0 2h0m0 1h0m-1-7h0m0 3h0m0 9h0m0-10h0m0 13h0m0-1h0m0-10h0m0 12h0m0-8h0m0 1h0m-1 6h0m0-11h0m0 2h0m0-1h0m0 3h0m0-1h0m0 4h0m0-10h0m-1 10h0m0-10h0m0 4h0m0-1h0m-1 6h0m0-11h0m0 2h0m0 13h0m0-10h0m0 12h0m0-10h0m0 2h0m-1-1h0m0-8h0m0 2h0m0 12h0m0-10h0m0-1h0m0 12h0m0-10h0m-1-4h0m0 15h0m0-1h0m-1-7h0m0-7h0m0 14h0m0-11h0m-1 7h0m0-11h0m0 4h0m-1 4h0m0-8h0m0 2h0m0 9h0m0-10h0m0 3h0m0 9h0m0-8h0m0 2h0m0 2h0m-1-3h0m0-1h0m0 5h0m0 3h0m0-12h0m0 3h0m0-1h0m-1 12h0m0-10h0m0 2h0m0 2h0m0 2h0m0-7h0m-1 10h0m0-10h0m0-1h0m0 2h0m0 6h0m0 2h0m-1-8h0m0 2h0m0 2h0m0-1h0m0 3h0m0-1h0m0-9h0m0 13h0m0 2h0m-1-6h0m0-3h0m0 1h0m-1 6h0m0 2h0m0-1h0m0-5h0m-1-6h0m0-1h0m0 13h0m0-10h0m0 1h0m0 5h0m0-10h0m-1 3h0m0 12h0m0-11h0m0 3h0m0-1h0m0-8h0m-1 14h0m0 3h0m0-8h0m-1 1h0m0 3h0m0-1h0m0-8h0m0 13h0m-1-3h0m0-10h0m-1 7h0m0 2h0m0 2h0m0-6h0m0 1h0m0-10h0m-1 2h0m0-1h0m-1 3h0m0 11h0m0-10h0m0 2h0m-1 8h0m0-8h0m0 3h0m0-4h0m-1 4h0m0 2h0m0-11h0m0 13h0m0-1h0m0 2h0m0-11h0m-1 11h0m0 2h0m0-15h0m0-1h0m-2 8h0m0 1h0m0 5h0m-1-10h0m0-5h0m0 13h0m-2 4h0m-1-12h0m0 1h0m0 4h0m-1-1h0m-1-1h0m-4 0h0m-6 5h0m-2 2h0m-5-2h0m-2-9h0m-10 10h0m0 15h0m4-1h0m4 0h0m1 1h0m1 5h0m2-10h0m0 1h0m0-7h0m2 8h0m0-3h0m3 4h0m1 1h0m2-1h0m1-4h0m0 5h0m2-9h0m3 5h0m0-5h0m2 1h0m1 2h0m0 8h0m0-10h0m1 6h0m0-6h0m2 7h0m1 0h0m0-4h0m2 0h0m0 2h0m1 4h0m0-8h0m2 12h0m0-4h0m0-10h0m1 9h0m0-10h0m0 2h0m0 2h0m0 3h0m1-5h0m0 13h0m1-5h0m0-1h0m1 7h0m0-15h0m0-1h0m1 5h0m0 12h0m0-9h0m0-8h0m1 8h0m0-8h0m1 16h0m0-4h0m0-9h0m0 1h0m1-3h0m0 1h0m1 10h0m0 1h0m0-8h0m1 2h0m0-1h0m1-3h0m1 0h0m1 1h0m0 10h0m1-13h0m0 2h0m0-1h0m0 13h0m0-11h0m1-4h0m0 15h0m1-3h0m0 3h0m1-15h0m0 5h0m0 3h0m1-5h0m0 2h0m0-1h0m0 3h0m1-5h0m1 0h0m0 6h0m0 2h0m1 6h0m1-15h0m0 3h0m0 4h0m1 0h0m1-4h0m1 4h0m0-5h0m1 2h0m2-4h0m1-1h0m1 6h0m1-6h0m0 2h0m1 6h0m0-5h0m0 1h0m0 3h0m1-4h0m0 2h0m0 4h0m1 1h0m0-6h0m1 0h0m0-3h0m1 0h0m0 4h0m0 3h0m0 2h0m0-1h0m1-7h0m1 2h0m1 9h0m0-1h0m1-8h0m0-4h0m0 13h0m1-13h0m1 2h0m0 13h0m1-12h0m2 10h0m1-6h0m1-4h0m0 1h0m0 2h0m1-3h0m4 6h0m22 2h0m34-7h0m-5 15h0m-16 5h0m-58 8h0m0-7h0m-7-6h0m-10 2h0m-1-3h0m-6 10h0m0-10h0m0 6h0m-1 9h0m0-10h0m-12 2h0m-1 0h0m-3 4h0m-7-5h0m-2 7h0m-1-7h0m-1-1h0m-2 1h0m-3 1h0m-5 0h0m-12 1h0m-6-8h0m-59 0h0m38 33h0m42-9h0m18-4h0m20 9h0m67-9h0m65 5h0m-44 12h0m-114 2h0m-53 7h0m-8-1h0m-10 7h0m33 2h0m11 3h0m20 3h0" stroke="#BDBDBD" stroke-width="4.65" stroke-linecap="round" fill="none"/>
<path transform="scale(0.250000)" d="M421 3237h0m-1 20h0m-5 2h0m-25-17h0m-54 33h0m4 9h0m4 2h0m8-5h0m3-4h0m4 2h0m9-11h0m13 17h0m10-6h0m-22 21h0m-4 0h0m-2-8h0m-1 6h0m-2-6h0m0 11h0m0 5h0m-2-20h0m-5 15h0m-1-9h0m-7-2h0m0 14h0m-2-6h0m0-7h0m-1 13h0m-6 5h0m-4-14h0m-1 3h0m-3 7h0m-1-9h0m0-2h0m-1 3h0m-4 0h0m0 6h0m-9 5h0m-21 1h0m-14 9h0m1 14h0m9-1h0m4-1h0m1 3h0m12-2h0m7-13h0m0 3h0m0 9h0m1-7h0m5 2h0m3-12h0m1 3h0m2-3h0m1 0h0m3-3h0m2 2h0m7 0h0m1-1h0m2 7h0m0-1h0m3 1h0m4 15h0m3-15h0m1-5h0m7-2h0m2 4h0m11 2h0m-26 17h0m-8 4h0m-15-4h0m-16 12h0m-3-5h0m-10 7h0m-11-11h0m6 43h0m-44 14h0" stroke="#F8766D" stroke-width="9.20" stroke-linecap="round" fill="none"/>
<path transform="scale(0.250000)" d="M314 3284h0m4 1h0m4-7h0m2 4h0m4-2h0m-17 8h0m-35 25h0m4 3h0m82 8h0m2 6h0m3-3h0m21-12h0m4-2h0m-46 33h0m-3 2h0m-7 6h0m-4-3h0m-26 25h0m2 3h0" stroke="#A3A500" stroke-width="9.20" stroke-linecap="round" fill="none"/>
<path transform="scale(0.250000)" d="M329 3250h0m-3 2h0m-4 5h0m-6 5h0m-16 14h0m4-2h0m7-7h0m-17 21h0m-4 4h0m-4 2h0m-13 5h0" stroke="#00BF7D" stroke-width="9.20" stroke-linecap="round" fill="none"/>
<path transform="scale(0.250000)" d="M315 3253h0m-4 7h0m-3-3h0m-46 189h0" stroke="#00B0F6" stroke-width="9.20" stroke-linecap="round" fill="none"/>
<path transform="scale(0.250000)" d="M226 3276h0m29 10h0m-139 322h0" stroke="#E76BF3" stroke-width="9.20" stroke-linecap="round" fill="none"/>
<text x="57.50" y="818.00" font-size="4.6" fill="#333" >PCGF3</text>
<text x="31.00" y="903.50" font-size="4.6" fill="#333" >GRIP1</text>
<line x1="24.20" y1="757.00" x2="24.20" y2="909.70" stroke="#7f7f7f" stroke-width="0.6" />
<line x1="24.20" y1="909.70" x2="137.70" y2="909.70" stroke="#7f7f7f" stroke-width="0.6" />
<line x1="22.20" y1="786.20" x2="24.20" y2="786.20" stroke="#7f7f7f" stroke-width="0.5" />
<text x="21.60" y="788.40" font-size="6.3" fill="#4d4d4d" text-anchor="end" >1</text>
<line x1="22.20" y1="829.50" x2="24.20" y2="829.50" stroke="#7f7f7f" stroke-width="0.5" />
<text x="21.60" y="831.70" font-size="6.3" fill="#4d4d4d" text-anchor="end" >0</text>
<line x1="22.20" y1="873.50" x2="24.20" y2="873.50" stroke="#7f7f7f" stroke-width="0.5" />
<text x="21.60" y="875.70" font-size="6.3" fill="#4d4d4d" text-anchor="end" >-1</text>
<line x1="29.50" y1="909.70" x2="29.50" y2="911.70" stroke="#7f7f7f" stroke-width="0.5" />
<text x="29.50" y="917.90" font-size="6.3" fill="#4d4d4d" text-anchor="middle" >-1.0</text>
<line x1="55.40" y1="909.70" x2="55.40" y2="911.70" stroke="#7f7f7f" stroke-width="0.5" />
<text x="55.40" y="917.90" font-size="6.3" fill="#4d4d4d" text-anchor="middle" >-0.5</text>
<line x1="81.60" y1="909.70" x2="81.60" y2="911.70" stroke="#7f7f7f" stroke-width="0.5" />
<text x="81.60" y="917.90" font-size="6.3" fill="#4d4d4d" text-anchor="middle" >0.0</text>
<line x1="107.50" y1="909.70" x2="107.50" y2="911.70" stroke="#7f7f7f" stroke-width="0.5" />
<text x="107.50" y="917.90" font-size="6.3" fill="#4d4d4d" text-anchor="middle" >0.5</text>
<line x1="133.30" y1="909.70" x2="133.30" y2="911.70" stroke="#7f7f7f" stroke-width="0.5" />
<text x="133.30" y="917.90" font-size="6.3" fill="#4d4d4d" text-anchor="middle" >1.0</text>
<text x="80.60" y="925.60" font-size="7.0" fill="#222" text-anchor="middle" >FULV+E2 - E2</text>
<text x="16.00" y="835.00" font-size="7.0" fill="#222" text-anchor="middle" transform="rotate(-90 16.00 835.00)" >EL+E2 - E2</text>
<text x="58.8" y="737.8" font-size="9.6" font-weight="bold"><tspan textLength="48.4" lengthAdjust="spacingAndGlyphs">MCF7-LTED</tspan><tspan font-size="6.4" dy="-3.4" textLength="8.5" lengthAdjust="spacingAndGlyphs">wt</tspan></text>
<text x="24.20" y="753.80" font-size="7.05" fill="#111" textLength="61.4" lengthAdjust="spacingAndGlyphs" >p &lt; 0.001; r =0.484</text>
<text x="113.10" y="855.70" font-size="7.0" fill="#222" textLength="55.2" lengthAdjust="spacingAndGlyphs" >EL vs FULV (N=3098)</text>
<circle cx="113.90" cy="864.40" r="1.5" fill="#F8766D"/>
<text x="119.90" y="866.80" font-size="7.0" fill="#222" textLength="55.5" lengthAdjust="spacingAndGlyphs" >p&#8804;0.05; Diff&lt;0.2 = 76</text>
<circle cx="113.90" cy="873.47" r="1.5" fill="#A3A500"/>
<text x="119.90" y="875.87" font-size="7.0" fill="#222" textLength="84.7" lengthAdjust="spacingAndGlyphs" >p&#8804;0.05; 0.2&#8805;Diff&lt;0.3 (log2) = 19</text>
<circle cx="113.90" cy="882.54" r="1.5" fill="#00BF7D"/>
<text x="119.90" y="884.94" font-size="7.0" fill="#222" textLength="84.7" lengthAdjust="spacingAndGlyphs" >p&#8804;0.05; 0.3&#8805;Diff&lt;0.4 (log2) = 11</text>
<circle cx="113.90" cy="891.61" r="1.5" fill="#00B0F6"/>
<text x="119.90" y="894.01" font-size="7.0" fill="#222" textLength="80" lengthAdjust="spacingAndGlyphs" >p&#8804;0.05; 0.4&#8805;Diff&lt;0.5 (log2) = 4</text>
<circle cx="113.90" cy="900.68" r="1.5" fill="#E76BF3"/>
<text x="119.90" y="903.08" font-size="7.0" fill="#222" textLength="79" lengthAdjust="spacingAndGlyphs" >p&#8804;0.05; Diff&#8805;0.5 (log2) = 3</text>
<line x1="230.90" y1="804.60" x2="341.00" y2="804.60" stroke="#cfcfcf" stroke-width="0.6" stroke-dasharray="0.8 1.6"/>
<line x1="296.40" y1="758.60" x2="296.40" y2="909.70" stroke="#cfcfcf" stroke-width="0.6" stroke-dasharray="0.8 1.6"/>
<path transform="scale(0.333333)" d="M924 2274h0m33 8h0m50-5h0m-130 17h0m76 18h0m15-4h0m-51 23h0m-5 6h0m-10 0h0m-26 15h0m1 0h0m12-4h0m0 7h0m1 0h0m1-7h0m3-7h0m0 16h0m1-11h0m1-1h0m1 1h0m3 2h0m1 0h0m0 3h0m4 2h0m2-12h0m0 13h0m0 1h0m1-14h0m2 16h0m1-2h0m0-6h0m1-8h0m0 11h0m1 1h0m2-2h0m1-10h0m0 3h0m2 6h0m1 1h0m1-10h0m1 3h0m0 1h0m2 8h0m5-11h0m13 12h0m3-9h0m8-4h0m16 0h0m-14 29h0m-24-7h0m-3-1h0m-2 10h0m0-5h0m-1 4h0m0-8h0m-1 12h0m-2-2h0m-2 2h0m0-10h0m-1 7h0m0 3h0m0-6h0m-1 2h0m0-8h0m0 12h0m-1-5h0m0-11h0m0 6h0m-1 10h0m-1-6h0m0-8h0m0 5h0m-1-1h0m0 1h0m0-5h0m-1 11h0m0 1h0m0-10h0m-1 4h0m0 2h0m0 1h0m-1 2h0m0-1h0m-1-5h0m-1 8h0m0-7h0m0 2h0m-1 6h0m-1-2h0m0-8h0m-1-1h0m0 5h0m-1-8h0m0 11h0m0-10h0m0 7h0m-1 0h0m0 2h0m-1 0h0m0 2h0m0 2h0m0-9h0m-1-3h0m0 1h0m0 2h0m-1 2h0m0-2h0m-1 3h0m0 3h0m-1-14h0m0 9h0m0 2h0m0 5h0m0-10h0m-1 7h0m0 3h0m-1 1h0m0-9h0m0 2h0m0 1h0m-1-3h0m0 4h0m0-9h0m0 12h0m0 2h0m0-10h0m-1 1h0m0-7h0m-1 7h0m0 9h0m-1-6h0m0-8h0m-2 6h0m0-9h0m0 17h0m-1-5h0m-1 5h0m0-1h0m-1-16h0m0 13h0m0 4h0m0-1h0m-1-2h0m0-1h0m0 3h0m-1-4h0m0-4h0m-1 9h0m-1-8h0m0 8h0m0-1h0m0-10h0m-3-5h0m0 1h0m-1 11h0m0 2h0m-1-1h0m-1 3h0m0-7h0m-3 1h0m-1 0h0m-2 0h0m-1-2h0m0 2h0m-9-1h0m-13 5h0m-88 16h0m94-2h0m4 4h0m1-11h0m2 9h0m1 0h0m0-5h0m1-2h0m0 11h0m3-14h0m1 3h0m0-1h0m0 5h0m0 3h0m1-9h0m0 13h0m0-7h0m1 3h0m0 3h0m1-11h0m0 12h0m0-10h0m1 10h0m0-10h0m0 1h0m0 2h0m0 4h0m1 2h0m1-6h0m0 2h0m0 2h0m0-10h0m1 9h0m0-5h0m1 0h0m0-1h0m0 3h0m0 5h0m1 2h0m1-8h0m0-8h0m0 12h0m0-9h0m0 2h0m0 9h0m0-10h0m0 2h0m1 6h0m0-5h0m0 3h0m1-1h0m0-10h0m0 5h0m0 12h0m0-10h0m1 2h0m0-6h0m0 13h0m0-10h0m0 11h0m1-1h0m0-10h0m0 1h0m0-7h0m1 13h0m0-1h0m0 5h0m0-8h0m1 7h0m0-10h0m0 9h0m0-7h0m0 9h0m0-10h0m1 8h0m0-1h0m0-10h0m0 4h0m0 9h0m0-8h0m0-8h0m0-1h0m0 13h0m1-1h0m0-11h0m0 3h0m0 9h0m0-10h0m1 2h0m0 5h0m0-1h0m0 2h0m0-10h0m0 2h0m0 12h0m1-1h0m0 2h0m0-10h0m0-1h0m0 2h0m0 2h0m0-8h0m0 12h0m1-5h0m0 9h0m0-7h0m0 2h0m0 2h0m0-10h0m0 12h0m1 1h0m0-6h0m1-3h0m0 3h0m0-9h0m0 14h0m0-10h0m0 9h0m0-10h0m1 12h0m0-6h0m0-10h0m0 2h0m0-1h0m1 8h0m0 3h0m0 1h0m0-8h0m0-1h0m0 12h0m0-10h0m0 2h0m1 4h0m0-9h0m0 12h0m0-10h0m0-1h0m0 3h0m0 1h0m1 0h0m0 2h0m0-10h0m0-1h0m0 13h0m0 1h0m0-9h0m0 2h0m1 4h0m0 3h0m0-8h0m1 5h0m0-10h0m0 12h0m0 2h0m0-1h0m0-10h0m0 2h0m0-1h0m0 12h0m0-7h0m0-1h0m1-5h0m0 11h0m0-6h0m0 2h0m0-11h0m1 3h0m0 13h0m0-11h0m0 3h0m0 3h0m1-7h0m0 12h0m0-10h0m0-1h0m0 3h0m0-6h0m0 12h0m1 1h0m0-1h0m0 2h0m0-9h0m0 4h0m0-1h0m1 4h0m0-8h0m0 11h0m0-16h0m0-1h0m0 3h0m1 14h0m0-9h0m0 4h0m0 2h0m0-10h0m1 11h0m0-8h0m0 2h0m0 2h0m0-8h0m0 9h0m1-2h0m0-10h0m0 13h0m0-11h0m0 13h0m0-7h0m1 3h0m0 1h0m0 3h0m0 1h0m1-10h0m0 11h0m0-8h0m0 3h0m0 3h0m0-11h0m1 7h0m0 1h0m0-10h0m0 13h0m0 2h0m0-1h0m1-16h0m0 13h0m1-9h0m0-1h0m0 3h0m0 1h0m1 4h0m0-9h0m0 1h0m0 13h0m0-10h0m0 11h0m1-16h0m0 13h0m0 2h0m0-10h0m0 5h0m0-1h0m1-9h0m1 8h0m0-9h0m0 2h0m0 12h0m0-4h0m1-8h0m0 5h0m0-6h0m0 9h0m0 3h0m1-11h0m0 4h0m0 5h0m0-1h0m1 2h0m1 3h0m0 1h0m0-11h0m1 4h0m0-8h0m0 2h0m1 12h0m0-7h0m0 3h0m0-1h0m0 2h0m0-8h0m1 8h0m0-12h0m1 9h0m0 5h0m1-9h0m0-3h0m1 9h0m2-11h0m0 5h0m0-1h0m3-1h0m0 7h0m0-1h0m3 0h0m1-5h0m1 8h0m15-6h0m60-5h0m-76 18h0m-6 15h0m-1-9h0m-1-5h0m-1 1h0m-1 1h0m-1 9h0m-1-10h0m-1 8h0m0-6h0m0 3h0m-1 2h0m-1-4h0m0 3h0m0-5h0m-1 0h0m0-1h0m-1 4h0m0-3h0m-1-4h0m0 4h0m-1 5h0m0-9h0m-1 1h0m0 3h0m-1 4h0m0 2h0m0 4h0m0-1h0m-1 0h0m0 2h0m0-7h0m0-8h0m-1 15h0m0-9h0m0 2h0m0 2h0m0 2h0m0-11h0m-1 13h0m0-1h0m0 2h0m0 2h0m0-10h0m-1-5h0m0 8h0m-1 1h0m0-10h0m0 15h0m0-10h0m-1-6h0m0 2h0m0 9h0m0-10h0m0 13h0m0-11h0m0 5h0m-1 6h0m0-1h0m0-9h0m0 5h0m-1 3h0m0-8h0m0 2h0m0 11h0m-1-3h0m0 1h0m0-10h0m0 1h0m-1 0h0m0-4h0m0 12h0m0-9h0m-1 4h0m0-1h0m0 2h0m0-10h0m0 2h0m0-1h0m0 13h0m0-9h0m0 12h0m-1-9h0m0 2h0m0-8h0m0 9h0m0 3h0m0 1h0m0-8h0m0-1h0m-1-2h0m0 3h0m0-1h0m0 2h0m0-8h0m0 12h0m-1-6h0m0 2h0m0 2h0m0-10h0m0 9h0m0-8h0m0 3h0m0 13h0m0-10h0m-1 6h0m0 3h0m0-11h0m0 12h0m0-11h0m0 4h0m0-10h0m0 14h0m-1-11h0m0 13h0m0-1h0m0 2h0m0-11h0m0 4h0m0-10h0m0 2h0m0-1h0m0 13h0m0-10h0m0 9h0m-1-2h0m0-10h0m0 12h0m0 3h0m0-1h0m0-10h0m0-1h0m0 3h0m0 1h0m0 2h0m0-8h0m-1 3h0m0 3h0m0 3h0m0 3h0m-1 1h0m0-11h0m0 13h0m0-10h0m0 1h0m0 4h0m0-11h0m0 13h0m0-1h0m-1-12h0m0 13h0m0-1h0m0 2h0m0-10h0m0 1h0m0 3h0m0-1h0m0 3h0m-1-8h0m0-1h0m0 3h0m0-1h0m0 13h0m0-10h0m0 9h0m0-8h0m0-8h0m0 9h0m0 3h0m0-1h0m-1-11h0m0 11h0m0-10h0m0 13h0m0-11h0m0 13h0m0-12h0m0 13h0m0-11h0m-1 6h0m0-10h0m0 9h0m0-10h0m0 12h0m0-10h0m0 2h0m0 12h0m0-11h0m0 4h0m-1-1h0m0-1h0m0-8h0m0 12h0m0-10h0m0-1h0m0 12h0m0 3h0m0-11h0m-1 3h0m0 2h0m0-8h0m0-1h0m0 13h0m0-10h0m0 9h0m0 3h0m0-1h0m0-10h0m0 2h0m-1 5h0m0 2h0m0-12h0m0 13h0m0-10h0m0 12h0m0-10h0m0-1h0m0-6h0m-1 9h0m0-9h0m0 12h0m0-10h0m0 12h0m0-1h0m0-10h0m0 13h0m0-11h0m0-1h0m0 13h0m-1-9h0m0-6h0m0-1h0m0 13h0m0-11h0m0 1h0m0 3h0m0 9h0m-1-3h0m0 3h0m0-11h0m0 12h0m0-10h0m0 2h0m0 2h0m0 1h0m0-11h0m0 3h0m-1 12h0m0-10h0m0 4h0m0 1h0m0-10h0m0 13h0m0-1h0m0 4h0m0-10h0m-1 7h0m0 1h0m0-10h0m0 1h0m0 2h0m0 4h0m-1 4h0m0-1h0m0-11h0m0 2h0m0 3h0m0 1h0m0-10h0m0 1h0m0 13h0m-1 1h0m0-11h0m0 13h0m0-10h0m0 2h0m0-9h0m0 12h0m0-10h0m0 9h0m0-8h0m0 13h0m-1-2h0m0-11h0m0 14h0m0-10h0m0 9h0m0-8h0m0 4h0m-1-10h0m0 3h0m0 12h0m0-10h0m0-1h0m0 6h0m0-11h0m-1-1h0m0 11h0m0 3h0m0-10h0m0 11h0m0-10h0m0 2h0m0 2h0m0-1h0m-1 3h0m0-10h0m0 12h0m0-10h0m0 12h0m0-8h0m0-1h0m0 2h0m-1-3h0m0 11h0m0-6h0m0-1h0m0 3h0m-1-12h0m0 13h0m0-8h0m0 3h0m-1 1h0m0 5h0m0-1h0m0-8h0m0 12h0m0-1h0m0-16h0m-1 10h0m0-8h0m0 2h0m0 1h0m-1 5h0m0-8h0m0 13h0m0-1h0m0-10h0m0 13h0m0-11h0m-1 11h0m0-7h0m0-10h0m0 2h0m0-1h0m0 12h0m0-10h0m0 13h0m0-1h0m0-10h0m-1 5h0m0 4h0m0-9h0m-1-5h0m0 15h0m0-9h0m-1 11h0m0-1h0m0-6h0m0 4h0m0-11h0m-1 13h0m0-6h0m0-1h0m0-5h0m-1 9h0m0-2h0m0 3h0m-1-4h0m-1 0h0m0-8h0m-1 15h0m0-10h0m0 1h0m0 2h0m0 2h0m-1 5h0m0-4h0m-1-7h0m0 3h0m-1 3h0m0 2h0m0-6h0m-1 2h0m0-1h0m0 8h0m-1-11h0m0 2h0m-1 5h0m0-9h0m0 13h0m0-17h0m-1 12h0m-1 2h0m0-10h0m0 12h0m-1-15h0m-1 4h0m-1 8h0m-3-9h0m-4 12h0m-1-7h0m-6-2h0m-1 3h0m-6-9h0m-63 1h0m20 32h0m20 1h0m28-4h0m6-2h0m2 1h0m1-4h0m1 9h0m0-12h0m2 4h0m0 2h0m2 1h0m1 3h0m1-12h0m1 13h0m1-5h0m0 3h0m0-10h0m0 13h0m2-16h0m0 2h0m0 1h0m0 12h0m0-10h0m1 0h0m0-1h0m0 7h0m1 5h0m0-10h0m0 6h0m0 2h0m1-11h0m0 9h0m1 3h0m0-7h0m0 2h0m0 4h0m0-11h0m1 0h0m0 13h0m0-11h0m0-6h0m0 15h0m1 2h0m0-8h0m0 2h0m0 2h0m0-1h0m0-9h0m0 12h0m1 2h0m0-6h0m0 5h0m1 1h0m0-6h0m0-9h0m0 13h0m1-6h0m0-9h0m0 14h0m0-10h0m0 4h0m1-3h0m0 3h0m0 2h0m0 1h0m0 2h0m0-9h0m0 12h0m1-5h0m0-10h0m0 1h0m0 13h0m1-15h0m0 12h0m0 3h0m0 1h0m0-8h0m1-6h0m0 13h0m0-11h0m0 12h0m0-11h0m0 4h0m0-8h0m1 2h0m0 12h0m0-1h0m0-5h0m1 0h0m0 4h0m0-10h0m0 9h0m0 5h0m0-10h0m1 8h0m0-10h0m0 3h0m0-1h0m0 3h0m0 3h0m1-2h0m0-11h0m0 13h0m0-10h0m0-1h0m0 2h0m0 13h0m0-9h0m0 2h0m1 4h0m0-10h0m0 2h0m0 5h0m0-8h0m0 9h0m0-10h0m0 13h0m1 0h0m0 1h0m0-11h0m0 3h0m0 9h0m0-8h0m0 3h0m1 5h0m0-10h0m0 4h0m0-10h0m0 9h0m0-10h0m0 13h0m0-1h0m0 2h0m0-10h0m0 12h0m1-2h0m0-10h0m0 12h0m0-10h0m0 1h0m0 3h0m0 1h0m0-10h0m0-1h0m0 13h0m0-10h0m0 12h0m1-13h0m0-1h0m0-1h0m0 13h0m1 4h0m0-8h0m0 1h0m0-10h0m0 13h0m0-10h0m0 9h0m0-10h0m0 12h0m0-10h0m0 2h0m1 2h0m0 9h0m0-10h0m0 3h0m0-1h0m0-9h0m0 3h0m0-1h0m0 14h0m0-10h0m1 1h0m0 3h0m0 1h0m0-10h0m0-1h0m0 3h0m0 9h0m0 3h0m0-1h0m0-10h0m0 13h0m0-1h0m0-11h0m1 3h0m0-1h0m0-6h0m0-1h0m0 3h0m0-1h0m0 12h0m0-10h0m0 13h0m0-11h0m1 0h0m0 1h0m0 3h0m0-1h0m0 3h0m0-1h0m0-9h0m0 13h0m0-11h0m0 12h0m1-5h0m0-10h0m0 9h0m0-10h0m0 13h0m0-1h0m0 2h0m0 2h0m0-10h0m0-1h0m0 12h0m0-10h0m0 2h0m1-1h0m0 2h0m0-9h0m0 2h0m0-1h0m0 13h0m0-11h0m1-3h0m0-1h0m0 4h0m0 13h0m0-11h0m0 4h0m1 1h0m0-10h0m0-1h0m0 12h0m0 2h0m0-10h0m0 13h0m0-12h0m0 2h0m0 3h0m1 4h0m0-11h0m0 13h0m0-11h0m0 3h0m0 1h0m0 1h0m0-10h0m0 13h0m0-1h0m0-10h0m1 9h0m0 2h0m0-10h0m0 1h0m0 13h0m0-1h0m0-10h0m0 4h0m0-1h0m1 0h0m0 3h0m0-11h0m0 12h0m0-10h0m0 12h0m0-1h0m0 3h0m1-9h0m0-7h0m0 12h0m0-1h0m0-10h0m0 13h0m1-13h0m0 15h0m0-9h0m0 1h0m0 4h0m0-10h0m1-2h0m0 9h0m0 3h0m0-1h0m0-10h0m0 13h0m0-1h0m0-10h0m0 2h0m1 9h0m0 1h0m0-9h0m0 2h0m0 2h0m0-11h0m0 2h0m1 15h0m0-10h0m0 2h0m0-8h0m0 12h0m0-10h0m0-1h0m0 12h0m0 2h0m0-8h0m1 0h0m0-1h0m0 2h0m0 4h0m0-10h0m0 1h0m1 1h0m0 3h0m0 1h0m0-9h0m0 2h0m0 15h0m1-6h0m0-10h0m0 2h0m0 12h0m0-11h0m0 2h0m1 4h0m0-7h0m0 12h0m0-10h0m0-1h0m1-1h0m0-1h0m0 4h0m0 11h0m0-8h0m1 0h0m0-8h0m0 2h0m0 9h0m0 3h0m0-1h0m0-10h0m0 3h0m1 5h0m0 3h0m0-5h0m0-1h0m1 2h0m0-11h0m0 3h0m0 2h0m0 3h0m0-1h0m1-7h0m0 5h0m0 9h0m0 3h0m0-10h0m1-3h0m0 1h0m0 4h0m0 2h0m0-11h0m0 3h0m0 9h0m1-1h0m0-6h0m0 5h0m0-10h0m1 4h0m0 3h0m0-7h0m0 3h0m0 12h0m1-3h0m0-10h0m0 3h0m0 12h0m0-11h0m0 4h0m0-1h0m1 4h0m0-8h0m0 9h0m0-8h0m2-1h0m0 2h0m0 2h0m0-8h0m1 2h0m0 1h0m1 0h0m1 10h0m0-7h0m1 0h0m1-7h0m0 1h0m1 3h0m0 6h0m1-4h0m2-4h0m0 4h0m2-4h0m0 4h0m2-2h0m5 9h0m86 22h0m-82-15h0m-7 15h0m-10-5h0m-3-2h0m-2-8h0m-1-2h0m0 2h0m-3 6h0m0-8h0m0 5h0m-2 12h0m-1-11h0m0 4h0m0-10h0m-1 11h0m0-7h0m-1-3h0m-1 12h0m0-7h0m0 2h0m0-7h0m-2 12h0m0-1h0m0 3h0m-1-13h0m-1 2h0m0-1h0m0 6h0m-1-6h0m-1-1h0m-1-1h0m0 12h0m0-1h0m0-10h0m0 5h0m-1-5h0m0-1h0m0 15h0m0-1h0m0-10h0m-1 3h0m0-7h0m0 12h0m0 2h0m-1-7h0m0-4h0m0 12h0m-1-12h0m0 12h0m0-10h0m0 9h0m0-6h0m0 2h0m0-9h0m-1 1h0m0 3h0m0 2h0m0-7h0m0 1h0m0 12h0m-1-6h0m0-7h0m0 3h0m-1 7h0m0-11h0m0 14h0m-1 1h0m0-9h0m0 3h0m0 2h0m0-9h0m-1 2h0m0-1h0m0 5h0m0 1h0m-1-2h0m0-1h0m0 3h0m0-9h0m0 2h0m0 2h0m-1 0h0m0 12h0m0 1h0m-1-17h0m0 2h0m0 2h0m0 4h0m-1 6h0m0-9h0m0 12h0m0-8h0m0 2h0m0-1h0m-1 2h0m0-10h0m0 14h0m0-1h0m0 2h0m0-9h0m-1-6h0m0 9h0m0-10h0m0 15h0m0-11h0m0 12h0m0-9h0m0-8h0m-1 7h0m0 9h0m0-11h0m-1 5h0m0-10h0m0 12h0m0-10h0m0 1h0m-1 11h0m0-10h0m0 3h0m0 9h0m0-8h0m0-8h0m-1 6h0m0 4h0m0-10h0m0 2h0m0-1h0m0 2h0m0 2h0m-1 4h0m0 1h0m0-10h0m0 12h0m0-10h0m0-1h0m0 13h0m0-11h0m-1 14h0m0-8h0m-1-3h0m0 2h0m0 2h0m0-10h0m0 1h0m0 13h0m0-1h0m-1 1h0m0-10h0m0 12h0m0-11h0m0 12h0m0-7h0m0-8h0m0-1h0m-1 2h0m0 3h0m0 3h0m0-7h0m-1 6h0m0-8h0m0 12h0m0-11h0m0 13h0m0-10h0m-1 9h0m0 2h0m0-11h0m0 13h0m0-8h0m0-1h0m0 2h0m-1-10h0m0 14h0m0-1h0m0-10h0m-1-3h0m0 3h0m0 14h0m0-8h0m-1-7h0m0-1h0m0 2h0m0 4h0m-1-2h0m-1 9h0m0 1h0m0-8h0m0 2h0m0-1h0m-1-6h0m0 9h0m0 6h0m0-11h0m0 3h0m-1-9h0m0 13h0m-1-13h0m0 4h0m0 9h0m0-4h0m-1 8h0m0-11h0m0 6h0m0 2h0m0-10h0m-1-4h0m0 5h0m-1 7h0m-1 3h0m0-7h0m0 2h0m0-6h0m0 12h0m-1 1h0m-1-4h0m0-8h0m0-5h0m0 2h0m-1 9h0m0-10h0m0 2h0m-1-2h0m-1 16h0m-1-4h0m-1-12h0m0 7h0m-1-3h0m0 4h0m0 1h0m-1-10h0m0 9h0m-1 3h0m0-2h0m-1-2h0m-3-6h0m0 1h0m-2 11h0m-1-5h0m-1 4h0m-3 0h0m-4-3h0m-7-8h0m-3 1h0m-12 29h0m10-8h0m1 9h0m7-1h0m2-3h0m3 6h0m1-9h0m1-4h0m2 5h0m2 3h0m0-8h0m1 3h0m1-4h0m3 7h0m1 6h0m1-8h0m0 4h0m1-6h0m0 2h0m0 2h0m1 5h0m0-11h0m1-1h0m1 1h0m1 3h0m0-7h0m1 3h0m1 1h0m0-2h0m2 9h0m1 1h0m0-7h0m1-5h0m0 9h0m0 3h0m0 2h0m0-10h0m0 13h0m0-9h0m1 4h0m0 2h0m0 2h0m0-7h0m1 4h0m0 3h0m1-14h0m0 3h0m0 2h0m1 6h0m0-5h0m1 5h0m0-11h0m0 3h0m0 12h0m1-11h0m0-1h0m0 2h0m0-4h0m0-1h0m1 4h0m0 2h0m0-1h0m0 4h0m0 4h0m1-4h0m0-10h0m1 3h0m0 5h0m0 2h0m0-10h0m0 12h0m2-8h0m1-3h0m0 14h0m1-16h0m0 16h0m1-8h0m0-8h0m1 3h0m0 4h0m2-4h0m0 4h0m1-4h0m0 6h0m1-9h0m0 3h0m0 1h0m0 4h0m1-2h0m0-6h0m0 13h0m1-8h0m0-1h0m0 6h0m1 5h0m0-10h0m1 3h0m0 2h0m0-9h0m0 1h0m1 4h0m0-3h0m1 12h0m1-7h0m0-7h0m1 3h0m0 6h0m0-10h0m1 6h0m4-5h0m0 12h0m0-8h0m1 9h0m1-13h0m0 12h0m2-2h0m1-9h0m1 1h0m0-3h0m3 5h0m1-1h0m0 2h0m0-6h0m5 0h0m2 1h0m2 1h0m1-1h0m22 16h0m-11 1h0m-2 2h0m-1 7h0m-7 3h0m-26-4h0m-2 7h0m-1-11h0m-4-3h0m-1 1h0m-2 6h0m-1-2h0m-4-6h0m-2 5h0m-3-2h0m0 14h0m-1-8h0m0-8h0m-1 0h0m-5 0h0m-1 2h0m-1 0h0m-1-2h0m-6 14h0m-3-15h0m-1 11h0m-2-6h0m0 12h0m0-11h0m-4-2h0m-3 12h0m0-16h0m-2 7h0m-3 3h0m-12 1h0m0 2h0m-5 3h0m-29 8h0m18 1h0m29 6h0m8-9h0m2 5h0m4-8h0m5 4h0m4-5h0m24 7h0m1-7h0m2 6h0m-36 21h0m-14-4h0m-13 3h0m-5-4h0m-2-3h0m-1 3h0m-15 10h0m-5-4h0m-75 1h0m61 8h0m19 2h0m17 2h0m10 0h0m152-4h0m-155 20h0m-49 12h0m-30 5h0m-30 45h0m0 109h0" stroke="#BDBDBD" stroke-width="4.65" stroke-linecap="round" fill="none"/>
<path transform="scale(0.250000)" d="M1223 3167h0m-11-18h0m-6 5h0m-13 7h0m38 15h0m-16 26h0m-8-1h0m-1 14h0m-6-2h0m0-10h0m-3-4h0m-4 1h0m-4 11h0m-3-12h0m0 14h0m-1-9h0m-2 5h0m-1-4h0m-4 6h0m-16 24h0m0-4h0m7 7h0m0-4h0m1-13h0m1 3h0m1-5h0m1 3h0m4-4h0m2 18h0m3 1h0m4-15h0m2 4h0m1-4h0m1 9h0m3-3h0m3 0h0m0-1h0m3 7h0m4-6h0m3 0h0m-8 13h0m-7 12h0m-4 4h0m-7-8h0m-1-1h0m-4 4h0m-3 5h0m-2-1h0m-31 15h0m13 12h0m24-7h0" stroke="#F8766D" stroke-width="9.20" stroke-linecap="round" fill="none"/>
<path transform="scale(0.250000)" d="M1192 3164h0m-4 2h0m-4-4h0m-16 28h0m22-16h0m1-3h0m-24 21h0m-3 6h0m-2 4h0m50 20h0m2-4h0m2-2h0m-29 32h0m-2 2h0m-12 30h0" stroke="#A3A500" stroke-width="9.20" stroke-linecap="round" fill="none"/>
<path transform="scale(0.250000)" d="M1185 3139h0m3 5h0m-3 4h0m-2 10h0m-1-4h0m-35 46h0" stroke="#00BF7D" stroke-width="9.20" stroke-linecap="round" fill="none"/>
<path transform="scale(0.250000)" d="M1179 3136h0m5-2h0m7-4h0" stroke="#00B0F6" stroke-width="9.20" stroke-linecap="round" fill="none"/>
<path transform="scale(0.250000)" d="M1140 3174h0m82 120h0" stroke="#E76BF3" stroke-width="9.20" stroke-linecap="round" fill="none"/>
<text x="286.50" y="795.00" font-size="4.6" fill="#333" >SIRT1</text>
<text x="307.00" y="825.00" font-size="4.6" fill="#333" >COPS5</text>
<line x1="230.90" y1="758.60" x2="230.90" y2="909.70" stroke="#7f7f7f" stroke-width="0.6" />
<line x1="230.90" y1="909.70" x2="341.00" y2="909.70" stroke="#7f7f7f" stroke-width="0.6" />
<line x1="228.90" y1="760.30" x2="230.90" y2="760.30" stroke="#7f7f7f" stroke-width="0.5" />
<text x="228.30" y="762.50" font-size="6.3" fill="#4d4d4d" text-anchor="end" >1</text>
<line x1="228.90" y1="804.60" x2="230.90" y2="804.60" stroke="#7f7f7f" stroke-width="0.5" />
<text x="228.30" y="806.80" font-size="6.3" fill="#4d4d4d" text-anchor="end" >0</text>
<line x1="228.90" y1="848.60" x2="230.90" y2="848.60" stroke="#7f7f7f" stroke-width="0.5" />
<text x="228.30" y="850.80" font-size="6.3" fill="#4d4d4d" text-anchor="end" >-1</text>
<line x1="228.90" y1="892.90" x2="230.90" y2="892.90" stroke="#7f7f7f" stroke-width="0.5" />
<text x="228.30" y="895.10" font-size="6.3" fill="#4d4d4d" text-anchor="end" >-2</text>
<line x1="232.90" y1="909.70" x2="232.90" y2="911.70" stroke="#7f7f7f" stroke-width="0.5" />
<text x="232.90" y="917.90" font-size="6.3" fill="#4d4d4d" text-anchor="middle" >-1.5</text>
<line x1="253.70" y1="909.70" x2="253.70" y2="911.70" stroke="#7f7f7f" stroke-width="0.5" />
<text x="253.70" y="917.90" font-size="6.3" fill="#4d4d4d" text-anchor="middle" >-1.0</text>
<line x1="275.60" y1="909.70" x2="275.60" y2="911.70" stroke="#7f7f7f" stroke-width="0.5" />
<text x="275.60" y="917.90" font-size="6.3" fill="#4d4d4d" text-anchor="middle" >-0.5</text>
<line x1="296.40" y1="909.70" x2="296.40" y2="911.70" stroke="#7f7f7f" stroke-width="0.5" />
<text x="296.40" y="917.90" font-size="6.3" fill="#4d4d4d" text-anchor="middle" >0.0</text>
<line x1="317.50" y1="909.70" x2="317.50" y2="911.70" stroke="#7f7f7f" stroke-width="0.5" />
<text x="317.50" y="917.90" font-size="6.3" fill="#4d4d4d" text-anchor="middle" >0.5</text>
<line x1="337.70" y1="909.70" x2="337.70" y2="911.70" stroke="#7f7f7f" stroke-width="0.5" />
<text x="337.70" y="917.90" font-size="6.3" fill="#4d4d4d" text-anchor="middle" >1.0</text>
<text x="282.30" y="925.60" font-size="7.0" fill="#222" text-anchor="middle" >FULV+E2 - E2</text>
<text x="222.00" y="835.00" font-size="7.0" fill="#222" text-anchor="middle" transform="rotate(-90 222.00 835.00)" >EL+E2 - E2</text>
<text x="274.1" y="737.8" font-size="9.6" font-weight="bold"><tspan textLength="48.1" lengthAdjust="spacingAndGlyphs">MCF7-LTED</tspan><tspan font-size="6.2" dy="-3.4" textLength="19.6" lengthAdjust="spacingAndGlyphs">Y537C</tspan></text>
<text x="230.20" y="755.20" font-size="7.05" fill="#111" textLength="61.1" lengthAdjust="spacingAndGlyphs" >p &lt; 0.001; r =0.596</text>
<text x="323.20" y="857.40" font-size="7.0" fill="#222" textLength="55.2" lengthAdjust="spacingAndGlyphs" >EL vs FULV (N=3675)</text>
<circle cx="324.00" cy="865.40" r="1.5" fill="#F8766D"/>
<text x="331.00" y="867.80" font-size="7.0" fill="#222" textLength="55.5" lengthAdjust="spacingAndGlyphs" >p&#8804;0.05; Diff&lt;0.2 = 51</text>
<circle cx="324.00" cy="874.60" r="1.5" fill="#A3A500"/>
<text x="331.00" y="877.00" font-size="7.0" fill="#222" textLength="84.7" lengthAdjust="spacingAndGlyphs" >p&#8804;0.05; 0.2&#8805;Diff&lt;0.3 (log2) = 15</text>
<circle cx="324.00" cy="883.80" r="1.5" fill="#00BF7D"/>
<text x="331.00" y="886.20" font-size="7.0" fill="#222" textLength="82" lengthAdjust="spacingAndGlyphs" >p&#8804;0.05; 0.3&#8805;Diff&lt;0.4 (log2) = 6</text>
<circle cx="324.00" cy="893.00" r="1.5" fill="#00B0F6"/>
<text x="331.00" y="895.40" font-size="7.0" fill="#222" textLength="80" lengthAdjust="spacingAndGlyphs" >p&#8804;0.05; 0.4&#8805;Diff&lt;0.5 (log2) = 3</text>
<circle cx="324.00" cy="902.20" r="1.5" fill="#E76BF3"/>
<text x="331.00" y="904.60" font-size="7.0" fill="#222" textLength="79" lengthAdjust="spacingAndGlyphs" >p&#8804;0.05; Diff&#8805;0.5 (log2) = 2</text>
<defs><linearGradient id="ck" x1="0" x2="1" y1="0" y2="0"><stop offset="0" stop-color="#0000FF"/><stop offset="0.5" stop-color="#FFFFFF"/><stop offset="1" stop-color="#FF0000"/></linearGradient></defs>
<rect x="403.2" y="499.2" width="53.5" height="23.5" fill="url(#ck)" stroke="#333" stroke-width="0.3"/>
<line x1="406.60" y1="522.70" x2="406.60" y2="525.60" stroke="#333" stroke-width="0.4" />
<line x1="414.20" y1="522.70" x2="414.20" y2="525.60" stroke="#333" stroke-width="0.4" />
<line x1="422.30" y1="522.70" x2="422.30" y2="525.60" stroke="#333" stroke-width="0.4" />
<line x1="430.50" y1="522.70" x2="430.50" y2="525.60" stroke="#333" stroke-width="0.4" />
<line x1="438.10" y1="522.70" x2="438.10" y2="525.60" stroke="#333" stroke-width="0.4" />
<line x1="445.80" y1="522.70" x2="445.80" y2="525.60" stroke="#333" stroke-width="0.4" />
<line x1="453.60" y1="522.70" x2="453.60" y2="525.60" stroke="#333" stroke-width="0.4" />
<line x1="406.60" y1="522.70" x2="453.60" y2="522.70" stroke="#333" stroke-width="0.3" />
<text x="406.60" y="533.20" font-size="5.2" fill="#222" text-anchor="middle" >-1.5</text>
<text x="422.30" y="533.20" font-size="5.2" fill="#222" text-anchor="middle" >-0.5</text>
<text x="438.10" y="533.20" font-size="5.2" fill="#222" text-anchor="middle" >0.5</text>
<text x="453.60" y="533.20" font-size="5.2" fill="#222" text-anchor="middle" >1.5</text>
<text x="430.00" y="496.60" font-size="6.6" fill="#222" font-weight="bold" text-anchor="middle" textLength="27.6" lengthAdjust="spacingAndGlyphs" >Color Key</text>
<rect x="502.0" y="496.80" width="23.65" height="5.597" fill="#B0B0FF"/>
<rect x="525.6" y="496.80" width="23.45" height="5.597" fill="#B0B0FF"/>
<rect x="555.0" y="496.80" width="23.25" height="5.597" fill="#FF1010"/>
<rect x="578.2" y="496.80" width="22.85" height="5.597" fill="#FFB0B0"/>
<rect x="607.3" y="496.80" width="22.75" height="5.597" fill="#AAAAFF"/>
<rect x="630.0" y="496.80" width="23.75" height="5.597" fill="#AAAAFF"/>
<text x="657.30" y="501.32" font-size="5.0" fill="#333" >STAT5B</text>
<rect x="502.0" y="502.35" width="23.65" height="5.597" fill="#E0E0FF"/>
<rect x="525.6" y="502.35" width="23.45" height="5.597" fill="#E6E6FF"/>
<rect x="555.0" y="502.35" width="23.25" height="5.597" fill="#FF5050"/>
<rect x="578.2" y="502.35" width="22.85" height="5.597" fill="#FF8080"/>
<rect x="607.3" y="502.35" width="22.75" height="5.597" fill="#4040FF"/>
<rect x="630.0" y="502.35" width="23.75" height="5.597" fill="#9090FF"/>
<text x="657.30" y="506.87" font-size="5.0" fill="#333" >MED4</text>
<rect x="502.0" y="507.89" width="23.65" height="5.597" fill="#D0D0FF"/>
<rect x="525.6" y="507.89" width="23.45" height="5.597" fill="#7070FF"/>
<rect x="555.0" y="507.89" width="23.25" height="5.597" fill="#FF9090"/>
<rect x="578.2" y="507.89" width="22.85" height="5.597" fill="#FF5050"/>
<rect x="607.3" y="507.89" width="22.75" height="5.597" fill="#FFC0C0"/>
<rect x="630.0" y="507.89" width="23.75" height="5.597" fill="#5050FF"/>
<text x="657.30" y="512.42" font-size="5.0" fill="#333" >TRIP6</text>
<rect x="502.0" y="513.44" width="23.65" height="5.597" fill="#E0E0FF"/>
<rect x="525.6" y="513.44" width="23.45" height="5.597" fill="#9090FF"/>
<rect x="555.0" y="513.44" width="23.25" height="5.597" fill="#FF9898"/>
<rect x="578.2" y="513.44" width="22.85" height="5.597" fill="#FF3030"/>
<rect x="607.3" y="513.44" width="22.75" height="5.597" fill="#D0D0FF"/>
<rect x="630.0" y="513.44" width="23.75" height="5.597" fill="#5858FF"/>
<text x="657.30" y="517.96" font-size="5.0" fill="#333" >CTNNB1</text>
<rect x="502.0" y="518.99" width="23.65" height="5.597" fill="#EEEEFF"/>
<rect x="525.6" y="518.99" width="23.45" height="5.597" fill="#1515FF"/>
<rect x="555.0" y="518.99" width="23.25" height="5.597" fill="#FF6060"/>
<rect x="578.2" y="518.99" width="22.85" height="5.597" fill="#FFA0A0"/>
<rect x="607.3" y="518.99" width="22.75" height="5.597" fill="#FFFFFF"/>
<rect x="630.0" y="518.99" width="23.75" height="5.597" fill="#C8C8FF"/>
<text x="657.30" y="523.51" font-size="5.0" fill="#333" >PSMC5</text>
<rect x="502.0" y="524.53" width="23.65" height="5.597" fill="#FFFFFF"/>
<rect x="525.6" y="524.53" width="23.45" height="5.597" fill="#0000FF"/>
<rect x="555.0" y="524.53" width="23.25" height="5.597" fill="#FFA0A0"/>
<rect x="578.2" y="524.53" width="22.85" height="5.597" fill="#FFB0B0"/>
<rect x="607.3" y="524.53" width="22.75" height="5.597" fill="#FFC8C8"/>
<rect x="630.0" y="524.53" width="23.75" height="5.597" fill="#E0E0FF"/>
<text x="657.30" y="529.06" font-size="5.0" fill="#333" >CNOT1</text>
<rect x="502.0" y="530.08" width="23.65" height="5.597" fill="#FFA0A0"/>
<rect x="525.6" y="530.08" width="23.45" height="5.597" fill="#3030FF"/>
<rect x="555.0" y="530.08" width="23.25" height="5.597" fill="#FF9898"/>
<rect x="578.2" y="530.08" width="22.85" height="5.597" fill="#FFA8A8"/>
<rect x="607.3" y="530.08" width="22.75" height="5.597" fill="#FFE8E8"/>
<rect x="630.0" y="530.08" width="23.75" height="5.597" fill="#6868FF"/>
<text x="657.30" y="534.61" font-size="5.0" fill="#333" >NSD1</text>
<rect x="502.0" y="535.63" width="23.65" height="5.597" fill="#FFE0E0"/>
<rect x="525.6" y="535.63" width="23.45" height="5.597" fill="#0000FF"/>
<rect x="555.0" y="535.63" width="23.25" height="5.597" fill="#FFE8E8"/>
<rect x="578.2" y="535.63" width="22.85" height="5.597" fill="#FF9898"/>
<rect x="607.3" y="535.63" width="22.75" height="5.597" fill="#FFFFFF"/>
<rect x="630.0" y="535.63" width="23.75" height="5.597" fill="#FFB8B8"/>
<text x="657.30" y="540.15" font-size="5.0" fill="#333" >PCNA</text>
<rect x="502.0" y="541.18" width="23.65" height="5.597" fill="#8080FF"/>
<rect x="525.6" y="541.18" width="23.45" height="5.597" fill="#2828FF"/>
<rect x="555.0" y="541.18" width="23.25" height="5.597" fill="#FFA0A0"/>
<rect x="578.2" y="541.18" width="22.85" height="5.597" fill="#E0E0FF"/>
<rect x="607.3" y="541.18" width="22.75" height="5.597" fill="#FFB8B8"/>
<rect x="630.0" y="541.18" width="23.75" height="5.597" fill="#FF7070"/>
<text x="657.30" y="545.70" font-size="5.0" fill="#333" >NCOA3</text>
<rect x="502.0" y="546.72" width="23.65" height="5.597" fill="#9090FF"/>
<rect x="525.6" y="546.72" width="23.45" height="5.597" fill="#2828FF"/>
<rect x="555.0" y="546.72" width="23.25" height="5.597" fill="#FFA0A0"/>
<rect x="578.2" y="546.72" width="22.85" height="5.597" fill="#E8E8FF"/>
<rect x="607.3" y="546.72" width="22.75" height="5.597" fill="#FFB8B8"/>
<rect x="630.0" y="546.72" width="23.75" height="5.597" fill="#FF7070"/>
<text x="657.30" y="551.25" font-size="5.0" fill="#333" >EP300</text>
<rect x="502.0" y="552.27" width="23.65" height="5.597" fill="#A8A8FF"/>
<rect x="525.6" y="552.27" width="23.45" height="5.597" fill="#2020FF"/>
<rect x="555.0" y="552.27" width="23.25" height="5.597" fill="#FFD0D0"/>
<rect x="578.2" y="552.27" width="22.85" height="5.597" fill="#FFF0F0"/>
<rect x="607.3" y="552.27" width="22.75" height="5.597" fill="#FFA8A8"/>
<rect x="630.0" y="552.27" width="23.75" height="5.597" fill="#FF6868"/>
<text x="657.30" y="556.79" font-size="5.0" fill="#333" >MED17</text>
<rect x="502.0" y="557.82" width="23.65" height="5.597" fill="#6060FF"/>
<rect x="525.6" y="557.82" width="23.45" height="5.597" fill="#6060FF"/>
<rect x="555.0" y="557.82" width="23.25" height="5.597" fill="#FF9090"/>
<rect x="578.2" y="557.82" width="22.85" height="5.597" fill="#B0B0FF"/>
<rect x="607.3" y="557.82" width="22.75" height="5.597" fill="#FFA8A8"/>
<rect x="630.0" y="557.82" width="23.75" height="5.597" fill="#FF6060"/>
<text x="657.30" y="562.34" font-size="5.0" fill="#333" >NCOA2</text>
<rect x="502.0" y="563.36" width="23.65" height="5.597" fill="#6060FF"/>
<rect x="525.6" y="563.36" width="23.45" height="5.597" fill="#6060FF"/>
<rect x="555.0" y="563.36" width="23.25" height="5.597" fill="#FF8080"/>
<rect x="578.2" y="563.36" width="22.85" height="5.597" fill="#D0D0FF"/>
<rect x="607.3" y="563.36" width="22.75" height="5.597" fill="#FF9898"/>
<rect x="630.0" y="563.36" width="23.75" height="5.597" fill="#FF9090"/>
<text x="657.30" y="567.89" font-size="5.0" fill="#333" >HMGN3</text>
<rect x="502.0" y="568.91" width="23.65" height="5.597" fill="#6868FF"/>
<rect x="525.6" y="568.91" width="23.45" height="5.597" fill="#6060FF"/>
<rect x="555.0" y="568.91" width="23.25" height="5.597" fill="#FFB0B0"/>
<rect x="578.2" y="568.91" width="22.85" height="5.597" fill="#FFA0A0"/>
<rect x="607.3" y="568.91" width="22.75" height="5.597" fill="#DDDDFF"/>
<rect x="630.0" y="568.91" width="23.75" height="5.597" fill="#FF6060"/>
<text x="657.30" y="573.43" font-size="5.0" fill="#333" >FOXP1</text>
<rect x="502.0" y="574.46" width="23.65" height="5.597" fill="#8888FF"/>
<rect x="525.6" y="574.46" width="23.45" height="5.597" fill="#1818FF"/>
<rect x="555.0" y="574.46" width="23.25" height="5.597" fill="#FFA0A0"/>
<rect x="578.2" y="574.46" width="22.85" height="5.597" fill="#FF9090"/>
<rect x="607.3" y="574.46" width="22.75" height="5.597" fill="#FFF0F0"/>
<rect x="630.0" y="574.46" width="23.75" height="5.597" fill="#FFA8A8"/>
<text x="657.30" y="578.98" font-size="5.0" fill="#333" >DNMT1</text>
<rect x="502.0" y="580.00" width="23.65" height="5.597" fill="#8080FF"/>
<rect x="525.6" y="580.00" width="23.45" height="5.597" fill="#FF7878"/>
<rect x="555.0" y="580.00" width="23.25" height="5.597" fill="#7070FF"/>
<rect x="578.2" y="580.00" width="22.85" height="5.597" fill="#FF7070"/>
<rect x="607.3" y="580.00" width="22.75" height="5.597" fill="#7878FF"/>
<rect x="630.0" y="580.00" width="23.75" height="5.597" fill="#FFB0B0"/>
<text x="657.30" y="584.53" font-size="5.0" fill="#333" >FUS</text>
<rect x="502.0" y="585.55" width="23.65" height="5.597" fill="#9090FF"/>
<rect x="525.6" y="585.55" width="23.45" height="5.597" fill="#FF6060"/>
<rect x="555.0" y="585.55" width="23.25" height="5.597" fill="#7878FF"/>
<rect x="578.2" y="585.55" width="22.85" height="5.597" fill="#FF8080"/>
<rect x="607.3" y="585.55" width="22.75" height="5.597" fill="#8080FF"/>
<rect x="630.0" y="585.55" width="23.75" height="5.597" fill="#FFB0B0"/>
<text x="657.30" y="590.08" font-size="5.0" fill="#333" >DDX17</text>
<rect x="502.0" y="591.10" width="23.65" height="5.597" fill="#5858FF"/>
<rect x="525.6" y="591.10" width="23.45" height="5.597" fill="#FFA0A0"/>
<rect x="555.0" y="591.10" width="23.25" height="5.597" fill="#8888FF"/>
<rect x="578.2" y="591.10" width="22.85" height="5.597" fill="#FF6060"/>
<rect x="607.3" y="591.10" width="22.75" height="5.597" fill="#9898FF"/>
<rect x="630.0" y="591.10" width="23.75" height="5.597" fill="#FFA8A8"/>
<text x="657.30" y="595.62" font-size="5.0" fill="#333" >DDX5</text>
<rect x="502.0" y="596.65" width="23.65" height="5.597" fill="#5050FF"/>
<rect x="525.6" y="596.65" width="23.45" height="5.597" fill="#FF9090"/>
<rect x="555.0" y="596.65" width="23.25" height="5.597" fill="#9090FF"/>
<rect x="578.2" y="596.65" width="22.85" height="5.597" fill="#FF4040"/>
<rect x="607.3" y="596.65" width="22.75" height="5.597" fill="#D0D0FF"/>
<rect x="630.0" y="596.65" width="23.75" height="5.597" fill="#E8E8FF"/>
<text x="657.30" y="601.17" font-size="5.0" fill="#333" >THRAP3</text>
<rect x="502.0" y="602.19" width="23.65" height="5.597" fill="#4848FF"/>
<rect x="525.6" y="602.19" width="23.45" height="5.597" fill="#FFA0A0"/>
<rect x="555.0" y="602.19" width="23.25" height="5.597" fill="#9090FF"/>
<rect x="578.2" y="602.19" width="22.85" height="5.597" fill="#FF9090"/>
<rect x="607.3" y="602.19" width="22.75" height="5.597" fill="#A8A8FF"/>
<rect x="630.0" y="602.19" width="23.75" height="5.597" fill="#FF8080"/>
<text x="657.30" y="606.72" font-size="5.0" fill="#333" >SIRT1</text>
<rect x="502.0" y="607.74" width="23.65" height="5.597" fill="#3838FF"/>
<rect x="525.6" y="607.74" width="23.45" height="5.597" fill="#FFC0C0"/>
<rect x="555.0" y="607.74" width="23.25" height="5.597" fill="#9090FF"/>
<rect x="578.2" y="607.74" width="22.85" height="5.597" fill="#FF9090"/>
<rect x="607.3" y="607.74" width="22.75" height="5.597" fill="#D0D0FF"/>
<rect x="630.0" y="607.74" width="23.75" height="5.597" fill="#FF7070"/>
<text x="657.30" y="612.26" font-size="5.0" fill="#333" >BUD31</text>
<rect x="502.0" y="613.29" width="23.65" height="5.597" fill="#5858FF"/>
<rect x="525.6" y="613.29" width="23.45" height="5.597" fill="#FFB8B8"/>
<rect x="555.0" y="613.29" width="23.25" height="5.597" fill="#6060FF"/>
<rect x="578.2" y="613.29" width="22.85" height="5.597" fill="#FF8080"/>
<rect x="607.3" y="613.29" width="22.75" height="5.597" fill="#DDDDFF"/>
<rect x="630.0" y="613.29" width="23.75" height="5.597" fill="#FF6868"/>
<text x="657.30" y="617.81" font-size="5.0" fill="#333" >SNW1</text>
<rect x="502.0" y="618.83" width="23.65" height="5.597" fill="#2828FF"/>
<rect x="525.6" y="618.83" width="23.45" height="5.597" fill="#FFFFFF"/>
<rect x="555.0" y="618.83" width="23.25" height="5.597" fill="#C8C8FF"/>
<rect x="578.2" y="618.83" width="22.85" height="5.597" fill="#FF6060"/>
<rect x="607.3" y="618.83" width="22.75" height="5.597" fill="#C8C8FF"/>
<rect x="630.0" y="618.83" width="23.75" height="5.597" fill="#FF7070"/>
<text x="657.30" y="623.36" font-size="5.0" fill="#333" >NCOR1</text>
<rect x="502.0" y="624.38" width="23.65" height="5.597" fill="#5858FF"/>
<rect x="525.6" y="624.38" width="23.45" height="5.597" fill="#B0B0FF"/>
<rect x="555.0" y="624.38" width="23.25" height="5.597" fill="#A0A0FF"/>
<rect x="578.2" y="624.38" width="22.85" height="5.597" fill="#FF6060"/>
<rect x="607.3" y="624.38" width="22.75" height="5.597" fill="#FFFFFF"/>
<rect x="630.0" y="624.38" width="23.75" height="5.597" fill="#FF6868"/>
<text x="657.30" y="628.90" font-size="5.0" fill="#333" >SMARCA4</text>
<rect x="502.0" y="629.93" width="23.65" height="5.597" fill="#7070FF"/>
<rect x="525.6" y="629.93" width="23.45" height="5.597" fill="#C8C8FF"/>
<rect x="555.0" y="629.93" width="23.25" height="5.597" fill="#7878FF"/>
<rect x="578.2" y="629.93" width="22.85" height="5.597" fill="#FF2828"/>
<rect x="607.3" y="629.93" width="22.75" height="5.597" fill="#FFE8E8"/>
<rect x="630.0" y="629.93" width="23.75" height="5.597" fill="#FFA8A8"/>
<text x="657.30" y="634.45" font-size="5.0" fill="#333" >JMJD1C</text>
<rect x="502.0" y="635.48" width="23.65" height="5.597" fill="#8080FF"/>
<rect x="525.6" y="635.48" width="23.45" height="5.597" fill="#A0A0FF"/>
<rect x="555.0" y="635.48" width="23.25" height="5.597" fill="#A8A8FF"/>
<rect x="578.2" y="635.48" width="22.85" height="5.597" fill="#FF2020"/>
<rect x="607.3" y="635.48" width="22.75" height="5.597" fill="#B0B0FF"/>
<rect x="630.0" y="635.48" width="23.75" height="5.597" fill="#FFA8A8"/>
<text x="657.30" y="640.00" font-size="5.0" fill="#333" >PRPF6</text>
<rect x="502.0" y="641.02" width="23.65" height="5.597" fill="#E8E8FF"/>
<rect x="525.6" y="641.02" width="23.45" height="5.597" fill="#FF9898"/>
<rect x="555.0" y="641.02" width="23.25" height="5.597" fill="#2020FF"/>
<rect x="578.2" y="641.02" width="22.85" height="5.597" fill="#FF4848"/>
<rect x="607.3" y="641.02" width="22.75" height="5.597" fill="#FFFFFF"/>
<rect x="630.0" y="641.02" width="23.75" height="5.597" fill="#D0D0FF"/>
<text x="657.30" y="645.55" font-size="5.0" fill="#333" >PTPN11</text>
<rect x="502.0" y="646.57" width="23.65" height="5.597" fill="#B8B8FF"/>
<rect x="525.6" y="646.57" width="23.45" height="5.597" fill="#D8D8FF"/>
<rect x="555.0" y="646.57" width="23.25" height="5.597" fill="#FF5858"/>
<rect x="578.2" y="646.57" width="22.85" height="5.597" fill="#1818FF"/>
<rect x="607.3" y="646.57" width="22.75" height="5.597" fill="#FFC0C0"/>
<rect x="630.0" y="646.57" width="23.75" height="5.597" fill="#FFC0C0"/>
<text x="657.30" y="651.09" font-size="5.0" fill="#333" >YWHAH</text>
<rect x="502.0" y="652.12" width="23.65" height="5.597" fill="#E8E8FF"/>
<rect x="525.6" y="652.12" width="23.45" height="5.597" fill="#FF9090"/>
<rect x="555.0" y="652.12" width="23.25" height="5.597" fill="#FF7070"/>
<rect x="578.2" y="652.12" width="22.85" height="5.597" fill="#1010FF"/>
<rect x="607.3" y="652.12" width="22.75" height="5.597" fill="#FFFFFF"/>
<rect x="630.0" y="652.12" width="23.75" height="5.597" fill="#FFFFFF"/>
<text x="657.30" y="656.64" font-size="5.0" fill="#333" >PPID</text>
<rect x="502.0" y="657.66" width="23.65" height="5.597" fill="#FFD8D8"/>
<rect x="525.6" y="657.66" width="23.45" height="5.597" fill="#FFC0C0"/>
<rect x="555.0" y="657.66" width="23.25" height="5.597" fill="#FFF0F0"/>
<rect x="578.2" y="657.66" width="22.85" height="5.597" fill="#1010FF"/>
<rect x="607.3" y="657.66" width="22.75" height="5.597" fill="#B0B0FF"/>
<rect x="630.0" y="657.66" width="23.75" height="5.597" fill="#FF5858"/>
<text x="657.30" y="662.19" font-size="5.0" fill="#333" >FKBP4</text>
<rect x="502.0" y="663.21" width="23.65" height="5.597" fill="#FFA0A0"/>
<rect x="525.6" y="663.21" width="23.45" height="5.597" fill="#FFA8A8"/>
<rect x="555.0" y="663.21" width="23.25" height="5.597" fill="#A0A0FF"/>
<rect x="578.2" y="663.21" width="22.85" height="5.597" fill="#1818FF"/>
<rect x="607.3" y="663.21" width="22.75" height="5.597" fill="#FFE8E8"/>
<rect x="630.0" y="663.21" width="23.75" height="5.597" fill="#FF9090"/>
<text x="657.30" y="667.73" font-size="5.0" fill="#333" >MED24</text>
<rect x="502.0" y="668.76" width="23.65" height="5.597" fill="#F0F0FF"/>
<rect x="525.6" y="668.76" width="23.45" height="5.597" fill="#FFA8A8"/>
<rect x="555.0" y="668.76" width="23.25" height="5.597" fill="#8888FF"/>
<rect x="578.2" y="668.76" width="22.85" height="5.597" fill="#2828FF"/>
<rect x="607.3" y="668.76" width="22.75" height="5.597" fill="#FF9898"/>
<rect x="630.0" y="668.76" width="23.75" height="5.597" fill="#FF8080"/>
<text x="657.30" y="673.28" font-size="5.0" fill="#333" >FHL2</text>
<rect x="502.0" y="674.30" width="23.65" height="5.597" fill="#FFC0C0"/>
<rect x="525.6" y="674.30" width="23.45" height="5.597" fill="#FFFFFF"/>
<rect x="555.0" y="674.30" width="23.25" height="5.597" fill="#6868FF"/>
<rect x="578.2" y="674.30" width="22.85" height="5.597" fill="#4848FF"/>
<rect x="607.3" y="674.30" width="22.75" height="5.597" fill="#FF9898"/>
<rect x="630.0" y="674.30" width="23.75" height="5.597" fill="#FF7878"/>
<text x="657.30" y="678.83" font-size="5.0" fill="#333" >GNAS</text>
<rect x="502.0" y="679.85" width="23.65" height="5.597" fill="#FFE8E8"/>
<rect x="525.6" y="679.85" width="23.45" height="5.597" fill="#F0F0FF"/>
<rect x="555.0" y="679.85" width="23.25" height="5.597" fill="#A0A0FF"/>
<rect x="578.2" y="679.85" width="22.85" height="5.597" fill="#5050FF"/>
<rect x="607.3" y="679.85" width="22.75" height="5.597" fill="#FFD0D0"/>
<rect x="630.0" y="679.85" width="23.75" height="5.597" fill="#FF2020"/>
<text x="657.30" y="684.37" font-size="5.0" fill="#333" >CEBPB</text>
<rect x="502.0" y="685.40" width="23.65" height="5.597" fill="#FFD0D0"/>
<rect x="525.6" y="685.40" width="23.45" height="5.597" fill="#D8D8FF"/>
<rect x="555.0" y="685.40" width="23.25" height="5.597" fill="#FFFFFF"/>
<rect x="578.2" y="685.40" width="22.85" height="5.597" fill="#0000FF"/>
<rect x="607.3" y="685.40" width="22.75" height="5.597" fill="#FF9898"/>
<rect x="630.0" y="685.40" width="23.75" height="5.597" fill="#FF9090"/>
<text x="657.30" y="689.92" font-size="5.0" fill="#333" >NRIP1</text>
<rect x="502.0" y="690.94" width="23.65" height="5.597" fill="#FFD8D8"/>
<rect x="525.6" y="690.94" width="23.45" height="5.597" fill="#FFFFFF"/>
<rect x="555.0" y="690.94" width="23.25" height="5.597" fill="#E0E0FF"/>
<rect x="578.2" y="690.94" width="22.85" height="5.597" fill="#0808FF"/>
<rect x="607.3" y="690.94" width="22.75" height="5.597" fill="#FFA0A0"/>
<rect x="630.0" y="690.94" width="23.75" height="5.597" fill="#FF9090"/>
<text x="657.30" y="695.47" font-size="5.0" fill="#333" >MED1</text>
<rect x="502.0" y="696.49" width="23.65" height="5.597" fill="#FFFFFF"/>
<rect x="525.6" y="696.49" width="23.45" height="5.597" fill="#FF5858"/>
<rect x="555.0" y="696.49" width="23.25" height="5.597" fill="#4848FF"/>
<rect x="578.2" y="696.49" width="22.85" height="5.597" fill="#8080FF"/>
<rect x="607.3" y="696.49" width="22.75" height="5.597" fill="#FFFFFF"/>
<rect x="630.0" y="696.49" width="23.75" height="5.597" fill="#FF9898"/>
<text x="657.30" y="701.02" font-size="5.0" fill="#333" >KDM1A</text>
<rect x="502.0" y="702.04" width="23.65" height="5.597" fill="#FFD0D0"/>
<rect x="525.6" y="702.04" width="23.45" height="5.597" fill="#FF8888"/>
<rect x="555.0" y="702.04" width="23.25" height="5.597" fill="#5050FF"/>
<rect x="578.2" y="702.04" width="22.85" height="5.597" fill="#6868FF"/>
<rect x="607.3" y="702.04" width="22.75" height="5.597" fill="#FFD8D8"/>
<rect x="630.0" y="702.04" width="23.75" height="5.597" fill="#FF9898"/>
<text x="657.30" y="706.56" font-size="5.0" fill="#333" >CTBP2</text>
<rect x="502.0" y="707.59" width="23.65" height="5.597" fill="#FF9898"/>
<rect x="525.6" y="707.59" width="23.45" height="5.597" fill="#FF9898"/>
<rect x="555.0" y="707.59" width="23.25" height="5.597" fill="#6060FF"/>
<rect x="578.2" y="707.59" width="22.85" height="5.597" fill="#6868FF"/>
<rect x="607.3" y="707.59" width="22.75" height="5.597" fill="#B0B0FF"/>
<rect x="630.0" y="707.59" width="23.75" height="5.597" fill="#FF7070"/>
<text x="657.30" y="712.11" font-size="5.0" fill="#333" >NCOA1</text>
<rect x="502.0" y="713.13" width="23.65" height="5.597" fill="#8080FF"/>
<rect x="525.6" y="713.13" width="23.45" height="5.597" fill="#FF6060"/>
<rect x="555.0" y="713.13" width="23.25" height="5.597" fill="#7070FF"/>
<rect x="578.2" y="713.13" width="22.85" height="5.597" fill="#FFFFFF"/>
<rect x="607.3" y="713.13" width="22.75" height="5.597" fill="#C8C8FF"/>
<rect x="630.0" y="713.13" width="23.75" height="5.597" fill="#FF6060"/>
<text x="657.30" y="717.66" font-size="5.0" fill="#333" >RXRB</text>
<rect x="502.0" y="718.68" width="23.65" height="5.597" fill="#A0A0FF"/>
<rect x="525.6" y="718.68" width="23.45" height="5.597" fill="#FF5858"/>
<rect x="555.0" y="718.68" width="23.25" height="5.597" fill="#4848FF"/>
<rect x="578.2" y="718.68" width="22.85" height="5.597" fill="#F0F0FF"/>
<rect x="607.3" y="718.68" width="22.75" height="5.597" fill="#E8E8FF"/>
<rect x="630.0" y="718.68" width="23.75" height="5.597" fill="#FF8080"/>
<text x="657.30" y="723.20" font-size="5.0" fill="#333" >RXRA</text>
<rect x="502.0" y="724.23" width="23.65" height="5.597" fill="#A8A8FF"/>
<rect x="525.6" y="724.23" width="23.45" height="5.597" fill="#A8A8FF"/>
<rect x="555.0" y="724.23" width="23.25" height="5.597" fill="#C0C0FF"/>
<rect x="578.2" y="724.23" width="22.85" height="5.597" fill="#E0E0FF"/>
<rect x="607.3" y="724.23" width="22.75" height="5.597" fill="#FFFFFF"/>
<rect x="630.0" y="724.23" width="23.75" height="5.597" fill="#FF0000"/>
<text x="657.30" y="728.75" font-size="5.0" fill="#333" >TRIP4</text>
<rect x="502.0" y="729.77" width="23.65" height="5.597" fill="#B8B8FF"/>
<rect x="525.6" y="729.77" width="23.45" height="5.597" fill="#B8B8FF"/>
<rect x="555.0" y="729.77" width="23.25" height="5.597" fill="#C8C8FF"/>
<rect x="578.2" y="729.77" width="22.85" height="5.597" fill="#C8C8FF"/>
<rect x="607.3" y="729.77" width="22.75" height="5.597" fill="#A8A8FF"/>
<rect x="630.0" y="729.77" width="23.75" height="5.597" fill="#FF0000"/>
<text x="657.30" y="734.30" font-size="5.0" fill="#333" >RB1</text>
<rect x="502.0" y="735.32" width="23.65" height="5.597" fill="#A8A8FF"/>
<rect x="525.6" y="735.32" width="23.45" height="5.597" fill="#A8A8FF"/>
<rect x="555.0" y="735.32" width="23.25" height="5.597" fill="#A8A8FF"/>
<rect x="578.2" y="735.32" width="22.85" height="5.597" fill="#A8A8FF"/>
<rect x="607.3" y="735.32" width="22.75" height="5.597" fill="#FF5858"/>
<rect x="630.0" y="735.32" width="23.75" height="5.597" fill="#FF4848"/>
<text x="657.30" y="739.84" font-size="5.0" fill="#333" >RARG</text>
<rect x="502.0" y="740.87" width="23.65" height="5.597" fill="#A8A8FF"/>
<rect x="525.6" y="740.87" width="23.45" height="5.597" fill="#A8A8FF"/>
<rect x="555.0" y="740.87" width="23.25" height="5.597" fill="#A8A8FF"/>
<rect x="578.2" y="740.87" width="22.85" height="5.597" fill="#A8A8FF"/>
<rect x="607.3" y="740.87" width="22.75" height="5.597" fill="#FF5050"/>
<rect x="630.0" y="740.87" width="23.75" height="5.597" fill="#FF5050"/>
<text x="657.30" y="745.39" font-size="5.0" fill="#333" >PKN1</text>
<rect x="502.0" y="746.41" width="23.65" height="5.597" fill="#8888FF"/>
<rect x="525.6" y="746.41" width="23.45" height="5.597" fill="#B0B0FF"/>
<rect x="555.0" y="746.41" width="23.25" height="5.597" fill="#B8B8FF"/>
<rect x="578.2" y="746.41" width="22.85" height="5.597" fill="#A0A0FF"/>
<rect x="607.3" y="746.41" width="22.75" height="5.597" fill="#FF5050"/>
<rect x="630.0" y="746.41" width="23.75" height="5.597" fill="#FF5858"/>
<text x="657.30" y="750.94" font-size="5.0" fill="#333" >STRN</text>
<rect x="502.0" y="751.96" width="23.65" height="5.597" fill="#8888FF"/>
<rect x="525.6" y="751.96" width="23.45" height="5.597" fill="#B8B8FF"/>
<rect x="555.0" y="751.96" width="23.25" height="5.597" fill="#FFFFFF"/>
<rect x="578.2" y="751.96" width="22.85" height="5.597" fill="#5050FF"/>
<rect x="607.3" y="751.96" width="22.75" height="5.597" fill="#FF5050"/>
<rect x="630.0" y="751.96" width="23.75" height="5.597" fill="#FF8080"/>
<text x="657.30" y="756.49" font-size="5.0" fill="#333" >NCOA6</text>
<rect x="502.0" y="757.51" width="23.65" height="5.597" fill="#B0B0FF"/>
<rect x="525.6" y="757.51" width="23.45" height="5.597" fill="#B0B0FF"/>
<rect x="555.0" y="757.51" width="23.25" height="5.597" fill="#B0B0FF"/>
<rect x="578.2" y="757.51" width="22.85" height="5.597" fill="#B0B0FF"/>
<rect x="607.3" y="757.51" width="22.75" height="5.597" fill="#FF1010"/>
<rect x="630.0" y="757.51" width="23.75" height="5.597" fill="#FFC0C0"/>
<text x="657.30" y="762.03" font-size="5.0" fill="#333" >SRC</text>
<rect x="502.0" y="763.06" width="23.65" height="5.597" fill="#F0F0FF"/>
<rect x="525.6" y="763.06" width="23.45" height="5.597" fill="#6868FF"/>
<rect x="555.0" y="763.06" width="23.25" height="5.597" fill="#FFC0C0"/>
<rect x="578.2" y="763.06" width="22.85" height="5.597" fill="#5050FF"/>
<rect x="607.3" y="763.06" width="22.75" height="5.597" fill="#FF4040"/>
<rect x="630.0" y="763.06" width="23.75" height="5.597" fill="#FFD0D0"/>
<text x="657.30" y="767.58" font-size="5.0" fill="#333" >MMS19</text>
<rect x="502.0" y="768.60" width="23.65" height="5.597" fill="#D0D0FF"/>
<rect x="525.6" y="768.60" width="23.45" height="5.597" fill="#7070FF"/>
<rect x="555.0" y="768.60" width="23.25" height="5.597" fill="#FFC0C0"/>
<rect x="578.2" y="768.60" width="22.85" height="5.597" fill="#7070FF"/>
<rect x="607.3" y="768.60" width="22.75" height="5.597" fill="#FF8080"/>
<rect x="630.0" y="768.60" width="23.75" height="5.597" fill="#FF7070"/>
<text x="657.30" y="773.13" font-size="5.0" fill="#333" >MED14</text>
<rect x="502.0" y="774.15" width="23.65" height="5.597" fill="#FFFFFF"/>
<rect x="525.6" y="774.15" width="23.45" height="5.597" fill="#A0A0FF"/>
<rect x="555.0" y="774.15" width="23.25" height="5.597" fill="#E8E8FF"/>
<rect x="578.2" y="774.15" width="22.85" height="5.597" fill="#C8C8FF"/>
<rect x="607.3" y="774.15" width="22.75" height="5.597" fill="#FF0808"/>
<rect x="630.0" y="774.15" width="23.75" height="5.597" fill="#9090FF"/>
<text x="657.30" y="778.67" font-size="5.0" fill="#333" >MED12</text>
<rect x="502.0" y="779.70" width="23.65" height="5.597" fill="#FF1515"/>
<rect x="525.6" y="779.70" width="23.45" height="5.597" fill="#F0F0FF"/>
<rect x="555.0" y="779.70" width="23.25" height="5.597" fill="#B0B0FF"/>
<rect x="578.2" y="779.70" width="22.85" height="5.597" fill="#7070FF"/>
<rect x="607.3" y="779.70" width="22.75" height="5.597" fill="#FFE8E8"/>
<rect x="630.0" y="779.70" width="23.75" height="5.597" fill="#C0C0FF"/>
<text x="657.30" y="784.22" font-size="5.0" fill="#333" >MED16</text>
<rect x="502.0" y="785.24" width="23.65" height="5.597" fill="#FF4848"/>
<rect x="525.6" y="785.24" width="23.45" height="5.597" fill="#E0E0FF"/>
<rect x="555.0" y="785.24" width="23.25" height="5.597" fill="#3030FF"/>
<rect x="578.2" y="785.24" width="22.85" height="5.597" fill="#A0A0FF"/>
<rect x="607.3" y="785.24" width="22.75" height="5.597" fill="#FFE8E8"/>
<rect x="630.0" y="785.24" width="23.75" height="5.597" fill="#FFB0B0"/>
<text x="657.30" y="789.77" font-size="5.0" fill="#333" >MED13</text>
<rect x="502.0" y="790.79" width="23.65" height="5.597" fill="#FF5050"/>
<rect x="525.6" y="790.79" width="23.45" height="5.597" fill="#FF8080"/>
<rect x="555.0" y="790.79" width="23.25" height="5.597" fill="#7070FF"/>
<rect x="578.2" y="790.79" width="22.85" height="5.597" fill="#8080FF"/>
<rect x="607.3" y="790.79" width="22.75" height="5.597" fill="#FFE8E8"/>
<rect x="630.0" y="790.79" width="23.75" height="5.597" fill="#9090FF"/>
<text x="657.30" y="795.31" font-size="5.0" fill="#333" >GRIP1</text>
<rect x="502.0" y="796.34" width="23.65" height="5.597" fill="#FF6060"/>
<rect x="525.6" y="796.34" width="23.45" height="5.597" fill="#FF6868"/>
<rect x="555.0" y="796.34" width="23.25" height="5.597" fill="#7070FF"/>
<rect x="578.2" y="796.34" width="22.85" height="5.597" fill="#7070FF"/>
<rect x="607.3" y="796.34" width="22.75" height="5.597" fill="#E0E0FF"/>
<rect x="630.0" y="796.34" width="23.75" height="5.597" fill="#F0F0FF"/>
<text x="657.30" y="800.86" font-size="5.0" fill="#333" >BCAS3</text>
<rect x="502.0" y="801.88" width="23.65" height="5.597" fill="#FF9898"/>
<rect x="525.6" y="801.88" width="23.45" height="5.597" fill="#FF7070"/>
<rect x="555.0" y="801.88" width="23.25" height="5.597" fill="#6868FF"/>
<rect x="578.2" y="801.88" width="22.85" height="5.597" fill="#5050FF"/>
<rect x="607.3" y="801.88" width="22.75" height="5.597" fill="#FFB0B0"/>
<rect x="630.0" y="801.88" width="23.75" height="5.597" fill="#F0F0FF"/>
<text x="657.30" y="806.41" font-size="5.0" fill="#333" >STAT3</text>
<rect x="502.0" y="807.43" width="23.65" height="5.597" fill="#FF9898"/>
<rect x="525.6" y="807.43" width="23.45" height="5.597" fill="#FFB0B0"/>
<rect x="555.0" y="807.43" width="23.25" height="5.597" fill="#1818FF"/>
<rect x="578.2" y="807.43" width="22.85" height="5.597" fill="#9090FF"/>
<rect x="607.3" y="807.43" width="22.75" height="5.597" fill="#FFA0A0"/>
<rect x="630.0" y="807.43" width="23.75" height="5.597" fill="#FFD0D0"/>
<text x="657.30" y="811.96" font-size="5.0" fill="#333" >PIAS1</text>
<rect x="502.0" y="812.98" width="23.65" height="5.597" fill="#FFB0B0"/>
<rect x="525.6" y="812.98" width="23.45" height="5.597" fill="#FFB0B0"/>
<rect x="555.0" y="812.98" width="23.25" height="5.597" fill="#0000FF"/>
<rect x="578.2" y="812.98" width="22.85" height="5.597" fill="#D0D0FF"/>
<rect x="607.3" y="812.98" width="22.75" height="5.597" fill="#FFA8A8"/>
<rect x="630.0" y="812.98" width="23.75" height="5.597" fill="#FFB8B8"/>
<text x="657.30" y="817.50" font-size="5.0" fill="#333" >KAT5</text>
<rect x="502.0" y="818.53" width="23.65" height="5.597" fill="#FFA8A8"/>
<rect x="525.6" y="818.53" width="23.45" height="5.597" fill="#FFB0B0"/>
<rect x="555.0" y="818.53" width="23.25" height="5.597" fill="#0808FF"/>
<rect x="578.2" y="818.53" width="22.85" height="5.597" fill="#D0D0FF"/>
<rect x="607.3" y="818.53" width="22.75" height="5.597" fill="#FF8080"/>
<rect x="630.0" y="818.53" width="23.75" height="5.597" fill="#D8D8FF"/>
<text x="657.30" y="823.05" font-size="5.0" fill="#333" >NUP62</text>
<rect x="502.0" y="824.07" width="23.65" height="5.597" fill="#FFA8A8"/>
<rect x="525.6" y="824.07" width="23.45" height="5.597" fill="#FF1010"/>
<rect x="555.0" y="824.07" width="23.25" height="5.597" fill="#A8A8FF"/>
<rect x="578.2" y="824.07" width="22.85" height="5.597" fill="#A0A0FF"/>
<rect x="607.3" y="824.07" width="22.75" height="5.597" fill="#A0A0FF"/>
<rect x="630.0" y="824.07" width="23.75" height="5.597" fill="#A0A0FF"/>
<text x="657.30" y="828.60" font-size="5.0" fill="#333" >CDK7</text>
<rect x="502.0" y="829.62" width="23.65" height="5.597" fill="#FFD0D0"/>
<rect x="525.6" y="829.62" width="23.45" height="5.597" fill="#FF0000"/>
<rect x="555.0" y="829.62" width="23.25" height="5.597" fill="#C0C0FF"/>
<rect x="578.2" y="829.62" width="22.85" height="5.597" fill="#8888FF"/>
<rect x="607.3" y="829.62" width="22.75" height="5.597" fill="#B8B8FF"/>
<rect x="630.0" y="829.62" width="23.75" height="5.597" fill="#C0C0FF"/>
<text x="657.30" y="834.14" font-size="5.0" fill="#333" >CALR</text>
<rect x="502.0" y="835.17" width="23.65" height="5.597" fill="#D0D0FF"/>
<rect x="525.6" y="835.17" width="23.45" height="5.597" fill="#FF0000"/>
<rect x="555.0" y="835.17" width="23.25" height="5.597" fill="#C0C0FF"/>
<rect x="578.2" y="835.17" width="22.85" height="5.597" fill="#B0B0FF"/>
<rect x="607.3" y="835.17" width="22.75" height="5.597" fill="#C0C0FF"/>
<rect x="630.0" y="835.17" width="23.75" height="5.597" fill="#C0C0FF"/>
<text x="657.30" y="839.69" font-size="5.0" fill="#333" >HMGA1</text>
<rect x="502.0" y="840.71" width="23.65" height="5.597" fill="#FF5050"/>
<rect x="525.6" y="840.71" width="23.45" height="5.597" fill="#FF6060"/>
<rect x="555.0" y="840.71" width="23.25" height="5.597" fill="#FFFFFF"/>
<rect x="578.2" y="840.71" width="22.85" height="5.597" fill="#9898FF"/>
<rect x="607.3" y="840.71" width="22.75" height="5.597" fill="#9898FF"/>
<rect x="630.0" y="840.71" width="23.75" height="5.597" fill="#8888FF"/>
<text x="657.30" y="845.24" font-size="5.0" fill="#333" >HSD17B10</text>
<rect x="502.0" y="846.26" width="23.65" height="5.597" fill="#FF6060"/>
<rect x="525.6" y="846.26" width="23.45" height="5.597" fill="#FF4848"/>
<rect x="555.0" y="846.26" width="23.25" height="5.597" fill="#B8B8FF"/>
<rect x="578.2" y="846.26" width="22.85" height="5.597" fill="#9898FF"/>
<rect x="607.3" y="846.26" width="22.75" height="5.597" fill="#B0B0FF"/>
<rect x="630.0" y="846.26" width="23.75" height="5.597" fill="#8888FF"/>
<text x="657.30" y="850.78" font-size="5.0" fill="#333" >DDX54</text>
<rect x="502.0" y="851.81" width="23.65" height="5.597" fill="#FF6868"/>
<rect x="525.6" y="851.81" width="23.45" height="5.597" fill="#FF8080"/>
<rect x="555.0" y="851.81" width="23.25" height="5.597" fill="#E0E0FF"/>
<rect x="578.2" y="851.81" width="22.85" height="5.597" fill="#9898FF"/>
<rect x="607.3" y="851.81" width="22.75" height="5.597" fill="#2828FF"/>
<rect x="630.0" y="851.81" width="23.75" height="5.597" fill="#FFE0E0"/>
<text x="657.30" y="856.33" font-size="5.0" fill="#333" >PARK7</text>
<rect x="502.0" y="857.36" width="23.65" height="5.597" fill="#F0F0FF"/>
<rect x="525.6" y="857.36" width="23.45" height="5.597" fill="#FF2828"/>
<rect x="555.0" y="857.36" width="23.25" height="5.597" fill="#E8E8FF"/>
<rect x="578.2" y="857.36" width="22.85" height="5.597" fill="#E8E8FF"/>
<rect x="607.3" y="857.36" width="22.75" height="5.597" fill="#2828FF"/>
<rect x="630.0" y="857.36" width="23.75" height="5.597" fill="#FFE0E0"/>
<text x="657.30" y="861.88" font-size="5.0" fill="#333" >GTF2B</text>
<rect x="502.0" y="862.90" width="23.65" height="5.597" fill="#FFB8B8"/>
<rect x="525.6" y="862.90" width="23.45" height="5.597" fill="#FFB8B8"/>
<rect x="555.0" y="862.90" width="23.25" height="5.597" fill="#FFB0B0"/>
<rect x="578.2" y="862.90" width="22.85" height="5.597" fill="#FFB0B0"/>
<rect x="607.3" y="862.90" width="22.75" height="5.597" fill="#9898FF"/>
<rect x="630.0" y="862.90" width="23.75" height="5.597" fill="#0808FF"/>
<text x="657.30" y="867.43" font-size="5.0" fill="#333" >TCF7L2</text>
<rect x="502.0" y="868.45" width="23.65" height="5.597" fill="#FFB0B0"/>
<rect x="525.6" y="868.45" width="23.45" height="5.597" fill="#FFB8B8"/>
<rect x="555.0" y="868.45" width="23.25" height="5.597" fill="#FFA0A0"/>
<rect x="578.2" y="868.45" width="22.85" height="5.597" fill="#FFC8C8"/>
<rect x="607.3" y="868.45" width="22.75" height="5.597" fill="#7878FF"/>
<rect x="630.0" y="868.45" width="23.75" height="5.597" fill="#1818FF"/>
<text x="657.30" y="872.97" font-size="5.0" fill="#333" >BRCA1</text>
<rect x="502.0" y="874.00" width="23.65" height="5.597" fill="#FF9898"/>
<rect x="525.6" y="874.00" width="23.45" height="5.597" fill="#D8D8FF"/>
<rect x="555.0" y="874.00" width="23.25" height="5.597" fill="#FF8080"/>
<rect x="578.2" y="874.00" width="22.85" height="5.597" fill="#FFD0D0"/>
<rect x="607.3" y="874.00" width="22.75" height="5.597" fill="#1010FF"/>
<rect x="630.0" y="874.00" width="23.75" height="5.597" fill="#C0C0FF"/>
<text x="657.30" y="878.52" font-size="5.0" fill="#333" >RAN</text>
<rect x="502.0" y="879.54" width="23.65" height="5.597" fill="#FFC8C8"/>
<rect x="525.6" y="879.54" width="23.45" height="5.597" fill="#FFB8B8"/>
<rect x="555.0" y="879.54" width="23.25" height="5.597" fill="#FF5050"/>
<rect x="578.2" y="879.54" width="22.85" height="5.597" fill="#4848FF"/>
<rect x="607.3" y="879.54" width="22.75" height="5.597" fill="#E8E8FF"/>
<rect x="630.0" y="879.54" width="23.75" height="5.597" fill="#7070FF"/>
<text x="657.30" y="884.07" font-size="5.0" fill="#333" >PHB2</text>
<rect x="502.0" y="885.09" width="23.65" height="5.597" fill="#FFA0A0"/>
<rect x="525.6" y="885.09" width="23.45" height="5.597" fill="#FFE0E0"/>
<rect x="555.0" y="885.09" width="23.25" height="5.597" fill="#FF6060"/>
<rect x="578.2" y="885.09" width="22.85" height="5.597" fill="#9898FF"/>
<rect x="607.3" y="885.09" width="22.75" height="5.597" fill="#E8E8FF"/>
<rect x="630.0" y="885.09" width="23.75" height="5.597" fill="#2828FF"/>
<text x="657.30" y="889.61" font-size="5.0" fill="#333" >ACTN4</text>
<rect x="493.7" y="496.80" width="5.2" height="83.20" fill="#00FFFF"/>
<rect x="493.7" y="580.00" width="5.2" height="66.56" fill="#FFFF00"/>
<rect x="493.7" y="646.57" width="5.2" height="88.75" fill="#0000FF"/>
<rect x="493.7" y="735.32" width="5.2" height="44.38" fill="#FF00FF"/>
<rect x="493.7" y="779.70" width="5.2" height="83.20" fill="#00FF00"/>
<rect x="493.7" y="862.90" width="5.2" height="27.73" fill="#FF1493"/>
<text x="517" y="491.8" font-size="9" font-weight="bold" textLength="18.5" lengthAdjust="spacingAndGlyphs">MCF7</text>
<text x="556.1" y="491.8" font-size="9" font-weight="bold"><tspan textLength="35.3" lengthAdjust="spacingAndGlyphs">MCF7 LTED</tspan><tspan font-size="5.2" dy="-3.2" textLength="6.5" lengthAdjust="spacingAndGlyphs">wt</tspan></text>
<text x="605.4" y="491.8" font-size="9" font-weight="bold"><tspan textLength="35.3" lengthAdjust="spacingAndGlyphs">MCF7 LTED</tspan><tspan font-size="5.2" dy="-3.2" textLength="15.5" lengthAdjust="spacingAndGlyphs">Y537C</tspan></text>
<text x="513.80" y="899.40" font-size="7.6" fill="#111" text-anchor="middle" textLength="17" lengthAdjust="spacingAndGlyphs" >FULV</text>
<text x="513.80" y="909.30" font-size="7.6" fill="#111" text-anchor="middle" textLength="20.5" lengthAdjust="spacingAndGlyphs" >vs Ctrl</text>
<text x="537.30" y="899.40" font-size="7.6" fill="#111" text-anchor="middle" textLength="7.5" lengthAdjust="spacingAndGlyphs" >EL</text>
<text x="537.30" y="909.30" font-size="7.6" fill="#111" text-anchor="middle" textLength="20.5" lengthAdjust="spacingAndGlyphs" >vs Ctrl</text>
<text x="566.60" y="899.40" font-size="7.6" fill="#111" text-anchor="middle" textLength="17" lengthAdjust="spacingAndGlyphs" >FULV</text>
<text x="566.60" y="909.30" font-size="7.6" fill="#111" text-anchor="middle" textLength="20.5" lengthAdjust="spacingAndGlyphs" >vs Ctrl</text>
<text x="589.60" y="899.40" font-size="7.6" fill="#111" text-anchor="middle" textLength="7.5" lengthAdjust="spacingAndGlyphs" >EL</text>
<text x="589.60" y="909.30" font-size="7.6" fill="#111" text-anchor="middle" textLength="20.5" lengthAdjust="spacingAndGlyphs" >vs Ctrl</text>
<text x="618.65" y="899.40" font-size="7.6" fill="#111" text-anchor="middle" textLength="17" lengthAdjust="spacingAndGlyphs" >FULV</text>
<text x="618.65" y="909.30" font-size="7.6" fill="#111" text-anchor="middle" textLength="20.5" lengthAdjust="spacingAndGlyphs" >vs Ctrl</text>
<text x="641.85" y="899.40" font-size="7.6" fill="#111" text-anchor="middle" textLength="7.5" lengthAdjust="spacingAndGlyphs" >EL</text>
<text x="641.85" y="909.30" font-size="7.6" fill="#111" text-anchor="middle" textLength="20.5" lengthAdjust="spacingAndGlyphs" >vs Ctrl</text>
<path d="M489.60 499.57L489.60 505.12M489.60 499.57L493.00 499.57M489.60 505.12L493.00 505.12M490.60 510.67L490.60 516.21M490.60 510.67L493.00 510.67M490.60 516.21L493.00 516.21M482.30 502.35L482.30 513.44M482.30 502.35L489.60 502.35M482.30 513.44L490.60 513.44M491.30 521.76L491.30 527.31M491.30 521.76L493.00 521.76M491.30 527.31L493.00 527.31M489.40 524.53L489.40 532.86M489.40 524.53L491.30 524.53M489.40 532.86L493.00 532.86M486.20 528.70L486.20 538.40M486.20 528.70L489.40 528.70M486.20 538.40L493.00 538.40M477.30 507.89L477.30 533.55M477.30 507.89L482.30 507.89M477.30 533.55L486.20 533.55M492.50 543.95L492.50 549.50M492.50 543.95L493.00 543.95M492.50 549.50L493.00 549.50M491.30 546.72L491.30 555.04M491.30 546.72L492.50 546.72M491.30 555.04L493.00 555.04M492.50 560.59L492.50 566.14M492.50 560.59L493.00 560.59M492.50 566.14L493.00 566.14M489.60 550.88L489.60 563.36M489.60 550.88L491.30 550.88M489.60 563.36L492.50 563.36M490.60 571.68L490.60 577.23M490.60 571.68L493.00 571.68M490.60 577.23L493.00 577.23M486.50 557.12L486.50 574.46M486.50 557.12L489.60 557.12M486.50 574.46L490.60 574.46M469.20 520.72L469.20 565.79M469.20 520.72L477.30 520.72M469.20 565.79L486.50 565.79M492.00 582.78L492.00 588.33M492.00 582.78L493.00 582.78M492.00 588.33L493.00 588.33M491.00 585.55L491.00 593.87M491.00 585.55L492.00 585.55M491.00 593.87L493.00 593.87M489.60 589.71L489.60 599.42M489.60 589.71L491.00 589.71M489.60 599.42L493.00 599.42M492.00 604.97L492.00 610.51M492.00 604.97L493.00 604.97M492.00 610.51L493.00 610.51M491.00 607.74L491.00 616.06M491.00 607.74L492.00 607.74M491.00 616.06L493.00 616.06M489.60 611.90L489.60 621.61M489.60 611.90L491.00 611.90M489.60 621.61L493.00 621.61M486.20 594.57L486.20 616.75M486.20 594.57L489.60 594.57M486.20 616.75L489.60 616.75M492.00 627.15L492.00 632.70M492.00 627.15L493.00 627.15M492.00 632.70L493.00 632.70M490.60 629.93L490.60 638.25M490.60 629.93L492.00 629.93M490.60 638.25L493.00 638.25M482.00 605.66L482.00 634.09M482.00 605.66L486.20 605.66M482.00 634.09L490.60 634.09M480.40 619.87L480.40 643.80M480.40 619.87L482.00 619.87M480.40 643.80L493.00 643.80M458.50 543.26L458.50 631.83M458.50 543.26L469.20 543.26M458.50 631.83L480.40 631.83M488.50 649.34L488.50 654.89M488.50 649.34L493.00 649.34M488.50 654.89L493.00 654.89M484.80 652.12L484.80 660.44M484.80 652.12L488.50 652.12M484.80 660.44L493.00 660.44M491.00 665.98L491.00 671.53M491.00 665.98L493.00 665.98M491.00 671.53L493.00 671.53M492.00 682.62L492.00 688.17M492.00 682.62L493.00 682.62M492.00 688.17L493.00 688.17M490.00 677.08L490.00 685.40M490.00 677.08L493.00 677.08M490.00 685.40L492.00 685.40M488.00 668.76L488.00 681.24M488.00 668.76L491.00 668.76M488.00 681.24L490.00 681.24M477.20 656.28L477.20 675.00M477.20 656.28L484.80 656.28M477.20 675.00L488.00 675.00M492.30 693.72L492.30 699.27M492.30 693.72L493.00 693.72M492.30 699.27L493.00 699.27M491.30 696.49L491.30 704.81M491.30 696.49L492.30 696.49M491.30 704.81L493.00 704.81M489.60 700.65L489.60 710.36M489.60 700.65L491.30 700.65M489.60 710.36L493.00 710.36M491.60 715.91L491.60 721.45M491.60 715.91L493.00 715.91M491.60 721.45L493.00 721.45M484.80 705.51L484.80 718.68M484.80 705.51L489.60 705.51M484.80 718.68L491.60 718.68M491.60 727.00L491.60 732.55M491.60 727.00L493.00 727.00M491.60 732.55L493.00 732.55M479.40 712.09L479.40 729.77M479.40 712.09L484.80 712.09M479.40 729.77L491.60 729.77M467.30 665.64L467.30 720.93M467.30 665.64L477.20 665.64M467.30 720.93L479.40 720.93M491.50 738.09L491.50 743.64M491.50 738.09L493.00 738.09M491.50 743.64L493.00 743.64M491.80 749.19L491.80 754.74M491.80 749.19L493.00 749.19M491.80 754.74L493.00 754.74M490.40 740.87L490.40 751.96M490.40 740.87L491.50 740.87M490.40 751.96L491.80 751.96M492.30 760.28L492.30 765.83M492.30 760.28L493.00 760.28M492.30 765.83L493.00 765.83M491.50 763.06L491.50 771.38M491.50 763.06L492.30 763.06M491.50 771.38L493.00 771.38M486.20 746.41L486.20 767.22M486.20 746.41L490.40 746.41M486.20 767.22L491.50 767.22M479.90 756.82L479.90 776.92M479.90 756.82L486.20 756.82M479.90 776.92L493.00 776.92M463.20 693.29L463.20 766.87M463.20 693.29L467.30 693.29M463.20 766.87L479.90 766.87M453.10 587.55L453.10 730.08M453.10 587.55L458.50 587.55M453.10 730.08L463.20 730.08M487.70 782.47L487.70 788.02M487.70 782.47L493.00 782.47M487.70 788.02L493.00 788.02M491.00 793.56L491.00 799.11M491.00 793.56L493.00 793.56M491.00 799.11L493.00 799.11M490.10 796.34L490.10 804.66M490.10 796.34L491.00 796.34M490.10 804.66L493.00 804.66M485.20 785.24L485.20 800.50M485.20 785.24L487.70 785.24M485.20 800.50L490.10 800.50M492.00 810.21L492.00 815.75M492.00 810.21L493.00 810.21M492.00 815.75L493.00 815.75M490.80 812.98L490.80 821.30M490.80 812.98L492.00 812.98M490.80 821.30L493.00 821.30M481.60 792.87L481.60 817.14M481.60 792.87L485.20 792.87M481.60 817.14L490.80 817.14M491.50 826.85L491.50 832.39M491.50 826.85L493.00 826.85M491.50 832.39L493.00 832.39M490.30 829.62L490.30 837.94M490.30 829.62L491.50 829.62M490.30 837.94L493.00 837.94M491.30 843.49L491.30 849.03M491.30 843.49L493.00 843.49M491.30 849.03L493.00 849.03M484.50 833.78L484.50 846.26M484.50 833.78L490.30 833.78M484.50 846.26L491.30 846.26M488.40 854.58L488.40 860.13M488.40 854.58L493.00 854.58M488.40 860.13L493.00 860.13M483.60 840.02L483.60 857.36M483.60 840.02L484.50 840.02M483.60 857.36L488.40 857.36M470.30 805.01L470.30 848.69M470.30 805.01L481.60 805.01M470.30 848.69L483.60 848.69M492.50 865.68L492.50 871.22M492.50 865.68L493.00 865.68M492.50 871.22L493.00 871.22M484.30 868.45L484.30 876.77M484.30 868.45L492.50 868.45M484.30 876.77L493.00 876.77M490.80 882.32L490.80 887.86M490.80 882.32L493.00 882.32M490.80 887.86L493.00 887.86M480.50 872.61L480.50 885.09M480.50 872.61L484.30 872.61M480.50 885.09L490.80 885.09M461.50 826.85L461.50 878.85M461.50 826.85L470.30 826.85M461.50 878.85L480.50 878.85M452.50 658.81L452.50 852.85M452.50 658.81L453.10 658.81M452.50 852.85L461.50 852.85" stroke="#222" stroke-width="0.7" fill="none"/></svg></body></html>
